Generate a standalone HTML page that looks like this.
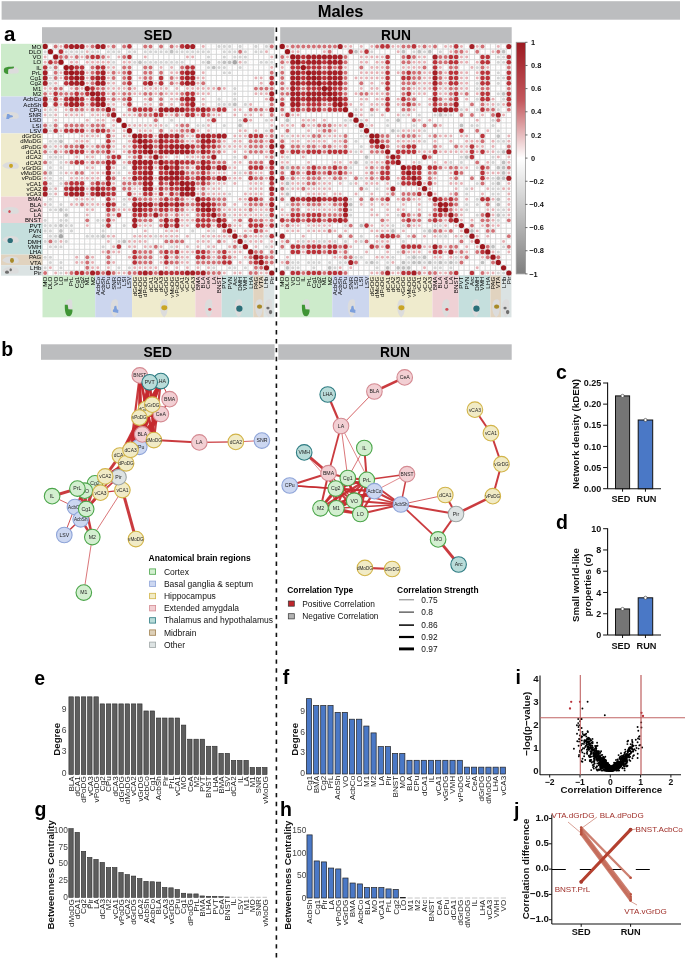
<!DOCTYPE html>
<html><head><meta charset="utf-8"><style>
html,body{margin:0;padding:0;background:#fff;}
svg{display:block;font-family:"Liberation Sans", sans-serif;filter:blur(0.3px);}
</style></head><body>
<svg width="685" height="959" viewBox="0 0 685 959">
<rect width="685" height="959" fill="#fff"/>
<rect x="1.6" y="1.2" width="678.4" height="18.5" fill="#bcbdbf"/>
<text x="340.60" y="17.20" font-size="16.5" font-weight="bold" text-anchor="middle" fill="#000">Males</text>
<text x="4.00" y="40.50" font-size="20.5" font-weight="bold" fill="#000">a</text>
<rect x="42" y="27.2" width="232.4" height="16" fill="#bcbdbf"/>
<rect x="280.2" y="27.2" width="231.5" height="16" fill="#bcbdbf"/>
<text x="158.00" y="39.70" font-size="13.8" font-weight="bold" text-anchor="middle" fill="#000">SED</text>
<text x="396.00" y="39.70" font-size="13.8" font-weight="bold" text-anchor="middle" fill="#000">RUN</text>
<rect x="42.5" y="43.8" width="231.88" height="231.88" fill="#fff"/>
<path d="M42.50 43.80V275.68M42.50 43.80H274.38M47.77 43.80V275.68M42.50 49.07H274.38M53.04 43.80V275.68M42.50 54.34H274.38M58.31 43.80V275.68M42.50 59.61H274.38M63.58 43.80V275.68M42.50 64.88H274.38M68.85 43.80V275.68M42.50 70.15H274.38M74.12 43.80V275.68M42.50 75.42H274.38M79.39 43.80V275.68M42.50 80.69H274.38M84.66 43.80V275.68M42.50 85.96H274.38M89.93 43.80V275.68M42.50 91.23H274.38M95.20 43.80V275.68M42.50 96.50H274.38M100.47 43.80V275.68M42.50 101.77H274.38M105.74 43.80V275.68M42.50 107.04H274.38M111.01 43.80V275.68M42.50 112.31H274.38M116.28 43.80V275.68M42.50 117.58H274.38M121.55 43.80V275.68M42.50 122.85H274.38M126.82 43.80V275.68M42.50 128.12H274.38M132.09 43.80V275.68M42.50 133.39H274.38M137.36 43.80V275.68M42.50 138.66H274.38M142.63 43.80V275.68M42.50 143.93H274.38M147.90 43.80V275.68M42.50 149.20H274.38M153.17 43.80V275.68M42.50 154.47H274.38M158.44 43.80V275.68M42.50 159.74H274.38M163.71 43.80V275.68M42.50 165.01H274.38M168.98 43.80V275.68M42.50 170.28H274.38M174.25 43.80V275.68M42.50 175.55H274.38M179.52 43.80V275.68M42.50 180.82H274.38M184.79 43.80V275.68M42.50 186.09H274.38M190.06 43.80V275.68M42.50 191.36H274.38M195.33 43.80V275.68M42.50 196.63H274.38M200.60 43.80V275.68M42.50 201.90H274.38M205.87 43.80V275.68M42.50 207.17H274.38M211.14 43.80V275.68M42.50 212.44H274.38M216.41 43.80V275.68M42.50 217.71H274.38M221.68 43.80V275.68M42.50 222.98H274.38M226.95 43.80V275.68M42.50 228.25H274.38M232.22 43.80V275.68M42.50 233.52H274.38M237.49 43.80V275.68M42.50 238.79H274.38M242.76 43.80V275.68M42.50 244.06H274.38M248.03 43.80V275.68M42.50 249.33H274.38M253.30 43.80V275.68M42.50 254.60H274.38M258.57 43.80V275.68M42.50 259.87H274.38M263.84 43.80V275.68M42.50 265.14H274.38M269.11 43.80V275.68M42.50 270.41H274.38M274.38 43.80V275.68M42.50 275.68H274.38" stroke="#d4d4d4" stroke-width="0.9" fill="none"/>
<circle cx="45.13" cy="46.43" r="2.63" fill="#9b161c"/>
<circle cx="50.41" cy="46.43" r="0.65" fill="#fbf1f1"/>
<circle cx="55.67" cy="46.43" r="1.95" fill="#d26f74"/>
<circle cx="60.95" cy="46.43" r="1.49" fill="#e8afb3"/>
<circle cx="66.22" cy="46.43" r="2.33" fill="#ba333a"/>
<circle cx="71.48" cy="46.43" r="2.54" fill="#a51f26"/>
<circle cx="76.75" cy="46.43" r="2.54" fill="#a51f26"/>
<circle cx="82.03" cy="46.43" r="2.54" fill="#a51f26"/>
<circle cx="87.29" cy="46.43" r="1.49" fill="#e8afb3"/>
<circle cx="92.56" cy="46.43" r="1.95" fill="#d26f74"/>
<circle cx="97.83" cy="46.43" r="2.54" fill="#a51f26"/>
<circle cx="103.10" cy="46.43" r="2.54" fill="#a51f26"/>
<circle cx="108.38" cy="46.43" r="1.49" fill="#e8afb3"/>
<circle cx="113.64" cy="46.43" r="1.95" fill="#d26f74"/>
<circle cx="118.91" cy="46.43" r="0.65" fill="#fbf1f1"/>
<circle cx="124.18" cy="46.43" r="1.95" fill="#d26f74"/>
<circle cx="129.45" cy="46.43" r="2.33" fill="#ba333a"/>
<circle cx="134.72" cy="46.43" r="0.65" fill="#fbf1f1"/>
<circle cx="140.00" cy="46.43" r="0.65" fill="#fbf1f1"/>
<circle cx="145.26" cy="46.43" r="1.95" fill="#d26f74"/>
<circle cx="150.53" cy="46.43" r="1.95" fill="#d26f74"/>
<circle cx="155.81" cy="46.43" r="0.65" fill="#fbf1f1"/>
<circle cx="161.07" cy="46.43" r="1.95" fill="#d26f74"/>
<circle cx="166.34" cy="46.43" r="0.65" fill="#fbf1f1"/>
<circle cx="171.61" cy="46.43" r="1.95" fill="#d26f74"/>
<circle cx="176.88" cy="46.43" r="1.49" fill="#e8afb3"/>
<circle cx="182.16" cy="46.43" r="2.33" fill="#ba333a"/>
<circle cx="187.42" cy="46.43" r="2.54" fill="#a51f26"/>
<circle cx="192.69" cy="46.43" r="2.54" fill="#a51f26"/>
<circle cx="197.96" cy="46.43" r="0.65" fill="#fbf1f1"/>
<circle cx="203.23" cy="46.43" r="1.49" fill="#e8afb3"/>
<circle cx="208.50" cy="46.43" r="0.65" fill="#fbf1f1"/>
<circle cx="213.77" cy="46.43" r="0.65" fill="#fbf1f1"/>
<circle cx="219.04" cy="46.43" r="1.56" fill="#d2d2d2"/>
<circle cx="224.31" cy="46.43" r="1.56" fill="#d2d2d2"/>
<circle cx="229.58" cy="46.43" r="1.56" fill="#d2d2d2"/>
<circle cx="234.85" cy="46.43" r="0.65" fill="#fbf1f1"/>
<circle cx="240.12" cy="46.43" r="1.56" fill="#d2d2d2"/>
<circle cx="245.39" cy="46.43" r="0.65" fill="#fbf1f1"/>
<circle cx="250.66" cy="46.43" r="0.65" fill="#fbf1f1"/>
<circle cx="255.93" cy="46.43" r="1.56" fill="#d2d2d2"/>
<circle cx="261.20" cy="46.43" r="0.65" fill="#fbf1f1"/>
<circle cx="266.48" cy="46.43" r="1.56" fill="#d2d2d2"/>
<circle cx="271.75" cy="46.43" r="1.95" fill="#d26f74"/>
<circle cx="45.13" cy="51.70" r="1.56" fill="#d2d2d2"/>
<circle cx="50.41" cy="51.70" r="2.63" fill="#9b161c"/>
<circle cx="55.67" cy="51.70" r="0.65" fill="#fbf1f1"/>
<circle cx="60.95" cy="51.70" r="2.33" fill="#ba333a"/>
<circle cx="66.22" cy="51.70" r="1.56" fill="#d2d2d2"/>
<circle cx="71.48" cy="51.70" r="1.56" fill="#d2d2d2"/>
<circle cx="76.75" cy="51.70" r="1.56" fill="#d2d2d2"/>
<circle cx="82.03" cy="51.70" r="1.56" fill="#d2d2d2"/>
<circle cx="87.29" cy="51.70" r="1.49" fill="#e8afb3"/>
<circle cx="92.56" cy="51.70" r="1.56" fill="#d2d2d2"/>
<circle cx="97.83" cy="51.70" r="1.56" fill="#d2d2d2"/>
<circle cx="103.10" cy="51.70" r="0.65" fill="#fbf1f1"/>
<circle cx="108.38" cy="51.70" r="1.56" fill="#d2d2d2"/>
<circle cx="113.64" cy="51.70" r="1.56" fill="#d2d2d2"/>
<circle cx="118.91" cy="51.70" r="1.56" fill="#d2d2d2"/>
<circle cx="124.18" cy="51.70" r="0.65" fill="#fbf1f1"/>
<circle cx="129.45" cy="51.70" r="1.56" fill="#d2d2d2"/>
<circle cx="134.72" cy="51.70" r="1.56" fill="#d2d2d2"/>
<circle cx="140.00" cy="51.70" r="0.65" fill="#fbf1f1"/>
<circle cx="145.26" cy="51.70" r="1.56" fill="#d2d2d2"/>
<circle cx="150.53" cy="51.70" r="1.56" fill="#d2d2d2"/>
<circle cx="155.81" cy="51.70" r="1.56" fill="#d2d2d2"/>
<circle cx="161.07" cy="51.70" r="1.56" fill="#d2d2d2"/>
<circle cx="166.34" cy="51.70" r="1.56" fill="#d2d2d2"/>
<circle cx="171.61" cy="51.70" r="1.86" fill="#bfbfbf"/>
<circle cx="176.88" cy="51.70" r="1.56" fill="#d2d2d2"/>
<circle cx="182.16" cy="51.70" r="1.56" fill="#d2d2d2"/>
<circle cx="187.42" cy="51.70" r="1.56" fill="#d2d2d2"/>
<circle cx="192.69" cy="51.70" r="1.56" fill="#d2d2d2"/>
<circle cx="197.96" cy="51.70" r="1.56" fill="#d2d2d2"/>
<circle cx="203.23" cy="51.70" r="1.56" fill="#d2d2d2"/>
<circle cx="208.50" cy="51.70" r="1.56" fill="#d2d2d2"/>
<circle cx="213.77" cy="51.70" r="0.65" fill="#fbf1f1"/>
<circle cx="219.04" cy="51.70" r="0.65" fill="#fbf1f1"/>
<circle cx="224.31" cy="51.70" r="1.56" fill="#d2d2d2"/>
<circle cx="229.58" cy="51.70" r="1.56" fill="#d2d2d2"/>
<circle cx="234.85" cy="51.70" r="1.56" fill="#d2d2d2"/>
<circle cx="240.12" cy="51.70" r="1.95" fill="#d26f74"/>
<circle cx="245.39" cy="51.70" r="1.56" fill="#d2d2d2"/>
<circle cx="250.66" cy="51.70" r="0.65" fill="#fbf1f1"/>
<circle cx="255.93" cy="51.70" r="1.56" fill="#d2d2d2"/>
<circle cx="261.20" cy="51.70" r="1.56" fill="#d2d2d2"/>
<circle cx="266.48" cy="51.70" r="1.49" fill="#e8afb3"/>
<circle cx="271.75" cy="51.70" r="0.65" fill="#fbf1f1"/>
<circle cx="45.13" cy="56.97" r="1.49" fill="#e8afb3"/>
<circle cx="50.41" cy="56.97" r="0.65" fill="#fbf1f1"/>
<circle cx="55.67" cy="56.97" r="2.63" fill="#9b161c"/>
<circle cx="60.95" cy="56.97" r="1.95" fill="#d26f74"/>
<circle cx="66.22" cy="56.97" r="1.95" fill="#d26f74"/>
<circle cx="71.48" cy="56.97" r="1.49" fill="#e8afb3"/>
<circle cx="76.75" cy="56.97" r="1.95" fill="#d26f74"/>
<circle cx="82.03" cy="56.97" r="1.49" fill="#e8afb3"/>
<circle cx="87.29" cy="56.97" r="1.95" fill="#d26f74"/>
<circle cx="92.56" cy="56.97" r="2.33" fill="#ba333a"/>
<circle cx="97.83" cy="56.97" r="2.33" fill="#ba333a"/>
<circle cx="103.10" cy="56.97" r="1.95" fill="#d26f74"/>
<circle cx="108.38" cy="56.97" r="1.49" fill="#e8afb3"/>
<circle cx="113.64" cy="56.97" r="0.65" fill="#fbf1f1"/>
<circle cx="118.91" cy="56.97" r="1.49" fill="#e8afb3"/>
<circle cx="124.18" cy="56.97" r="1.95" fill="#d26f74"/>
<circle cx="129.45" cy="56.97" r="2.33" fill="#ba333a"/>
<circle cx="134.72" cy="56.97" r="0.65" fill="#fbf1f1"/>
<circle cx="140.00" cy="56.97" r="0.65" fill="#fbf1f1"/>
<circle cx="145.26" cy="56.97" r="1.49" fill="#e8afb3"/>
<circle cx="150.53" cy="56.97" r="0.65" fill="#fbf1f1"/>
<circle cx="155.81" cy="56.97" r="0.65" fill="#fbf1f1"/>
<circle cx="161.07" cy="56.97" r="0.65" fill="#fbf1f1"/>
<circle cx="166.34" cy="56.97" r="0.65" fill="#fbf1f1"/>
<circle cx="171.61" cy="56.97" r="0.65" fill="#fbf1f1"/>
<circle cx="176.88" cy="56.97" r="0.65" fill="#fbf1f1"/>
<circle cx="182.16" cy="56.97" r="0.65" fill="#fbf1f1"/>
<circle cx="187.42" cy="56.97" r="1.49" fill="#e8afb3"/>
<circle cx="192.69" cy="56.97" r="1.49" fill="#e8afb3"/>
<circle cx="197.96" cy="56.97" r="0.65" fill="#fbf1f1"/>
<circle cx="203.23" cy="56.97" r="0.65" fill="#fbf1f1"/>
<circle cx="208.50" cy="56.97" r="1.56" fill="#d2d2d2"/>
<circle cx="213.77" cy="56.97" r="0.65" fill="#fbf1f1"/>
<circle cx="219.04" cy="56.97" r="0.65" fill="#fbf1f1"/>
<circle cx="224.31" cy="56.97" r="1.56" fill="#d2d2d2"/>
<circle cx="229.58" cy="56.97" r="0.65" fill="#fbf1f1"/>
<circle cx="234.85" cy="56.97" r="1.56" fill="#d2d2d2"/>
<circle cx="240.12" cy="56.97" r="1.56" fill="#d2d2d2"/>
<circle cx="245.39" cy="56.97" r="1.56" fill="#d2d2d2"/>
<circle cx="250.66" cy="56.97" r="0.65" fill="#fbf1f1"/>
<circle cx="255.93" cy="56.97" r="0.65" fill="#fbf1f1"/>
<circle cx="261.20" cy="56.97" r="0.65" fill="#fbf1f1"/>
<circle cx="266.48" cy="56.97" r="0.65" fill="#fbf1f1"/>
<circle cx="271.75" cy="56.97" r="1.49" fill="#e8afb3"/>
<circle cx="45.13" cy="62.24" r="1.49" fill="#e8afb3"/>
<circle cx="50.41" cy="62.24" r="2.33" fill="#ba333a"/>
<circle cx="55.67" cy="62.24" r="1.95" fill="#d26f74"/>
<circle cx="60.95" cy="62.24" r="2.63" fill="#9b161c"/>
<circle cx="66.22" cy="62.24" r="0.65" fill="#fbf1f1"/>
<circle cx="71.48" cy="62.24" r="1.49" fill="#e8afb3"/>
<circle cx="76.75" cy="62.24" r="1.49" fill="#e8afb3"/>
<circle cx="82.03" cy="62.24" r="0.65" fill="#fbf1f1"/>
<circle cx="87.29" cy="62.24" r="1.49" fill="#e8afb3"/>
<circle cx="92.56" cy="62.24" r="1.49" fill="#e8afb3"/>
<circle cx="97.83" cy="62.24" r="1.49" fill="#e8afb3"/>
<circle cx="103.10" cy="62.24" r="1.49" fill="#e8afb3"/>
<circle cx="108.38" cy="62.24" r="1.49" fill="#e8afb3"/>
<circle cx="113.64" cy="62.24" r="1.56" fill="#d2d2d2"/>
<circle cx="118.91" cy="62.24" r="0.65" fill="#fbf1f1"/>
<circle cx="124.18" cy="62.24" r="1.49" fill="#e8afb3"/>
<circle cx="129.45" cy="62.24" r="1.49" fill="#e8afb3"/>
<circle cx="134.72" cy="62.24" r="1.56" fill="#d2d2d2"/>
<circle cx="140.00" cy="62.24" r="1.86" fill="#bfbfbf"/>
<circle cx="145.26" cy="62.24" r="1.56" fill="#d2d2d2"/>
<circle cx="150.53" cy="62.24" r="1.56" fill="#d2d2d2"/>
<circle cx="155.81" cy="62.24" r="1.56" fill="#d2d2d2"/>
<circle cx="161.07" cy="62.24" r="1.56" fill="#d2d2d2"/>
<circle cx="166.34" cy="62.24" r="1.56" fill="#d2d2d2"/>
<circle cx="171.61" cy="62.24" r="1.56" fill="#d2d2d2"/>
<circle cx="176.88" cy="62.24" r="1.56" fill="#d2d2d2"/>
<circle cx="182.16" cy="62.24" r="1.56" fill="#d2d2d2"/>
<circle cx="187.42" cy="62.24" r="0.65" fill="#fbf1f1"/>
<circle cx="192.69" cy="62.24" r="0.65" fill="#fbf1f1"/>
<circle cx="197.96" cy="62.24" r="0.65" fill="#fbf1f1"/>
<circle cx="203.23" cy="62.24" r="1.56" fill="#d2d2d2"/>
<circle cx="208.50" cy="62.24" r="1.86" fill="#bfbfbf"/>
<circle cx="213.77" cy="62.24" r="0.65" fill="#fbf1f1"/>
<circle cx="219.04" cy="62.24" r="1.56" fill="#d2d2d2"/>
<circle cx="224.31" cy="62.24" r="1.86" fill="#bfbfbf"/>
<circle cx="229.58" cy="62.24" r="1.86" fill="#bfbfbf"/>
<circle cx="234.85" cy="62.24" r="2.20" fill="#a6a6a6"/>
<circle cx="240.12" cy="62.24" r="1.49" fill="#e8afb3"/>
<circle cx="245.39" cy="62.24" r="1.56" fill="#d2d2d2"/>
<circle cx="250.66" cy="62.24" r="0.65" fill="#fbf1f1"/>
<circle cx="255.93" cy="62.24" r="0.65" fill="#fbf1f1"/>
<circle cx="261.20" cy="62.24" r="1.56" fill="#d2d2d2"/>
<circle cx="266.48" cy="62.24" r="1.56" fill="#d2d2d2"/>
<circle cx="271.75" cy="62.24" r="1.56" fill="#d2d2d2"/>
<circle cx="45.13" cy="67.51" r="2.33" fill="#ba333a"/>
<circle cx="50.41" cy="67.51" r="1.56" fill="#d2d2d2"/>
<circle cx="55.67" cy="67.51" r="1.95" fill="#d26f74"/>
<circle cx="60.95" cy="67.51" r="0.65" fill="#fbf1f1"/>
<circle cx="66.22" cy="67.51" r="2.63" fill="#9b161c"/>
<circle cx="71.48" cy="67.51" r="2.54" fill="#a51f26"/>
<circle cx="76.75" cy="67.51" r="2.33" fill="#ba333a"/>
<circle cx="82.03" cy="67.51" r="2.33" fill="#ba333a"/>
<circle cx="87.29" cy="67.51" r="0.65" fill="#fbf1f1"/>
<circle cx="92.56" cy="67.51" r="1.95" fill="#d26f74"/>
<circle cx="97.83" cy="67.51" r="2.33" fill="#ba333a"/>
<circle cx="103.10" cy="67.51" r="2.33" fill="#ba333a"/>
<circle cx="108.38" cy="67.51" r="1.49" fill="#e8afb3"/>
<circle cx="113.64" cy="67.51" r="1.49" fill="#e8afb3"/>
<circle cx="118.91" cy="67.51" r="0.65" fill="#fbf1f1"/>
<circle cx="124.18" cy="67.51" r="1.95" fill="#d26f74"/>
<circle cx="129.45" cy="67.51" r="1.95" fill="#d26f74"/>
<circle cx="134.72" cy="67.51" r="0.65" fill="#fbf1f1"/>
<circle cx="140.00" cy="67.51" r="0.65" fill="#fbf1f1"/>
<circle cx="145.26" cy="67.51" r="1.95" fill="#d26f74"/>
<circle cx="150.53" cy="67.51" r="1.95" fill="#d26f74"/>
<circle cx="155.81" cy="67.51" r="0.65" fill="#fbf1f1"/>
<circle cx="161.07" cy="67.51" r="1.49" fill="#e8afb3"/>
<circle cx="166.34" cy="67.51" r="0.65" fill="#fbf1f1"/>
<circle cx="171.61" cy="67.51" r="1.49" fill="#e8afb3"/>
<circle cx="176.88" cy="67.51" r="0.65" fill="#fbf1f1"/>
<circle cx="182.16" cy="67.51" r="1.95" fill="#d26f74"/>
<circle cx="187.42" cy="67.51" r="2.33" fill="#ba333a"/>
<circle cx="192.69" cy="67.51" r="2.33" fill="#ba333a"/>
<circle cx="197.96" cy="67.51" r="0.65" fill="#fbf1f1"/>
<circle cx="203.23" cy="67.51" r="0.65" fill="#fbf1f1"/>
<circle cx="208.50" cy="67.51" r="1.56" fill="#d2d2d2"/>
<circle cx="213.77" cy="67.51" r="1.86" fill="#bfbfbf"/>
<circle cx="219.04" cy="67.51" r="1.56" fill="#d2d2d2"/>
<circle cx="224.31" cy="67.51" r="1.56" fill="#d2d2d2"/>
<circle cx="229.58" cy="67.51" r="0.65" fill="#fbf1f1"/>
<circle cx="234.85" cy="67.51" r="0.65" fill="#fbf1f1"/>
<circle cx="240.12" cy="67.51" r="1.56" fill="#d2d2d2"/>
<circle cx="245.39" cy="67.51" r="0.65" fill="#fbf1f1"/>
<circle cx="250.66" cy="67.51" r="0.65" fill="#fbf1f1"/>
<circle cx="255.93" cy="67.51" r="0.65" fill="#fbf1f1"/>
<circle cx="261.20" cy="67.51" r="0.65" fill="#fbf1f1"/>
<circle cx="266.48" cy="67.51" r="0.65" fill="#fbf1f1"/>
<circle cx="271.75" cy="67.51" r="1.49" fill="#e8afb3"/>
<circle cx="45.13" cy="72.78" r="2.54" fill="#a51f26"/>
<circle cx="50.41" cy="72.78" r="0.65" fill="#fbf1f1"/>
<circle cx="55.67" cy="72.78" r="1.95" fill="#d26f74"/>
<circle cx="60.95" cy="72.78" r="1.49" fill="#e8afb3"/>
<circle cx="66.22" cy="72.78" r="2.54" fill="#a51f26"/>
<circle cx="71.48" cy="72.78" r="2.63" fill="#9b161c"/>
<circle cx="76.75" cy="72.78" r="2.54" fill="#a51f26"/>
<circle cx="82.03" cy="72.78" r="2.54" fill="#a51f26"/>
<circle cx="87.29" cy="72.78" r="1.49" fill="#e8afb3"/>
<circle cx="92.56" cy="72.78" r="1.95" fill="#d26f74"/>
<circle cx="97.83" cy="72.78" r="2.33" fill="#ba333a"/>
<circle cx="103.10" cy="72.78" r="2.54" fill="#a51f26"/>
<circle cx="108.38" cy="72.78" r="1.49" fill="#e8afb3"/>
<circle cx="113.64" cy="72.78" r="1.95" fill="#d26f74"/>
<circle cx="118.91" cy="72.78" r="1.49" fill="#e8afb3"/>
<circle cx="124.18" cy="72.78" r="1.95" fill="#d26f74"/>
<circle cx="129.45" cy="72.78" r="2.33" fill="#ba333a"/>
<circle cx="134.72" cy="72.78" r="0.65" fill="#fbf1f1"/>
<circle cx="140.00" cy="72.78" r="0.65" fill="#fbf1f1"/>
<circle cx="145.26" cy="72.78" r="1.95" fill="#d26f74"/>
<circle cx="150.53" cy="72.78" r="1.95" fill="#d26f74"/>
<circle cx="155.81" cy="72.78" r="0.65" fill="#fbf1f1"/>
<circle cx="161.07" cy="72.78" r="1.95" fill="#d26f74"/>
<circle cx="166.34" cy="72.78" r="0.65" fill="#fbf1f1"/>
<circle cx="171.61" cy="72.78" r="1.49" fill="#e8afb3"/>
<circle cx="176.88" cy="72.78" r="1.49" fill="#e8afb3"/>
<circle cx="182.16" cy="72.78" r="2.33" fill="#ba333a"/>
<circle cx="187.42" cy="72.78" r="2.54" fill="#a51f26"/>
<circle cx="192.69" cy="72.78" r="2.54" fill="#a51f26"/>
<circle cx="197.96" cy="72.78" r="0.65" fill="#fbf1f1"/>
<circle cx="203.23" cy="72.78" r="1.49" fill="#e8afb3"/>
<circle cx="208.50" cy="72.78" r="0.65" fill="#fbf1f1"/>
<circle cx="213.77" cy="72.78" r="0.65" fill="#fbf1f1"/>
<circle cx="219.04" cy="72.78" r="0.65" fill="#fbf1f1"/>
<circle cx="224.31" cy="72.78" r="1.56" fill="#d2d2d2"/>
<circle cx="229.58" cy="72.78" r="1.56" fill="#d2d2d2"/>
<circle cx="234.85" cy="72.78" r="0.65" fill="#fbf1f1"/>
<circle cx="240.12" cy="72.78" r="0.65" fill="#fbf1f1"/>
<circle cx="245.39" cy="72.78" r="0.65" fill="#fbf1f1"/>
<circle cx="250.66" cy="72.78" r="0.65" fill="#fbf1f1"/>
<circle cx="255.93" cy="72.78" r="0.65" fill="#fbf1f1"/>
<circle cx="261.20" cy="72.78" r="0.65" fill="#fbf1f1"/>
<circle cx="266.48" cy="72.78" r="0.65" fill="#fbf1f1"/>
<circle cx="271.75" cy="72.78" r="1.95" fill="#d26f74"/>
<circle cx="45.13" cy="78.05" r="2.54" fill="#a51f26"/>
<circle cx="50.41" cy="78.05" r="1.56" fill="#d2d2d2"/>
<circle cx="55.67" cy="78.05" r="1.95" fill="#d26f74"/>
<circle cx="60.95" cy="78.05" r="1.49" fill="#e8afb3"/>
<circle cx="66.22" cy="78.05" r="2.33" fill="#ba333a"/>
<circle cx="71.48" cy="78.05" r="2.54" fill="#a51f26"/>
<circle cx="76.75" cy="78.05" r="2.63" fill="#9b161c"/>
<circle cx="82.03" cy="78.05" r="2.54" fill="#a51f26"/>
<circle cx="87.29" cy="78.05" r="1.49" fill="#e8afb3"/>
<circle cx="92.56" cy="78.05" r="2.33" fill="#ba333a"/>
<circle cx="97.83" cy="78.05" r="2.54" fill="#a51f26"/>
<circle cx="103.10" cy="78.05" r="2.54" fill="#a51f26"/>
<circle cx="108.38" cy="78.05" r="1.49" fill="#e8afb3"/>
<circle cx="113.64" cy="78.05" r="1.95" fill="#d26f74"/>
<circle cx="118.91" cy="78.05" r="0.65" fill="#fbf1f1"/>
<circle cx="124.18" cy="78.05" r="1.95" fill="#d26f74"/>
<circle cx="129.45" cy="78.05" r="2.33" fill="#ba333a"/>
<circle cx="134.72" cy="78.05" r="0.65" fill="#fbf1f1"/>
<circle cx="140.00" cy="78.05" r="1.49" fill="#e8afb3"/>
<circle cx="145.26" cy="78.05" r="1.95" fill="#d26f74"/>
<circle cx="150.53" cy="78.05" r="1.95" fill="#d26f74"/>
<circle cx="155.81" cy="78.05" r="0.65" fill="#fbf1f1"/>
<circle cx="161.07" cy="78.05" r="2.33" fill="#ba333a"/>
<circle cx="166.34" cy="78.05" r="0.65" fill="#fbf1f1"/>
<circle cx="171.61" cy="78.05" r="1.95" fill="#d26f74"/>
<circle cx="176.88" cy="78.05" r="1.49" fill="#e8afb3"/>
<circle cx="182.16" cy="78.05" r="2.33" fill="#ba333a"/>
<circle cx="187.42" cy="78.05" r="2.54" fill="#a51f26"/>
<circle cx="192.69" cy="78.05" r="2.54" fill="#a51f26"/>
<circle cx="197.96" cy="78.05" r="1.49" fill="#e8afb3"/>
<circle cx="203.23" cy="78.05" r="1.49" fill="#e8afb3"/>
<circle cx="208.50" cy="78.05" r="0.65" fill="#fbf1f1"/>
<circle cx="213.77" cy="78.05" r="0.65" fill="#fbf1f1"/>
<circle cx="219.04" cy="78.05" r="0.65" fill="#fbf1f1"/>
<circle cx="224.31" cy="78.05" r="0.65" fill="#fbf1f1"/>
<circle cx="229.58" cy="78.05" r="0.65" fill="#fbf1f1"/>
<circle cx="234.85" cy="78.05" r="0.65" fill="#fbf1f1"/>
<circle cx="240.12" cy="78.05" r="0.65" fill="#fbf1f1"/>
<circle cx="245.39" cy="78.05" r="0.65" fill="#fbf1f1"/>
<circle cx="250.66" cy="78.05" r="0.65" fill="#fbf1f1"/>
<circle cx="255.93" cy="78.05" r="1.49" fill="#e8afb3"/>
<circle cx="261.20" cy="78.05" r="1.49" fill="#e8afb3"/>
<circle cx="266.48" cy="78.05" r="0.65" fill="#fbf1f1"/>
<circle cx="271.75" cy="78.05" r="2.33" fill="#ba333a"/>
<circle cx="45.13" cy="83.32" r="2.54" fill="#a51f26"/>
<circle cx="50.41" cy="83.32" r="1.56" fill="#d2d2d2"/>
<circle cx="55.67" cy="83.32" r="1.49" fill="#e8afb3"/>
<circle cx="60.95" cy="83.32" r="0.65" fill="#fbf1f1"/>
<circle cx="66.22" cy="83.32" r="2.33" fill="#ba333a"/>
<circle cx="71.48" cy="83.32" r="2.54" fill="#a51f26"/>
<circle cx="76.75" cy="83.32" r="2.54" fill="#a51f26"/>
<circle cx="82.03" cy="83.32" r="2.63" fill="#9b161c"/>
<circle cx="87.29" cy="83.32" r="1.49" fill="#e8afb3"/>
<circle cx="92.56" cy="83.32" r="1.95" fill="#d26f74"/>
<circle cx="97.83" cy="83.32" r="2.54" fill="#a51f26"/>
<circle cx="103.10" cy="83.32" r="2.54" fill="#a51f26"/>
<circle cx="108.38" cy="83.32" r="1.49" fill="#e8afb3"/>
<circle cx="113.64" cy="83.32" r="1.49" fill="#e8afb3"/>
<circle cx="118.91" cy="83.32" r="0.65" fill="#fbf1f1"/>
<circle cx="124.18" cy="83.32" r="1.95" fill="#d26f74"/>
<circle cx="129.45" cy="83.32" r="2.33" fill="#ba333a"/>
<circle cx="134.72" cy="83.32" r="0.65" fill="#fbf1f1"/>
<circle cx="140.00" cy="83.32" r="0.65" fill="#fbf1f1"/>
<circle cx="145.26" cy="83.32" r="2.33" fill="#ba333a"/>
<circle cx="150.53" cy="83.32" r="2.54" fill="#a51f26"/>
<circle cx="155.81" cy="83.32" r="1.49" fill="#e8afb3"/>
<circle cx="161.07" cy="83.32" r="2.33" fill="#ba333a"/>
<circle cx="166.34" cy="83.32" r="0.65" fill="#fbf1f1"/>
<circle cx="171.61" cy="83.32" r="1.95" fill="#d26f74"/>
<circle cx="176.88" cy="83.32" r="1.49" fill="#e8afb3"/>
<circle cx="182.16" cy="83.32" r="2.33" fill="#ba333a"/>
<circle cx="187.42" cy="83.32" r="2.54" fill="#a51f26"/>
<circle cx="192.69" cy="83.32" r="2.54" fill="#a51f26"/>
<circle cx="197.96" cy="83.32" r="1.49" fill="#e8afb3"/>
<circle cx="203.23" cy="83.32" r="1.95" fill="#d26f74"/>
<circle cx="208.50" cy="83.32" r="0.65" fill="#fbf1f1"/>
<circle cx="213.77" cy="83.32" r="0.65" fill="#fbf1f1"/>
<circle cx="219.04" cy="83.32" r="0.65" fill="#fbf1f1"/>
<circle cx="224.31" cy="83.32" r="0.65" fill="#fbf1f1"/>
<circle cx="229.58" cy="83.32" r="0.65" fill="#fbf1f1"/>
<circle cx="234.85" cy="83.32" r="0.65" fill="#fbf1f1"/>
<circle cx="240.12" cy="83.32" r="0.65" fill="#fbf1f1"/>
<circle cx="245.39" cy="83.32" r="0.65" fill="#fbf1f1"/>
<circle cx="250.66" cy="83.32" r="0.65" fill="#fbf1f1"/>
<circle cx="255.93" cy="83.32" r="0.65" fill="#fbf1f1"/>
<circle cx="261.20" cy="83.32" r="1.49" fill="#e8afb3"/>
<circle cx="266.48" cy="83.32" r="0.65" fill="#fbf1f1"/>
<circle cx="271.75" cy="83.32" r="2.33" fill="#ba333a"/>
<circle cx="45.13" cy="88.59" r="1.49" fill="#e8afb3"/>
<circle cx="50.41" cy="88.59" r="1.49" fill="#e8afb3"/>
<circle cx="55.67" cy="88.59" r="1.95" fill="#d26f74"/>
<circle cx="60.95" cy="88.59" r="1.95" fill="#d26f74"/>
<circle cx="66.22" cy="88.59" r="0.65" fill="#fbf1f1"/>
<circle cx="71.48" cy="88.59" r="1.49" fill="#e8afb3"/>
<circle cx="76.75" cy="88.59" r="1.95" fill="#d26f74"/>
<circle cx="82.03" cy="88.59" r="1.49" fill="#e8afb3"/>
<circle cx="87.29" cy="88.59" r="2.63" fill="#9b161c"/>
<circle cx="92.56" cy="88.59" r="2.33" fill="#ba333a"/>
<circle cx="97.83" cy="88.59" r="1.95" fill="#d26f74"/>
<circle cx="103.10" cy="88.59" r="1.95" fill="#d26f74"/>
<circle cx="108.38" cy="88.59" r="1.49" fill="#e8afb3"/>
<circle cx="113.64" cy="88.59" r="1.49" fill="#e8afb3"/>
<circle cx="118.91" cy="88.59" r="1.49" fill="#e8afb3"/>
<circle cx="124.18" cy="88.59" r="1.49" fill="#e8afb3"/>
<circle cx="129.45" cy="88.59" r="1.95" fill="#d26f74"/>
<circle cx="134.72" cy="88.59" r="1.49" fill="#e8afb3"/>
<circle cx="140.00" cy="88.59" r="0.65" fill="#fbf1f1"/>
<circle cx="145.26" cy="88.59" r="1.49" fill="#e8afb3"/>
<circle cx="150.53" cy="88.59" r="1.49" fill="#e8afb3"/>
<circle cx="155.81" cy="88.59" r="1.49" fill="#e8afb3"/>
<circle cx="161.07" cy="88.59" r="1.49" fill="#e8afb3"/>
<circle cx="166.34" cy="88.59" r="1.49" fill="#e8afb3"/>
<circle cx="171.61" cy="88.59" r="0.65" fill="#fbf1f1"/>
<circle cx="176.88" cy="88.59" r="1.49" fill="#e8afb3"/>
<circle cx="182.16" cy="88.59" r="0.65" fill="#fbf1f1"/>
<circle cx="187.42" cy="88.59" r="1.49" fill="#e8afb3"/>
<circle cx="192.69" cy="88.59" r="1.49" fill="#e8afb3"/>
<circle cx="197.96" cy="88.59" r="1.49" fill="#e8afb3"/>
<circle cx="203.23" cy="88.59" r="1.49" fill="#e8afb3"/>
<circle cx="208.50" cy="88.59" r="1.49" fill="#e8afb3"/>
<circle cx="213.77" cy="88.59" r="1.49" fill="#e8afb3"/>
<circle cx="219.04" cy="88.59" r="1.95" fill="#d26f74"/>
<circle cx="224.31" cy="88.59" r="1.49" fill="#e8afb3"/>
<circle cx="229.58" cy="88.59" r="0.65" fill="#fbf1f1"/>
<circle cx="234.85" cy="88.59" r="1.56" fill="#d2d2d2"/>
<circle cx="240.12" cy="88.59" r="0.65" fill="#fbf1f1"/>
<circle cx="245.39" cy="88.59" r="0.65" fill="#fbf1f1"/>
<circle cx="250.66" cy="88.59" r="0.65" fill="#fbf1f1"/>
<circle cx="255.93" cy="88.59" r="1.95" fill="#d26f74"/>
<circle cx="261.20" cy="88.59" r="1.95" fill="#d26f74"/>
<circle cx="266.48" cy="88.59" r="1.95" fill="#d26f74"/>
<circle cx="271.75" cy="88.59" r="1.95" fill="#d26f74"/>
<circle cx="45.13" cy="93.86" r="1.95" fill="#d26f74"/>
<circle cx="50.41" cy="93.86" r="1.49" fill="#e8afb3"/>
<circle cx="55.67" cy="93.86" r="2.33" fill="#ba333a"/>
<circle cx="60.95" cy="93.86" r="1.95" fill="#d26f74"/>
<circle cx="66.22" cy="93.86" r="1.95" fill="#d26f74"/>
<circle cx="71.48" cy="93.86" r="1.95" fill="#d26f74"/>
<circle cx="76.75" cy="93.86" r="2.33" fill="#ba333a"/>
<circle cx="82.03" cy="93.86" r="1.95" fill="#d26f74"/>
<circle cx="87.29" cy="93.86" r="2.33" fill="#ba333a"/>
<circle cx="92.56" cy="93.86" r="2.63" fill="#9b161c"/>
<circle cx="97.83" cy="93.86" r="2.54" fill="#a51f26"/>
<circle cx="103.10" cy="93.86" r="2.33" fill="#ba333a"/>
<circle cx="108.38" cy="93.86" r="1.49" fill="#e8afb3"/>
<circle cx="113.64" cy="93.86" r="1.95" fill="#d26f74"/>
<circle cx="118.91" cy="93.86" r="1.49" fill="#e8afb3"/>
<circle cx="124.18" cy="93.86" r="1.95" fill="#d26f74"/>
<circle cx="129.45" cy="93.86" r="1.95" fill="#d26f74"/>
<circle cx="134.72" cy="93.86" r="1.49" fill="#e8afb3"/>
<circle cx="140.00" cy="93.86" r="1.49" fill="#e8afb3"/>
<circle cx="145.26" cy="93.86" r="1.95" fill="#d26f74"/>
<circle cx="150.53" cy="93.86" r="1.95" fill="#d26f74"/>
<circle cx="155.81" cy="93.86" r="1.49" fill="#e8afb3"/>
<circle cx="161.07" cy="93.86" r="1.95" fill="#d26f74"/>
<circle cx="166.34" cy="93.86" r="1.49" fill="#e8afb3"/>
<circle cx="171.61" cy="93.86" r="1.49" fill="#e8afb3"/>
<circle cx="176.88" cy="93.86" r="1.49" fill="#e8afb3"/>
<circle cx="182.16" cy="93.86" r="1.95" fill="#d26f74"/>
<circle cx="187.42" cy="93.86" r="2.33" fill="#ba333a"/>
<circle cx="192.69" cy="93.86" r="2.33" fill="#ba333a"/>
<circle cx="197.96" cy="93.86" r="1.49" fill="#e8afb3"/>
<circle cx="203.23" cy="93.86" r="1.49" fill="#e8afb3"/>
<circle cx="208.50" cy="93.86" r="1.49" fill="#e8afb3"/>
<circle cx="213.77" cy="93.86" r="0.65" fill="#fbf1f1"/>
<circle cx="219.04" cy="93.86" r="0.65" fill="#fbf1f1"/>
<circle cx="224.31" cy="93.86" r="0.65" fill="#fbf1f1"/>
<circle cx="229.58" cy="93.86" r="0.65" fill="#fbf1f1"/>
<circle cx="234.85" cy="93.86" r="1.56" fill="#d2d2d2"/>
<circle cx="240.12" cy="93.86" r="0.65" fill="#fbf1f1"/>
<circle cx="245.39" cy="93.86" r="0.65" fill="#fbf1f1"/>
<circle cx="250.66" cy="93.86" r="0.65" fill="#fbf1f1"/>
<circle cx="255.93" cy="93.86" r="1.49" fill="#e8afb3"/>
<circle cx="261.20" cy="93.86" r="1.49" fill="#e8afb3"/>
<circle cx="266.48" cy="93.86" r="1.49" fill="#e8afb3"/>
<circle cx="271.75" cy="93.86" r="2.54" fill="#a51f26"/>
<circle cx="45.13" cy="99.13" r="2.54" fill="#a51f26"/>
<circle cx="50.41" cy="99.13" r="1.56" fill="#d2d2d2"/>
<circle cx="55.67" cy="99.13" r="2.33" fill="#ba333a"/>
<circle cx="60.95" cy="99.13" r="1.49" fill="#e8afb3"/>
<circle cx="66.22" cy="99.13" r="2.33" fill="#ba333a"/>
<circle cx="71.48" cy="99.13" r="2.54" fill="#a51f26"/>
<circle cx="76.75" cy="99.13" r="2.54" fill="#a51f26"/>
<circle cx="82.03" cy="99.13" r="2.33" fill="#ba333a"/>
<circle cx="87.29" cy="99.13" r="1.49" fill="#e8afb3"/>
<circle cx="92.56" cy="99.13" r="2.33" fill="#ba333a"/>
<circle cx="97.83" cy="99.13" r="2.63" fill="#9b161c"/>
<circle cx="103.10" cy="99.13" r="2.54" fill="#a51f26"/>
<circle cx="108.38" cy="99.13" r="1.49" fill="#e8afb3"/>
<circle cx="113.64" cy="99.13" r="1.95" fill="#d26f74"/>
<circle cx="118.91" cy="99.13" r="1.49" fill="#e8afb3"/>
<circle cx="124.18" cy="99.13" r="1.95" fill="#d26f74"/>
<circle cx="129.45" cy="99.13" r="2.33" fill="#ba333a"/>
<circle cx="134.72" cy="99.13" r="0.65" fill="#fbf1f1"/>
<circle cx="140.00" cy="99.13" r="0.65" fill="#fbf1f1"/>
<circle cx="145.26" cy="99.13" r="1.49" fill="#e8afb3"/>
<circle cx="150.53" cy="99.13" r="1.95" fill="#d26f74"/>
<circle cx="155.81" cy="99.13" r="0.65" fill="#fbf1f1"/>
<circle cx="161.07" cy="99.13" r="1.95" fill="#d26f74"/>
<circle cx="166.34" cy="99.13" r="0.65" fill="#fbf1f1"/>
<circle cx="171.61" cy="99.13" r="1.49" fill="#e8afb3"/>
<circle cx="176.88" cy="99.13" r="1.49" fill="#e8afb3"/>
<circle cx="182.16" cy="99.13" r="2.33" fill="#ba333a"/>
<circle cx="187.42" cy="99.13" r="2.54" fill="#a51f26"/>
<circle cx="192.69" cy="99.13" r="2.54" fill="#a51f26"/>
<circle cx="197.96" cy="99.13" r="0.65" fill="#fbf1f1"/>
<circle cx="203.23" cy="99.13" r="1.49" fill="#e8afb3"/>
<circle cx="208.50" cy="99.13" r="0.65" fill="#fbf1f1"/>
<circle cx="213.77" cy="99.13" r="0.65" fill="#fbf1f1"/>
<circle cx="219.04" cy="99.13" r="1.56" fill="#d2d2d2"/>
<circle cx="224.31" cy="99.13" r="0.65" fill="#fbf1f1"/>
<circle cx="229.58" cy="99.13" r="0.65" fill="#fbf1f1"/>
<circle cx="234.85" cy="99.13" r="1.56" fill="#d2d2d2"/>
<circle cx="240.12" cy="99.13" r="0.65" fill="#fbf1f1"/>
<circle cx="245.39" cy="99.13" r="0.65" fill="#fbf1f1"/>
<circle cx="250.66" cy="99.13" r="0.65" fill="#fbf1f1"/>
<circle cx="255.93" cy="99.13" r="0.65" fill="#fbf1f1"/>
<circle cx="261.20" cy="99.13" r="0.65" fill="#fbf1f1"/>
<circle cx="266.48" cy="99.13" r="1.49" fill="#e8afb3"/>
<circle cx="271.75" cy="99.13" r="2.33" fill="#ba333a"/>
<circle cx="45.13" cy="104.41" r="2.54" fill="#a51f26"/>
<circle cx="50.41" cy="104.41" r="0.65" fill="#fbf1f1"/>
<circle cx="55.67" cy="104.41" r="2.33" fill="#ba333a"/>
<circle cx="60.95" cy="104.41" r="1.49" fill="#e8afb3"/>
<circle cx="66.22" cy="104.41" r="2.33" fill="#ba333a"/>
<circle cx="71.48" cy="104.41" r="2.54" fill="#a51f26"/>
<circle cx="76.75" cy="104.41" r="2.54" fill="#a51f26"/>
<circle cx="82.03" cy="104.41" r="2.33" fill="#ba333a"/>
<circle cx="87.29" cy="104.41" r="1.49" fill="#e8afb3"/>
<circle cx="92.56" cy="104.41" r="2.33" fill="#ba333a"/>
<circle cx="97.83" cy="104.41" r="2.54" fill="#a51f26"/>
<circle cx="103.10" cy="104.41" r="2.63" fill="#9b161c"/>
<circle cx="108.38" cy="104.41" r="1.49" fill="#e8afb3"/>
<circle cx="113.64" cy="104.41" r="1.49" fill="#e8afb3"/>
<circle cx="118.91" cy="104.41" r="0.65" fill="#fbf1f1"/>
<circle cx="124.18" cy="104.41" r="1.49" fill="#e8afb3"/>
<circle cx="129.45" cy="104.41" r="2.33" fill="#ba333a"/>
<circle cx="134.72" cy="104.41" r="0.65" fill="#fbf1f1"/>
<circle cx="140.00" cy="104.41" r="0.65" fill="#fbf1f1"/>
<circle cx="145.26" cy="104.41" r="1.49" fill="#e8afb3"/>
<circle cx="150.53" cy="104.41" r="1.49" fill="#e8afb3"/>
<circle cx="155.81" cy="104.41" r="0.65" fill="#fbf1f1"/>
<circle cx="161.07" cy="104.41" r="1.95" fill="#d26f74"/>
<circle cx="166.34" cy="104.41" r="0.65" fill="#fbf1f1"/>
<circle cx="171.61" cy="104.41" r="1.49" fill="#e8afb3"/>
<circle cx="176.88" cy="104.41" r="0.65" fill="#fbf1f1"/>
<circle cx="182.16" cy="104.41" r="1.95" fill="#d26f74"/>
<circle cx="187.42" cy="104.41" r="2.33" fill="#ba333a"/>
<circle cx="192.69" cy="104.41" r="2.54" fill="#a51f26"/>
<circle cx="197.96" cy="104.41" r="0.65" fill="#fbf1f1"/>
<circle cx="203.23" cy="104.41" r="1.49" fill="#e8afb3"/>
<circle cx="208.50" cy="104.41" r="0.65" fill="#fbf1f1"/>
<circle cx="213.77" cy="104.41" r="0.65" fill="#fbf1f1"/>
<circle cx="219.04" cy="104.41" r="1.56" fill="#d2d2d2"/>
<circle cx="224.31" cy="104.41" r="1.56" fill="#d2d2d2"/>
<circle cx="229.58" cy="104.41" r="1.56" fill="#d2d2d2"/>
<circle cx="234.85" cy="104.41" r="1.86" fill="#bfbfbf"/>
<circle cx="240.12" cy="104.41" r="0.65" fill="#fbf1f1"/>
<circle cx="245.39" cy="104.41" r="1.56" fill="#d2d2d2"/>
<circle cx="250.66" cy="104.41" r="1.49" fill="#e8afb3"/>
<circle cx="255.93" cy="104.41" r="0.65" fill="#fbf1f1"/>
<circle cx="261.20" cy="104.41" r="0.65" fill="#fbf1f1"/>
<circle cx="266.48" cy="104.41" r="0.65" fill="#fbf1f1"/>
<circle cx="271.75" cy="104.41" r="1.95" fill="#d26f74"/>
<circle cx="45.13" cy="109.67" r="1.49" fill="#e8afb3"/>
<circle cx="50.41" cy="109.67" r="1.56" fill="#d2d2d2"/>
<circle cx="55.67" cy="109.67" r="1.49" fill="#e8afb3"/>
<circle cx="60.95" cy="109.67" r="0.65" fill="#fbf1f1"/>
<circle cx="66.22" cy="109.67" r="1.49" fill="#e8afb3"/>
<circle cx="71.48" cy="109.67" r="1.95" fill="#d26f74"/>
<circle cx="76.75" cy="109.67" r="1.95" fill="#d26f74"/>
<circle cx="82.03" cy="109.67" r="1.95" fill="#d26f74"/>
<circle cx="87.29" cy="109.67" r="1.49" fill="#e8afb3"/>
<circle cx="92.56" cy="109.67" r="1.95" fill="#d26f74"/>
<circle cx="97.83" cy="109.67" r="1.95" fill="#d26f74"/>
<circle cx="103.10" cy="109.67" r="1.95" fill="#d26f74"/>
<circle cx="108.38" cy="109.67" r="2.63" fill="#9b161c"/>
<circle cx="113.64" cy="109.67" r="1.95" fill="#d26f74"/>
<circle cx="118.91" cy="109.67" r="0.65" fill="#fbf1f1"/>
<circle cx="124.18" cy="109.67" r="0.65" fill="#fbf1f1"/>
<circle cx="129.45" cy="109.67" r="1.95" fill="#d26f74"/>
<circle cx="134.72" cy="109.67" r="2.33" fill="#ba333a"/>
<circle cx="140.00" cy="109.67" r="2.33" fill="#ba333a"/>
<circle cx="145.26" cy="109.67" r="2.33" fill="#ba333a"/>
<circle cx="150.53" cy="109.67" r="2.33" fill="#ba333a"/>
<circle cx="155.81" cy="109.67" r="1.49" fill="#e8afb3"/>
<circle cx="161.07" cy="109.67" r="2.54" fill="#a51f26"/>
<circle cx="166.34" cy="109.67" r="2.54" fill="#a51f26"/>
<circle cx="171.61" cy="109.67" r="2.54" fill="#a51f26"/>
<circle cx="176.88" cy="109.67" r="2.54" fill="#a51f26"/>
<circle cx="182.16" cy="109.67" r="2.54" fill="#a51f26"/>
<circle cx="187.42" cy="109.67" r="2.33" fill="#ba333a"/>
<circle cx="192.69" cy="109.67" r="2.33" fill="#ba333a"/>
<circle cx="197.96" cy="109.67" r="2.33" fill="#ba333a"/>
<circle cx="203.23" cy="109.67" r="2.54" fill="#a51f26"/>
<circle cx="208.50" cy="109.67" r="2.33" fill="#ba333a"/>
<circle cx="213.77" cy="109.67" r="1.95" fill="#d26f74"/>
<circle cx="219.04" cy="109.67" r="2.33" fill="#ba333a"/>
<circle cx="224.31" cy="109.67" r="2.33" fill="#ba333a"/>
<circle cx="229.58" cy="109.67" r="0.65" fill="#fbf1f1"/>
<circle cx="234.85" cy="109.67" r="1.49" fill="#e8afb3"/>
<circle cx="240.12" cy="109.67" r="1.49" fill="#e8afb3"/>
<circle cx="245.39" cy="109.67" r="0.65" fill="#fbf1f1"/>
<circle cx="250.66" cy="109.67" r="1.95" fill="#d26f74"/>
<circle cx="255.93" cy="109.67" r="1.95" fill="#d26f74"/>
<circle cx="261.20" cy="109.67" r="1.95" fill="#d26f74"/>
<circle cx="266.48" cy="109.67" r="1.49" fill="#e8afb3"/>
<circle cx="271.75" cy="109.67" r="2.54" fill="#a51f26"/>
<circle cx="45.13" cy="114.94" r="1.49" fill="#e8afb3"/>
<circle cx="50.41" cy="114.94" r="1.56" fill="#d2d2d2"/>
<circle cx="55.67" cy="114.94" r="1.49" fill="#e8afb3"/>
<circle cx="60.95" cy="114.94" r="0.65" fill="#fbf1f1"/>
<circle cx="66.22" cy="114.94" r="1.49" fill="#e8afb3"/>
<circle cx="71.48" cy="114.94" r="1.49" fill="#e8afb3"/>
<circle cx="76.75" cy="114.94" r="1.49" fill="#e8afb3"/>
<circle cx="82.03" cy="114.94" r="1.49" fill="#e8afb3"/>
<circle cx="87.29" cy="114.94" r="0.65" fill="#fbf1f1"/>
<circle cx="92.56" cy="114.94" r="1.49" fill="#e8afb3"/>
<circle cx="97.83" cy="114.94" r="1.49" fill="#e8afb3"/>
<circle cx="103.10" cy="114.94" r="1.49" fill="#e8afb3"/>
<circle cx="108.38" cy="114.94" r="1.95" fill="#d26f74"/>
<circle cx="113.64" cy="114.94" r="2.63" fill="#9b161c"/>
<circle cx="118.91" cy="114.94" r="0.65" fill="#fbf1f1"/>
<circle cx="124.18" cy="114.94" r="1.49" fill="#e8afb3"/>
<circle cx="129.45" cy="114.94" r="1.49" fill="#e8afb3"/>
<circle cx="134.72" cy="114.94" r="1.49" fill="#e8afb3"/>
<circle cx="140.00" cy="114.94" r="1.95" fill="#d26f74"/>
<circle cx="145.26" cy="114.94" r="1.95" fill="#d26f74"/>
<circle cx="150.53" cy="114.94" r="1.95" fill="#d26f74"/>
<circle cx="155.81" cy="114.94" r="2.33" fill="#ba333a"/>
<circle cx="161.07" cy="114.94" r="2.33" fill="#ba333a"/>
<circle cx="166.34" cy="114.94" r="1.49" fill="#e8afb3"/>
<circle cx="171.61" cy="114.94" r="1.49" fill="#e8afb3"/>
<circle cx="176.88" cy="114.94" r="1.95" fill="#d26f74"/>
<circle cx="182.16" cy="114.94" r="1.49" fill="#e8afb3"/>
<circle cx="187.42" cy="114.94" r="2.33" fill="#ba333a"/>
<circle cx="192.69" cy="114.94" r="2.33" fill="#ba333a"/>
<circle cx="197.96" cy="114.94" r="1.49" fill="#e8afb3"/>
<circle cx="203.23" cy="114.94" r="2.33" fill="#ba333a"/>
<circle cx="208.50" cy="114.94" r="1.95" fill="#d26f74"/>
<circle cx="213.77" cy="114.94" r="1.49" fill="#e8afb3"/>
<circle cx="219.04" cy="114.94" r="1.49" fill="#e8afb3"/>
<circle cx="224.31" cy="114.94" r="0.65" fill="#fbf1f1"/>
<circle cx="229.58" cy="114.94" r="0.65" fill="#fbf1f1"/>
<circle cx="234.85" cy="114.94" r="1.49" fill="#e8afb3"/>
<circle cx="240.12" cy="114.94" r="0.65" fill="#fbf1f1"/>
<circle cx="245.39" cy="114.94" r="1.49" fill="#e8afb3"/>
<circle cx="250.66" cy="114.94" r="1.49" fill="#e8afb3"/>
<circle cx="255.93" cy="114.94" r="0.65" fill="#fbf1f1"/>
<circle cx="261.20" cy="114.94" r="1.49" fill="#e8afb3"/>
<circle cx="266.48" cy="114.94" r="0.65" fill="#fbf1f1"/>
<circle cx="271.75" cy="114.94" r="1.95" fill="#d26f74"/>
<circle cx="45.13" cy="120.21" r="0.65" fill="#fbf1f1"/>
<circle cx="50.41" cy="120.21" r="0.65" fill="#fbf1f1"/>
<circle cx="55.67" cy="120.21" r="1.49" fill="#e8afb3"/>
<circle cx="60.95" cy="120.21" r="0.65" fill="#fbf1f1"/>
<circle cx="66.22" cy="120.21" r="0.65" fill="#fbf1f1"/>
<circle cx="71.48" cy="120.21" r="0.65" fill="#fbf1f1"/>
<circle cx="76.75" cy="120.21" r="0.65" fill="#fbf1f1"/>
<circle cx="82.03" cy="120.21" r="0.65" fill="#fbf1f1"/>
<circle cx="87.29" cy="120.21" r="1.49" fill="#e8afb3"/>
<circle cx="92.56" cy="120.21" r="0.65" fill="#fbf1f1"/>
<circle cx="97.83" cy="120.21" r="1.49" fill="#e8afb3"/>
<circle cx="103.10" cy="120.21" r="1.49" fill="#e8afb3"/>
<circle cx="108.38" cy="120.21" r="0.65" fill="#fbf1f1"/>
<circle cx="113.64" cy="120.21" r="1.49" fill="#e8afb3"/>
<circle cx="118.91" cy="120.21" r="2.63" fill="#9b161c"/>
<circle cx="124.18" cy="120.21" r="0.65" fill="#fbf1f1"/>
<circle cx="129.45" cy="120.21" r="0.65" fill="#fbf1f1"/>
<circle cx="134.72" cy="120.21" r="0.65" fill="#fbf1f1"/>
<circle cx="140.00" cy="120.21" r="0.65" fill="#fbf1f1"/>
<circle cx="145.26" cy="120.21" r="0.65" fill="#fbf1f1"/>
<circle cx="150.53" cy="120.21" r="0.65" fill="#fbf1f1"/>
<circle cx="155.81" cy="120.21" r="1.95" fill="#d26f74"/>
<circle cx="161.07" cy="120.21" r="0.65" fill="#fbf1f1"/>
<circle cx="166.34" cy="120.21" r="0.65" fill="#fbf1f1"/>
<circle cx="171.61" cy="120.21" r="1.56" fill="#d2d2d2"/>
<circle cx="176.88" cy="120.21" r="0.65" fill="#fbf1f1"/>
<circle cx="182.16" cy="120.21" r="0.65" fill="#fbf1f1"/>
<circle cx="187.42" cy="120.21" r="0.65" fill="#fbf1f1"/>
<circle cx="192.69" cy="120.21" r="0.65" fill="#fbf1f1"/>
<circle cx="197.96" cy="120.21" r="0.65" fill="#fbf1f1"/>
<circle cx="203.23" cy="120.21" r="0.65" fill="#fbf1f1"/>
<circle cx="208.50" cy="120.21" r="1.49" fill="#e8afb3"/>
<circle cx="213.77" cy="120.21" r="2.33" fill="#ba333a"/>
<circle cx="219.04" cy="120.21" r="0.65" fill="#fbf1f1"/>
<circle cx="224.31" cy="120.21" r="0.65" fill="#fbf1f1"/>
<circle cx="229.58" cy="120.21" r="0.65" fill="#fbf1f1"/>
<circle cx="234.85" cy="120.21" r="0.65" fill="#fbf1f1"/>
<circle cx="240.12" cy="120.21" r="1.56" fill="#d2d2d2"/>
<circle cx="245.39" cy="120.21" r="2.33" fill="#ba333a"/>
<circle cx="250.66" cy="120.21" r="1.49" fill="#e8afb3"/>
<circle cx="255.93" cy="120.21" r="0.65" fill="#fbf1f1"/>
<circle cx="261.20" cy="120.21" r="0.65" fill="#fbf1f1"/>
<circle cx="266.48" cy="120.21" r="1.56" fill="#d2d2d2"/>
<circle cx="271.75" cy="120.21" r="1.49" fill="#e8afb3"/>
<circle cx="45.13" cy="125.48" r="1.95" fill="#d26f74"/>
<circle cx="50.41" cy="125.48" r="1.56" fill="#d2d2d2"/>
<circle cx="55.67" cy="125.48" r="1.95" fill="#d26f74"/>
<circle cx="60.95" cy="125.48" r="0.65" fill="#fbf1f1"/>
<circle cx="66.22" cy="125.48" r="1.95" fill="#d26f74"/>
<circle cx="71.48" cy="125.48" r="1.95" fill="#d26f74"/>
<circle cx="76.75" cy="125.48" r="1.95" fill="#d26f74"/>
<circle cx="82.03" cy="125.48" r="1.95" fill="#d26f74"/>
<circle cx="87.29" cy="125.48" r="1.49" fill="#e8afb3"/>
<circle cx="92.56" cy="125.48" r="1.95" fill="#d26f74"/>
<circle cx="97.83" cy="125.48" r="1.95" fill="#d26f74"/>
<circle cx="103.10" cy="125.48" r="1.95" fill="#d26f74"/>
<circle cx="108.38" cy="125.48" r="0.65" fill="#fbf1f1"/>
<circle cx="113.64" cy="125.48" r="1.49" fill="#e8afb3"/>
<circle cx="118.91" cy="125.48" r="0.65" fill="#fbf1f1"/>
<circle cx="124.18" cy="125.48" r="2.63" fill="#9b161c"/>
<circle cx="129.45" cy="125.48" r="1.49" fill="#e8afb3"/>
<circle cx="134.72" cy="125.48" r="1.49" fill="#e8afb3"/>
<circle cx="140.00" cy="125.48" r="1.49" fill="#e8afb3"/>
<circle cx="145.26" cy="125.48" r="1.49" fill="#e8afb3"/>
<circle cx="150.53" cy="125.48" r="1.49" fill="#e8afb3"/>
<circle cx="155.81" cy="125.48" r="1.49" fill="#e8afb3"/>
<circle cx="161.07" cy="125.48" r="1.49" fill="#e8afb3"/>
<circle cx="166.34" cy="125.48" r="1.56" fill="#d2d2d2"/>
<circle cx="171.61" cy="125.48" r="0.65" fill="#fbf1f1"/>
<circle cx="176.88" cy="125.48" r="1.49" fill="#e8afb3"/>
<circle cx="182.16" cy="125.48" r="1.95" fill="#d26f74"/>
<circle cx="187.42" cy="125.48" r="1.95" fill="#d26f74"/>
<circle cx="192.69" cy="125.48" r="0.65" fill="#fbf1f1"/>
<circle cx="197.96" cy="125.48" r="1.56" fill="#d2d2d2"/>
<circle cx="203.23" cy="125.48" r="1.56" fill="#d2d2d2"/>
<circle cx="208.50" cy="125.48" r="1.49" fill="#e8afb3"/>
<circle cx="213.77" cy="125.48" r="0.65" fill="#fbf1f1"/>
<circle cx="219.04" cy="125.48" r="0.65" fill="#fbf1f1"/>
<circle cx="224.31" cy="125.48" r="1.56" fill="#d2d2d2"/>
<circle cx="229.58" cy="125.48" r="0.65" fill="#fbf1f1"/>
<circle cx="234.85" cy="125.48" r="0.65" fill="#fbf1f1"/>
<circle cx="240.12" cy="125.48" r="1.86" fill="#bfbfbf"/>
<circle cx="245.39" cy="125.48" r="0.65" fill="#fbf1f1"/>
<circle cx="250.66" cy="125.48" r="0.65" fill="#fbf1f1"/>
<circle cx="255.93" cy="125.48" r="0.65" fill="#fbf1f1"/>
<circle cx="261.20" cy="125.48" r="0.65" fill="#fbf1f1"/>
<circle cx="266.48" cy="125.48" r="0.65" fill="#fbf1f1"/>
<circle cx="271.75" cy="125.48" r="1.49" fill="#e8afb3"/>
<circle cx="45.13" cy="130.75" r="2.54" fill="#a51f26"/>
<circle cx="50.41" cy="130.75" r="1.56" fill="#d2d2d2"/>
<circle cx="55.67" cy="130.75" r="2.33" fill="#ba333a"/>
<circle cx="60.95" cy="130.75" r="1.49" fill="#e8afb3"/>
<circle cx="66.22" cy="130.75" r="2.33" fill="#ba333a"/>
<circle cx="71.48" cy="130.75" r="2.33" fill="#ba333a"/>
<circle cx="76.75" cy="130.75" r="2.33" fill="#ba333a"/>
<circle cx="82.03" cy="130.75" r="2.33" fill="#ba333a"/>
<circle cx="87.29" cy="130.75" r="1.49" fill="#e8afb3"/>
<circle cx="92.56" cy="130.75" r="1.95" fill="#d26f74"/>
<circle cx="97.83" cy="130.75" r="2.33" fill="#ba333a"/>
<circle cx="103.10" cy="130.75" r="2.33" fill="#ba333a"/>
<circle cx="108.38" cy="130.75" r="1.95" fill="#d26f74"/>
<circle cx="113.64" cy="130.75" r="1.49" fill="#e8afb3"/>
<circle cx="118.91" cy="130.75" r="0.65" fill="#fbf1f1"/>
<circle cx="124.18" cy="130.75" r="1.49" fill="#e8afb3"/>
<circle cx="129.45" cy="130.75" r="2.63" fill="#9b161c"/>
<circle cx="134.72" cy="130.75" r="0.65" fill="#fbf1f1"/>
<circle cx="140.00" cy="130.75" r="1.49" fill="#e8afb3"/>
<circle cx="145.26" cy="130.75" r="1.49" fill="#e8afb3"/>
<circle cx="150.53" cy="130.75" r="1.49" fill="#e8afb3"/>
<circle cx="155.81" cy="130.75" r="0.65" fill="#fbf1f1"/>
<circle cx="161.07" cy="130.75" r="1.95" fill="#d26f74"/>
<circle cx="166.34" cy="130.75" r="0.65" fill="#fbf1f1"/>
<circle cx="171.61" cy="130.75" r="1.49" fill="#e8afb3"/>
<circle cx="176.88" cy="130.75" r="1.49" fill="#e8afb3"/>
<circle cx="182.16" cy="130.75" r="1.95" fill="#d26f74"/>
<circle cx="187.42" cy="130.75" r="1.95" fill="#d26f74"/>
<circle cx="192.69" cy="130.75" r="2.33" fill="#ba333a"/>
<circle cx="197.96" cy="130.75" r="1.49" fill="#e8afb3"/>
<circle cx="203.23" cy="130.75" r="0.65" fill="#fbf1f1"/>
<circle cx="208.50" cy="130.75" r="1.49" fill="#e8afb3"/>
<circle cx="213.77" cy="130.75" r="0.65" fill="#fbf1f1"/>
<circle cx="219.04" cy="130.75" r="0.65" fill="#fbf1f1"/>
<circle cx="224.31" cy="130.75" r="0.65" fill="#fbf1f1"/>
<circle cx="229.58" cy="130.75" r="0.65" fill="#fbf1f1"/>
<circle cx="234.85" cy="130.75" r="0.65" fill="#fbf1f1"/>
<circle cx="240.12" cy="130.75" r="1.49" fill="#e8afb3"/>
<circle cx="245.39" cy="130.75" r="1.49" fill="#e8afb3"/>
<circle cx="250.66" cy="130.75" r="0.65" fill="#fbf1f1"/>
<circle cx="255.93" cy="130.75" r="1.49" fill="#e8afb3"/>
<circle cx="261.20" cy="130.75" r="0.65" fill="#fbf1f1"/>
<circle cx="266.48" cy="130.75" r="1.56" fill="#d2d2d2"/>
<circle cx="271.75" cy="130.75" r="1.95" fill="#d26f74"/>
<circle cx="45.13" cy="136.02" r="0.65" fill="#fbf1f1"/>
<circle cx="50.41" cy="136.02" r="0.65" fill="#fbf1f1"/>
<circle cx="55.67" cy="136.02" r="0.65" fill="#fbf1f1"/>
<circle cx="60.95" cy="136.02" r="1.56" fill="#d2d2d2"/>
<circle cx="66.22" cy="136.02" r="0.65" fill="#fbf1f1"/>
<circle cx="71.48" cy="136.02" r="0.65" fill="#fbf1f1"/>
<circle cx="76.75" cy="136.02" r="0.65" fill="#fbf1f1"/>
<circle cx="82.03" cy="136.02" r="1.49" fill="#e8afb3"/>
<circle cx="87.29" cy="136.02" r="1.49" fill="#e8afb3"/>
<circle cx="92.56" cy="136.02" r="1.49" fill="#e8afb3"/>
<circle cx="97.83" cy="136.02" r="1.49" fill="#e8afb3"/>
<circle cx="103.10" cy="136.02" r="0.65" fill="#fbf1f1"/>
<circle cx="108.38" cy="136.02" r="2.33" fill="#ba333a"/>
<circle cx="113.64" cy="136.02" r="1.49" fill="#e8afb3"/>
<circle cx="118.91" cy="136.02" r="0.65" fill="#fbf1f1"/>
<circle cx="124.18" cy="136.02" r="1.49" fill="#e8afb3"/>
<circle cx="129.45" cy="136.02" r="1.49" fill="#e8afb3"/>
<circle cx="134.72" cy="136.02" r="2.63" fill="#9b161c"/>
<circle cx="140.00" cy="136.02" r="2.54" fill="#a51f26"/>
<circle cx="145.26" cy="136.02" r="2.33" fill="#ba333a"/>
<circle cx="150.53" cy="136.02" r="2.33" fill="#ba333a"/>
<circle cx="155.81" cy="136.02" r="1.49" fill="#e8afb3"/>
<circle cx="161.07" cy="136.02" r="2.54" fill="#a51f26"/>
<circle cx="166.34" cy="136.02" r="2.54" fill="#a51f26"/>
<circle cx="171.61" cy="136.02" r="2.33" fill="#ba333a"/>
<circle cx="176.88" cy="136.02" r="2.54" fill="#a51f26"/>
<circle cx="182.16" cy="136.02" r="1.95" fill="#d26f74"/>
<circle cx="187.42" cy="136.02" r="1.49" fill="#e8afb3"/>
<circle cx="192.69" cy="136.02" r="1.49" fill="#e8afb3"/>
<circle cx="197.96" cy="136.02" r="2.33" fill="#ba333a"/>
<circle cx="203.23" cy="136.02" r="2.54" fill="#a51f26"/>
<circle cx="208.50" cy="136.02" r="2.54" fill="#a51f26"/>
<circle cx="213.77" cy="136.02" r="2.33" fill="#ba333a"/>
<circle cx="219.04" cy="136.02" r="2.54" fill="#a51f26"/>
<circle cx="224.31" cy="136.02" r="2.54" fill="#a51f26"/>
<circle cx="229.58" cy="136.02" r="0.65" fill="#fbf1f1"/>
<circle cx="234.85" cy="136.02" r="1.49" fill="#e8afb3"/>
<circle cx="240.12" cy="136.02" r="1.49" fill="#e8afb3"/>
<circle cx="245.39" cy="136.02" r="1.49" fill="#e8afb3"/>
<circle cx="250.66" cy="136.02" r="2.33" fill="#ba333a"/>
<circle cx="255.93" cy="136.02" r="2.33" fill="#ba333a"/>
<circle cx="261.20" cy="136.02" r="2.33" fill="#ba333a"/>
<circle cx="266.48" cy="136.02" r="1.49" fill="#e8afb3"/>
<circle cx="271.75" cy="136.02" r="1.95" fill="#d26f74"/>
<circle cx="45.13" cy="141.29" r="0.65" fill="#fbf1f1"/>
<circle cx="50.41" cy="141.29" r="1.56" fill="#d2d2d2"/>
<circle cx="55.67" cy="141.29" r="1.56" fill="#d2d2d2"/>
<circle cx="60.95" cy="141.29" r="1.86" fill="#bfbfbf"/>
<circle cx="66.22" cy="141.29" r="0.65" fill="#fbf1f1"/>
<circle cx="71.48" cy="141.29" r="0.65" fill="#fbf1f1"/>
<circle cx="76.75" cy="141.29" r="1.49" fill="#e8afb3"/>
<circle cx="82.03" cy="141.29" r="1.49" fill="#e8afb3"/>
<circle cx="87.29" cy="141.29" r="1.49" fill="#e8afb3"/>
<circle cx="92.56" cy="141.29" r="0.65" fill="#fbf1f1"/>
<circle cx="97.83" cy="141.29" r="0.65" fill="#fbf1f1"/>
<circle cx="103.10" cy="141.29" r="0.65" fill="#fbf1f1"/>
<circle cx="108.38" cy="141.29" r="2.33" fill="#ba333a"/>
<circle cx="113.64" cy="141.29" r="1.49" fill="#e8afb3"/>
<circle cx="118.91" cy="141.29" r="0.65" fill="#fbf1f1"/>
<circle cx="124.18" cy="141.29" r="0.65" fill="#fbf1f1"/>
<circle cx="129.45" cy="141.29" r="1.49" fill="#e8afb3"/>
<circle cx="134.72" cy="141.29" r="2.33" fill="#ba333a"/>
<circle cx="140.00" cy="141.29" r="2.63" fill="#9b161c"/>
<circle cx="145.26" cy="141.29" r="2.54" fill="#a51f26"/>
<circle cx="150.53" cy="141.29" r="2.33" fill="#ba333a"/>
<circle cx="155.81" cy="141.29" r="1.95" fill="#d26f74"/>
<circle cx="161.07" cy="141.29" r="2.54" fill="#a51f26"/>
<circle cx="166.34" cy="141.29" r="2.33" fill="#ba333a"/>
<circle cx="171.61" cy="141.29" r="2.33" fill="#ba333a"/>
<circle cx="176.88" cy="141.29" r="2.33" fill="#ba333a"/>
<circle cx="182.16" cy="141.29" r="1.95" fill="#d26f74"/>
<circle cx="187.42" cy="141.29" r="1.49" fill="#e8afb3"/>
<circle cx="192.69" cy="141.29" r="1.49" fill="#e8afb3"/>
<circle cx="197.96" cy="141.29" r="1.95" fill="#d26f74"/>
<circle cx="203.23" cy="141.29" r="2.54" fill="#a51f26"/>
<circle cx="208.50" cy="141.29" r="2.54" fill="#a51f26"/>
<circle cx="213.77" cy="141.29" r="2.33" fill="#ba333a"/>
<circle cx="219.04" cy="141.29" r="1.95" fill="#d26f74"/>
<circle cx="224.31" cy="141.29" r="1.49" fill="#e8afb3"/>
<circle cx="229.58" cy="141.29" r="0.65" fill="#fbf1f1"/>
<circle cx="234.85" cy="141.29" r="1.49" fill="#e8afb3"/>
<circle cx="240.12" cy="141.29" r="1.49" fill="#e8afb3"/>
<circle cx="245.39" cy="141.29" r="0.65" fill="#fbf1f1"/>
<circle cx="250.66" cy="141.29" r="1.95" fill="#d26f74"/>
<circle cx="255.93" cy="141.29" r="1.95" fill="#d26f74"/>
<circle cx="261.20" cy="141.29" r="1.95" fill="#d26f74"/>
<circle cx="266.48" cy="141.29" r="1.49" fill="#e8afb3"/>
<circle cx="271.75" cy="141.29" r="2.33" fill="#ba333a"/>
<circle cx="45.13" cy="146.56" r="1.95" fill="#d26f74"/>
<circle cx="50.41" cy="146.56" r="1.56" fill="#d2d2d2"/>
<circle cx="55.67" cy="146.56" r="1.49" fill="#e8afb3"/>
<circle cx="60.95" cy="146.56" r="1.49" fill="#e8afb3"/>
<circle cx="66.22" cy="146.56" r="1.95" fill="#d26f74"/>
<circle cx="71.48" cy="146.56" r="1.95" fill="#d26f74"/>
<circle cx="76.75" cy="146.56" r="1.95" fill="#d26f74"/>
<circle cx="82.03" cy="146.56" r="2.33" fill="#ba333a"/>
<circle cx="87.29" cy="146.56" r="1.49" fill="#e8afb3"/>
<circle cx="92.56" cy="146.56" r="1.49" fill="#e8afb3"/>
<circle cx="97.83" cy="146.56" r="1.95" fill="#d26f74"/>
<circle cx="103.10" cy="146.56" r="1.95" fill="#d26f74"/>
<circle cx="108.38" cy="146.56" r="2.33" fill="#ba333a"/>
<circle cx="113.64" cy="146.56" r="1.49" fill="#e8afb3"/>
<circle cx="118.91" cy="146.56" r="0.65" fill="#fbf1f1"/>
<circle cx="124.18" cy="146.56" r="1.49" fill="#e8afb3"/>
<circle cx="129.45" cy="146.56" r="1.49" fill="#e8afb3"/>
<circle cx="134.72" cy="146.56" r="2.33" fill="#ba333a"/>
<circle cx="140.00" cy="146.56" r="2.33" fill="#ba333a"/>
<circle cx="145.26" cy="146.56" r="2.63" fill="#9b161c"/>
<circle cx="150.53" cy="146.56" r="2.54" fill="#a51f26"/>
<circle cx="155.81" cy="146.56" r="1.95" fill="#d26f74"/>
<circle cx="161.07" cy="146.56" r="2.54" fill="#a51f26"/>
<circle cx="166.34" cy="146.56" r="2.33" fill="#ba333a"/>
<circle cx="171.61" cy="146.56" r="2.54" fill="#a51f26"/>
<circle cx="176.88" cy="146.56" r="2.54" fill="#a51f26"/>
<circle cx="182.16" cy="146.56" r="2.54" fill="#a51f26"/>
<circle cx="187.42" cy="146.56" r="2.54" fill="#a51f26"/>
<circle cx="192.69" cy="146.56" r="2.33" fill="#ba333a"/>
<circle cx="197.96" cy="146.56" r="1.95" fill="#d26f74"/>
<circle cx="203.23" cy="146.56" r="2.54" fill="#a51f26"/>
<circle cx="208.50" cy="146.56" r="2.33" fill="#ba333a"/>
<circle cx="213.77" cy="146.56" r="2.33" fill="#ba333a"/>
<circle cx="219.04" cy="146.56" r="1.95" fill="#d26f74"/>
<circle cx="224.31" cy="146.56" r="1.49" fill="#e8afb3"/>
<circle cx="229.58" cy="146.56" r="1.49" fill="#e8afb3"/>
<circle cx="234.85" cy="146.56" r="1.49" fill="#e8afb3"/>
<circle cx="240.12" cy="146.56" r="1.49" fill="#e8afb3"/>
<circle cx="245.39" cy="146.56" r="1.49" fill="#e8afb3"/>
<circle cx="250.66" cy="146.56" r="1.95" fill="#d26f74"/>
<circle cx="255.93" cy="146.56" r="1.95" fill="#d26f74"/>
<circle cx="261.20" cy="146.56" r="1.95" fill="#d26f74"/>
<circle cx="266.48" cy="146.56" r="1.49" fill="#e8afb3"/>
<circle cx="271.75" cy="146.56" r="2.54" fill="#a51f26"/>
<circle cx="45.13" cy="151.83" r="1.95" fill="#d26f74"/>
<circle cx="50.41" cy="151.83" r="1.56" fill="#d2d2d2"/>
<circle cx="55.67" cy="151.83" r="1.95" fill="#d26f74"/>
<circle cx="60.95" cy="151.83" r="1.49" fill="#e8afb3"/>
<circle cx="66.22" cy="151.83" r="1.95" fill="#d26f74"/>
<circle cx="71.48" cy="151.83" r="2.33" fill="#ba333a"/>
<circle cx="76.75" cy="151.83" r="2.33" fill="#ba333a"/>
<circle cx="82.03" cy="151.83" r="2.33" fill="#ba333a"/>
<circle cx="87.29" cy="151.83" r="1.49" fill="#e8afb3"/>
<circle cx="92.56" cy="151.83" r="1.95" fill="#d26f74"/>
<circle cx="97.83" cy="151.83" r="1.95" fill="#d26f74"/>
<circle cx="103.10" cy="151.83" r="1.95" fill="#d26f74"/>
<circle cx="108.38" cy="151.83" r="2.33" fill="#ba333a"/>
<circle cx="113.64" cy="151.83" r="1.49" fill="#e8afb3"/>
<circle cx="118.91" cy="151.83" r="0.65" fill="#fbf1f1"/>
<circle cx="124.18" cy="151.83" r="1.49" fill="#e8afb3"/>
<circle cx="129.45" cy="151.83" r="1.95" fill="#d26f74"/>
<circle cx="134.72" cy="151.83" r="2.33" fill="#ba333a"/>
<circle cx="140.00" cy="151.83" r="2.33" fill="#ba333a"/>
<circle cx="145.26" cy="151.83" r="2.54" fill="#a51f26"/>
<circle cx="150.53" cy="151.83" r="2.63" fill="#9b161c"/>
<circle cx="155.81" cy="151.83" r="1.95" fill="#d26f74"/>
<circle cx="161.07" cy="151.83" r="2.54" fill="#a51f26"/>
<circle cx="166.34" cy="151.83" r="2.54" fill="#a51f26"/>
<circle cx="171.61" cy="151.83" r="2.54" fill="#a51f26"/>
<circle cx="176.88" cy="151.83" r="2.54" fill="#a51f26"/>
<circle cx="182.16" cy="151.83" r="2.54" fill="#a51f26"/>
<circle cx="187.42" cy="151.83" r="2.54" fill="#a51f26"/>
<circle cx="192.69" cy="151.83" r="2.33" fill="#ba333a"/>
<circle cx="197.96" cy="151.83" r="1.95" fill="#d26f74"/>
<circle cx="203.23" cy="151.83" r="2.54" fill="#a51f26"/>
<circle cx="208.50" cy="151.83" r="2.33" fill="#ba333a"/>
<circle cx="213.77" cy="151.83" r="1.95" fill="#d26f74"/>
<circle cx="219.04" cy="151.83" r="1.95" fill="#d26f74"/>
<circle cx="224.31" cy="151.83" r="1.49" fill="#e8afb3"/>
<circle cx="229.58" cy="151.83" r="0.65" fill="#fbf1f1"/>
<circle cx="234.85" cy="151.83" r="1.49" fill="#e8afb3"/>
<circle cx="240.12" cy="151.83" r="0.65" fill="#fbf1f1"/>
<circle cx="245.39" cy="151.83" r="1.49" fill="#e8afb3"/>
<circle cx="250.66" cy="151.83" r="1.95" fill="#d26f74"/>
<circle cx="255.93" cy="151.83" r="1.95" fill="#d26f74"/>
<circle cx="261.20" cy="151.83" r="1.95" fill="#d26f74"/>
<circle cx="266.48" cy="151.83" r="1.49" fill="#e8afb3"/>
<circle cx="271.75" cy="151.83" r="2.33" fill="#ba333a"/>
<circle cx="45.13" cy="157.10" r="0.65" fill="#fbf1f1"/>
<circle cx="50.41" cy="157.10" r="1.56" fill="#d2d2d2"/>
<circle cx="55.67" cy="157.10" r="1.56" fill="#d2d2d2"/>
<circle cx="60.95" cy="157.10" r="1.56" fill="#d2d2d2"/>
<circle cx="66.22" cy="157.10" r="0.65" fill="#fbf1f1"/>
<circle cx="71.48" cy="157.10" r="0.65" fill="#fbf1f1"/>
<circle cx="76.75" cy="157.10" r="1.49" fill="#e8afb3"/>
<circle cx="82.03" cy="157.10" r="0.65" fill="#fbf1f1"/>
<circle cx="87.29" cy="157.10" r="1.49" fill="#e8afb3"/>
<circle cx="92.56" cy="157.10" r="1.49" fill="#e8afb3"/>
<circle cx="97.83" cy="157.10" r="0.65" fill="#fbf1f1"/>
<circle cx="103.10" cy="157.10" r="0.65" fill="#fbf1f1"/>
<circle cx="108.38" cy="157.10" r="1.95" fill="#d26f74"/>
<circle cx="113.64" cy="157.10" r="2.33" fill="#ba333a"/>
<circle cx="118.91" cy="157.10" r="2.33" fill="#ba333a"/>
<circle cx="124.18" cy="157.10" r="0.65" fill="#fbf1f1"/>
<circle cx="129.45" cy="157.10" r="1.49" fill="#e8afb3"/>
<circle cx="134.72" cy="157.10" r="1.95" fill="#d26f74"/>
<circle cx="140.00" cy="157.10" r="2.33" fill="#ba333a"/>
<circle cx="145.26" cy="157.10" r="1.49" fill="#e8afb3"/>
<circle cx="150.53" cy="157.10" r="1.95" fill="#d26f74"/>
<circle cx="155.81" cy="157.10" r="2.63" fill="#9b161c"/>
<circle cx="161.07" cy="157.10" r="1.95" fill="#d26f74"/>
<circle cx="166.34" cy="157.10" r="1.49" fill="#e8afb3"/>
<circle cx="171.61" cy="157.10" r="0.65" fill="#fbf1f1"/>
<circle cx="176.88" cy="157.10" r="1.49" fill="#e8afb3"/>
<circle cx="182.16" cy="157.10" r="0.65" fill="#fbf1f1"/>
<circle cx="187.42" cy="157.10" r="1.49" fill="#e8afb3"/>
<circle cx="192.69" cy="157.10" r="1.49" fill="#e8afb3"/>
<circle cx="197.96" cy="157.10" r="1.49" fill="#e8afb3"/>
<circle cx="203.23" cy="157.10" r="1.95" fill="#d26f74"/>
<circle cx="208.50" cy="157.10" r="1.95" fill="#d26f74"/>
<circle cx="213.77" cy="157.10" r="2.54" fill="#a51f26"/>
<circle cx="219.04" cy="157.10" r="0.65" fill="#fbf1f1"/>
<circle cx="224.31" cy="157.10" r="0.65" fill="#fbf1f1"/>
<circle cx="229.58" cy="157.10" r="0.65" fill="#fbf1f1"/>
<circle cx="234.85" cy="157.10" r="1.56" fill="#d2d2d2"/>
<circle cx="240.12" cy="157.10" r="0.65" fill="#fbf1f1"/>
<circle cx="245.39" cy="157.10" r="1.95" fill="#d26f74"/>
<circle cx="250.66" cy="157.10" r="0.65" fill="#fbf1f1"/>
<circle cx="255.93" cy="157.10" r="0.65" fill="#fbf1f1"/>
<circle cx="261.20" cy="157.10" r="0.65" fill="#fbf1f1"/>
<circle cx="266.48" cy="157.10" r="1.49" fill="#e8afb3"/>
<circle cx="271.75" cy="157.10" r="1.95" fill="#d26f74"/>
<circle cx="45.13" cy="162.38" r="1.95" fill="#d26f74"/>
<circle cx="50.41" cy="162.38" r="1.56" fill="#d2d2d2"/>
<circle cx="55.67" cy="162.38" r="0.65" fill="#fbf1f1"/>
<circle cx="60.95" cy="162.38" r="1.56" fill="#d2d2d2"/>
<circle cx="66.22" cy="162.38" r="1.49" fill="#e8afb3"/>
<circle cx="71.48" cy="162.38" r="1.95" fill="#d26f74"/>
<circle cx="76.75" cy="162.38" r="2.33" fill="#ba333a"/>
<circle cx="82.03" cy="162.38" r="2.33" fill="#ba333a"/>
<circle cx="87.29" cy="162.38" r="1.49" fill="#e8afb3"/>
<circle cx="92.56" cy="162.38" r="1.95" fill="#d26f74"/>
<circle cx="97.83" cy="162.38" r="1.95" fill="#d26f74"/>
<circle cx="103.10" cy="162.38" r="1.95" fill="#d26f74"/>
<circle cx="108.38" cy="162.38" r="2.54" fill="#a51f26"/>
<circle cx="113.64" cy="162.38" r="2.33" fill="#ba333a"/>
<circle cx="118.91" cy="162.38" r="0.65" fill="#fbf1f1"/>
<circle cx="124.18" cy="162.38" r="1.49" fill="#e8afb3"/>
<circle cx="129.45" cy="162.38" r="1.95" fill="#d26f74"/>
<circle cx="134.72" cy="162.38" r="2.54" fill="#a51f26"/>
<circle cx="140.00" cy="162.38" r="2.54" fill="#a51f26"/>
<circle cx="145.26" cy="162.38" r="2.54" fill="#a51f26"/>
<circle cx="150.53" cy="162.38" r="2.54" fill="#a51f26"/>
<circle cx="155.81" cy="162.38" r="1.95" fill="#d26f74"/>
<circle cx="161.07" cy="162.38" r="2.63" fill="#9b161c"/>
<circle cx="166.34" cy="162.38" r="2.33" fill="#ba333a"/>
<circle cx="171.61" cy="162.38" r="2.33" fill="#ba333a"/>
<circle cx="176.88" cy="162.38" r="2.54" fill="#a51f26"/>
<circle cx="182.16" cy="162.38" r="2.33" fill="#ba333a"/>
<circle cx="187.42" cy="162.38" r="2.33" fill="#ba333a"/>
<circle cx="192.69" cy="162.38" r="2.33" fill="#ba333a"/>
<circle cx="197.96" cy="162.38" r="1.95" fill="#d26f74"/>
<circle cx="203.23" cy="162.38" r="2.54" fill="#a51f26"/>
<circle cx="208.50" cy="162.38" r="2.33" fill="#ba333a"/>
<circle cx="213.77" cy="162.38" r="1.95" fill="#d26f74"/>
<circle cx="219.04" cy="162.38" r="1.95" fill="#d26f74"/>
<circle cx="224.31" cy="162.38" r="1.95" fill="#d26f74"/>
<circle cx="229.58" cy="162.38" r="0.65" fill="#fbf1f1"/>
<circle cx="234.85" cy="162.38" r="1.49" fill="#e8afb3"/>
<circle cx="240.12" cy="162.38" r="1.49" fill="#e8afb3"/>
<circle cx="245.39" cy="162.38" r="0.65" fill="#fbf1f1"/>
<circle cx="250.66" cy="162.38" r="1.95" fill="#d26f74"/>
<circle cx="255.93" cy="162.38" r="1.95" fill="#d26f74"/>
<circle cx="261.20" cy="162.38" r="1.95" fill="#d26f74"/>
<circle cx="266.48" cy="162.38" r="0.65" fill="#fbf1f1"/>
<circle cx="271.75" cy="162.38" r="2.54" fill="#a51f26"/>
<circle cx="45.13" cy="167.64" r="0.65" fill="#fbf1f1"/>
<circle cx="50.41" cy="167.64" r="1.56" fill="#d2d2d2"/>
<circle cx="55.67" cy="167.64" r="0.65" fill="#fbf1f1"/>
<circle cx="60.95" cy="167.64" r="1.56" fill="#d2d2d2"/>
<circle cx="66.22" cy="167.64" r="0.65" fill="#fbf1f1"/>
<circle cx="71.48" cy="167.64" r="0.65" fill="#fbf1f1"/>
<circle cx="76.75" cy="167.64" r="0.65" fill="#fbf1f1"/>
<circle cx="82.03" cy="167.64" r="0.65" fill="#fbf1f1"/>
<circle cx="87.29" cy="167.64" r="1.49" fill="#e8afb3"/>
<circle cx="92.56" cy="167.64" r="1.49" fill="#e8afb3"/>
<circle cx="97.83" cy="167.64" r="0.65" fill="#fbf1f1"/>
<circle cx="103.10" cy="167.64" r="0.65" fill="#fbf1f1"/>
<circle cx="108.38" cy="167.64" r="2.54" fill="#a51f26"/>
<circle cx="113.64" cy="167.64" r="1.49" fill="#e8afb3"/>
<circle cx="118.91" cy="167.64" r="0.65" fill="#fbf1f1"/>
<circle cx="124.18" cy="167.64" r="1.56" fill="#d2d2d2"/>
<circle cx="129.45" cy="167.64" r="0.65" fill="#fbf1f1"/>
<circle cx="134.72" cy="167.64" r="2.54" fill="#a51f26"/>
<circle cx="140.00" cy="167.64" r="2.33" fill="#ba333a"/>
<circle cx="145.26" cy="167.64" r="2.33" fill="#ba333a"/>
<circle cx="150.53" cy="167.64" r="2.54" fill="#a51f26"/>
<circle cx="155.81" cy="167.64" r="1.49" fill="#e8afb3"/>
<circle cx="161.07" cy="167.64" r="2.33" fill="#ba333a"/>
<circle cx="166.34" cy="167.64" r="2.63" fill="#9b161c"/>
<circle cx="171.61" cy="167.64" r="2.33" fill="#ba333a"/>
<circle cx="176.88" cy="167.64" r="2.54" fill="#a51f26"/>
<circle cx="182.16" cy="167.64" r="1.95" fill="#d26f74"/>
<circle cx="187.42" cy="167.64" r="1.95" fill="#d26f74"/>
<circle cx="192.69" cy="167.64" r="1.49" fill="#e8afb3"/>
<circle cx="197.96" cy="167.64" r="2.33" fill="#ba333a"/>
<circle cx="203.23" cy="167.64" r="2.54" fill="#a51f26"/>
<circle cx="208.50" cy="167.64" r="2.54" fill="#a51f26"/>
<circle cx="213.77" cy="167.64" r="1.95" fill="#d26f74"/>
<circle cx="219.04" cy="167.64" r="2.54" fill="#a51f26"/>
<circle cx="224.31" cy="167.64" r="2.54" fill="#a51f26"/>
<circle cx="229.58" cy="167.64" r="1.49" fill="#e8afb3"/>
<circle cx="234.85" cy="167.64" r="1.49" fill="#e8afb3"/>
<circle cx="240.12" cy="167.64" r="0.65" fill="#fbf1f1"/>
<circle cx="245.39" cy="167.64" r="0.65" fill="#fbf1f1"/>
<circle cx="250.66" cy="167.64" r="2.33" fill="#ba333a"/>
<circle cx="255.93" cy="167.64" r="2.33" fill="#ba333a"/>
<circle cx="261.20" cy="167.64" r="2.33" fill="#ba333a"/>
<circle cx="266.48" cy="167.64" r="1.49" fill="#e8afb3"/>
<circle cx="271.75" cy="167.64" r="2.33" fill="#ba333a"/>
<circle cx="45.13" cy="172.91" r="1.95" fill="#d26f74"/>
<circle cx="50.41" cy="172.91" r="1.86" fill="#bfbfbf"/>
<circle cx="55.67" cy="172.91" r="0.65" fill="#fbf1f1"/>
<circle cx="60.95" cy="172.91" r="1.56" fill="#d2d2d2"/>
<circle cx="66.22" cy="172.91" r="1.49" fill="#e8afb3"/>
<circle cx="71.48" cy="172.91" r="1.49" fill="#e8afb3"/>
<circle cx="76.75" cy="172.91" r="1.95" fill="#d26f74"/>
<circle cx="82.03" cy="172.91" r="1.95" fill="#d26f74"/>
<circle cx="87.29" cy="172.91" r="0.65" fill="#fbf1f1"/>
<circle cx="92.56" cy="172.91" r="1.49" fill="#e8afb3"/>
<circle cx="97.83" cy="172.91" r="1.49" fill="#e8afb3"/>
<circle cx="103.10" cy="172.91" r="1.49" fill="#e8afb3"/>
<circle cx="108.38" cy="172.91" r="2.54" fill="#a51f26"/>
<circle cx="113.64" cy="172.91" r="1.49" fill="#e8afb3"/>
<circle cx="118.91" cy="172.91" r="1.56" fill="#d2d2d2"/>
<circle cx="124.18" cy="172.91" r="0.65" fill="#fbf1f1"/>
<circle cx="129.45" cy="172.91" r="1.49" fill="#e8afb3"/>
<circle cx="134.72" cy="172.91" r="2.33" fill="#ba333a"/>
<circle cx="140.00" cy="172.91" r="2.33" fill="#ba333a"/>
<circle cx="145.26" cy="172.91" r="2.54" fill="#a51f26"/>
<circle cx="150.53" cy="172.91" r="2.54" fill="#a51f26"/>
<circle cx="155.81" cy="172.91" r="0.65" fill="#fbf1f1"/>
<circle cx="161.07" cy="172.91" r="2.33" fill="#ba333a"/>
<circle cx="166.34" cy="172.91" r="2.33" fill="#ba333a"/>
<circle cx="171.61" cy="172.91" r="2.63" fill="#9b161c"/>
<circle cx="176.88" cy="172.91" r="2.54" fill="#a51f26"/>
<circle cx="182.16" cy="172.91" r="2.54" fill="#a51f26"/>
<circle cx="187.42" cy="172.91" r="1.95" fill="#d26f74"/>
<circle cx="192.69" cy="172.91" r="1.95" fill="#d26f74"/>
<circle cx="197.96" cy="172.91" r="1.95" fill="#d26f74"/>
<circle cx="203.23" cy="172.91" r="2.33" fill="#ba333a"/>
<circle cx="208.50" cy="172.91" r="1.95" fill="#d26f74"/>
<circle cx="213.77" cy="172.91" r="1.49" fill="#e8afb3"/>
<circle cx="219.04" cy="172.91" r="1.49" fill="#e8afb3"/>
<circle cx="224.31" cy="172.91" r="1.49" fill="#e8afb3"/>
<circle cx="229.58" cy="172.91" r="0.65" fill="#fbf1f1"/>
<circle cx="234.85" cy="172.91" r="1.49" fill="#e8afb3"/>
<circle cx="240.12" cy="172.91" r="1.56" fill="#d2d2d2"/>
<circle cx="245.39" cy="172.91" r="1.49" fill="#e8afb3"/>
<circle cx="250.66" cy="172.91" r="1.95" fill="#d26f74"/>
<circle cx="255.93" cy="172.91" r="1.49" fill="#e8afb3"/>
<circle cx="261.20" cy="172.91" r="1.49" fill="#e8afb3"/>
<circle cx="266.48" cy="172.91" r="0.65" fill="#fbf1f1"/>
<circle cx="271.75" cy="172.91" r="2.33" fill="#ba333a"/>
<circle cx="45.13" cy="178.19" r="1.49" fill="#e8afb3"/>
<circle cx="50.41" cy="178.19" r="1.56" fill="#d2d2d2"/>
<circle cx="55.67" cy="178.19" r="0.65" fill="#fbf1f1"/>
<circle cx="60.95" cy="178.19" r="1.56" fill="#d2d2d2"/>
<circle cx="66.22" cy="178.19" r="0.65" fill="#fbf1f1"/>
<circle cx="71.48" cy="178.19" r="1.49" fill="#e8afb3"/>
<circle cx="76.75" cy="178.19" r="1.49" fill="#e8afb3"/>
<circle cx="82.03" cy="178.19" r="1.49" fill="#e8afb3"/>
<circle cx="87.29" cy="178.19" r="1.49" fill="#e8afb3"/>
<circle cx="92.56" cy="178.19" r="1.49" fill="#e8afb3"/>
<circle cx="97.83" cy="178.19" r="1.49" fill="#e8afb3"/>
<circle cx="103.10" cy="178.19" r="0.65" fill="#fbf1f1"/>
<circle cx="108.38" cy="178.19" r="2.54" fill="#a51f26"/>
<circle cx="113.64" cy="178.19" r="1.95" fill="#d26f74"/>
<circle cx="118.91" cy="178.19" r="0.65" fill="#fbf1f1"/>
<circle cx="124.18" cy="178.19" r="1.49" fill="#e8afb3"/>
<circle cx="129.45" cy="178.19" r="1.49" fill="#e8afb3"/>
<circle cx="134.72" cy="178.19" r="2.54" fill="#a51f26"/>
<circle cx="140.00" cy="178.19" r="2.33" fill="#ba333a"/>
<circle cx="145.26" cy="178.19" r="2.54" fill="#a51f26"/>
<circle cx="150.53" cy="178.19" r="2.54" fill="#a51f26"/>
<circle cx="155.81" cy="178.19" r="1.49" fill="#e8afb3"/>
<circle cx="161.07" cy="178.19" r="2.54" fill="#a51f26"/>
<circle cx="166.34" cy="178.19" r="2.54" fill="#a51f26"/>
<circle cx="171.61" cy="178.19" r="2.54" fill="#a51f26"/>
<circle cx="176.88" cy="178.19" r="2.63" fill="#9b161c"/>
<circle cx="182.16" cy="178.19" r="2.33" fill="#ba333a"/>
<circle cx="187.42" cy="178.19" r="2.33" fill="#ba333a"/>
<circle cx="192.69" cy="178.19" r="1.95" fill="#d26f74"/>
<circle cx="197.96" cy="178.19" r="2.33" fill="#ba333a"/>
<circle cx="203.23" cy="178.19" r="2.54" fill="#a51f26"/>
<circle cx="208.50" cy="178.19" r="2.33" fill="#ba333a"/>
<circle cx="213.77" cy="178.19" r="1.95" fill="#d26f74"/>
<circle cx="219.04" cy="178.19" r="2.54" fill="#a51f26"/>
<circle cx="224.31" cy="178.19" r="2.54" fill="#a51f26"/>
<circle cx="229.58" cy="178.19" r="1.49" fill="#e8afb3"/>
<circle cx="234.85" cy="178.19" r="1.49" fill="#e8afb3"/>
<circle cx="240.12" cy="178.19" r="1.49" fill="#e8afb3"/>
<circle cx="245.39" cy="178.19" r="0.65" fill="#fbf1f1"/>
<circle cx="250.66" cy="178.19" r="2.33" fill="#ba333a"/>
<circle cx="255.93" cy="178.19" r="1.95" fill="#d26f74"/>
<circle cx="261.20" cy="178.19" r="1.95" fill="#d26f74"/>
<circle cx="266.48" cy="178.19" r="1.49" fill="#e8afb3"/>
<circle cx="271.75" cy="178.19" r="2.54" fill="#a51f26"/>
<circle cx="45.13" cy="183.45" r="2.33" fill="#ba333a"/>
<circle cx="50.41" cy="183.45" r="1.56" fill="#d2d2d2"/>
<circle cx="55.67" cy="183.45" r="0.65" fill="#fbf1f1"/>
<circle cx="60.95" cy="183.45" r="1.56" fill="#d2d2d2"/>
<circle cx="66.22" cy="183.45" r="1.95" fill="#d26f74"/>
<circle cx="71.48" cy="183.45" r="2.33" fill="#ba333a"/>
<circle cx="76.75" cy="183.45" r="2.33" fill="#ba333a"/>
<circle cx="82.03" cy="183.45" r="2.33" fill="#ba333a"/>
<circle cx="87.29" cy="183.45" r="0.65" fill="#fbf1f1"/>
<circle cx="92.56" cy="183.45" r="1.95" fill="#d26f74"/>
<circle cx="97.83" cy="183.45" r="2.33" fill="#ba333a"/>
<circle cx="103.10" cy="183.45" r="1.95" fill="#d26f74"/>
<circle cx="108.38" cy="183.45" r="2.54" fill="#a51f26"/>
<circle cx="113.64" cy="183.45" r="1.49" fill="#e8afb3"/>
<circle cx="118.91" cy="183.45" r="0.65" fill="#fbf1f1"/>
<circle cx="124.18" cy="183.45" r="1.95" fill="#d26f74"/>
<circle cx="129.45" cy="183.45" r="1.95" fill="#d26f74"/>
<circle cx="134.72" cy="183.45" r="1.95" fill="#d26f74"/>
<circle cx="140.00" cy="183.45" r="1.95" fill="#d26f74"/>
<circle cx="145.26" cy="183.45" r="2.54" fill="#a51f26"/>
<circle cx="150.53" cy="183.45" r="2.54" fill="#a51f26"/>
<circle cx="155.81" cy="183.45" r="0.65" fill="#fbf1f1"/>
<circle cx="161.07" cy="183.45" r="2.33" fill="#ba333a"/>
<circle cx="166.34" cy="183.45" r="1.95" fill="#d26f74"/>
<circle cx="171.61" cy="183.45" r="2.54" fill="#a51f26"/>
<circle cx="176.88" cy="183.45" r="2.33" fill="#ba333a"/>
<circle cx="182.16" cy="183.45" r="2.63" fill="#9b161c"/>
<circle cx="187.42" cy="183.45" r="2.54" fill="#a51f26"/>
<circle cx="192.69" cy="183.45" r="2.54" fill="#a51f26"/>
<circle cx="197.96" cy="183.45" r="1.95" fill="#d26f74"/>
<circle cx="203.23" cy="183.45" r="2.33" fill="#ba333a"/>
<circle cx="208.50" cy="183.45" r="1.95" fill="#d26f74"/>
<circle cx="213.77" cy="183.45" r="1.49" fill="#e8afb3"/>
<circle cx="219.04" cy="183.45" r="1.49" fill="#e8afb3"/>
<circle cx="224.31" cy="183.45" r="1.49" fill="#e8afb3"/>
<circle cx="229.58" cy="183.45" r="0.65" fill="#fbf1f1"/>
<circle cx="234.85" cy="183.45" r="1.49" fill="#e8afb3"/>
<circle cx="240.12" cy="183.45" r="0.65" fill="#fbf1f1"/>
<circle cx="245.39" cy="183.45" r="0.65" fill="#fbf1f1"/>
<circle cx="250.66" cy="183.45" r="1.49" fill="#e8afb3"/>
<circle cx="255.93" cy="183.45" r="1.49" fill="#e8afb3"/>
<circle cx="261.20" cy="183.45" r="1.49" fill="#e8afb3"/>
<circle cx="266.48" cy="183.45" r="0.65" fill="#fbf1f1"/>
<circle cx="271.75" cy="183.45" r="2.33" fill="#ba333a"/>
<circle cx="45.13" cy="188.72" r="2.54" fill="#a51f26"/>
<circle cx="50.41" cy="188.72" r="1.56" fill="#d2d2d2"/>
<circle cx="55.67" cy="188.72" r="1.49" fill="#e8afb3"/>
<circle cx="60.95" cy="188.72" r="0.65" fill="#fbf1f1"/>
<circle cx="66.22" cy="188.72" r="2.33" fill="#ba333a"/>
<circle cx="71.48" cy="188.72" r="2.54" fill="#a51f26"/>
<circle cx="76.75" cy="188.72" r="2.54" fill="#a51f26"/>
<circle cx="82.03" cy="188.72" r="2.54" fill="#a51f26"/>
<circle cx="87.29" cy="188.72" r="1.49" fill="#e8afb3"/>
<circle cx="92.56" cy="188.72" r="2.33" fill="#ba333a"/>
<circle cx="97.83" cy="188.72" r="2.54" fill="#a51f26"/>
<circle cx="103.10" cy="188.72" r="2.33" fill="#ba333a"/>
<circle cx="108.38" cy="188.72" r="2.33" fill="#ba333a"/>
<circle cx="113.64" cy="188.72" r="2.33" fill="#ba333a"/>
<circle cx="118.91" cy="188.72" r="0.65" fill="#fbf1f1"/>
<circle cx="124.18" cy="188.72" r="1.95" fill="#d26f74"/>
<circle cx="129.45" cy="188.72" r="1.95" fill="#d26f74"/>
<circle cx="134.72" cy="188.72" r="1.49" fill="#e8afb3"/>
<circle cx="140.00" cy="188.72" r="1.49" fill="#e8afb3"/>
<circle cx="145.26" cy="188.72" r="2.54" fill="#a51f26"/>
<circle cx="150.53" cy="188.72" r="2.54" fill="#a51f26"/>
<circle cx="155.81" cy="188.72" r="1.49" fill="#e8afb3"/>
<circle cx="161.07" cy="188.72" r="2.33" fill="#ba333a"/>
<circle cx="166.34" cy="188.72" r="1.95" fill="#d26f74"/>
<circle cx="171.61" cy="188.72" r="2.33" fill="#ba333a"/>
<circle cx="176.88" cy="188.72" r="2.33" fill="#ba333a"/>
<circle cx="182.16" cy="188.72" r="2.54" fill="#a51f26"/>
<circle cx="187.42" cy="188.72" r="2.63" fill="#9b161c"/>
<circle cx="192.69" cy="188.72" r="2.54" fill="#a51f26"/>
<circle cx="197.96" cy="188.72" r="1.49" fill="#e8afb3"/>
<circle cx="203.23" cy="188.72" r="1.95" fill="#d26f74"/>
<circle cx="208.50" cy="188.72" r="1.49" fill="#e8afb3"/>
<circle cx="213.77" cy="188.72" r="1.49" fill="#e8afb3"/>
<circle cx="219.04" cy="188.72" r="1.49" fill="#e8afb3"/>
<circle cx="224.31" cy="188.72" r="0.65" fill="#fbf1f1"/>
<circle cx="229.58" cy="188.72" r="0.65" fill="#fbf1f1"/>
<circle cx="234.85" cy="188.72" r="0.65" fill="#fbf1f1"/>
<circle cx="240.12" cy="188.72" r="0.65" fill="#fbf1f1"/>
<circle cx="245.39" cy="188.72" r="0.65" fill="#fbf1f1"/>
<circle cx="250.66" cy="188.72" r="1.49" fill="#e8afb3"/>
<circle cx="255.93" cy="188.72" r="1.49" fill="#e8afb3"/>
<circle cx="261.20" cy="188.72" r="1.49" fill="#e8afb3"/>
<circle cx="266.48" cy="188.72" r="0.65" fill="#fbf1f1"/>
<circle cx="271.75" cy="188.72" r="2.54" fill="#a51f26"/>
<circle cx="45.13" cy="194.00" r="2.54" fill="#a51f26"/>
<circle cx="50.41" cy="194.00" r="1.56" fill="#d2d2d2"/>
<circle cx="55.67" cy="194.00" r="1.49" fill="#e8afb3"/>
<circle cx="60.95" cy="194.00" r="0.65" fill="#fbf1f1"/>
<circle cx="66.22" cy="194.00" r="2.33" fill="#ba333a"/>
<circle cx="71.48" cy="194.00" r="2.54" fill="#a51f26"/>
<circle cx="76.75" cy="194.00" r="2.54" fill="#a51f26"/>
<circle cx="82.03" cy="194.00" r="2.54" fill="#a51f26"/>
<circle cx="87.29" cy="194.00" r="1.49" fill="#e8afb3"/>
<circle cx="92.56" cy="194.00" r="2.33" fill="#ba333a"/>
<circle cx="97.83" cy="194.00" r="2.54" fill="#a51f26"/>
<circle cx="103.10" cy="194.00" r="2.54" fill="#a51f26"/>
<circle cx="108.38" cy="194.00" r="2.33" fill="#ba333a"/>
<circle cx="113.64" cy="194.00" r="2.33" fill="#ba333a"/>
<circle cx="118.91" cy="194.00" r="0.65" fill="#fbf1f1"/>
<circle cx="124.18" cy="194.00" r="0.65" fill="#fbf1f1"/>
<circle cx="129.45" cy="194.00" r="2.33" fill="#ba333a"/>
<circle cx="134.72" cy="194.00" r="1.49" fill="#e8afb3"/>
<circle cx="140.00" cy="194.00" r="1.49" fill="#e8afb3"/>
<circle cx="145.26" cy="194.00" r="2.33" fill="#ba333a"/>
<circle cx="150.53" cy="194.00" r="2.33" fill="#ba333a"/>
<circle cx="155.81" cy="194.00" r="1.49" fill="#e8afb3"/>
<circle cx="161.07" cy="194.00" r="2.33" fill="#ba333a"/>
<circle cx="166.34" cy="194.00" r="1.49" fill="#e8afb3"/>
<circle cx="171.61" cy="194.00" r="2.33" fill="#ba333a"/>
<circle cx="176.88" cy="194.00" r="1.95" fill="#d26f74"/>
<circle cx="182.16" cy="194.00" r="2.54" fill="#a51f26"/>
<circle cx="187.42" cy="194.00" r="2.54" fill="#a51f26"/>
<circle cx="192.69" cy="194.00" r="2.63" fill="#9b161c"/>
<circle cx="197.96" cy="194.00" r="1.49" fill="#e8afb3"/>
<circle cx="203.23" cy="194.00" r="1.95" fill="#d26f74"/>
<circle cx="208.50" cy="194.00" r="1.49" fill="#e8afb3"/>
<circle cx="213.77" cy="194.00" r="1.49" fill="#e8afb3"/>
<circle cx="219.04" cy="194.00" r="1.49" fill="#e8afb3"/>
<circle cx="224.31" cy="194.00" r="1.49" fill="#e8afb3"/>
<circle cx="229.58" cy="194.00" r="1.56" fill="#d2d2d2"/>
<circle cx="234.85" cy="194.00" r="0.65" fill="#fbf1f1"/>
<circle cx="240.12" cy="194.00" r="0.65" fill="#fbf1f1"/>
<circle cx="245.39" cy="194.00" r="1.49" fill="#e8afb3"/>
<circle cx="250.66" cy="194.00" r="1.49" fill="#e8afb3"/>
<circle cx="255.93" cy="194.00" r="1.49" fill="#e8afb3"/>
<circle cx="261.20" cy="194.00" r="1.49" fill="#e8afb3"/>
<circle cx="266.48" cy="194.00" r="0.65" fill="#fbf1f1"/>
<circle cx="271.75" cy="194.00" r="2.33" fill="#ba333a"/>
<circle cx="45.13" cy="199.26" r="0.65" fill="#fbf1f1"/>
<circle cx="50.41" cy="199.26" r="1.56" fill="#d2d2d2"/>
<circle cx="55.67" cy="199.26" r="0.65" fill="#fbf1f1"/>
<circle cx="60.95" cy="199.26" r="0.65" fill="#fbf1f1"/>
<circle cx="66.22" cy="199.26" r="0.65" fill="#fbf1f1"/>
<circle cx="71.48" cy="199.26" r="0.65" fill="#fbf1f1"/>
<circle cx="76.75" cy="199.26" r="1.49" fill="#e8afb3"/>
<circle cx="82.03" cy="199.26" r="1.49" fill="#e8afb3"/>
<circle cx="87.29" cy="199.26" r="1.49" fill="#e8afb3"/>
<circle cx="92.56" cy="199.26" r="1.49" fill="#e8afb3"/>
<circle cx="97.83" cy="199.26" r="0.65" fill="#fbf1f1"/>
<circle cx="103.10" cy="199.26" r="0.65" fill="#fbf1f1"/>
<circle cx="108.38" cy="199.26" r="2.33" fill="#ba333a"/>
<circle cx="113.64" cy="199.26" r="1.49" fill="#e8afb3"/>
<circle cx="118.91" cy="199.26" r="0.65" fill="#fbf1f1"/>
<circle cx="124.18" cy="199.26" r="1.56" fill="#d2d2d2"/>
<circle cx="129.45" cy="199.26" r="1.49" fill="#e8afb3"/>
<circle cx="134.72" cy="199.26" r="2.33" fill="#ba333a"/>
<circle cx="140.00" cy="199.26" r="1.95" fill="#d26f74"/>
<circle cx="145.26" cy="199.26" r="1.95" fill="#d26f74"/>
<circle cx="150.53" cy="199.26" r="1.95" fill="#d26f74"/>
<circle cx="155.81" cy="199.26" r="1.49" fill="#e8afb3"/>
<circle cx="161.07" cy="199.26" r="1.95" fill="#d26f74"/>
<circle cx="166.34" cy="199.26" r="2.33" fill="#ba333a"/>
<circle cx="171.61" cy="199.26" r="1.95" fill="#d26f74"/>
<circle cx="176.88" cy="199.26" r="2.33" fill="#ba333a"/>
<circle cx="182.16" cy="199.26" r="1.95" fill="#d26f74"/>
<circle cx="187.42" cy="199.26" r="1.49" fill="#e8afb3"/>
<circle cx="192.69" cy="199.26" r="1.49" fill="#e8afb3"/>
<circle cx="197.96" cy="199.26" r="2.63" fill="#9b161c"/>
<circle cx="203.23" cy="199.26" r="2.33" fill="#ba333a"/>
<circle cx="208.50" cy="199.26" r="2.33" fill="#ba333a"/>
<circle cx="213.77" cy="199.26" r="1.95" fill="#d26f74"/>
<circle cx="219.04" cy="199.26" r="1.95" fill="#d26f74"/>
<circle cx="224.31" cy="199.26" r="1.95" fill="#d26f74"/>
<circle cx="229.58" cy="199.26" r="0.65" fill="#fbf1f1"/>
<circle cx="234.85" cy="199.26" r="0.65" fill="#fbf1f1"/>
<circle cx="240.12" cy="199.26" r="1.49" fill="#e8afb3"/>
<circle cx="245.39" cy="199.26" r="1.49" fill="#e8afb3"/>
<circle cx="250.66" cy="199.26" r="2.33" fill="#ba333a"/>
<circle cx="255.93" cy="199.26" r="2.33" fill="#ba333a"/>
<circle cx="261.20" cy="199.26" r="1.95" fill="#d26f74"/>
<circle cx="266.48" cy="199.26" r="0.65" fill="#fbf1f1"/>
<circle cx="271.75" cy="199.26" r="2.33" fill="#ba333a"/>
<circle cx="45.13" cy="204.53" r="1.49" fill="#e8afb3"/>
<circle cx="50.41" cy="204.53" r="1.56" fill="#d2d2d2"/>
<circle cx="55.67" cy="204.53" r="0.65" fill="#fbf1f1"/>
<circle cx="60.95" cy="204.53" r="1.56" fill="#d2d2d2"/>
<circle cx="66.22" cy="204.53" r="0.65" fill="#fbf1f1"/>
<circle cx="71.48" cy="204.53" r="1.49" fill="#e8afb3"/>
<circle cx="76.75" cy="204.53" r="1.49" fill="#e8afb3"/>
<circle cx="82.03" cy="204.53" r="1.95" fill="#d26f74"/>
<circle cx="87.29" cy="204.53" r="1.49" fill="#e8afb3"/>
<circle cx="92.56" cy="204.53" r="1.49" fill="#e8afb3"/>
<circle cx="97.83" cy="204.53" r="1.49" fill="#e8afb3"/>
<circle cx="103.10" cy="204.53" r="1.49" fill="#e8afb3"/>
<circle cx="108.38" cy="204.53" r="2.54" fill="#a51f26"/>
<circle cx="113.64" cy="204.53" r="2.33" fill="#ba333a"/>
<circle cx="118.91" cy="204.53" r="0.65" fill="#fbf1f1"/>
<circle cx="124.18" cy="204.53" r="1.56" fill="#d2d2d2"/>
<circle cx="129.45" cy="204.53" r="0.65" fill="#fbf1f1"/>
<circle cx="134.72" cy="204.53" r="2.54" fill="#a51f26"/>
<circle cx="140.00" cy="204.53" r="2.54" fill="#a51f26"/>
<circle cx="145.26" cy="204.53" r="2.54" fill="#a51f26"/>
<circle cx="150.53" cy="204.53" r="2.54" fill="#a51f26"/>
<circle cx="155.81" cy="204.53" r="1.95" fill="#d26f74"/>
<circle cx="161.07" cy="204.53" r="2.54" fill="#a51f26"/>
<circle cx="166.34" cy="204.53" r="2.54" fill="#a51f26"/>
<circle cx="171.61" cy="204.53" r="2.33" fill="#ba333a"/>
<circle cx="176.88" cy="204.53" r="2.54" fill="#a51f26"/>
<circle cx="182.16" cy="204.53" r="2.33" fill="#ba333a"/>
<circle cx="187.42" cy="204.53" r="1.95" fill="#d26f74"/>
<circle cx="192.69" cy="204.53" r="1.95" fill="#d26f74"/>
<circle cx="197.96" cy="204.53" r="2.33" fill="#ba333a"/>
<circle cx="203.23" cy="204.53" r="2.63" fill="#9b161c"/>
<circle cx="208.50" cy="204.53" r="2.54" fill="#a51f26"/>
<circle cx="213.77" cy="204.53" r="2.33" fill="#ba333a"/>
<circle cx="219.04" cy="204.53" r="1.95" fill="#d26f74"/>
<circle cx="224.31" cy="204.53" r="1.95" fill="#d26f74"/>
<circle cx="229.58" cy="204.53" r="0.65" fill="#fbf1f1"/>
<circle cx="234.85" cy="204.53" r="1.49" fill="#e8afb3"/>
<circle cx="240.12" cy="204.53" r="0.65" fill="#fbf1f1"/>
<circle cx="245.39" cy="204.53" r="1.49" fill="#e8afb3"/>
<circle cx="250.66" cy="204.53" r="1.95" fill="#d26f74"/>
<circle cx="255.93" cy="204.53" r="1.95" fill="#d26f74"/>
<circle cx="261.20" cy="204.53" r="1.95" fill="#d26f74"/>
<circle cx="266.48" cy="204.53" r="1.49" fill="#e8afb3"/>
<circle cx="271.75" cy="204.53" r="2.54" fill="#a51f26"/>
<circle cx="45.13" cy="209.81" r="0.65" fill="#fbf1f1"/>
<circle cx="50.41" cy="209.81" r="1.56" fill="#d2d2d2"/>
<circle cx="55.67" cy="209.81" r="1.56" fill="#d2d2d2"/>
<circle cx="60.95" cy="209.81" r="1.86" fill="#bfbfbf"/>
<circle cx="66.22" cy="209.81" r="1.56" fill="#d2d2d2"/>
<circle cx="71.48" cy="209.81" r="0.65" fill="#fbf1f1"/>
<circle cx="76.75" cy="209.81" r="0.65" fill="#fbf1f1"/>
<circle cx="82.03" cy="209.81" r="0.65" fill="#fbf1f1"/>
<circle cx="87.29" cy="209.81" r="1.49" fill="#e8afb3"/>
<circle cx="92.56" cy="209.81" r="1.49" fill="#e8afb3"/>
<circle cx="97.83" cy="209.81" r="0.65" fill="#fbf1f1"/>
<circle cx="103.10" cy="209.81" r="0.65" fill="#fbf1f1"/>
<circle cx="108.38" cy="209.81" r="2.33" fill="#ba333a"/>
<circle cx="113.64" cy="209.81" r="1.95" fill="#d26f74"/>
<circle cx="118.91" cy="209.81" r="1.49" fill="#e8afb3"/>
<circle cx="124.18" cy="209.81" r="1.49" fill="#e8afb3"/>
<circle cx="129.45" cy="209.81" r="1.49" fill="#e8afb3"/>
<circle cx="134.72" cy="209.81" r="2.54" fill="#a51f26"/>
<circle cx="140.00" cy="209.81" r="2.54" fill="#a51f26"/>
<circle cx="145.26" cy="209.81" r="2.33" fill="#ba333a"/>
<circle cx="150.53" cy="209.81" r="2.33" fill="#ba333a"/>
<circle cx="155.81" cy="209.81" r="1.95" fill="#d26f74"/>
<circle cx="161.07" cy="209.81" r="2.33" fill="#ba333a"/>
<circle cx="166.34" cy="209.81" r="2.33" fill="#ba333a"/>
<circle cx="171.61" cy="209.81" r="1.95" fill="#d26f74"/>
<circle cx="176.88" cy="209.81" r="2.33" fill="#ba333a"/>
<circle cx="182.16" cy="209.81" r="1.95" fill="#d26f74"/>
<circle cx="187.42" cy="209.81" r="1.49" fill="#e8afb3"/>
<circle cx="192.69" cy="209.81" r="1.49" fill="#e8afb3"/>
<circle cx="197.96" cy="209.81" r="2.33" fill="#ba333a"/>
<circle cx="203.23" cy="209.81" r="2.54" fill="#a51f26"/>
<circle cx="208.50" cy="209.81" r="2.63" fill="#9b161c"/>
<circle cx="213.77" cy="209.81" r="2.33" fill="#ba333a"/>
<circle cx="219.04" cy="209.81" r="1.95" fill="#d26f74"/>
<circle cx="224.31" cy="209.81" r="1.49" fill="#e8afb3"/>
<circle cx="229.58" cy="209.81" r="1.49" fill="#e8afb3"/>
<circle cx="234.85" cy="209.81" r="1.49" fill="#e8afb3"/>
<circle cx="240.12" cy="209.81" r="1.49" fill="#e8afb3"/>
<circle cx="245.39" cy="209.81" r="1.49" fill="#e8afb3"/>
<circle cx="250.66" cy="209.81" r="1.95" fill="#d26f74"/>
<circle cx="255.93" cy="209.81" r="1.49" fill="#e8afb3"/>
<circle cx="261.20" cy="209.81" r="1.49" fill="#e8afb3"/>
<circle cx="266.48" cy="209.81" r="1.49" fill="#e8afb3"/>
<circle cx="271.75" cy="209.81" r="2.33" fill="#ba333a"/>
<circle cx="45.13" cy="215.07" r="0.65" fill="#fbf1f1"/>
<circle cx="50.41" cy="215.07" r="0.65" fill="#fbf1f1"/>
<circle cx="55.67" cy="215.07" r="0.65" fill="#fbf1f1"/>
<circle cx="60.95" cy="215.07" r="0.65" fill="#fbf1f1"/>
<circle cx="66.22" cy="215.07" r="1.86" fill="#bfbfbf"/>
<circle cx="71.48" cy="215.07" r="0.65" fill="#fbf1f1"/>
<circle cx="76.75" cy="215.07" r="0.65" fill="#fbf1f1"/>
<circle cx="82.03" cy="215.07" r="0.65" fill="#fbf1f1"/>
<circle cx="87.29" cy="215.07" r="1.49" fill="#e8afb3"/>
<circle cx="92.56" cy="215.07" r="0.65" fill="#fbf1f1"/>
<circle cx="97.83" cy="215.07" r="0.65" fill="#fbf1f1"/>
<circle cx="103.10" cy="215.07" r="0.65" fill="#fbf1f1"/>
<circle cx="108.38" cy="215.07" r="1.95" fill="#d26f74"/>
<circle cx="113.64" cy="215.07" r="1.49" fill="#e8afb3"/>
<circle cx="118.91" cy="215.07" r="2.33" fill="#ba333a"/>
<circle cx="124.18" cy="215.07" r="0.65" fill="#fbf1f1"/>
<circle cx="129.45" cy="215.07" r="0.65" fill="#fbf1f1"/>
<circle cx="134.72" cy="215.07" r="2.33" fill="#ba333a"/>
<circle cx="140.00" cy="215.07" r="2.33" fill="#ba333a"/>
<circle cx="145.26" cy="215.07" r="2.33" fill="#ba333a"/>
<circle cx="150.53" cy="215.07" r="1.95" fill="#d26f74"/>
<circle cx="155.81" cy="215.07" r="2.54" fill="#a51f26"/>
<circle cx="161.07" cy="215.07" r="1.95" fill="#d26f74"/>
<circle cx="166.34" cy="215.07" r="1.95" fill="#d26f74"/>
<circle cx="171.61" cy="215.07" r="1.49" fill="#e8afb3"/>
<circle cx="176.88" cy="215.07" r="1.95" fill="#d26f74"/>
<circle cx="182.16" cy="215.07" r="1.49" fill="#e8afb3"/>
<circle cx="187.42" cy="215.07" r="1.49" fill="#e8afb3"/>
<circle cx="192.69" cy="215.07" r="0.65" fill="#fbf1f1"/>
<circle cx="197.96" cy="215.07" r="1.95" fill="#d26f74"/>
<circle cx="203.23" cy="215.07" r="2.33" fill="#ba333a"/>
<circle cx="208.50" cy="215.07" r="2.33" fill="#ba333a"/>
<circle cx="213.77" cy="215.07" r="2.63" fill="#9b161c"/>
<circle cx="219.04" cy="215.07" r="1.95" fill="#d26f74"/>
<circle cx="224.31" cy="215.07" r="1.95" fill="#d26f74"/>
<circle cx="229.58" cy="215.07" r="1.56" fill="#d2d2d2"/>
<circle cx="234.85" cy="215.07" r="1.49" fill="#e8afb3"/>
<circle cx="240.12" cy="215.07" r="1.49" fill="#e8afb3"/>
<circle cx="245.39" cy="215.07" r="1.49" fill="#e8afb3"/>
<circle cx="250.66" cy="215.07" r="1.49" fill="#e8afb3"/>
<circle cx="255.93" cy="215.07" r="1.49" fill="#e8afb3"/>
<circle cx="261.20" cy="215.07" r="1.49" fill="#e8afb3"/>
<circle cx="266.48" cy="215.07" r="1.56" fill="#d2d2d2"/>
<circle cx="271.75" cy="215.07" r="2.33" fill="#ba333a"/>
<circle cx="45.13" cy="220.34" r="1.56" fill="#d2d2d2"/>
<circle cx="50.41" cy="220.34" r="0.65" fill="#fbf1f1"/>
<circle cx="55.67" cy="220.34" r="0.65" fill="#fbf1f1"/>
<circle cx="60.95" cy="220.34" r="1.56" fill="#d2d2d2"/>
<circle cx="66.22" cy="220.34" r="1.56" fill="#d2d2d2"/>
<circle cx="71.48" cy="220.34" r="0.65" fill="#fbf1f1"/>
<circle cx="76.75" cy="220.34" r="0.65" fill="#fbf1f1"/>
<circle cx="82.03" cy="220.34" r="0.65" fill="#fbf1f1"/>
<circle cx="87.29" cy="220.34" r="1.95" fill="#d26f74"/>
<circle cx="92.56" cy="220.34" r="0.65" fill="#fbf1f1"/>
<circle cx="97.83" cy="220.34" r="1.56" fill="#d2d2d2"/>
<circle cx="103.10" cy="220.34" r="1.56" fill="#d2d2d2"/>
<circle cx="108.38" cy="220.34" r="2.33" fill="#ba333a"/>
<circle cx="113.64" cy="220.34" r="1.49" fill="#e8afb3"/>
<circle cx="118.91" cy="220.34" r="0.65" fill="#fbf1f1"/>
<circle cx="124.18" cy="220.34" r="0.65" fill="#fbf1f1"/>
<circle cx="129.45" cy="220.34" r="0.65" fill="#fbf1f1"/>
<circle cx="134.72" cy="220.34" r="2.54" fill="#a51f26"/>
<circle cx="140.00" cy="220.34" r="1.95" fill="#d26f74"/>
<circle cx="145.26" cy="220.34" r="1.95" fill="#d26f74"/>
<circle cx="150.53" cy="220.34" r="1.95" fill="#d26f74"/>
<circle cx="155.81" cy="220.34" r="0.65" fill="#fbf1f1"/>
<circle cx="161.07" cy="220.34" r="1.95" fill="#d26f74"/>
<circle cx="166.34" cy="220.34" r="2.54" fill="#a51f26"/>
<circle cx="171.61" cy="220.34" r="1.95" fill="#d26f74"/>
<circle cx="176.88" cy="220.34" r="2.54" fill="#a51f26"/>
<circle cx="182.16" cy="220.34" r="1.49" fill="#e8afb3"/>
<circle cx="187.42" cy="220.34" r="1.49" fill="#e8afb3"/>
<circle cx="192.69" cy="220.34" r="1.49" fill="#e8afb3"/>
<circle cx="197.96" cy="220.34" r="2.33" fill="#ba333a"/>
<circle cx="203.23" cy="220.34" r="2.33" fill="#ba333a"/>
<circle cx="208.50" cy="220.34" r="2.33" fill="#ba333a"/>
<circle cx="213.77" cy="220.34" r="1.95" fill="#d26f74"/>
<circle cx="219.04" cy="220.34" r="2.63" fill="#9b161c"/>
<circle cx="224.31" cy="220.34" r="2.33" fill="#ba333a"/>
<circle cx="229.58" cy="220.34" r="0.65" fill="#fbf1f1"/>
<circle cx="234.85" cy="220.34" r="1.49" fill="#e8afb3"/>
<circle cx="240.12" cy="220.34" r="1.95" fill="#d26f74"/>
<circle cx="245.39" cy="220.34" r="0.65" fill="#fbf1f1"/>
<circle cx="250.66" cy="220.34" r="2.33" fill="#ba333a"/>
<circle cx="255.93" cy="220.34" r="1.95" fill="#d26f74"/>
<circle cx="261.20" cy="220.34" r="1.95" fill="#d26f74"/>
<circle cx="266.48" cy="220.34" r="1.49" fill="#e8afb3"/>
<circle cx="271.75" cy="220.34" r="1.95" fill="#d26f74"/>
<circle cx="45.13" cy="225.62" r="1.56" fill="#d2d2d2"/>
<circle cx="50.41" cy="225.62" r="1.56" fill="#d2d2d2"/>
<circle cx="55.67" cy="225.62" r="1.56" fill="#d2d2d2"/>
<circle cx="60.95" cy="225.62" r="1.86" fill="#bfbfbf"/>
<circle cx="66.22" cy="225.62" r="1.56" fill="#d2d2d2"/>
<circle cx="71.48" cy="225.62" r="1.56" fill="#d2d2d2"/>
<circle cx="76.75" cy="225.62" r="0.65" fill="#fbf1f1"/>
<circle cx="82.03" cy="225.62" r="0.65" fill="#fbf1f1"/>
<circle cx="87.29" cy="225.62" r="1.49" fill="#e8afb3"/>
<circle cx="92.56" cy="225.62" r="0.65" fill="#fbf1f1"/>
<circle cx="97.83" cy="225.62" r="0.65" fill="#fbf1f1"/>
<circle cx="103.10" cy="225.62" r="1.56" fill="#d2d2d2"/>
<circle cx="108.38" cy="225.62" r="2.33" fill="#ba333a"/>
<circle cx="113.64" cy="225.62" r="0.65" fill="#fbf1f1"/>
<circle cx="118.91" cy="225.62" r="0.65" fill="#fbf1f1"/>
<circle cx="124.18" cy="225.62" r="1.56" fill="#d2d2d2"/>
<circle cx="129.45" cy="225.62" r="0.65" fill="#fbf1f1"/>
<circle cx="134.72" cy="225.62" r="2.54" fill="#a51f26"/>
<circle cx="140.00" cy="225.62" r="1.49" fill="#e8afb3"/>
<circle cx="145.26" cy="225.62" r="1.49" fill="#e8afb3"/>
<circle cx="150.53" cy="225.62" r="1.49" fill="#e8afb3"/>
<circle cx="155.81" cy="225.62" r="0.65" fill="#fbf1f1"/>
<circle cx="161.07" cy="225.62" r="1.95" fill="#d26f74"/>
<circle cx="166.34" cy="225.62" r="2.54" fill="#a51f26"/>
<circle cx="171.61" cy="225.62" r="1.95" fill="#d26f74"/>
<circle cx="176.88" cy="225.62" r="2.54" fill="#a51f26"/>
<circle cx="182.16" cy="225.62" r="1.49" fill="#e8afb3"/>
<circle cx="187.42" cy="225.62" r="1.49" fill="#e8afb3"/>
<circle cx="192.69" cy="225.62" r="0.65" fill="#fbf1f1"/>
<circle cx="197.96" cy="225.62" r="2.33" fill="#ba333a"/>
<circle cx="203.23" cy="225.62" r="2.33" fill="#ba333a"/>
<circle cx="208.50" cy="225.62" r="2.33" fill="#ba333a"/>
<circle cx="213.77" cy="225.62" r="1.49" fill="#e8afb3"/>
<circle cx="219.04" cy="225.62" r="2.33" fill="#ba333a"/>
<circle cx="224.31" cy="225.62" r="2.63" fill="#9b161c"/>
<circle cx="229.58" cy="225.62" r="1.95" fill="#d26f74"/>
<circle cx="234.85" cy="225.62" r="1.49" fill="#e8afb3"/>
<circle cx="240.12" cy="225.62" r="1.49" fill="#e8afb3"/>
<circle cx="245.39" cy="225.62" r="0.65" fill="#fbf1f1"/>
<circle cx="250.66" cy="225.62" r="2.33" fill="#ba333a"/>
<circle cx="255.93" cy="225.62" r="2.33" fill="#ba333a"/>
<circle cx="261.20" cy="225.62" r="2.33" fill="#ba333a"/>
<circle cx="266.48" cy="225.62" r="1.49" fill="#e8afb3"/>
<circle cx="271.75" cy="225.62" r="2.33" fill="#ba333a"/>
<circle cx="45.13" cy="230.88" r="1.56" fill="#d2d2d2"/>
<circle cx="50.41" cy="230.88" r="1.56" fill="#d2d2d2"/>
<circle cx="55.67" cy="230.88" r="0.65" fill="#fbf1f1"/>
<circle cx="60.95" cy="230.88" r="1.86" fill="#bfbfbf"/>
<circle cx="66.22" cy="230.88" r="0.65" fill="#fbf1f1"/>
<circle cx="71.48" cy="230.88" r="1.56" fill="#d2d2d2"/>
<circle cx="76.75" cy="230.88" r="0.65" fill="#fbf1f1"/>
<circle cx="82.03" cy="230.88" r="0.65" fill="#fbf1f1"/>
<circle cx="87.29" cy="230.88" r="0.65" fill="#fbf1f1"/>
<circle cx="92.56" cy="230.88" r="0.65" fill="#fbf1f1"/>
<circle cx="97.83" cy="230.88" r="0.65" fill="#fbf1f1"/>
<circle cx="103.10" cy="230.88" r="1.56" fill="#d2d2d2"/>
<circle cx="108.38" cy="230.88" r="0.65" fill="#fbf1f1"/>
<circle cx="113.64" cy="230.88" r="0.65" fill="#fbf1f1"/>
<circle cx="118.91" cy="230.88" r="0.65" fill="#fbf1f1"/>
<circle cx="124.18" cy="230.88" r="0.65" fill="#fbf1f1"/>
<circle cx="129.45" cy="230.88" r="0.65" fill="#fbf1f1"/>
<circle cx="134.72" cy="230.88" r="0.65" fill="#fbf1f1"/>
<circle cx="140.00" cy="230.88" r="0.65" fill="#fbf1f1"/>
<circle cx="145.26" cy="230.88" r="1.49" fill="#e8afb3"/>
<circle cx="150.53" cy="230.88" r="0.65" fill="#fbf1f1"/>
<circle cx="155.81" cy="230.88" r="0.65" fill="#fbf1f1"/>
<circle cx="161.07" cy="230.88" r="0.65" fill="#fbf1f1"/>
<circle cx="166.34" cy="230.88" r="1.49" fill="#e8afb3"/>
<circle cx="171.61" cy="230.88" r="1.49" fill="#e8afb3"/>
<circle cx="176.88" cy="230.88" r="1.49" fill="#e8afb3"/>
<circle cx="182.16" cy="230.88" r="0.65" fill="#fbf1f1"/>
<circle cx="187.42" cy="230.88" r="0.65" fill="#fbf1f1"/>
<circle cx="192.69" cy="230.88" r="1.56" fill="#d2d2d2"/>
<circle cx="197.96" cy="230.88" r="0.65" fill="#fbf1f1"/>
<circle cx="203.23" cy="230.88" r="0.65" fill="#fbf1f1"/>
<circle cx="208.50" cy="230.88" r="1.49" fill="#e8afb3"/>
<circle cx="213.77" cy="230.88" r="1.56" fill="#d2d2d2"/>
<circle cx="219.04" cy="230.88" r="0.65" fill="#fbf1f1"/>
<circle cx="224.31" cy="230.88" r="1.95" fill="#d26f74"/>
<circle cx="229.58" cy="230.88" r="2.63" fill="#9b161c"/>
<circle cx="234.85" cy="230.88" r="1.49" fill="#e8afb3"/>
<circle cx="240.12" cy="230.88" r="0.65" fill="#fbf1f1"/>
<circle cx="245.39" cy="230.88" r="1.49" fill="#e8afb3"/>
<circle cx="250.66" cy="230.88" r="1.49" fill="#e8afb3"/>
<circle cx="255.93" cy="230.88" r="2.33" fill="#ba333a"/>
<circle cx="261.20" cy="230.88" r="1.95" fill="#d26f74"/>
<circle cx="266.48" cy="230.88" r="1.49" fill="#e8afb3"/>
<circle cx="271.75" cy="230.88" r="0.65" fill="#fbf1f1"/>
<circle cx="45.13" cy="236.15" r="0.65" fill="#fbf1f1"/>
<circle cx="50.41" cy="236.15" r="1.56" fill="#d2d2d2"/>
<circle cx="55.67" cy="236.15" r="1.56" fill="#d2d2d2"/>
<circle cx="60.95" cy="236.15" r="2.20" fill="#a6a6a6"/>
<circle cx="66.22" cy="236.15" r="0.65" fill="#fbf1f1"/>
<circle cx="71.48" cy="236.15" r="0.65" fill="#fbf1f1"/>
<circle cx="76.75" cy="236.15" r="0.65" fill="#fbf1f1"/>
<circle cx="82.03" cy="236.15" r="0.65" fill="#fbf1f1"/>
<circle cx="87.29" cy="236.15" r="1.56" fill="#d2d2d2"/>
<circle cx="92.56" cy="236.15" r="1.56" fill="#d2d2d2"/>
<circle cx="97.83" cy="236.15" r="1.56" fill="#d2d2d2"/>
<circle cx="103.10" cy="236.15" r="1.86" fill="#bfbfbf"/>
<circle cx="108.38" cy="236.15" r="1.49" fill="#e8afb3"/>
<circle cx="113.64" cy="236.15" r="1.49" fill="#e8afb3"/>
<circle cx="118.91" cy="236.15" r="0.65" fill="#fbf1f1"/>
<circle cx="124.18" cy="236.15" r="0.65" fill="#fbf1f1"/>
<circle cx="129.45" cy="236.15" r="0.65" fill="#fbf1f1"/>
<circle cx="134.72" cy="236.15" r="1.49" fill="#e8afb3"/>
<circle cx="140.00" cy="236.15" r="1.49" fill="#e8afb3"/>
<circle cx="145.26" cy="236.15" r="1.49" fill="#e8afb3"/>
<circle cx="150.53" cy="236.15" r="1.49" fill="#e8afb3"/>
<circle cx="155.81" cy="236.15" r="1.56" fill="#d2d2d2"/>
<circle cx="161.07" cy="236.15" r="1.49" fill="#e8afb3"/>
<circle cx="166.34" cy="236.15" r="1.49" fill="#e8afb3"/>
<circle cx="171.61" cy="236.15" r="1.49" fill="#e8afb3"/>
<circle cx="176.88" cy="236.15" r="1.49" fill="#e8afb3"/>
<circle cx="182.16" cy="236.15" r="0.65" fill="#fbf1f1"/>
<circle cx="187.42" cy="236.15" r="1.49" fill="#e8afb3"/>
<circle cx="192.69" cy="236.15" r="0.65" fill="#fbf1f1"/>
<circle cx="197.96" cy="236.15" r="0.65" fill="#fbf1f1"/>
<circle cx="203.23" cy="236.15" r="1.49" fill="#e8afb3"/>
<circle cx="208.50" cy="236.15" r="1.49" fill="#e8afb3"/>
<circle cx="213.77" cy="236.15" r="1.49" fill="#e8afb3"/>
<circle cx="219.04" cy="236.15" r="1.49" fill="#e8afb3"/>
<circle cx="224.31" cy="236.15" r="1.49" fill="#e8afb3"/>
<circle cx="229.58" cy="236.15" r="1.49" fill="#e8afb3"/>
<circle cx="234.85" cy="236.15" r="2.63" fill="#9b161c"/>
<circle cx="240.12" cy="236.15" r="1.49" fill="#e8afb3"/>
<circle cx="245.39" cy="236.15" r="1.95" fill="#d26f74"/>
<circle cx="250.66" cy="236.15" r="1.49" fill="#e8afb3"/>
<circle cx="255.93" cy="236.15" r="1.49" fill="#e8afb3"/>
<circle cx="261.20" cy="236.15" r="1.49" fill="#e8afb3"/>
<circle cx="266.48" cy="236.15" r="1.56" fill="#d2d2d2"/>
<circle cx="271.75" cy="236.15" r="2.33" fill="#ba333a"/>
<circle cx="45.13" cy="241.42" r="1.56" fill="#d2d2d2"/>
<circle cx="50.41" cy="241.42" r="1.95" fill="#d26f74"/>
<circle cx="55.67" cy="241.42" r="1.56" fill="#d2d2d2"/>
<circle cx="60.95" cy="241.42" r="1.49" fill="#e8afb3"/>
<circle cx="66.22" cy="241.42" r="1.56" fill="#d2d2d2"/>
<circle cx="71.48" cy="241.42" r="0.65" fill="#fbf1f1"/>
<circle cx="76.75" cy="241.42" r="0.65" fill="#fbf1f1"/>
<circle cx="82.03" cy="241.42" r="0.65" fill="#fbf1f1"/>
<circle cx="87.29" cy="241.42" r="0.65" fill="#fbf1f1"/>
<circle cx="92.56" cy="241.42" r="0.65" fill="#fbf1f1"/>
<circle cx="97.83" cy="241.42" r="0.65" fill="#fbf1f1"/>
<circle cx="103.10" cy="241.42" r="0.65" fill="#fbf1f1"/>
<circle cx="108.38" cy="241.42" r="1.49" fill="#e8afb3"/>
<circle cx="113.64" cy="241.42" r="0.65" fill="#fbf1f1"/>
<circle cx="118.91" cy="241.42" r="1.56" fill="#d2d2d2"/>
<circle cx="124.18" cy="241.42" r="1.86" fill="#bfbfbf"/>
<circle cx="129.45" cy="241.42" r="1.49" fill="#e8afb3"/>
<circle cx="134.72" cy="241.42" r="1.49" fill="#e8afb3"/>
<circle cx="140.00" cy="241.42" r="1.49" fill="#e8afb3"/>
<circle cx="145.26" cy="241.42" r="1.49" fill="#e8afb3"/>
<circle cx="150.53" cy="241.42" r="0.65" fill="#fbf1f1"/>
<circle cx="155.81" cy="241.42" r="0.65" fill="#fbf1f1"/>
<circle cx="161.07" cy="241.42" r="0.65" fill="#fbf1f1"/>
<circle cx="166.34" cy="241.42" r="1.95" fill="#d26f74"/>
<circle cx="171.61" cy="241.42" r="1.95" fill="#d26f74"/>
<circle cx="176.88" cy="241.42" r="1.95" fill="#d26f74"/>
<circle cx="182.16" cy="241.42" r="1.95" fill="#d26f74"/>
<circle cx="187.42" cy="241.42" r="0.65" fill="#fbf1f1"/>
<circle cx="192.69" cy="241.42" r="0.65" fill="#fbf1f1"/>
<circle cx="197.96" cy="241.42" r="1.49" fill="#e8afb3"/>
<circle cx="203.23" cy="241.42" r="1.49" fill="#e8afb3"/>
<circle cx="208.50" cy="241.42" r="1.49" fill="#e8afb3"/>
<circle cx="213.77" cy="241.42" r="0.65" fill="#fbf1f1"/>
<circle cx="219.04" cy="241.42" r="1.95" fill="#d26f74"/>
<circle cx="224.31" cy="241.42" r="1.49" fill="#e8afb3"/>
<circle cx="229.58" cy="241.42" r="0.65" fill="#fbf1f1"/>
<circle cx="234.85" cy="241.42" r="1.49" fill="#e8afb3"/>
<circle cx="240.12" cy="241.42" r="2.63" fill="#9b161c"/>
<circle cx="245.39" cy="241.42" r="1.56" fill="#d2d2d2"/>
<circle cx="250.66" cy="241.42" r="1.49" fill="#e8afb3"/>
<circle cx="255.93" cy="241.42" r="1.49" fill="#e8afb3"/>
<circle cx="261.20" cy="241.42" r="1.49" fill="#e8afb3"/>
<circle cx="266.48" cy="241.42" r="0.65" fill="#fbf1f1"/>
<circle cx="271.75" cy="241.42" r="1.49" fill="#e8afb3"/>
<circle cx="45.13" cy="246.69" r="0.65" fill="#fbf1f1"/>
<circle cx="50.41" cy="246.69" r="1.56" fill="#d2d2d2"/>
<circle cx="55.67" cy="246.69" r="1.56" fill="#d2d2d2"/>
<circle cx="60.95" cy="246.69" r="1.56" fill="#d2d2d2"/>
<circle cx="66.22" cy="246.69" r="0.65" fill="#fbf1f1"/>
<circle cx="71.48" cy="246.69" r="0.65" fill="#fbf1f1"/>
<circle cx="76.75" cy="246.69" r="0.65" fill="#fbf1f1"/>
<circle cx="82.03" cy="246.69" r="0.65" fill="#fbf1f1"/>
<circle cx="87.29" cy="246.69" r="0.65" fill="#fbf1f1"/>
<circle cx="92.56" cy="246.69" r="0.65" fill="#fbf1f1"/>
<circle cx="97.83" cy="246.69" r="0.65" fill="#fbf1f1"/>
<circle cx="103.10" cy="246.69" r="1.56" fill="#d2d2d2"/>
<circle cx="108.38" cy="246.69" r="0.65" fill="#fbf1f1"/>
<circle cx="113.64" cy="246.69" r="1.49" fill="#e8afb3"/>
<circle cx="118.91" cy="246.69" r="2.33" fill="#ba333a"/>
<circle cx="124.18" cy="246.69" r="0.65" fill="#fbf1f1"/>
<circle cx="129.45" cy="246.69" r="1.49" fill="#e8afb3"/>
<circle cx="134.72" cy="246.69" r="1.49" fill="#e8afb3"/>
<circle cx="140.00" cy="246.69" r="0.65" fill="#fbf1f1"/>
<circle cx="145.26" cy="246.69" r="1.49" fill="#e8afb3"/>
<circle cx="150.53" cy="246.69" r="1.49" fill="#e8afb3"/>
<circle cx="155.81" cy="246.69" r="1.95" fill="#d26f74"/>
<circle cx="161.07" cy="246.69" r="1.49" fill="#e8afb3"/>
<circle cx="166.34" cy="246.69" r="0.65" fill="#fbf1f1"/>
<circle cx="171.61" cy="246.69" r="1.56" fill="#d2d2d2"/>
<circle cx="176.88" cy="246.69" r="1.49" fill="#e8afb3"/>
<circle cx="182.16" cy="246.69" r="0.65" fill="#fbf1f1"/>
<circle cx="187.42" cy="246.69" r="1.49" fill="#e8afb3"/>
<circle cx="192.69" cy="246.69" r="0.65" fill="#fbf1f1"/>
<circle cx="197.96" cy="246.69" r="1.49" fill="#e8afb3"/>
<circle cx="203.23" cy="246.69" r="0.65" fill="#fbf1f1"/>
<circle cx="208.50" cy="246.69" r="1.49" fill="#e8afb3"/>
<circle cx="213.77" cy="246.69" r="1.49" fill="#e8afb3"/>
<circle cx="219.04" cy="246.69" r="0.65" fill="#fbf1f1"/>
<circle cx="224.31" cy="246.69" r="0.65" fill="#fbf1f1"/>
<circle cx="229.58" cy="246.69" r="1.49" fill="#e8afb3"/>
<circle cx="234.85" cy="246.69" r="1.95" fill="#d26f74"/>
<circle cx="240.12" cy="246.69" r="1.56" fill="#d2d2d2"/>
<circle cx="245.39" cy="246.69" r="2.63" fill="#9b161c"/>
<circle cx="250.66" cy="246.69" r="0.65" fill="#fbf1f1"/>
<circle cx="255.93" cy="246.69" r="1.49" fill="#e8afb3"/>
<circle cx="261.20" cy="246.69" r="0.65" fill="#fbf1f1"/>
<circle cx="266.48" cy="246.69" r="1.56" fill="#d2d2d2"/>
<circle cx="271.75" cy="246.69" r="1.49" fill="#e8afb3"/>
<circle cx="45.13" cy="251.96" r="0.65" fill="#fbf1f1"/>
<circle cx="50.41" cy="251.96" r="0.65" fill="#fbf1f1"/>
<circle cx="55.67" cy="251.96" r="0.65" fill="#fbf1f1"/>
<circle cx="60.95" cy="251.96" r="0.65" fill="#fbf1f1"/>
<circle cx="66.22" cy="251.96" r="0.65" fill="#fbf1f1"/>
<circle cx="71.48" cy="251.96" r="0.65" fill="#fbf1f1"/>
<circle cx="76.75" cy="251.96" r="0.65" fill="#fbf1f1"/>
<circle cx="82.03" cy="251.96" r="0.65" fill="#fbf1f1"/>
<circle cx="87.29" cy="251.96" r="0.65" fill="#fbf1f1"/>
<circle cx="92.56" cy="251.96" r="0.65" fill="#fbf1f1"/>
<circle cx="97.83" cy="251.96" r="0.65" fill="#fbf1f1"/>
<circle cx="103.10" cy="251.96" r="1.49" fill="#e8afb3"/>
<circle cx="108.38" cy="251.96" r="1.95" fill="#d26f74"/>
<circle cx="113.64" cy="251.96" r="1.49" fill="#e8afb3"/>
<circle cx="118.91" cy="251.96" r="1.49" fill="#e8afb3"/>
<circle cx="124.18" cy="251.96" r="0.65" fill="#fbf1f1"/>
<circle cx="129.45" cy="251.96" r="0.65" fill="#fbf1f1"/>
<circle cx="134.72" cy="251.96" r="2.33" fill="#ba333a"/>
<circle cx="140.00" cy="251.96" r="1.95" fill="#d26f74"/>
<circle cx="145.26" cy="251.96" r="1.95" fill="#d26f74"/>
<circle cx="150.53" cy="251.96" r="1.95" fill="#d26f74"/>
<circle cx="155.81" cy="251.96" r="0.65" fill="#fbf1f1"/>
<circle cx="161.07" cy="251.96" r="1.95" fill="#d26f74"/>
<circle cx="166.34" cy="251.96" r="2.33" fill="#ba333a"/>
<circle cx="171.61" cy="251.96" r="1.95" fill="#d26f74"/>
<circle cx="176.88" cy="251.96" r="2.33" fill="#ba333a"/>
<circle cx="182.16" cy="251.96" r="1.49" fill="#e8afb3"/>
<circle cx="187.42" cy="251.96" r="1.49" fill="#e8afb3"/>
<circle cx="192.69" cy="251.96" r="1.49" fill="#e8afb3"/>
<circle cx="197.96" cy="251.96" r="2.33" fill="#ba333a"/>
<circle cx="203.23" cy="251.96" r="2.33" fill="#ba333a"/>
<circle cx="208.50" cy="251.96" r="1.95" fill="#d26f74"/>
<circle cx="213.77" cy="251.96" r="1.49" fill="#e8afb3"/>
<circle cx="219.04" cy="251.96" r="1.95" fill="#d26f74"/>
<circle cx="224.31" cy="251.96" r="2.33" fill="#ba333a"/>
<circle cx="229.58" cy="251.96" r="1.49" fill="#e8afb3"/>
<circle cx="234.85" cy="251.96" r="1.49" fill="#e8afb3"/>
<circle cx="240.12" cy="251.96" r="1.49" fill="#e8afb3"/>
<circle cx="245.39" cy="251.96" r="0.65" fill="#fbf1f1"/>
<circle cx="250.66" cy="251.96" r="2.63" fill="#9b161c"/>
<circle cx="255.93" cy="251.96" r="1.95" fill="#d26f74"/>
<circle cx="261.20" cy="251.96" r="1.95" fill="#d26f74"/>
<circle cx="266.48" cy="251.96" r="0.65" fill="#fbf1f1"/>
<circle cx="271.75" cy="251.96" r="1.95" fill="#d26f74"/>
<circle cx="45.13" cy="257.23" r="1.56" fill="#d2d2d2"/>
<circle cx="50.41" cy="257.23" r="1.56" fill="#d2d2d2"/>
<circle cx="55.67" cy="257.23" r="0.65" fill="#fbf1f1"/>
<circle cx="60.95" cy="257.23" r="0.65" fill="#fbf1f1"/>
<circle cx="66.22" cy="257.23" r="0.65" fill="#fbf1f1"/>
<circle cx="71.48" cy="257.23" r="0.65" fill="#fbf1f1"/>
<circle cx="76.75" cy="257.23" r="1.49" fill="#e8afb3"/>
<circle cx="82.03" cy="257.23" r="0.65" fill="#fbf1f1"/>
<circle cx="87.29" cy="257.23" r="1.95" fill="#d26f74"/>
<circle cx="92.56" cy="257.23" r="1.49" fill="#e8afb3"/>
<circle cx="97.83" cy="257.23" r="0.65" fill="#fbf1f1"/>
<circle cx="103.10" cy="257.23" r="0.65" fill="#fbf1f1"/>
<circle cx="108.38" cy="257.23" r="1.95" fill="#d26f74"/>
<circle cx="113.64" cy="257.23" r="0.65" fill="#fbf1f1"/>
<circle cx="118.91" cy="257.23" r="0.65" fill="#fbf1f1"/>
<circle cx="124.18" cy="257.23" r="0.65" fill="#fbf1f1"/>
<circle cx="129.45" cy="257.23" r="1.49" fill="#e8afb3"/>
<circle cx="134.72" cy="257.23" r="2.33" fill="#ba333a"/>
<circle cx="140.00" cy="257.23" r="1.95" fill="#d26f74"/>
<circle cx="145.26" cy="257.23" r="1.95" fill="#d26f74"/>
<circle cx="150.53" cy="257.23" r="1.95" fill="#d26f74"/>
<circle cx="155.81" cy="257.23" r="0.65" fill="#fbf1f1"/>
<circle cx="161.07" cy="257.23" r="1.49" fill="#e8afb3"/>
<circle cx="166.34" cy="257.23" r="2.33" fill="#ba333a"/>
<circle cx="171.61" cy="257.23" r="1.49" fill="#e8afb3"/>
<circle cx="176.88" cy="257.23" r="1.95" fill="#d26f74"/>
<circle cx="182.16" cy="257.23" r="1.49" fill="#e8afb3"/>
<circle cx="187.42" cy="257.23" r="1.49" fill="#e8afb3"/>
<circle cx="192.69" cy="257.23" r="0.65" fill="#fbf1f1"/>
<circle cx="197.96" cy="257.23" r="2.33" fill="#ba333a"/>
<circle cx="203.23" cy="257.23" r="2.33" fill="#ba333a"/>
<circle cx="208.50" cy="257.23" r="1.95" fill="#d26f74"/>
<circle cx="213.77" cy="257.23" r="1.49" fill="#e8afb3"/>
<circle cx="219.04" cy="257.23" r="1.95" fill="#d26f74"/>
<circle cx="224.31" cy="257.23" r="2.33" fill="#ba333a"/>
<circle cx="229.58" cy="257.23" r="1.95" fill="#d26f74"/>
<circle cx="234.85" cy="257.23" r="1.49" fill="#e8afb3"/>
<circle cx="240.12" cy="257.23" r="0.65" fill="#fbf1f1"/>
<circle cx="245.39" cy="257.23" r="1.49" fill="#e8afb3"/>
<circle cx="250.66" cy="257.23" r="1.95" fill="#d26f74"/>
<circle cx="255.93" cy="257.23" r="2.63" fill="#9b161c"/>
<circle cx="261.20" cy="257.23" r="2.33" fill="#ba333a"/>
<circle cx="266.48" cy="257.23" r="1.95" fill="#d26f74"/>
<circle cx="271.75" cy="257.23" r="1.95" fill="#d26f74"/>
<circle cx="45.13" cy="262.50" r="0.65" fill="#fbf1f1"/>
<circle cx="50.41" cy="262.50" r="1.56" fill="#d2d2d2"/>
<circle cx="55.67" cy="262.50" r="0.65" fill="#fbf1f1"/>
<circle cx="60.95" cy="262.50" r="1.56" fill="#d2d2d2"/>
<circle cx="66.22" cy="262.50" r="0.65" fill="#fbf1f1"/>
<circle cx="71.48" cy="262.50" r="0.65" fill="#fbf1f1"/>
<circle cx="76.75" cy="262.50" r="1.49" fill="#e8afb3"/>
<circle cx="82.03" cy="262.50" r="1.49" fill="#e8afb3"/>
<circle cx="87.29" cy="262.50" r="1.95" fill="#d26f74"/>
<circle cx="92.56" cy="262.50" r="1.49" fill="#e8afb3"/>
<circle cx="97.83" cy="262.50" r="0.65" fill="#fbf1f1"/>
<circle cx="103.10" cy="262.50" r="0.65" fill="#fbf1f1"/>
<circle cx="108.38" cy="262.50" r="1.95" fill="#d26f74"/>
<circle cx="113.64" cy="262.50" r="1.49" fill="#e8afb3"/>
<circle cx="118.91" cy="262.50" r="0.65" fill="#fbf1f1"/>
<circle cx="124.18" cy="262.50" r="0.65" fill="#fbf1f1"/>
<circle cx="129.45" cy="262.50" r="0.65" fill="#fbf1f1"/>
<circle cx="134.72" cy="262.50" r="2.33" fill="#ba333a"/>
<circle cx="140.00" cy="262.50" r="1.95" fill="#d26f74"/>
<circle cx="145.26" cy="262.50" r="1.95" fill="#d26f74"/>
<circle cx="150.53" cy="262.50" r="1.95" fill="#d26f74"/>
<circle cx="155.81" cy="262.50" r="0.65" fill="#fbf1f1"/>
<circle cx="161.07" cy="262.50" r="1.49" fill="#e8afb3"/>
<circle cx="166.34" cy="262.50" r="2.33" fill="#ba333a"/>
<circle cx="171.61" cy="262.50" r="1.95" fill="#d26f74"/>
<circle cx="176.88" cy="262.50" r="1.95" fill="#d26f74"/>
<circle cx="182.16" cy="262.50" r="1.49" fill="#e8afb3"/>
<circle cx="187.42" cy="262.50" r="1.49" fill="#e8afb3"/>
<circle cx="192.69" cy="262.50" r="0.65" fill="#fbf1f1"/>
<circle cx="197.96" cy="262.50" r="1.95" fill="#d26f74"/>
<circle cx="203.23" cy="262.50" r="1.95" fill="#d26f74"/>
<circle cx="208.50" cy="262.50" r="1.95" fill="#d26f74"/>
<circle cx="213.77" cy="262.50" r="1.95" fill="#d26f74"/>
<circle cx="219.04" cy="262.50" r="1.95" fill="#d26f74"/>
<circle cx="224.31" cy="262.50" r="2.33" fill="#ba333a"/>
<circle cx="229.58" cy="262.50" r="2.33" fill="#ba333a"/>
<circle cx="234.85" cy="262.50" r="0.65" fill="#fbf1f1"/>
<circle cx="240.12" cy="262.50" r="1.49" fill="#e8afb3"/>
<circle cx="245.39" cy="262.50" r="0.65" fill="#fbf1f1"/>
<circle cx="250.66" cy="262.50" r="1.95" fill="#d26f74"/>
<circle cx="255.93" cy="262.50" r="2.33" fill="#ba333a"/>
<circle cx="261.20" cy="262.50" r="2.63" fill="#9b161c"/>
<circle cx="266.48" cy="262.50" r="1.95" fill="#d26f74"/>
<circle cx="271.75" cy="262.50" r="1.95" fill="#d26f74"/>
<circle cx="45.13" cy="267.77" r="1.56" fill="#d2d2d2"/>
<circle cx="50.41" cy="267.77" r="1.49" fill="#e8afb3"/>
<circle cx="55.67" cy="267.77" r="0.65" fill="#fbf1f1"/>
<circle cx="60.95" cy="267.77" r="1.56" fill="#d2d2d2"/>
<circle cx="66.22" cy="267.77" r="0.65" fill="#fbf1f1"/>
<circle cx="71.48" cy="267.77" r="0.65" fill="#fbf1f1"/>
<circle cx="76.75" cy="267.77" r="0.65" fill="#fbf1f1"/>
<circle cx="82.03" cy="267.77" r="0.65" fill="#fbf1f1"/>
<circle cx="87.29" cy="267.77" r="1.95" fill="#d26f74"/>
<circle cx="92.56" cy="267.77" r="1.49" fill="#e8afb3"/>
<circle cx="97.83" cy="267.77" r="1.49" fill="#e8afb3"/>
<circle cx="103.10" cy="267.77" r="0.65" fill="#fbf1f1"/>
<circle cx="108.38" cy="267.77" r="1.49" fill="#e8afb3"/>
<circle cx="113.64" cy="267.77" r="0.65" fill="#fbf1f1"/>
<circle cx="118.91" cy="267.77" r="1.56" fill="#d2d2d2"/>
<circle cx="124.18" cy="267.77" r="0.65" fill="#fbf1f1"/>
<circle cx="129.45" cy="267.77" r="1.56" fill="#d2d2d2"/>
<circle cx="134.72" cy="267.77" r="1.49" fill="#e8afb3"/>
<circle cx="140.00" cy="267.77" r="1.49" fill="#e8afb3"/>
<circle cx="145.26" cy="267.77" r="1.49" fill="#e8afb3"/>
<circle cx="150.53" cy="267.77" r="1.49" fill="#e8afb3"/>
<circle cx="155.81" cy="267.77" r="1.49" fill="#e8afb3"/>
<circle cx="161.07" cy="267.77" r="0.65" fill="#fbf1f1"/>
<circle cx="166.34" cy="267.77" r="1.49" fill="#e8afb3"/>
<circle cx="171.61" cy="267.77" r="0.65" fill="#fbf1f1"/>
<circle cx="176.88" cy="267.77" r="1.49" fill="#e8afb3"/>
<circle cx="182.16" cy="267.77" r="0.65" fill="#fbf1f1"/>
<circle cx="187.42" cy="267.77" r="1.49" fill="#e8afb3"/>
<circle cx="192.69" cy="267.77" r="0.65" fill="#fbf1f1"/>
<circle cx="197.96" cy="267.77" r="1.49" fill="#e8afb3"/>
<circle cx="203.23" cy="267.77" r="0.65" fill="#fbf1f1"/>
<circle cx="208.50" cy="267.77" r="1.49" fill="#e8afb3"/>
<circle cx="213.77" cy="267.77" r="1.56" fill="#d2d2d2"/>
<circle cx="219.04" cy="267.77" r="0.65" fill="#fbf1f1"/>
<circle cx="224.31" cy="267.77" r="0.65" fill="#fbf1f1"/>
<circle cx="229.58" cy="267.77" r="1.56" fill="#d2d2d2"/>
<circle cx="234.85" cy="267.77" r="1.56" fill="#d2d2d2"/>
<circle cx="240.12" cy="267.77" r="0.65" fill="#fbf1f1"/>
<circle cx="245.39" cy="267.77" r="1.56" fill="#d2d2d2"/>
<circle cx="250.66" cy="267.77" r="0.65" fill="#fbf1f1"/>
<circle cx="255.93" cy="267.77" r="1.95" fill="#d26f74"/>
<circle cx="261.20" cy="267.77" r="1.95" fill="#d26f74"/>
<circle cx="266.48" cy="267.77" r="2.63" fill="#9b161c"/>
<circle cx="271.75" cy="267.77" r="0.65" fill="#fbf1f1"/>
<circle cx="45.13" cy="273.04" r="1.95" fill="#d26f74"/>
<circle cx="50.41" cy="273.04" r="0.65" fill="#fbf1f1"/>
<circle cx="55.67" cy="273.04" r="1.49" fill="#e8afb3"/>
<circle cx="60.95" cy="273.04" r="1.56" fill="#d2d2d2"/>
<circle cx="66.22" cy="273.04" r="1.49" fill="#e8afb3"/>
<circle cx="71.48" cy="273.04" r="1.95" fill="#d26f74"/>
<circle cx="76.75" cy="273.04" r="2.33" fill="#ba333a"/>
<circle cx="82.03" cy="273.04" r="2.33" fill="#ba333a"/>
<circle cx="87.29" cy="273.04" r="1.95" fill="#d26f74"/>
<circle cx="92.56" cy="273.04" r="2.54" fill="#a51f26"/>
<circle cx="97.83" cy="273.04" r="2.33" fill="#ba333a"/>
<circle cx="103.10" cy="273.04" r="1.95" fill="#d26f74"/>
<circle cx="108.38" cy="273.04" r="2.54" fill="#a51f26"/>
<circle cx="113.64" cy="273.04" r="1.95" fill="#d26f74"/>
<circle cx="118.91" cy="273.04" r="1.49" fill="#e8afb3"/>
<circle cx="124.18" cy="273.04" r="1.49" fill="#e8afb3"/>
<circle cx="129.45" cy="273.04" r="1.95" fill="#d26f74"/>
<circle cx="134.72" cy="273.04" r="1.95" fill="#d26f74"/>
<circle cx="140.00" cy="273.04" r="2.33" fill="#ba333a"/>
<circle cx="145.26" cy="273.04" r="2.54" fill="#a51f26"/>
<circle cx="150.53" cy="273.04" r="2.33" fill="#ba333a"/>
<circle cx="155.81" cy="273.04" r="1.95" fill="#d26f74"/>
<circle cx="161.07" cy="273.04" r="2.54" fill="#a51f26"/>
<circle cx="166.34" cy="273.04" r="2.33" fill="#ba333a"/>
<circle cx="171.61" cy="273.04" r="2.33" fill="#ba333a"/>
<circle cx="176.88" cy="273.04" r="2.33" fill="#ba333a"/>
<circle cx="182.16" cy="273.04" r="2.33" fill="#ba333a"/>
<circle cx="187.42" cy="273.04" r="2.54" fill="#a51f26"/>
<circle cx="192.69" cy="273.04" r="2.54" fill="#a51f26"/>
<circle cx="197.96" cy="273.04" r="2.33" fill="#ba333a"/>
<circle cx="203.23" cy="273.04" r="2.54" fill="#a51f26"/>
<circle cx="208.50" cy="273.04" r="1.95" fill="#d26f74"/>
<circle cx="213.77" cy="273.04" r="1.95" fill="#d26f74"/>
<circle cx="219.04" cy="273.04" r="1.95" fill="#d26f74"/>
<circle cx="224.31" cy="273.04" r="1.49" fill="#e8afb3"/>
<circle cx="229.58" cy="273.04" r="0.65" fill="#fbf1f1"/>
<circle cx="234.85" cy="273.04" r="1.49" fill="#e8afb3"/>
<circle cx="240.12" cy="273.04" r="1.49" fill="#e8afb3"/>
<circle cx="245.39" cy="273.04" r="0.65" fill="#fbf1f1"/>
<circle cx="250.66" cy="273.04" r="1.95" fill="#d26f74"/>
<circle cx="255.93" cy="273.04" r="1.95" fill="#d26f74"/>
<circle cx="261.20" cy="273.04" r="1.49" fill="#e8afb3"/>
<circle cx="266.48" cy="273.04" r="1.49" fill="#e8afb3"/>
<circle cx="271.75" cy="273.04" r="2.63" fill="#9b161c"/>
<rect x="279.6" y="43.8" width="231.88" height="231.88" fill="#fff"/>
<path d="M279.60 43.80V275.68M279.60 43.80H511.48M284.87 43.80V275.68M279.60 49.07H511.48M290.14 43.80V275.68M279.60 54.34H511.48M295.41 43.80V275.68M279.60 59.61H511.48M300.68 43.80V275.68M279.60 64.88H511.48M305.95 43.80V275.68M279.60 70.15H511.48M311.22 43.80V275.68M279.60 75.42H511.48M316.49 43.80V275.68M279.60 80.69H511.48M321.76 43.80V275.68M279.60 85.96H511.48M327.03 43.80V275.68M279.60 91.23H511.48M332.30 43.80V275.68M279.60 96.50H511.48M337.57 43.80V275.68M279.60 101.77H511.48M342.84 43.80V275.68M279.60 107.04H511.48M348.11 43.80V275.68M279.60 112.31H511.48M353.38 43.80V275.68M279.60 117.58H511.48M358.65 43.80V275.68M279.60 122.85H511.48M363.92 43.80V275.68M279.60 128.12H511.48M369.19 43.80V275.68M279.60 133.39H511.48M374.46 43.80V275.68M279.60 138.66H511.48M379.73 43.80V275.68M279.60 143.93H511.48M385.00 43.80V275.68M279.60 149.20H511.48M390.27 43.80V275.68M279.60 154.47H511.48M395.54 43.80V275.68M279.60 159.74H511.48M400.81 43.80V275.68M279.60 165.01H511.48M406.08 43.80V275.68M279.60 170.28H511.48M411.35 43.80V275.68M279.60 175.55H511.48M416.62 43.80V275.68M279.60 180.82H511.48M421.89 43.80V275.68M279.60 186.09H511.48M427.16 43.80V275.68M279.60 191.36H511.48M432.43 43.80V275.68M279.60 196.63H511.48M437.70 43.80V275.68M279.60 201.90H511.48M442.97 43.80V275.68M279.60 207.17H511.48M448.24 43.80V275.68M279.60 212.44H511.48M453.51 43.80V275.68M279.60 217.71H511.48M458.78 43.80V275.68M279.60 222.98H511.48M464.05 43.80V275.68M279.60 228.25H511.48M469.32 43.80V275.68M279.60 233.52H511.48M474.59 43.80V275.68M279.60 238.79H511.48M479.86 43.80V275.68M279.60 244.06H511.48M485.13 43.80V275.68M279.60 249.33H511.48M490.40 43.80V275.68M279.60 254.60H511.48M495.67 43.80V275.68M279.60 259.87H511.48M500.94 43.80V275.68M279.60 265.14H511.48M506.21 43.80V275.68M279.60 270.41H511.48M511.48 43.80V275.68M279.60 275.68H511.48" stroke="#d4d4d4" stroke-width="0.9" fill="none"/>
<circle cx="282.24" cy="46.43" r="2.63" fill="#9b161c"/>
<circle cx="287.50" cy="46.43" r="1.49" fill="#e8afb3"/>
<circle cx="292.78" cy="46.43" r="1.95" fill="#d26f74"/>
<circle cx="298.05" cy="46.43" r="1.95" fill="#d26f74"/>
<circle cx="303.31" cy="46.43" r="1.95" fill="#d26f74"/>
<circle cx="308.59" cy="46.43" r="1.95" fill="#d26f74"/>
<circle cx="313.86" cy="46.43" r="1.95" fill="#d26f74"/>
<circle cx="319.12" cy="46.43" r="1.95" fill="#d26f74"/>
<circle cx="324.40" cy="46.43" r="1.95" fill="#d26f74"/>
<circle cx="329.67" cy="46.43" r="1.95" fill="#d26f74"/>
<circle cx="334.94" cy="46.43" r="1.95" fill="#d26f74"/>
<circle cx="340.21" cy="46.43" r="2.54" fill="#a51f26"/>
<circle cx="345.48" cy="46.43" r="1.49" fill="#e8afb3"/>
<circle cx="350.75" cy="46.43" r="1.49" fill="#e8afb3"/>
<circle cx="356.01" cy="46.43" r="0.65" fill="#fbf1f1"/>
<circle cx="361.29" cy="46.43" r="1.49" fill="#e8afb3"/>
<circle cx="366.56" cy="46.43" r="0.65" fill="#fbf1f1"/>
<circle cx="371.83" cy="46.43" r="1.49" fill="#e8afb3"/>
<circle cx="377.10" cy="46.43" r="1.95" fill="#d26f74"/>
<circle cx="382.37" cy="46.43" r="2.33" fill="#ba333a"/>
<circle cx="387.63" cy="46.43" r="2.33" fill="#ba333a"/>
<circle cx="392.91" cy="46.43" r="1.49" fill="#e8afb3"/>
<circle cx="398.18" cy="46.43" r="1.49" fill="#e8afb3"/>
<circle cx="403.44" cy="46.43" r="1.95" fill="#d26f74"/>
<circle cx="408.72" cy="46.43" r="1.95" fill="#d26f74"/>
<circle cx="413.99" cy="46.43" r="2.33" fill="#ba333a"/>
<circle cx="419.25" cy="46.43" r="1.49" fill="#e8afb3"/>
<circle cx="424.52" cy="46.43" r="1.95" fill="#d26f74"/>
<circle cx="429.80" cy="46.43" r="1.49" fill="#e8afb3"/>
<circle cx="435.06" cy="46.43" r="1.95" fill="#d26f74"/>
<circle cx="440.34" cy="46.43" r="0.65" fill="#fbf1f1"/>
<circle cx="445.61" cy="46.43" r="1.49" fill="#e8afb3"/>
<circle cx="450.88" cy="46.43" r="1.49" fill="#e8afb3"/>
<circle cx="456.14" cy="46.43" r="2.33" fill="#ba333a"/>
<circle cx="461.42" cy="46.43" r="1.49" fill="#e8afb3"/>
<circle cx="466.69" cy="46.43" r="0.65" fill="#fbf1f1"/>
<circle cx="471.96" cy="46.43" r="2.54" fill="#a51f26"/>
<circle cx="477.23" cy="46.43" r="1.49" fill="#e8afb3"/>
<circle cx="482.50" cy="46.43" r="1.95" fill="#d26f74"/>
<circle cx="487.76" cy="46.43" r="0.65" fill="#fbf1f1"/>
<circle cx="493.03" cy="46.43" r="0.65" fill="#fbf1f1"/>
<circle cx="498.31" cy="46.43" r="1.49" fill="#e8afb3"/>
<circle cx="503.58" cy="46.43" r="0.65" fill="#fbf1f1"/>
<circle cx="508.85" cy="46.43" r="2.54" fill="#a51f26"/>
<circle cx="282.24" cy="51.70" r="0.65" fill="#fbf1f1"/>
<circle cx="287.50" cy="51.70" r="2.63" fill="#9b161c"/>
<circle cx="292.78" cy="51.70" r="1.49" fill="#e8afb3"/>
<circle cx="298.05" cy="51.70" r="1.49" fill="#e8afb3"/>
<circle cx="303.31" cy="51.70" r="0.65" fill="#fbf1f1"/>
<circle cx="308.59" cy="51.70" r="0.65" fill="#fbf1f1"/>
<circle cx="313.86" cy="51.70" r="0.65" fill="#fbf1f1"/>
<circle cx="319.12" cy="51.70" r="0.65" fill="#fbf1f1"/>
<circle cx="324.40" cy="51.70" r="1.49" fill="#e8afb3"/>
<circle cx="329.67" cy="51.70" r="1.95" fill="#d26f74"/>
<circle cx="334.94" cy="51.70" r="0.65" fill="#fbf1f1"/>
<circle cx="340.21" cy="51.70" r="0.65" fill="#fbf1f1"/>
<circle cx="345.48" cy="51.70" r="0.65" fill="#fbf1f1"/>
<circle cx="350.75" cy="51.70" r="2.33" fill="#ba333a"/>
<circle cx="356.01" cy="51.70" r="1.86" fill="#bfbfbf"/>
<circle cx="361.29" cy="51.70" r="1.49" fill="#e8afb3"/>
<circle cx="366.56" cy="51.70" r="2.33" fill="#ba333a"/>
<circle cx="371.83" cy="51.70" r="1.56" fill="#d2d2d2"/>
<circle cx="377.10" cy="51.70" r="0.65" fill="#fbf1f1"/>
<circle cx="382.37" cy="51.70" r="0.65" fill="#fbf1f1"/>
<circle cx="387.63" cy="51.70" r="0.65" fill="#fbf1f1"/>
<circle cx="392.91" cy="51.70" r="0.65" fill="#fbf1f1"/>
<circle cx="398.18" cy="51.70" r="1.49" fill="#e8afb3"/>
<circle cx="403.44" cy="51.70" r="1.86" fill="#bfbfbf"/>
<circle cx="408.72" cy="51.70" r="0.65" fill="#fbf1f1"/>
<circle cx="413.99" cy="51.70" r="1.56" fill="#d2d2d2"/>
<circle cx="419.25" cy="51.70" r="1.86" fill="#bfbfbf"/>
<circle cx="424.52" cy="51.70" r="1.56" fill="#d2d2d2"/>
<circle cx="429.80" cy="51.70" r="1.86" fill="#bfbfbf"/>
<circle cx="435.06" cy="51.70" r="0.65" fill="#fbf1f1"/>
<circle cx="440.34" cy="51.70" r="1.56" fill="#d2d2d2"/>
<circle cx="445.61" cy="51.70" r="0.65" fill="#fbf1f1"/>
<circle cx="450.88" cy="51.70" r="1.49" fill="#e8afb3"/>
<circle cx="456.14" cy="51.70" r="1.95" fill="#d26f74"/>
<circle cx="461.42" cy="51.70" r="1.95" fill="#d26f74"/>
<circle cx="466.69" cy="51.70" r="1.49" fill="#e8afb3"/>
<circle cx="471.96" cy="51.70" r="0.65" fill="#fbf1f1"/>
<circle cx="477.23" cy="51.70" r="1.95" fill="#d26f74"/>
<circle cx="482.50" cy="51.70" r="0.65" fill="#fbf1f1"/>
<circle cx="487.76" cy="51.70" r="0.65" fill="#fbf1f1"/>
<circle cx="493.03" cy="51.70" r="1.49" fill="#e8afb3"/>
<circle cx="498.31" cy="51.70" r="1.95" fill="#d26f74"/>
<circle cx="503.58" cy="51.70" r="1.86" fill="#bfbfbf"/>
<circle cx="508.85" cy="51.70" r="0.65" fill="#fbf1f1"/>
<circle cx="282.24" cy="56.97" r="1.95" fill="#d26f74"/>
<circle cx="287.50" cy="56.97" r="1.49" fill="#e8afb3"/>
<circle cx="292.78" cy="56.97" r="2.63" fill="#9b161c"/>
<circle cx="298.05" cy="56.97" r="2.54" fill="#a51f26"/>
<circle cx="303.31" cy="56.97" r="2.33" fill="#ba333a"/>
<circle cx="308.59" cy="56.97" r="2.54" fill="#a51f26"/>
<circle cx="313.86" cy="56.97" r="2.54" fill="#a51f26"/>
<circle cx="319.12" cy="56.97" r="2.54" fill="#a51f26"/>
<circle cx="324.40" cy="56.97" r="2.54" fill="#a51f26"/>
<circle cx="329.67" cy="56.97" r="2.54" fill="#a51f26"/>
<circle cx="334.94" cy="56.97" r="2.54" fill="#a51f26"/>
<circle cx="340.21" cy="56.97" r="2.54" fill="#a51f26"/>
<circle cx="345.48" cy="56.97" r="1.95" fill="#d26f74"/>
<circle cx="350.75" cy="56.97" r="0.65" fill="#fbf1f1"/>
<circle cx="356.01" cy="56.97" r="0.65" fill="#fbf1f1"/>
<circle cx="361.29" cy="56.97" r="1.49" fill="#e8afb3"/>
<circle cx="366.56" cy="56.97" r="1.49" fill="#e8afb3"/>
<circle cx="371.83" cy="56.97" r="1.49" fill="#e8afb3"/>
<circle cx="377.10" cy="56.97" r="1.49" fill="#e8afb3"/>
<circle cx="382.37" cy="56.97" r="1.49" fill="#e8afb3"/>
<circle cx="387.63" cy="56.97" r="2.33" fill="#ba333a"/>
<circle cx="392.91" cy="56.97" r="0.65" fill="#fbf1f1"/>
<circle cx="398.18" cy="56.97" r="0.65" fill="#fbf1f1"/>
<circle cx="403.44" cy="56.97" r="1.95" fill="#d26f74"/>
<circle cx="408.72" cy="56.97" r="2.33" fill="#ba333a"/>
<circle cx="413.99" cy="56.97" r="1.95" fill="#d26f74"/>
<circle cx="419.25" cy="56.97" r="1.49" fill="#e8afb3"/>
<circle cx="424.52" cy="56.97" r="1.49" fill="#e8afb3"/>
<circle cx="429.80" cy="56.97" r="0.65" fill="#fbf1f1"/>
<circle cx="435.06" cy="56.97" r="2.54" fill="#a51f26"/>
<circle cx="440.34" cy="56.97" r="1.95" fill="#d26f74"/>
<circle cx="445.61" cy="56.97" r="1.95" fill="#d26f74"/>
<circle cx="450.88" cy="56.97" r="2.33" fill="#ba333a"/>
<circle cx="456.14" cy="56.97" r="2.33" fill="#ba333a"/>
<circle cx="461.42" cy="56.97" r="1.49" fill="#e8afb3"/>
<circle cx="466.69" cy="56.97" r="1.49" fill="#e8afb3"/>
<circle cx="471.96" cy="56.97" r="0.65" fill="#fbf1f1"/>
<circle cx="477.23" cy="56.97" r="0.65" fill="#fbf1f1"/>
<circle cx="482.50" cy="56.97" r="2.33" fill="#ba333a"/>
<circle cx="487.76" cy="56.97" r="2.33" fill="#ba333a"/>
<circle cx="493.03" cy="56.97" r="0.65" fill="#fbf1f1"/>
<circle cx="498.31" cy="56.97" r="1.56" fill="#d2d2d2"/>
<circle cx="503.58" cy="56.97" r="1.56" fill="#d2d2d2"/>
<circle cx="508.85" cy="56.97" r="2.33" fill="#ba333a"/>
<circle cx="282.24" cy="62.24" r="1.95" fill="#d26f74"/>
<circle cx="287.50" cy="62.24" r="1.49" fill="#e8afb3"/>
<circle cx="292.78" cy="62.24" r="2.54" fill="#a51f26"/>
<circle cx="298.05" cy="62.24" r="2.63" fill="#9b161c"/>
<circle cx="303.31" cy="62.24" r="2.33" fill="#ba333a"/>
<circle cx="308.59" cy="62.24" r="2.54" fill="#a51f26"/>
<circle cx="313.86" cy="62.24" r="2.54" fill="#a51f26"/>
<circle cx="319.12" cy="62.24" r="2.54" fill="#a51f26"/>
<circle cx="324.40" cy="62.24" r="2.33" fill="#ba333a"/>
<circle cx="329.67" cy="62.24" r="2.54" fill="#a51f26"/>
<circle cx="334.94" cy="62.24" r="2.54" fill="#a51f26"/>
<circle cx="340.21" cy="62.24" r="2.54" fill="#a51f26"/>
<circle cx="345.48" cy="62.24" r="1.95" fill="#d26f74"/>
<circle cx="350.75" cy="62.24" r="0.65" fill="#fbf1f1"/>
<circle cx="356.01" cy="62.24" r="0.65" fill="#fbf1f1"/>
<circle cx="361.29" cy="62.24" r="1.49" fill="#e8afb3"/>
<circle cx="366.56" cy="62.24" r="1.49" fill="#e8afb3"/>
<circle cx="371.83" cy="62.24" r="0.65" fill="#fbf1f1"/>
<circle cx="377.10" cy="62.24" r="1.49" fill="#e8afb3"/>
<circle cx="382.37" cy="62.24" r="1.49" fill="#e8afb3"/>
<circle cx="387.63" cy="62.24" r="2.33" fill="#ba333a"/>
<circle cx="392.91" cy="62.24" r="0.65" fill="#fbf1f1"/>
<circle cx="398.18" cy="62.24" r="0.65" fill="#fbf1f1"/>
<circle cx="403.44" cy="62.24" r="1.95" fill="#d26f74"/>
<circle cx="408.72" cy="62.24" r="1.95" fill="#d26f74"/>
<circle cx="413.99" cy="62.24" r="1.49" fill="#e8afb3"/>
<circle cx="419.25" cy="62.24" r="1.49" fill="#e8afb3"/>
<circle cx="424.52" cy="62.24" r="1.49" fill="#e8afb3"/>
<circle cx="429.80" cy="62.24" r="0.65" fill="#fbf1f1"/>
<circle cx="435.06" cy="62.24" r="2.33" fill="#ba333a"/>
<circle cx="440.34" cy="62.24" r="1.95" fill="#d26f74"/>
<circle cx="445.61" cy="62.24" r="1.95" fill="#d26f74"/>
<circle cx="450.88" cy="62.24" r="2.33" fill="#ba333a"/>
<circle cx="456.14" cy="62.24" r="2.33" fill="#ba333a"/>
<circle cx="461.42" cy="62.24" r="1.49" fill="#e8afb3"/>
<circle cx="466.69" cy="62.24" r="1.49" fill="#e8afb3"/>
<circle cx="471.96" cy="62.24" r="0.65" fill="#fbf1f1"/>
<circle cx="477.23" cy="62.24" r="1.49" fill="#e8afb3"/>
<circle cx="482.50" cy="62.24" r="2.33" fill="#ba333a"/>
<circle cx="487.76" cy="62.24" r="2.33" fill="#ba333a"/>
<circle cx="493.03" cy="62.24" r="0.65" fill="#fbf1f1"/>
<circle cx="498.31" cy="62.24" r="1.56" fill="#d2d2d2"/>
<circle cx="503.58" cy="62.24" r="1.56" fill="#d2d2d2"/>
<circle cx="508.85" cy="62.24" r="2.33" fill="#ba333a"/>
<circle cx="282.24" cy="67.51" r="1.49" fill="#e8afb3"/>
<circle cx="287.50" cy="67.51" r="0.65" fill="#fbf1f1"/>
<circle cx="292.78" cy="67.51" r="2.33" fill="#ba333a"/>
<circle cx="298.05" cy="67.51" r="2.33" fill="#ba333a"/>
<circle cx="303.31" cy="67.51" r="2.63" fill="#9b161c"/>
<circle cx="308.59" cy="67.51" r="2.33" fill="#ba333a"/>
<circle cx="313.86" cy="67.51" r="2.33" fill="#ba333a"/>
<circle cx="319.12" cy="67.51" r="2.33" fill="#ba333a"/>
<circle cx="324.40" cy="67.51" r="1.95" fill="#d26f74"/>
<circle cx="329.67" cy="67.51" r="2.33" fill="#ba333a"/>
<circle cx="334.94" cy="67.51" r="1.95" fill="#d26f74"/>
<circle cx="340.21" cy="67.51" r="2.33" fill="#ba333a"/>
<circle cx="345.48" cy="67.51" r="1.49" fill="#e8afb3"/>
<circle cx="350.75" cy="67.51" r="0.65" fill="#fbf1f1"/>
<circle cx="356.01" cy="67.51" r="0.65" fill="#fbf1f1"/>
<circle cx="361.29" cy="67.51" r="1.95" fill="#d26f74"/>
<circle cx="366.56" cy="67.51" r="0.65" fill="#fbf1f1"/>
<circle cx="371.83" cy="67.51" r="1.49" fill="#e8afb3"/>
<circle cx="377.10" cy="67.51" r="1.49" fill="#e8afb3"/>
<circle cx="382.37" cy="67.51" r="1.49" fill="#e8afb3"/>
<circle cx="387.63" cy="67.51" r="1.95" fill="#d26f74"/>
<circle cx="392.91" cy="67.51" r="0.65" fill="#fbf1f1"/>
<circle cx="398.18" cy="67.51" r="0.65" fill="#fbf1f1"/>
<circle cx="403.44" cy="67.51" r="1.49" fill="#e8afb3"/>
<circle cx="408.72" cy="67.51" r="1.49" fill="#e8afb3"/>
<circle cx="413.99" cy="67.51" r="1.49" fill="#e8afb3"/>
<circle cx="419.25" cy="67.51" r="1.49" fill="#e8afb3"/>
<circle cx="424.52" cy="67.51" r="1.95" fill="#d26f74"/>
<circle cx="429.80" cy="67.51" r="0.65" fill="#fbf1f1"/>
<circle cx="435.06" cy="67.51" r="2.33" fill="#ba333a"/>
<circle cx="440.34" cy="67.51" r="1.49" fill="#e8afb3"/>
<circle cx="445.61" cy="67.51" r="0.65" fill="#fbf1f1"/>
<circle cx="450.88" cy="67.51" r="1.95" fill="#d26f74"/>
<circle cx="456.14" cy="67.51" r="1.95" fill="#d26f74"/>
<circle cx="461.42" cy="67.51" r="0.65" fill="#fbf1f1"/>
<circle cx="466.69" cy="67.51" r="0.65" fill="#fbf1f1"/>
<circle cx="471.96" cy="67.51" r="1.49" fill="#e8afb3"/>
<circle cx="477.23" cy="67.51" r="1.56" fill="#d2d2d2"/>
<circle cx="482.50" cy="67.51" r="1.95" fill="#d26f74"/>
<circle cx="487.76" cy="67.51" r="1.49" fill="#e8afb3"/>
<circle cx="493.03" cy="67.51" r="0.65" fill="#fbf1f1"/>
<circle cx="498.31" cy="67.51" r="0.65" fill="#fbf1f1"/>
<circle cx="503.58" cy="67.51" r="0.65" fill="#fbf1f1"/>
<circle cx="508.85" cy="67.51" r="1.95" fill="#d26f74"/>
<circle cx="282.24" cy="72.78" r="1.95" fill="#d26f74"/>
<circle cx="287.50" cy="72.78" r="0.65" fill="#fbf1f1"/>
<circle cx="292.78" cy="72.78" r="2.54" fill="#a51f26"/>
<circle cx="298.05" cy="72.78" r="2.54" fill="#a51f26"/>
<circle cx="303.31" cy="72.78" r="2.33" fill="#ba333a"/>
<circle cx="308.59" cy="72.78" r="2.63" fill="#9b161c"/>
<circle cx="313.86" cy="72.78" r="2.54" fill="#a51f26"/>
<circle cx="319.12" cy="72.78" r="2.54" fill="#a51f26"/>
<circle cx="324.40" cy="72.78" r="2.33" fill="#ba333a"/>
<circle cx="329.67" cy="72.78" r="2.54" fill="#a51f26"/>
<circle cx="334.94" cy="72.78" r="2.54" fill="#a51f26"/>
<circle cx="340.21" cy="72.78" r="2.54" fill="#a51f26"/>
<circle cx="345.48" cy="72.78" r="1.95" fill="#d26f74"/>
<circle cx="350.75" cy="72.78" r="0.65" fill="#fbf1f1"/>
<circle cx="356.01" cy="72.78" r="0.65" fill="#fbf1f1"/>
<circle cx="361.29" cy="72.78" r="1.49" fill="#e8afb3"/>
<circle cx="366.56" cy="72.78" r="1.49" fill="#e8afb3"/>
<circle cx="371.83" cy="72.78" r="1.49" fill="#e8afb3"/>
<circle cx="377.10" cy="72.78" r="1.49" fill="#e8afb3"/>
<circle cx="382.37" cy="72.78" r="1.49" fill="#e8afb3"/>
<circle cx="387.63" cy="72.78" r="2.33" fill="#ba333a"/>
<circle cx="392.91" cy="72.78" r="0.65" fill="#fbf1f1"/>
<circle cx="398.18" cy="72.78" r="1.49" fill="#e8afb3"/>
<circle cx="403.44" cy="72.78" r="1.95" fill="#d26f74"/>
<circle cx="408.72" cy="72.78" r="2.33" fill="#ba333a"/>
<circle cx="413.99" cy="72.78" r="1.95" fill="#d26f74"/>
<circle cx="419.25" cy="72.78" r="1.95" fill="#d26f74"/>
<circle cx="424.52" cy="72.78" r="1.49" fill="#e8afb3"/>
<circle cx="429.80" cy="72.78" r="1.49" fill="#e8afb3"/>
<circle cx="435.06" cy="72.78" r="2.54" fill="#a51f26"/>
<circle cx="440.34" cy="72.78" r="1.95" fill="#d26f74"/>
<circle cx="445.61" cy="72.78" r="1.49" fill="#e8afb3"/>
<circle cx="450.88" cy="72.78" r="2.33" fill="#ba333a"/>
<circle cx="456.14" cy="72.78" r="2.33" fill="#ba333a"/>
<circle cx="461.42" cy="72.78" r="1.49" fill="#e8afb3"/>
<circle cx="466.69" cy="72.78" r="1.49" fill="#e8afb3"/>
<circle cx="471.96" cy="72.78" r="0.65" fill="#fbf1f1"/>
<circle cx="477.23" cy="72.78" r="1.49" fill="#e8afb3"/>
<circle cx="482.50" cy="72.78" r="2.33" fill="#ba333a"/>
<circle cx="487.76" cy="72.78" r="2.33" fill="#ba333a"/>
<circle cx="493.03" cy="72.78" r="0.65" fill="#fbf1f1"/>
<circle cx="498.31" cy="72.78" r="1.56" fill="#d2d2d2"/>
<circle cx="503.58" cy="72.78" r="0.65" fill="#fbf1f1"/>
<circle cx="508.85" cy="72.78" r="2.33" fill="#ba333a"/>
<circle cx="282.24" cy="78.05" r="1.95" fill="#d26f74"/>
<circle cx="287.50" cy="78.05" r="0.65" fill="#fbf1f1"/>
<circle cx="292.78" cy="78.05" r="2.54" fill="#a51f26"/>
<circle cx="298.05" cy="78.05" r="2.54" fill="#a51f26"/>
<circle cx="303.31" cy="78.05" r="2.33" fill="#ba333a"/>
<circle cx="308.59" cy="78.05" r="2.54" fill="#a51f26"/>
<circle cx="313.86" cy="78.05" r="2.63" fill="#9b161c"/>
<circle cx="319.12" cy="78.05" r="2.54" fill="#a51f26"/>
<circle cx="324.40" cy="78.05" r="2.33" fill="#ba333a"/>
<circle cx="329.67" cy="78.05" r="2.54" fill="#a51f26"/>
<circle cx="334.94" cy="78.05" r="2.54" fill="#a51f26"/>
<circle cx="340.21" cy="78.05" r="2.54" fill="#a51f26"/>
<circle cx="345.48" cy="78.05" r="1.95" fill="#d26f74"/>
<circle cx="350.75" cy="78.05" r="0.65" fill="#fbf1f1"/>
<circle cx="356.01" cy="78.05" r="1.49" fill="#e8afb3"/>
<circle cx="361.29" cy="78.05" r="1.49" fill="#e8afb3"/>
<circle cx="366.56" cy="78.05" r="1.49" fill="#e8afb3"/>
<circle cx="371.83" cy="78.05" r="1.49" fill="#e8afb3"/>
<circle cx="377.10" cy="78.05" r="1.49" fill="#e8afb3"/>
<circle cx="382.37" cy="78.05" r="1.49" fill="#e8afb3"/>
<circle cx="387.63" cy="78.05" r="2.33" fill="#ba333a"/>
<circle cx="392.91" cy="78.05" r="0.65" fill="#fbf1f1"/>
<circle cx="398.18" cy="78.05" r="0.65" fill="#fbf1f1"/>
<circle cx="403.44" cy="78.05" r="2.33" fill="#ba333a"/>
<circle cx="408.72" cy="78.05" r="2.33" fill="#ba333a"/>
<circle cx="413.99" cy="78.05" r="1.95" fill="#d26f74"/>
<circle cx="419.25" cy="78.05" r="1.95" fill="#d26f74"/>
<circle cx="424.52" cy="78.05" r="1.49" fill="#e8afb3"/>
<circle cx="429.80" cy="78.05" r="1.49" fill="#e8afb3"/>
<circle cx="435.06" cy="78.05" r="2.54" fill="#a51f26"/>
<circle cx="440.34" cy="78.05" r="1.95" fill="#d26f74"/>
<circle cx="445.61" cy="78.05" r="1.49" fill="#e8afb3"/>
<circle cx="450.88" cy="78.05" r="2.33" fill="#ba333a"/>
<circle cx="456.14" cy="78.05" r="2.33" fill="#ba333a"/>
<circle cx="461.42" cy="78.05" r="1.49" fill="#e8afb3"/>
<circle cx="466.69" cy="78.05" r="1.49" fill="#e8afb3"/>
<circle cx="471.96" cy="78.05" r="0.65" fill="#fbf1f1"/>
<circle cx="477.23" cy="78.05" r="1.49" fill="#e8afb3"/>
<circle cx="482.50" cy="78.05" r="2.33" fill="#ba333a"/>
<circle cx="487.76" cy="78.05" r="2.33" fill="#ba333a"/>
<circle cx="493.03" cy="78.05" r="0.65" fill="#fbf1f1"/>
<circle cx="498.31" cy="78.05" r="1.56" fill="#d2d2d2"/>
<circle cx="503.58" cy="78.05" r="1.56" fill="#d2d2d2"/>
<circle cx="508.85" cy="78.05" r="2.33" fill="#ba333a"/>
<circle cx="282.24" cy="83.32" r="1.95" fill="#d26f74"/>
<circle cx="287.50" cy="83.32" r="0.65" fill="#fbf1f1"/>
<circle cx="292.78" cy="83.32" r="2.54" fill="#a51f26"/>
<circle cx="298.05" cy="83.32" r="2.54" fill="#a51f26"/>
<circle cx="303.31" cy="83.32" r="2.33" fill="#ba333a"/>
<circle cx="308.59" cy="83.32" r="2.54" fill="#a51f26"/>
<circle cx="313.86" cy="83.32" r="2.54" fill="#a51f26"/>
<circle cx="319.12" cy="83.32" r="2.63" fill="#9b161c"/>
<circle cx="324.40" cy="83.32" r="2.33" fill="#ba333a"/>
<circle cx="329.67" cy="83.32" r="2.54" fill="#a51f26"/>
<circle cx="334.94" cy="83.32" r="2.54" fill="#a51f26"/>
<circle cx="340.21" cy="83.32" r="2.54" fill="#a51f26"/>
<circle cx="345.48" cy="83.32" r="1.95" fill="#d26f74"/>
<circle cx="350.75" cy="83.32" r="0.65" fill="#fbf1f1"/>
<circle cx="356.01" cy="83.32" r="0.65" fill="#fbf1f1"/>
<circle cx="361.29" cy="83.32" r="1.95" fill="#d26f74"/>
<circle cx="366.56" cy="83.32" r="0.65" fill="#fbf1f1"/>
<circle cx="371.83" cy="83.32" r="1.49" fill="#e8afb3"/>
<circle cx="377.10" cy="83.32" r="0.65" fill="#fbf1f1"/>
<circle cx="382.37" cy="83.32" r="1.49" fill="#e8afb3"/>
<circle cx="387.63" cy="83.32" r="2.33" fill="#ba333a"/>
<circle cx="392.91" cy="83.32" r="0.65" fill="#fbf1f1"/>
<circle cx="398.18" cy="83.32" r="0.65" fill="#fbf1f1"/>
<circle cx="403.44" cy="83.32" r="1.95" fill="#d26f74"/>
<circle cx="408.72" cy="83.32" r="1.95" fill="#d26f74"/>
<circle cx="413.99" cy="83.32" r="1.95" fill="#d26f74"/>
<circle cx="419.25" cy="83.32" r="1.49" fill="#e8afb3"/>
<circle cx="424.52" cy="83.32" r="1.49" fill="#e8afb3"/>
<circle cx="429.80" cy="83.32" r="1.49" fill="#e8afb3"/>
<circle cx="435.06" cy="83.32" r="2.54" fill="#a51f26"/>
<circle cx="440.34" cy="83.32" r="1.95" fill="#d26f74"/>
<circle cx="445.61" cy="83.32" r="1.49" fill="#e8afb3"/>
<circle cx="450.88" cy="83.32" r="2.33" fill="#ba333a"/>
<circle cx="456.14" cy="83.32" r="2.33" fill="#ba333a"/>
<circle cx="461.42" cy="83.32" r="1.49" fill="#e8afb3"/>
<circle cx="466.69" cy="83.32" r="1.49" fill="#e8afb3"/>
<circle cx="471.96" cy="83.32" r="0.65" fill="#fbf1f1"/>
<circle cx="477.23" cy="83.32" r="1.56" fill="#d2d2d2"/>
<circle cx="482.50" cy="83.32" r="2.33" fill="#ba333a"/>
<circle cx="487.76" cy="83.32" r="2.33" fill="#ba333a"/>
<circle cx="493.03" cy="83.32" r="0.65" fill="#fbf1f1"/>
<circle cx="498.31" cy="83.32" r="1.56" fill="#d2d2d2"/>
<circle cx="503.58" cy="83.32" r="0.65" fill="#fbf1f1"/>
<circle cx="508.85" cy="83.32" r="2.33" fill="#ba333a"/>
<circle cx="282.24" cy="88.59" r="1.95" fill="#d26f74"/>
<circle cx="287.50" cy="88.59" r="1.49" fill="#e8afb3"/>
<circle cx="292.78" cy="88.59" r="2.54" fill="#a51f26"/>
<circle cx="298.05" cy="88.59" r="2.33" fill="#ba333a"/>
<circle cx="303.31" cy="88.59" r="1.95" fill="#d26f74"/>
<circle cx="308.59" cy="88.59" r="2.33" fill="#ba333a"/>
<circle cx="313.86" cy="88.59" r="2.33" fill="#ba333a"/>
<circle cx="319.12" cy="88.59" r="2.33" fill="#ba333a"/>
<circle cx="324.40" cy="88.59" r="2.63" fill="#9b161c"/>
<circle cx="329.67" cy="88.59" r="2.54" fill="#a51f26"/>
<circle cx="334.94" cy="88.59" r="2.33" fill="#ba333a"/>
<circle cx="340.21" cy="88.59" r="2.33" fill="#ba333a"/>
<circle cx="345.48" cy="88.59" r="1.95" fill="#d26f74"/>
<circle cx="350.75" cy="88.59" r="0.65" fill="#fbf1f1"/>
<circle cx="356.01" cy="88.59" r="0.65" fill="#fbf1f1"/>
<circle cx="361.29" cy="88.59" r="1.49" fill="#e8afb3"/>
<circle cx="366.56" cy="88.59" r="0.65" fill="#fbf1f1"/>
<circle cx="371.83" cy="88.59" r="1.49" fill="#e8afb3"/>
<circle cx="377.10" cy="88.59" r="1.49" fill="#e8afb3"/>
<circle cx="382.37" cy="88.59" r="0.65" fill="#fbf1f1"/>
<circle cx="387.63" cy="88.59" r="2.33" fill="#ba333a"/>
<circle cx="392.91" cy="88.59" r="0.65" fill="#fbf1f1"/>
<circle cx="398.18" cy="88.59" r="0.65" fill="#fbf1f1"/>
<circle cx="403.44" cy="88.59" r="1.95" fill="#d26f74"/>
<circle cx="408.72" cy="88.59" r="1.95" fill="#d26f74"/>
<circle cx="413.99" cy="88.59" r="1.49" fill="#e8afb3"/>
<circle cx="419.25" cy="88.59" r="1.49" fill="#e8afb3"/>
<circle cx="424.52" cy="88.59" r="1.49" fill="#e8afb3"/>
<circle cx="429.80" cy="88.59" r="1.49" fill="#e8afb3"/>
<circle cx="435.06" cy="88.59" r="2.33" fill="#ba333a"/>
<circle cx="440.34" cy="88.59" r="1.49" fill="#e8afb3"/>
<circle cx="445.61" cy="88.59" r="1.49" fill="#e8afb3"/>
<circle cx="450.88" cy="88.59" r="1.95" fill="#d26f74"/>
<circle cx="456.14" cy="88.59" r="1.95" fill="#d26f74"/>
<circle cx="461.42" cy="88.59" r="1.49" fill="#e8afb3"/>
<circle cx="466.69" cy="88.59" r="1.49" fill="#e8afb3"/>
<circle cx="471.96" cy="88.59" r="0.65" fill="#fbf1f1"/>
<circle cx="477.23" cy="88.59" r="1.56" fill="#d2d2d2"/>
<circle cx="482.50" cy="88.59" r="1.95" fill="#d26f74"/>
<circle cx="487.76" cy="88.59" r="1.95" fill="#d26f74"/>
<circle cx="493.03" cy="88.59" r="0.65" fill="#fbf1f1"/>
<circle cx="498.31" cy="88.59" r="0.65" fill="#fbf1f1"/>
<circle cx="503.58" cy="88.59" r="0.65" fill="#fbf1f1"/>
<circle cx="508.85" cy="88.59" r="1.95" fill="#d26f74"/>
<circle cx="282.24" cy="93.86" r="1.95" fill="#d26f74"/>
<circle cx="287.50" cy="93.86" r="1.95" fill="#d26f74"/>
<circle cx="292.78" cy="93.86" r="2.54" fill="#a51f26"/>
<circle cx="298.05" cy="93.86" r="2.54" fill="#a51f26"/>
<circle cx="303.31" cy="93.86" r="2.33" fill="#ba333a"/>
<circle cx="308.59" cy="93.86" r="2.54" fill="#a51f26"/>
<circle cx="313.86" cy="93.86" r="2.54" fill="#a51f26"/>
<circle cx="319.12" cy="93.86" r="2.54" fill="#a51f26"/>
<circle cx="324.40" cy="93.86" r="2.54" fill="#a51f26"/>
<circle cx="329.67" cy="93.86" r="2.63" fill="#9b161c"/>
<circle cx="334.94" cy="93.86" r="2.54" fill="#a51f26"/>
<circle cx="340.21" cy="93.86" r="2.33" fill="#ba333a"/>
<circle cx="345.48" cy="93.86" r="1.95" fill="#d26f74"/>
<circle cx="350.75" cy="93.86" r="0.65" fill="#fbf1f1"/>
<circle cx="356.01" cy="93.86" r="1.49" fill="#e8afb3"/>
<circle cx="361.29" cy="93.86" r="1.95" fill="#d26f74"/>
<circle cx="366.56" cy="93.86" r="1.95" fill="#d26f74"/>
<circle cx="371.83" cy="93.86" r="1.49" fill="#e8afb3"/>
<circle cx="377.10" cy="93.86" r="1.49" fill="#e8afb3"/>
<circle cx="382.37" cy="93.86" r="1.49" fill="#e8afb3"/>
<circle cx="387.63" cy="93.86" r="1.95" fill="#d26f74"/>
<circle cx="392.91" cy="93.86" r="0.65" fill="#fbf1f1"/>
<circle cx="398.18" cy="93.86" r="0.65" fill="#fbf1f1"/>
<circle cx="403.44" cy="93.86" r="1.95" fill="#d26f74"/>
<circle cx="408.72" cy="93.86" r="2.33" fill="#ba333a"/>
<circle cx="413.99" cy="93.86" r="1.49" fill="#e8afb3"/>
<circle cx="419.25" cy="93.86" r="1.49" fill="#e8afb3"/>
<circle cx="424.52" cy="93.86" r="1.49" fill="#e8afb3"/>
<circle cx="429.80" cy="93.86" r="0.65" fill="#fbf1f1"/>
<circle cx="435.06" cy="93.86" r="2.33" fill="#ba333a"/>
<circle cx="440.34" cy="93.86" r="1.49" fill="#e8afb3"/>
<circle cx="445.61" cy="93.86" r="1.49" fill="#e8afb3"/>
<circle cx="450.88" cy="93.86" r="1.95" fill="#d26f74"/>
<circle cx="456.14" cy="93.86" r="2.33" fill="#ba333a"/>
<circle cx="461.42" cy="93.86" r="1.49" fill="#e8afb3"/>
<circle cx="466.69" cy="93.86" r="1.95" fill="#d26f74"/>
<circle cx="471.96" cy="93.86" r="0.65" fill="#fbf1f1"/>
<circle cx="477.23" cy="93.86" r="1.49" fill="#e8afb3"/>
<circle cx="482.50" cy="93.86" r="2.33" fill="#ba333a"/>
<circle cx="487.76" cy="93.86" r="2.33" fill="#ba333a"/>
<circle cx="493.03" cy="93.86" r="0.65" fill="#fbf1f1"/>
<circle cx="498.31" cy="93.86" r="1.56" fill="#d2d2d2"/>
<circle cx="503.58" cy="93.86" r="1.86" fill="#bfbfbf"/>
<circle cx="508.85" cy="93.86" r="2.33" fill="#ba333a"/>
<circle cx="282.24" cy="99.13" r="1.95" fill="#d26f74"/>
<circle cx="287.50" cy="99.13" r="0.65" fill="#fbf1f1"/>
<circle cx="292.78" cy="99.13" r="2.54" fill="#a51f26"/>
<circle cx="298.05" cy="99.13" r="2.54" fill="#a51f26"/>
<circle cx="303.31" cy="99.13" r="2.33" fill="#ba333a"/>
<circle cx="308.59" cy="99.13" r="2.54" fill="#a51f26"/>
<circle cx="313.86" cy="99.13" r="2.54" fill="#a51f26"/>
<circle cx="319.12" cy="99.13" r="2.54" fill="#a51f26"/>
<circle cx="324.40" cy="99.13" r="2.33" fill="#ba333a"/>
<circle cx="329.67" cy="99.13" r="2.54" fill="#a51f26"/>
<circle cx="334.94" cy="99.13" r="2.63" fill="#9b161c"/>
<circle cx="340.21" cy="99.13" r="2.54" fill="#a51f26"/>
<circle cx="345.48" cy="99.13" r="2.33" fill="#ba333a"/>
<circle cx="350.75" cy="99.13" r="0.65" fill="#fbf1f1"/>
<circle cx="356.01" cy="99.13" r="0.65" fill="#fbf1f1"/>
<circle cx="361.29" cy="99.13" r="1.49" fill="#e8afb3"/>
<circle cx="366.56" cy="99.13" r="1.49" fill="#e8afb3"/>
<circle cx="371.83" cy="99.13" r="0.65" fill="#fbf1f1"/>
<circle cx="377.10" cy="99.13" r="1.49" fill="#e8afb3"/>
<circle cx="382.37" cy="99.13" r="1.49" fill="#e8afb3"/>
<circle cx="387.63" cy="99.13" r="2.33" fill="#ba333a"/>
<circle cx="392.91" cy="99.13" r="0.65" fill="#fbf1f1"/>
<circle cx="398.18" cy="99.13" r="1.49" fill="#e8afb3"/>
<circle cx="403.44" cy="99.13" r="2.33" fill="#ba333a"/>
<circle cx="408.72" cy="99.13" r="1.95" fill="#d26f74"/>
<circle cx="413.99" cy="99.13" r="1.95" fill="#d26f74"/>
<circle cx="419.25" cy="99.13" r="0.65" fill="#fbf1f1"/>
<circle cx="424.52" cy="99.13" r="0.65" fill="#fbf1f1"/>
<circle cx="429.80" cy="99.13" r="1.49" fill="#e8afb3"/>
<circle cx="435.06" cy="99.13" r="2.54" fill="#a51f26"/>
<circle cx="440.34" cy="99.13" r="1.95" fill="#d26f74"/>
<circle cx="445.61" cy="99.13" r="1.49" fill="#e8afb3"/>
<circle cx="450.88" cy="99.13" r="1.95" fill="#d26f74"/>
<circle cx="456.14" cy="99.13" r="2.33" fill="#ba333a"/>
<circle cx="461.42" cy="99.13" r="0.65" fill="#fbf1f1"/>
<circle cx="466.69" cy="99.13" r="1.49" fill="#e8afb3"/>
<circle cx="471.96" cy="99.13" r="0.65" fill="#fbf1f1"/>
<circle cx="477.23" cy="99.13" r="1.56" fill="#d2d2d2"/>
<circle cx="482.50" cy="99.13" r="2.33" fill="#ba333a"/>
<circle cx="487.76" cy="99.13" r="2.33" fill="#ba333a"/>
<circle cx="493.03" cy="99.13" r="1.49" fill="#e8afb3"/>
<circle cx="498.31" cy="99.13" r="0.65" fill="#fbf1f1"/>
<circle cx="503.58" cy="99.13" r="1.56" fill="#d2d2d2"/>
<circle cx="508.85" cy="99.13" r="2.33" fill="#ba333a"/>
<circle cx="282.24" cy="104.41" r="2.33" fill="#ba333a"/>
<circle cx="287.50" cy="104.41" r="0.65" fill="#fbf1f1"/>
<circle cx="292.78" cy="104.41" r="2.54" fill="#a51f26"/>
<circle cx="298.05" cy="104.41" r="2.54" fill="#a51f26"/>
<circle cx="303.31" cy="104.41" r="1.95" fill="#d26f74"/>
<circle cx="308.59" cy="104.41" r="2.33" fill="#ba333a"/>
<circle cx="313.86" cy="104.41" r="2.33" fill="#ba333a"/>
<circle cx="319.12" cy="104.41" r="2.33" fill="#ba333a"/>
<circle cx="324.40" cy="104.41" r="1.95" fill="#d26f74"/>
<circle cx="329.67" cy="104.41" r="1.95" fill="#d26f74"/>
<circle cx="334.94" cy="104.41" r="2.54" fill="#a51f26"/>
<circle cx="340.21" cy="104.41" r="2.63" fill="#9b161c"/>
<circle cx="345.48" cy="104.41" r="2.33" fill="#ba333a"/>
<circle cx="350.75" cy="104.41" r="1.49" fill="#e8afb3"/>
<circle cx="356.01" cy="104.41" r="0.65" fill="#fbf1f1"/>
<circle cx="361.29" cy="104.41" r="1.49" fill="#e8afb3"/>
<circle cx="366.56" cy="104.41" r="0.65" fill="#fbf1f1"/>
<circle cx="371.83" cy="104.41" r="1.49" fill="#e8afb3"/>
<circle cx="377.10" cy="104.41" r="1.49" fill="#e8afb3"/>
<circle cx="382.37" cy="104.41" r="1.49" fill="#e8afb3"/>
<circle cx="387.63" cy="104.41" r="2.33" fill="#ba333a"/>
<circle cx="392.91" cy="104.41" r="0.65" fill="#fbf1f1"/>
<circle cx="398.18" cy="104.41" r="1.49" fill="#e8afb3"/>
<circle cx="403.44" cy="104.41" r="1.95" fill="#d26f74"/>
<circle cx="408.72" cy="104.41" r="2.33" fill="#ba333a"/>
<circle cx="413.99" cy="104.41" r="1.95" fill="#d26f74"/>
<circle cx="419.25" cy="104.41" r="1.49" fill="#e8afb3"/>
<circle cx="424.52" cy="104.41" r="0.65" fill="#fbf1f1"/>
<circle cx="429.80" cy="104.41" r="1.49" fill="#e8afb3"/>
<circle cx="435.06" cy="104.41" r="2.33" fill="#ba333a"/>
<circle cx="440.34" cy="104.41" r="1.95" fill="#d26f74"/>
<circle cx="445.61" cy="104.41" r="1.95" fill="#d26f74"/>
<circle cx="450.88" cy="104.41" r="1.95" fill="#d26f74"/>
<circle cx="456.14" cy="104.41" r="2.54" fill="#a51f26"/>
<circle cx="461.42" cy="104.41" r="0.65" fill="#fbf1f1"/>
<circle cx="466.69" cy="104.41" r="0.65" fill="#fbf1f1"/>
<circle cx="471.96" cy="104.41" r="1.95" fill="#d26f74"/>
<circle cx="477.23" cy="104.41" r="0.65" fill="#fbf1f1"/>
<circle cx="482.50" cy="104.41" r="1.95" fill="#d26f74"/>
<circle cx="487.76" cy="104.41" r="1.49" fill="#e8afb3"/>
<circle cx="493.03" cy="104.41" r="1.49" fill="#e8afb3"/>
<circle cx="498.31" cy="104.41" r="1.56" fill="#d2d2d2"/>
<circle cx="503.58" cy="104.41" r="1.49" fill="#e8afb3"/>
<circle cx="508.85" cy="104.41" r="2.33" fill="#ba333a"/>
<circle cx="282.24" cy="109.67" r="1.95" fill="#d26f74"/>
<circle cx="287.50" cy="109.67" r="0.65" fill="#fbf1f1"/>
<circle cx="292.78" cy="109.67" r="2.33" fill="#ba333a"/>
<circle cx="298.05" cy="109.67" r="2.33" fill="#ba333a"/>
<circle cx="303.31" cy="109.67" r="1.95" fill="#d26f74"/>
<circle cx="308.59" cy="109.67" r="2.33" fill="#ba333a"/>
<circle cx="313.86" cy="109.67" r="2.33" fill="#ba333a"/>
<circle cx="319.12" cy="109.67" r="2.33" fill="#ba333a"/>
<circle cx="324.40" cy="109.67" r="1.95" fill="#d26f74"/>
<circle cx="329.67" cy="109.67" r="2.33" fill="#ba333a"/>
<circle cx="334.94" cy="109.67" r="2.33" fill="#ba333a"/>
<circle cx="340.21" cy="109.67" r="2.33" fill="#ba333a"/>
<circle cx="345.48" cy="109.67" r="2.63" fill="#9b161c"/>
<circle cx="350.75" cy="109.67" r="0.65" fill="#fbf1f1"/>
<circle cx="356.01" cy="109.67" r="1.56" fill="#d2d2d2"/>
<circle cx="361.29" cy="109.67" r="1.49" fill="#e8afb3"/>
<circle cx="366.56" cy="109.67" r="0.65" fill="#fbf1f1"/>
<circle cx="371.83" cy="109.67" r="1.95" fill="#d26f74"/>
<circle cx="377.10" cy="109.67" r="1.49" fill="#e8afb3"/>
<circle cx="382.37" cy="109.67" r="0.65" fill="#fbf1f1"/>
<circle cx="387.63" cy="109.67" r="2.33" fill="#ba333a"/>
<circle cx="392.91" cy="109.67" r="0.65" fill="#fbf1f1"/>
<circle cx="398.18" cy="109.67" r="0.65" fill="#fbf1f1"/>
<circle cx="403.44" cy="109.67" r="1.95" fill="#d26f74"/>
<circle cx="408.72" cy="109.67" r="1.95" fill="#d26f74"/>
<circle cx="413.99" cy="109.67" r="1.49" fill="#e8afb3"/>
<circle cx="419.25" cy="109.67" r="0.65" fill="#fbf1f1"/>
<circle cx="424.52" cy="109.67" r="0.65" fill="#fbf1f1"/>
<circle cx="429.80" cy="109.67" r="0.65" fill="#fbf1f1"/>
<circle cx="435.06" cy="109.67" r="2.54" fill="#a51f26"/>
<circle cx="440.34" cy="109.67" r="2.54" fill="#a51f26"/>
<circle cx="445.61" cy="109.67" r="2.54" fill="#a51f26"/>
<circle cx="450.88" cy="109.67" r="2.54" fill="#a51f26"/>
<circle cx="456.14" cy="109.67" r="2.33" fill="#ba333a"/>
<circle cx="461.42" cy="109.67" r="1.56" fill="#d2d2d2"/>
<circle cx="466.69" cy="109.67" r="1.49" fill="#e8afb3"/>
<circle cx="471.96" cy="109.67" r="0.65" fill="#fbf1f1"/>
<circle cx="477.23" cy="109.67" r="1.56" fill="#d2d2d2"/>
<circle cx="482.50" cy="109.67" r="2.33" fill="#ba333a"/>
<circle cx="487.76" cy="109.67" r="1.95" fill="#d26f74"/>
<circle cx="493.03" cy="109.67" r="1.95" fill="#d26f74"/>
<circle cx="498.31" cy="109.67" r="1.56" fill="#d2d2d2"/>
<circle cx="503.58" cy="109.67" r="0.65" fill="#fbf1f1"/>
<circle cx="508.85" cy="109.67" r="1.95" fill="#d26f74"/>
<circle cx="282.24" cy="114.94" r="1.49" fill="#e8afb3"/>
<circle cx="287.50" cy="114.94" r="2.33" fill="#ba333a"/>
<circle cx="292.78" cy="114.94" r="1.49" fill="#e8afb3"/>
<circle cx="298.05" cy="114.94" r="1.49" fill="#e8afb3"/>
<circle cx="303.31" cy="114.94" r="0.65" fill="#fbf1f1"/>
<circle cx="308.59" cy="114.94" r="0.65" fill="#fbf1f1"/>
<circle cx="313.86" cy="114.94" r="0.65" fill="#fbf1f1"/>
<circle cx="319.12" cy="114.94" r="0.65" fill="#fbf1f1"/>
<circle cx="324.40" cy="114.94" r="0.65" fill="#fbf1f1"/>
<circle cx="329.67" cy="114.94" r="0.65" fill="#fbf1f1"/>
<circle cx="334.94" cy="114.94" r="0.65" fill="#fbf1f1"/>
<circle cx="340.21" cy="114.94" r="0.65" fill="#fbf1f1"/>
<circle cx="345.48" cy="114.94" r="0.65" fill="#fbf1f1"/>
<circle cx="350.75" cy="114.94" r="2.63" fill="#9b161c"/>
<circle cx="356.01" cy="114.94" r="1.56" fill="#d2d2d2"/>
<circle cx="361.29" cy="114.94" r="1.49" fill="#e8afb3"/>
<circle cx="366.56" cy="114.94" r="0.65" fill="#fbf1f1"/>
<circle cx="371.83" cy="114.94" r="1.56" fill="#d2d2d2"/>
<circle cx="377.10" cy="114.94" r="0.65" fill="#fbf1f1"/>
<circle cx="382.37" cy="114.94" r="1.49" fill="#e8afb3"/>
<circle cx="387.63" cy="114.94" r="0.65" fill="#fbf1f1"/>
<circle cx="392.91" cy="114.94" r="0.65" fill="#fbf1f1"/>
<circle cx="398.18" cy="114.94" r="1.49" fill="#e8afb3"/>
<circle cx="403.44" cy="114.94" r="1.56" fill="#d2d2d2"/>
<circle cx="408.72" cy="114.94" r="1.49" fill="#e8afb3"/>
<circle cx="413.99" cy="114.94" r="0.65" fill="#fbf1f1"/>
<circle cx="419.25" cy="114.94" r="1.56" fill="#d2d2d2"/>
<circle cx="424.52" cy="114.94" r="0.65" fill="#fbf1f1"/>
<circle cx="429.80" cy="114.94" r="0.65" fill="#fbf1f1"/>
<circle cx="435.06" cy="114.94" r="1.56" fill="#d2d2d2"/>
<circle cx="440.34" cy="114.94" r="1.86" fill="#bfbfbf"/>
<circle cx="445.61" cy="114.94" r="1.56" fill="#d2d2d2"/>
<circle cx="450.88" cy="114.94" r="1.56" fill="#d2d2d2"/>
<circle cx="456.14" cy="114.94" r="0.65" fill="#fbf1f1"/>
<circle cx="461.42" cy="114.94" r="1.95" fill="#d26f74"/>
<circle cx="466.69" cy="114.94" r="0.65" fill="#fbf1f1"/>
<circle cx="471.96" cy="114.94" r="1.95" fill="#d26f74"/>
<circle cx="477.23" cy="114.94" r="0.65" fill="#fbf1f1"/>
<circle cx="482.50" cy="114.94" r="1.49" fill="#e8afb3"/>
<circle cx="487.76" cy="114.94" r="0.65" fill="#fbf1f1"/>
<circle cx="493.03" cy="114.94" r="1.95" fill="#d26f74"/>
<circle cx="498.31" cy="114.94" r="2.54" fill="#a51f26"/>
<circle cx="503.58" cy="114.94" r="1.49" fill="#e8afb3"/>
<circle cx="508.85" cy="114.94" r="0.65" fill="#fbf1f1"/>
<circle cx="282.24" cy="120.21" r="0.65" fill="#fbf1f1"/>
<circle cx="287.50" cy="120.21" r="1.86" fill="#bfbfbf"/>
<circle cx="292.78" cy="120.21" r="0.65" fill="#fbf1f1"/>
<circle cx="298.05" cy="120.21" r="0.65" fill="#fbf1f1"/>
<circle cx="303.31" cy="120.21" r="1.49" fill="#e8afb3"/>
<circle cx="308.59" cy="120.21" r="1.49" fill="#e8afb3"/>
<circle cx="313.86" cy="120.21" r="1.49" fill="#e8afb3"/>
<circle cx="319.12" cy="120.21" r="0.65" fill="#fbf1f1"/>
<circle cx="324.40" cy="120.21" r="1.49" fill="#e8afb3"/>
<circle cx="329.67" cy="120.21" r="0.65" fill="#fbf1f1"/>
<circle cx="334.94" cy="120.21" r="0.65" fill="#fbf1f1"/>
<circle cx="340.21" cy="120.21" r="0.65" fill="#fbf1f1"/>
<circle cx="345.48" cy="120.21" r="1.56" fill="#d2d2d2"/>
<circle cx="350.75" cy="120.21" r="1.56" fill="#d2d2d2"/>
<circle cx="356.01" cy="120.21" r="2.63" fill="#9b161c"/>
<circle cx="361.29" cy="120.21" r="1.56" fill="#d2d2d2"/>
<circle cx="366.56" cy="120.21" r="1.49" fill="#e8afb3"/>
<circle cx="371.83" cy="120.21" r="0.65" fill="#fbf1f1"/>
<circle cx="377.10" cy="120.21" r="0.65" fill="#fbf1f1"/>
<circle cx="382.37" cy="120.21" r="0.65" fill="#fbf1f1"/>
<circle cx="387.63" cy="120.21" r="1.56" fill="#d2d2d2"/>
<circle cx="392.91" cy="120.21" r="0.65" fill="#fbf1f1"/>
<circle cx="398.18" cy="120.21" r="1.86" fill="#bfbfbf"/>
<circle cx="403.44" cy="120.21" r="0.65" fill="#fbf1f1"/>
<circle cx="408.72" cy="120.21" r="0.65" fill="#fbf1f1"/>
<circle cx="413.99" cy="120.21" r="1.95" fill="#d26f74"/>
<circle cx="419.25" cy="120.21" r="1.49" fill="#e8afb3"/>
<circle cx="424.52" cy="120.21" r="0.65" fill="#fbf1f1"/>
<circle cx="429.80" cy="120.21" r="1.49" fill="#e8afb3"/>
<circle cx="435.06" cy="120.21" r="0.65" fill="#fbf1f1"/>
<circle cx="440.34" cy="120.21" r="0.65" fill="#fbf1f1"/>
<circle cx="445.61" cy="120.21" r="0.65" fill="#fbf1f1"/>
<circle cx="450.88" cy="120.21" r="0.65" fill="#fbf1f1"/>
<circle cx="456.14" cy="120.21" r="0.65" fill="#fbf1f1"/>
<circle cx="461.42" cy="120.21" r="0.65" fill="#fbf1f1"/>
<circle cx="466.69" cy="120.21" r="0.65" fill="#fbf1f1"/>
<circle cx="471.96" cy="120.21" r="0.65" fill="#fbf1f1"/>
<circle cx="477.23" cy="120.21" r="1.49" fill="#e8afb3"/>
<circle cx="482.50" cy="120.21" r="0.65" fill="#fbf1f1"/>
<circle cx="487.76" cy="120.21" r="0.65" fill="#fbf1f1"/>
<circle cx="493.03" cy="120.21" r="1.56" fill="#d2d2d2"/>
<circle cx="498.31" cy="120.21" r="1.95" fill="#d26f74"/>
<circle cx="503.58" cy="120.21" r="0.65" fill="#fbf1f1"/>
<circle cx="508.85" cy="120.21" r="0.65" fill="#fbf1f1"/>
<circle cx="282.24" cy="125.48" r="1.49" fill="#e8afb3"/>
<circle cx="287.50" cy="125.48" r="1.49" fill="#e8afb3"/>
<circle cx="292.78" cy="125.48" r="1.49" fill="#e8afb3"/>
<circle cx="298.05" cy="125.48" r="0.65" fill="#fbf1f1"/>
<circle cx="303.31" cy="125.48" r="1.95" fill="#d26f74"/>
<circle cx="308.59" cy="125.48" r="1.49" fill="#e8afb3"/>
<circle cx="313.86" cy="125.48" r="1.49" fill="#e8afb3"/>
<circle cx="319.12" cy="125.48" r="1.95" fill="#d26f74"/>
<circle cx="324.40" cy="125.48" r="1.95" fill="#d26f74"/>
<circle cx="329.67" cy="125.48" r="1.95" fill="#d26f74"/>
<circle cx="334.94" cy="125.48" r="1.49" fill="#e8afb3"/>
<circle cx="340.21" cy="125.48" r="1.49" fill="#e8afb3"/>
<circle cx="345.48" cy="125.48" r="1.49" fill="#e8afb3"/>
<circle cx="350.75" cy="125.48" r="0.65" fill="#fbf1f1"/>
<circle cx="356.01" cy="125.48" r="1.56" fill="#d2d2d2"/>
<circle cx="361.29" cy="125.48" r="2.63" fill="#9b161c"/>
<circle cx="366.56" cy="125.48" r="1.56" fill="#d2d2d2"/>
<circle cx="371.83" cy="125.48" r="1.49" fill="#e8afb3"/>
<circle cx="377.10" cy="125.48" r="0.65" fill="#fbf1f1"/>
<circle cx="382.37" cy="125.48" r="0.65" fill="#fbf1f1"/>
<circle cx="387.63" cy="125.48" r="1.56" fill="#d2d2d2"/>
<circle cx="392.91" cy="125.48" r="0.65" fill="#fbf1f1"/>
<circle cx="398.18" cy="125.48" r="0.65" fill="#fbf1f1"/>
<circle cx="403.44" cy="125.48" r="0.65" fill="#fbf1f1"/>
<circle cx="408.72" cy="125.48" r="0.65" fill="#fbf1f1"/>
<circle cx="413.99" cy="125.48" r="1.56" fill="#d2d2d2"/>
<circle cx="419.25" cy="125.48" r="0.65" fill="#fbf1f1"/>
<circle cx="424.52" cy="125.48" r="1.95" fill="#d26f74"/>
<circle cx="429.80" cy="125.48" r="0.65" fill="#fbf1f1"/>
<circle cx="435.06" cy="125.48" r="1.95" fill="#d26f74"/>
<circle cx="440.34" cy="125.48" r="1.49" fill="#e8afb3"/>
<circle cx="445.61" cy="125.48" r="0.65" fill="#fbf1f1"/>
<circle cx="450.88" cy="125.48" r="0.65" fill="#fbf1f1"/>
<circle cx="456.14" cy="125.48" r="0.65" fill="#fbf1f1"/>
<circle cx="461.42" cy="125.48" r="1.86" fill="#bfbfbf"/>
<circle cx="466.69" cy="125.48" r="0.65" fill="#fbf1f1"/>
<circle cx="471.96" cy="125.48" r="1.56" fill="#d2d2d2"/>
<circle cx="477.23" cy="125.48" r="1.56" fill="#d2d2d2"/>
<circle cx="482.50" cy="125.48" r="0.65" fill="#fbf1f1"/>
<circle cx="487.76" cy="125.48" r="0.65" fill="#fbf1f1"/>
<circle cx="493.03" cy="125.48" r="1.56" fill="#d2d2d2"/>
<circle cx="498.31" cy="125.48" r="0.65" fill="#fbf1f1"/>
<circle cx="503.58" cy="125.48" r="0.65" fill="#fbf1f1"/>
<circle cx="508.85" cy="125.48" r="0.65" fill="#fbf1f1"/>
<circle cx="282.24" cy="130.75" r="0.65" fill="#fbf1f1"/>
<circle cx="287.50" cy="130.75" r="1.95" fill="#d26f74"/>
<circle cx="292.78" cy="130.75" r="0.65" fill="#fbf1f1"/>
<circle cx="298.05" cy="130.75" r="0.65" fill="#fbf1f1"/>
<circle cx="303.31" cy="130.75" r="0.65" fill="#fbf1f1"/>
<circle cx="308.59" cy="130.75" r="1.49" fill="#e8afb3"/>
<circle cx="313.86" cy="130.75" r="0.65" fill="#fbf1f1"/>
<circle cx="319.12" cy="130.75" r="1.49" fill="#e8afb3"/>
<circle cx="324.40" cy="130.75" r="1.95" fill="#d26f74"/>
<circle cx="329.67" cy="130.75" r="1.95" fill="#d26f74"/>
<circle cx="334.94" cy="130.75" r="1.49" fill="#e8afb3"/>
<circle cx="340.21" cy="130.75" r="0.65" fill="#fbf1f1"/>
<circle cx="345.48" cy="130.75" r="0.65" fill="#fbf1f1"/>
<circle cx="350.75" cy="130.75" r="0.65" fill="#fbf1f1"/>
<circle cx="356.01" cy="130.75" r="0.65" fill="#fbf1f1"/>
<circle cx="361.29" cy="130.75" r="1.56" fill="#d2d2d2"/>
<circle cx="366.56" cy="130.75" r="2.63" fill="#9b161c"/>
<circle cx="371.83" cy="130.75" r="0.65" fill="#fbf1f1"/>
<circle cx="377.10" cy="130.75" r="0.65" fill="#fbf1f1"/>
<circle cx="382.37" cy="130.75" r="0.65" fill="#fbf1f1"/>
<circle cx="387.63" cy="130.75" r="0.65" fill="#fbf1f1"/>
<circle cx="392.91" cy="130.75" r="1.86" fill="#bfbfbf"/>
<circle cx="398.18" cy="130.75" r="1.56" fill="#d2d2d2"/>
<circle cx="403.44" cy="130.75" r="1.49" fill="#e8afb3"/>
<circle cx="408.72" cy="130.75" r="1.49" fill="#e8afb3"/>
<circle cx="413.99" cy="130.75" r="1.49" fill="#e8afb3"/>
<circle cx="419.25" cy="130.75" r="1.49" fill="#e8afb3"/>
<circle cx="424.52" cy="130.75" r="1.56" fill="#d2d2d2"/>
<circle cx="429.80" cy="130.75" r="0.65" fill="#fbf1f1"/>
<circle cx="435.06" cy="130.75" r="0.65" fill="#fbf1f1"/>
<circle cx="440.34" cy="130.75" r="0.65" fill="#fbf1f1"/>
<circle cx="445.61" cy="130.75" r="0.65" fill="#fbf1f1"/>
<circle cx="450.88" cy="130.75" r="0.65" fill="#fbf1f1"/>
<circle cx="456.14" cy="130.75" r="0.65" fill="#fbf1f1"/>
<circle cx="461.42" cy="130.75" r="2.33" fill="#ba333a"/>
<circle cx="466.69" cy="130.75" r="0.65" fill="#fbf1f1"/>
<circle cx="471.96" cy="130.75" r="0.65" fill="#fbf1f1"/>
<circle cx="477.23" cy="130.75" r="1.95" fill="#d26f74"/>
<circle cx="482.50" cy="130.75" r="0.65" fill="#fbf1f1"/>
<circle cx="487.76" cy="130.75" r="1.49" fill="#e8afb3"/>
<circle cx="493.03" cy="130.75" r="0.65" fill="#fbf1f1"/>
<circle cx="498.31" cy="130.75" r="1.56" fill="#d2d2d2"/>
<circle cx="503.58" cy="130.75" r="0.65" fill="#fbf1f1"/>
<circle cx="508.85" cy="130.75" r="0.65" fill="#fbf1f1"/>
<circle cx="282.24" cy="136.02" r="1.49" fill="#e8afb3"/>
<circle cx="287.50" cy="136.02" r="1.56" fill="#d2d2d2"/>
<circle cx="292.78" cy="136.02" r="1.49" fill="#e8afb3"/>
<circle cx="298.05" cy="136.02" r="1.49" fill="#e8afb3"/>
<circle cx="303.31" cy="136.02" r="1.49" fill="#e8afb3"/>
<circle cx="308.59" cy="136.02" r="1.49" fill="#e8afb3"/>
<circle cx="313.86" cy="136.02" r="1.95" fill="#d26f74"/>
<circle cx="319.12" cy="136.02" r="1.95" fill="#d26f74"/>
<circle cx="324.40" cy="136.02" r="1.49" fill="#e8afb3"/>
<circle cx="329.67" cy="136.02" r="1.49" fill="#e8afb3"/>
<circle cx="334.94" cy="136.02" r="1.49" fill="#e8afb3"/>
<circle cx="340.21" cy="136.02" r="1.49" fill="#e8afb3"/>
<circle cx="345.48" cy="136.02" r="1.95" fill="#d26f74"/>
<circle cx="350.75" cy="136.02" r="0.65" fill="#fbf1f1"/>
<circle cx="356.01" cy="136.02" r="0.65" fill="#fbf1f1"/>
<circle cx="361.29" cy="136.02" r="1.56" fill="#d2d2d2"/>
<circle cx="366.56" cy="136.02" r="1.56" fill="#d2d2d2"/>
<circle cx="371.83" cy="136.02" r="2.63" fill="#9b161c"/>
<circle cx="377.10" cy="136.02" r="2.54" fill="#a51f26"/>
<circle cx="382.37" cy="136.02" r="1.95" fill="#d26f74"/>
<circle cx="387.63" cy="136.02" r="1.95" fill="#d26f74"/>
<circle cx="392.91" cy="136.02" r="0.65" fill="#fbf1f1"/>
<circle cx="398.18" cy="136.02" r="1.49" fill="#e8afb3"/>
<circle cx="403.44" cy="136.02" r="1.95" fill="#d26f74"/>
<circle cx="408.72" cy="136.02" r="1.95" fill="#d26f74"/>
<circle cx="413.99" cy="136.02" r="1.95" fill="#d26f74"/>
<circle cx="419.25" cy="136.02" r="1.49" fill="#e8afb3"/>
<circle cx="424.52" cy="136.02" r="0.65" fill="#fbf1f1"/>
<circle cx="429.80" cy="136.02" r="1.49" fill="#e8afb3"/>
<circle cx="435.06" cy="136.02" r="1.95" fill="#d26f74"/>
<circle cx="440.34" cy="136.02" r="1.49" fill="#e8afb3"/>
<circle cx="445.61" cy="136.02" r="1.49" fill="#e8afb3"/>
<circle cx="450.88" cy="136.02" r="1.49" fill="#e8afb3"/>
<circle cx="456.14" cy="136.02" r="0.65" fill="#fbf1f1"/>
<circle cx="461.42" cy="136.02" r="1.49" fill="#e8afb3"/>
<circle cx="466.69" cy="136.02" r="1.49" fill="#e8afb3"/>
<circle cx="471.96" cy="136.02" r="0.65" fill="#fbf1f1"/>
<circle cx="477.23" cy="136.02" r="0.65" fill="#fbf1f1"/>
<circle cx="482.50" cy="136.02" r="2.33" fill="#ba333a"/>
<circle cx="487.76" cy="136.02" r="0.65" fill="#fbf1f1"/>
<circle cx="493.03" cy="136.02" r="0.65" fill="#fbf1f1"/>
<circle cx="498.31" cy="136.02" r="1.86" fill="#bfbfbf"/>
<circle cx="503.58" cy="136.02" r="0.65" fill="#fbf1f1"/>
<circle cx="508.85" cy="136.02" r="1.49" fill="#e8afb3"/>
<circle cx="282.24" cy="141.29" r="1.95" fill="#d26f74"/>
<circle cx="287.50" cy="141.29" r="0.65" fill="#fbf1f1"/>
<circle cx="292.78" cy="141.29" r="1.49" fill="#e8afb3"/>
<circle cx="298.05" cy="141.29" r="1.49" fill="#e8afb3"/>
<circle cx="303.31" cy="141.29" r="0.65" fill="#fbf1f1"/>
<circle cx="308.59" cy="141.29" r="1.49" fill="#e8afb3"/>
<circle cx="313.86" cy="141.29" r="1.49" fill="#e8afb3"/>
<circle cx="319.12" cy="141.29" r="1.49" fill="#e8afb3"/>
<circle cx="324.40" cy="141.29" r="1.49" fill="#e8afb3"/>
<circle cx="329.67" cy="141.29" r="0.65" fill="#fbf1f1"/>
<circle cx="334.94" cy="141.29" r="1.49" fill="#e8afb3"/>
<circle cx="340.21" cy="141.29" r="1.49" fill="#e8afb3"/>
<circle cx="345.48" cy="141.29" r="1.95" fill="#d26f74"/>
<circle cx="350.75" cy="141.29" r="0.65" fill="#fbf1f1"/>
<circle cx="356.01" cy="141.29" r="1.56" fill="#d2d2d2"/>
<circle cx="361.29" cy="141.29" r="0.65" fill="#fbf1f1"/>
<circle cx="366.56" cy="141.29" r="0.65" fill="#fbf1f1"/>
<circle cx="371.83" cy="141.29" r="2.54" fill="#a51f26"/>
<circle cx="377.10" cy="141.29" r="2.63" fill="#9b161c"/>
<circle cx="382.37" cy="141.29" r="1.95" fill="#d26f74"/>
<circle cx="387.63" cy="141.29" r="1.95" fill="#d26f74"/>
<circle cx="392.91" cy="141.29" r="0.65" fill="#fbf1f1"/>
<circle cx="398.18" cy="141.29" r="1.49" fill="#e8afb3"/>
<circle cx="403.44" cy="141.29" r="1.49" fill="#e8afb3"/>
<circle cx="408.72" cy="141.29" r="1.49" fill="#e8afb3"/>
<circle cx="413.99" cy="141.29" r="1.49" fill="#e8afb3"/>
<circle cx="419.25" cy="141.29" r="1.49" fill="#e8afb3"/>
<circle cx="424.52" cy="141.29" r="1.56" fill="#d2d2d2"/>
<circle cx="429.80" cy="141.29" r="0.65" fill="#fbf1f1"/>
<circle cx="435.06" cy="141.29" r="1.49" fill="#e8afb3"/>
<circle cx="440.34" cy="141.29" r="0.65" fill="#fbf1f1"/>
<circle cx="445.61" cy="141.29" r="0.65" fill="#fbf1f1"/>
<circle cx="450.88" cy="141.29" r="1.49" fill="#e8afb3"/>
<circle cx="456.14" cy="141.29" r="0.65" fill="#fbf1f1"/>
<circle cx="461.42" cy="141.29" r="0.65" fill="#fbf1f1"/>
<circle cx="466.69" cy="141.29" r="1.49" fill="#e8afb3"/>
<circle cx="471.96" cy="141.29" r="1.49" fill="#e8afb3"/>
<circle cx="477.23" cy="141.29" r="1.49" fill="#e8afb3"/>
<circle cx="482.50" cy="141.29" r="1.95" fill="#d26f74"/>
<circle cx="487.76" cy="141.29" r="0.65" fill="#fbf1f1"/>
<circle cx="493.03" cy="141.29" r="1.49" fill="#e8afb3"/>
<circle cx="498.31" cy="141.29" r="1.56" fill="#d2d2d2"/>
<circle cx="503.58" cy="141.29" r="1.56" fill="#d2d2d2"/>
<circle cx="508.85" cy="141.29" r="1.49" fill="#e8afb3"/>
<circle cx="282.24" cy="146.56" r="2.33" fill="#ba333a"/>
<circle cx="287.50" cy="146.56" r="0.65" fill="#fbf1f1"/>
<circle cx="292.78" cy="146.56" r="1.95" fill="#d26f74"/>
<circle cx="298.05" cy="146.56" r="1.95" fill="#d26f74"/>
<circle cx="303.31" cy="146.56" r="1.49" fill="#e8afb3"/>
<circle cx="308.59" cy="146.56" r="1.95" fill="#d26f74"/>
<circle cx="313.86" cy="146.56" r="1.95" fill="#d26f74"/>
<circle cx="319.12" cy="146.56" r="1.49" fill="#e8afb3"/>
<circle cx="324.40" cy="146.56" r="1.95" fill="#d26f74"/>
<circle cx="329.67" cy="146.56" r="1.95" fill="#d26f74"/>
<circle cx="334.94" cy="146.56" r="1.49" fill="#e8afb3"/>
<circle cx="340.21" cy="146.56" r="1.49" fill="#e8afb3"/>
<circle cx="345.48" cy="146.56" r="1.95" fill="#d26f74"/>
<circle cx="350.75" cy="146.56" r="0.65" fill="#fbf1f1"/>
<circle cx="356.01" cy="146.56" r="0.65" fill="#fbf1f1"/>
<circle cx="361.29" cy="146.56" r="1.56" fill="#d2d2d2"/>
<circle cx="366.56" cy="146.56" r="0.65" fill="#fbf1f1"/>
<circle cx="371.83" cy="146.56" r="1.95" fill="#d26f74"/>
<circle cx="377.10" cy="146.56" r="2.33" fill="#ba333a"/>
<circle cx="382.37" cy="146.56" r="2.63" fill="#9b161c"/>
<circle cx="387.63" cy="146.56" r="1.95" fill="#d26f74"/>
<circle cx="392.91" cy="146.56" r="0.65" fill="#fbf1f1"/>
<circle cx="398.18" cy="146.56" r="1.49" fill="#e8afb3"/>
<circle cx="403.44" cy="146.56" r="1.95" fill="#d26f74"/>
<circle cx="408.72" cy="146.56" r="2.33" fill="#ba333a"/>
<circle cx="413.99" cy="146.56" r="2.33" fill="#ba333a"/>
<circle cx="419.25" cy="146.56" r="0.65" fill="#fbf1f1"/>
<circle cx="424.52" cy="146.56" r="0.65" fill="#fbf1f1"/>
<circle cx="429.80" cy="146.56" r="0.65" fill="#fbf1f1"/>
<circle cx="435.06" cy="146.56" r="1.95" fill="#d26f74"/>
<circle cx="440.34" cy="146.56" r="1.49" fill="#e8afb3"/>
<circle cx="445.61" cy="146.56" r="0.65" fill="#fbf1f1"/>
<circle cx="450.88" cy="146.56" r="0.65" fill="#fbf1f1"/>
<circle cx="456.14" cy="146.56" r="1.95" fill="#d26f74"/>
<circle cx="461.42" cy="146.56" r="1.49" fill="#e8afb3"/>
<circle cx="466.69" cy="146.56" r="1.49" fill="#e8afb3"/>
<circle cx="471.96" cy="146.56" r="2.33" fill="#ba333a"/>
<circle cx="477.23" cy="146.56" r="1.49" fill="#e8afb3"/>
<circle cx="482.50" cy="146.56" r="1.49" fill="#e8afb3"/>
<circle cx="487.76" cy="146.56" r="0.65" fill="#fbf1f1"/>
<circle cx="493.03" cy="146.56" r="1.49" fill="#e8afb3"/>
<circle cx="498.31" cy="146.56" r="0.65" fill="#fbf1f1"/>
<circle cx="503.58" cy="146.56" r="0.65" fill="#fbf1f1"/>
<circle cx="508.85" cy="146.56" r="1.95" fill="#d26f74"/>
<circle cx="282.24" cy="151.83" r="2.33" fill="#ba333a"/>
<circle cx="287.50" cy="151.83" r="1.49" fill="#e8afb3"/>
<circle cx="292.78" cy="151.83" r="2.33" fill="#ba333a"/>
<circle cx="298.05" cy="151.83" r="2.33" fill="#ba333a"/>
<circle cx="303.31" cy="151.83" r="1.95" fill="#d26f74"/>
<circle cx="308.59" cy="151.83" r="2.33" fill="#ba333a"/>
<circle cx="313.86" cy="151.83" r="2.33" fill="#ba333a"/>
<circle cx="319.12" cy="151.83" r="2.33" fill="#ba333a"/>
<circle cx="324.40" cy="151.83" r="1.95" fill="#d26f74"/>
<circle cx="329.67" cy="151.83" r="2.33" fill="#ba333a"/>
<circle cx="334.94" cy="151.83" r="2.33" fill="#ba333a"/>
<circle cx="340.21" cy="151.83" r="2.33" fill="#ba333a"/>
<circle cx="345.48" cy="151.83" r="2.33" fill="#ba333a"/>
<circle cx="350.75" cy="151.83" r="1.49" fill="#e8afb3"/>
<circle cx="356.01" cy="151.83" r="1.56" fill="#d2d2d2"/>
<circle cx="361.29" cy="151.83" r="1.49" fill="#e8afb3"/>
<circle cx="366.56" cy="151.83" r="0.65" fill="#fbf1f1"/>
<circle cx="371.83" cy="151.83" r="1.95" fill="#d26f74"/>
<circle cx="377.10" cy="151.83" r="1.95" fill="#d26f74"/>
<circle cx="382.37" cy="151.83" r="1.95" fill="#d26f74"/>
<circle cx="387.63" cy="151.83" r="2.63" fill="#9b161c"/>
<circle cx="392.91" cy="151.83" r="0.65" fill="#fbf1f1"/>
<circle cx="398.18" cy="151.83" r="2.33" fill="#ba333a"/>
<circle cx="403.44" cy="151.83" r="2.33" fill="#ba333a"/>
<circle cx="408.72" cy="151.83" r="2.33" fill="#ba333a"/>
<circle cx="413.99" cy="151.83" r="2.33" fill="#ba333a"/>
<circle cx="419.25" cy="151.83" r="1.49" fill="#e8afb3"/>
<circle cx="424.52" cy="151.83" r="1.49" fill="#e8afb3"/>
<circle cx="429.80" cy="151.83" r="1.49" fill="#e8afb3"/>
<circle cx="435.06" cy="151.83" r="2.33" fill="#ba333a"/>
<circle cx="440.34" cy="151.83" r="1.49" fill="#e8afb3"/>
<circle cx="445.61" cy="151.83" r="1.49" fill="#e8afb3"/>
<circle cx="450.88" cy="151.83" r="1.49" fill="#e8afb3"/>
<circle cx="456.14" cy="151.83" r="1.49" fill="#e8afb3"/>
<circle cx="461.42" cy="151.83" r="1.49" fill="#e8afb3"/>
<circle cx="466.69" cy="151.83" r="1.49" fill="#e8afb3"/>
<circle cx="471.96" cy="151.83" r="2.33" fill="#ba333a"/>
<circle cx="477.23" cy="151.83" r="1.49" fill="#e8afb3"/>
<circle cx="482.50" cy="151.83" r="2.33" fill="#ba333a"/>
<circle cx="487.76" cy="151.83" r="1.49" fill="#e8afb3"/>
<circle cx="493.03" cy="151.83" r="1.49" fill="#e8afb3"/>
<circle cx="498.31" cy="151.83" r="1.56" fill="#d2d2d2"/>
<circle cx="503.58" cy="151.83" r="1.86" fill="#bfbfbf"/>
<circle cx="508.85" cy="151.83" r="2.54" fill="#a51f26"/>
<circle cx="282.24" cy="157.10" r="1.49" fill="#e8afb3"/>
<circle cx="287.50" cy="157.10" r="1.56" fill="#d2d2d2"/>
<circle cx="292.78" cy="157.10" r="0.65" fill="#fbf1f1"/>
<circle cx="298.05" cy="157.10" r="0.65" fill="#fbf1f1"/>
<circle cx="303.31" cy="157.10" r="1.49" fill="#e8afb3"/>
<circle cx="308.59" cy="157.10" r="0.65" fill="#fbf1f1"/>
<circle cx="313.86" cy="157.10" r="0.65" fill="#fbf1f1"/>
<circle cx="319.12" cy="157.10" r="0.65" fill="#fbf1f1"/>
<circle cx="324.40" cy="157.10" r="0.65" fill="#fbf1f1"/>
<circle cx="329.67" cy="157.10" r="0.65" fill="#fbf1f1"/>
<circle cx="334.94" cy="157.10" r="0.65" fill="#fbf1f1"/>
<circle cx="340.21" cy="157.10" r="0.65" fill="#fbf1f1"/>
<circle cx="345.48" cy="157.10" r="0.65" fill="#fbf1f1"/>
<circle cx="350.75" cy="157.10" r="0.65" fill="#fbf1f1"/>
<circle cx="356.01" cy="157.10" r="0.65" fill="#fbf1f1"/>
<circle cx="361.29" cy="157.10" r="0.65" fill="#fbf1f1"/>
<circle cx="366.56" cy="157.10" r="1.86" fill="#bfbfbf"/>
<circle cx="371.83" cy="157.10" r="0.65" fill="#fbf1f1"/>
<circle cx="377.10" cy="157.10" r="0.65" fill="#fbf1f1"/>
<circle cx="382.37" cy="157.10" r="0.65" fill="#fbf1f1"/>
<circle cx="387.63" cy="157.10" r="1.95" fill="#d26f74"/>
<circle cx="392.91" cy="157.10" r="2.63" fill="#9b161c"/>
<circle cx="398.18" cy="157.10" r="2.33" fill="#ba333a"/>
<circle cx="403.44" cy="157.10" r="0.65" fill="#fbf1f1"/>
<circle cx="408.72" cy="157.10" r="0.65" fill="#fbf1f1"/>
<circle cx="413.99" cy="157.10" r="0.65" fill="#fbf1f1"/>
<circle cx="419.25" cy="157.10" r="0.65" fill="#fbf1f1"/>
<circle cx="424.52" cy="157.10" r="2.54" fill="#a51f26"/>
<circle cx="429.80" cy="157.10" r="1.95" fill="#d26f74"/>
<circle cx="435.06" cy="157.10" r="0.65" fill="#fbf1f1"/>
<circle cx="440.34" cy="157.10" r="0.65" fill="#fbf1f1"/>
<circle cx="445.61" cy="157.10" r="0.65" fill="#fbf1f1"/>
<circle cx="450.88" cy="157.10" r="0.65" fill="#fbf1f1"/>
<circle cx="456.14" cy="157.10" r="0.65" fill="#fbf1f1"/>
<circle cx="461.42" cy="157.10" r="1.56" fill="#d2d2d2"/>
<circle cx="466.69" cy="157.10" r="1.86" fill="#bfbfbf"/>
<circle cx="471.96" cy="157.10" r="2.33" fill="#ba333a"/>
<circle cx="477.23" cy="157.10" r="0.65" fill="#fbf1f1"/>
<circle cx="482.50" cy="157.10" r="0.65" fill="#fbf1f1"/>
<circle cx="487.76" cy="157.10" r="0.65" fill="#fbf1f1"/>
<circle cx="493.03" cy="157.10" r="1.56" fill="#d2d2d2"/>
<circle cx="498.31" cy="157.10" r="1.49" fill="#e8afb3"/>
<circle cx="503.58" cy="157.10" r="0.65" fill="#fbf1f1"/>
<circle cx="508.85" cy="157.10" r="1.49" fill="#e8afb3"/>
<circle cx="282.24" cy="162.38" r="1.49" fill="#e8afb3"/>
<circle cx="287.50" cy="162.38" r="1.49" fill="#e8afb3"/>
<circle cx="292.78" cy="162.38" r="0.65" fill="#fbf1f1"/>
<circle cx="298.05" cy="162.38" r="0.65" fill="#fbf1f1"/>
<circle cx="303.31" cy="162.38" r="0.65" fill="#fbf1f1"/>
<circle cx="308.59" cy="162.38" r="1.49" fill="#e8afb3"/>
<circle cx="313.86" cy="162.38" r="0.65" fill="#fbf1f1"/>
<circle cx="319.12" cy="162.38" r="0.65" fill="#fbf1f1"/>
<circle cx="324.40" cy="162.38" r="0.65" fill="#fbf1f1"/>
<circle cx="329.67" cy="162.38" r="0.65" fill="#fbf1f1"/>
<circle cx="334.94" cy="162.38" r="1.49" fill="#e8afb3"/>
<circle cx="340.21" cy="162.38" r="1.49" fill="#e8afb3"/>
<circle cx="345.48" cy="162.38" r="0.65" fill="#fbf1f1"/>
<circle cx="350.75" cy="162.38" r="1.49" fill="#e8afb3"/>
<circle cx="356.01" cy="162.38" r="1.86" fill="#bfbfbf"/>
<circle cx="361.29" cy="162.38" r="0.65" fill="#fbf1f1"/>
<circle cx="366.56" cy="162.38" r="1.56" fill="#d2d2d2"/>
<circle cx="371.83" cy="162.38" r="1.49" fill="#e8afb3"/>
<circle cx="377.10" cy="162.38" r="1.49" fill="#e8afb3"/>
<circle cx="382.37" cy="162.38" r="1.49" fill="#e8afb3"/>
<circle cx="387.63" cy="162.38" r="2.33" fill="#ba333a"/>
<circle cx="392.91" cy="162.38" r="2.33" fill="#ba333a"/>
<circle cx="398.18" cy="162.38" r="2.63" fill="#9b161c"/>
<circle cx="403.44" cy="162.38" r="0.65" fill="#fbf1f1"/>
<circle cx="408.72" cy="162.38" r="0.65" fill="#fbf1f1"/>
<circle cx="413.99" cy="162.38" r="1.49" fill="#e8afb3"/>
<circle cx="419.25" cy="162.38" r="1.56" fill="#d2d2d2"/>
<circle cx="424.52" cy="162.38" r="0.65" fill="#fbf1f1"/>
<circle cx="429.80" cy="162.38" r="0.65" fill="#fbf1f1"/>
<circle cx="435.06" cy="162.38" r="1.49" fill="#e8afb3"/>
<circle cx="440.34" cy="162.38" r="0.65" fill="#fbf1f1"/>
<circle cx="445.61" cy="162.38" r="1.49" fill="#e8afb3"/>
<circle cx="450.88" cy="162.38" r="1.56" fill="#d2d2d2"/>
<circle cx="456.14" cy="162.38" r="0.65" fill="#fbf1f1"/>
<circle cx="461.42" cy="162.38" r="1.56" fill="#d2d2d2"/>
<circle cx="466.69" cy="162.38" r="0.65" fill="#fbf1f1"/>
<circle cx="471.96" cy="162.38" r="0.65" fill="#fbf1f1"/>
<circle cx="477.23" cy="162.38" r="1.95" fill="#d26f74"/>
<circle cx="482.50" cy="162.38" r="0.65" fill="#fbf1f1"/>
<circle cx="487.76" cy="162.38" r="1.49" fill="#e8afb3"/>
<circle cx="493.03" cy="162.38" r="1.56" fill="#d2d2d2"/>
<circle cx="498.31" cy="162.38" r="0.65" fill="#fbf1f1"/>
<circle cx="503.58" cy="162.38" r="1.86" fill="#bfbfbf"/>
<circle cx="508.85" cy="162.38" r="1.49" fill="#e8afb3"/>
<circle cx="282.24" cy="167.64" r="1.95" fill="#d26f74"/>
<circle cx="287.50" cy="167.64" r="1.86" fill="#bfbfbf"/>
<circle cx="292.78" cy="167.64" r="1.95" fill="#d26f74"/>
<circle cx="298.05" cy="167.64" r="1.95" fill="#d26f74"/>
<circle cx="303.31" cy="167.64" r="1.49" fill="#e8afb3"/>
<circle cx="308.59" cy="167.64" r="1.95" fill="#d26f74"/>
<circle cx="313.86" cy="167.64" r="2.33" fill="#ba333a"/>
<circle cx="319.12" cy="167.64" r="1.95" fill="#d26f74"/>
<circle cx="324.40" cy="167.64" r="1.95" fill="#d26f74"/>
<circle cx="329.67" cy="167.64" r="1.95" fill="#d26f74"/>
<circle cx="334.94" cy="167.64" r="2.33" fill="#ba333a"/>
<circle cx="340.21" cy="167.64" r="1.95" fill="#d26f74"/>
<circle cx="345.48" cy="167.64" r="1.95" fill="#d26f74"/>
<circle cx="350.75" cy="167.64" r="1.56" fill="#d2d2d2"/>
<circle cx="356.01" cy="167.64" r="0.65" fill="#fbf1f1"/>
<circle cx="361.29" cy="167.64" r="0.65" fill="#fbf1f1"/>
<circle cx="366.56" cy="167.64" r="1.49" fill="#e8afb3"/>
<circle cx="371.83" cy="167.64" r="1.95" fill="#d26f74"/>
<circle cx="377.10" cy="167.64" r="1.49" fill="#e8afb3"/>
<circle cx="382.37" cy="167.64" r="1.95" fill="#d26f74"/>
<circle cx="387.63" cy="167.64" r="2.33" fill="#ba333a"/>
<circle cx="392.91" cy="167.64" r="0.65" fill="#fbf1f1"/>
<circle cx="398.18" cy="167.64" r="0.65" fill="#fbf1f1"/>
<circle cx="403.44" cy="167.64" r="2.63" fill="#9b161c"/>
<circle cx="408.72" cy="167.64" r="2.33" fill="#ba333a"/>
<circle cx="413.99" cy="167.64" r="2.54" fill="#a51f26"/>
<circle cx="419.25" cy="167.64" r="2.54" fill="#a51f26"/>
<circle cx="424.52" cy="167.64" r="0.65" fill="#fbf1f1"/>
<circle cx="429.80" cy="167.64" r="2.33" fill="#ba333a"/>
<circle cx="435.06" cy="167.64" r="2.33" fill="#ba333a"/>
<circle cx="440.34" cy="167.64" r="1.95" fill="#d26f74"/>
<circle cx="445.61" cy="167.64" r="1.49" fill="#e8afb3"/>
<circle cx="450.88" cy="167.64" r="1.95" fill="#d26f74"/>
<circle cx="456.14" cy="167.64" r="1.95" fill="#d26f74"/>
<circle cx="461.42" cy="167.64" r="1.49" fill="#e8afb3"/>
<circle cx="466.69" cy="167.64" r="1.49" fill="#e8afb3"/>
<circle cx="471.96" cy="167.64" r="0.65" fill="#fbf1f1"/>
<circle cx="477.23" cy="167.64" r="1.56" fill="#d2d2d2"/>
<circle cx="482.50" cy="167.64" r="2.33" fill="#ba333a"/>
<circle cx="487.76" cy="167.64" r="1.95" fill="#d26f74"/>
<circle cx="493.03" cy="167.64" r="0.65" fill="#fbf1f1"/>
<circle cx="498.31" cy="167.64" r="1.86" fill="#bfbfbf"/>
<circle cx="503.58" cy="167.64" r="1.86" fill="#bfbfbf"/>
<circle cx="508.85" cy="167.64" r="1.95" fill="#d26f74"/>
<circle cx="282.24" cy="172.91" r="1.95" fill="#d26f74"/>
<circle cx="287.50" cy="172.91" r="0.65" fill="#fbf1f1"/>
<circle cx="292.78" cy="172.91" r="2.33" fill="#ba333a"/>
<circle cx="298.05" cy="172.91" r="1.95" fill="#d26f74"/>
<circle cx="303.31" cy="172.91" r="1.49" fill="#e8afb3"/>
<circle cx="308.59" cy="172.91" r="2.33" fill="#ba333a"/>
<circle cx="313.86" cy="172.91" r="2.33" fill="#ba333a"/>
<circle cx="319.12" cy="172.91" r="1.95" fill="#d26f74"/>
<circle cx="324.40" cy="172.91" r="1.95" fill="#d26f74"/>
<circle cx="329.67" cy="172.91" r="2.33" fill="#ba333a"/>
<circle cx="334.94" cy="172.91" r="1.95" fill="#d26f74"/>
<circle cx="340.21" cy="172.91" r="2.33" fill="#ba333a"/>
<circle cx="345.48" cy="172.91" r="1.95" fill="#d26f74"/>
<circle cx="350.75" cy="172.91" r="1.49" fill="#e8afb3"/>
<circle cx="356.01" cy="172.91" r="0.65" fill="#fbf1f1"/>
<circle cx="361.29" cy="172.91" r="0.65" fill="#fbf1f1"/>
<circle cx="366.56" cy="172.91" r="1.49" fill="#e8afb3"/>
<circle cx="371.83" cy="172.91" r="1.95" fill="#d26f74"/>
<circle cx="377.10" cy="172.91" r="1.49" fill="#e8afb3"/>
<circle cx="382.37" cy="172.91" r="2.33" fill="#ba333a"/>
<circle cx="387.63" cy="172.91" r="2.33" fill="#ba333a"/>
<circle cx="392.91" cy="172.91" r="0.65" fill="#fbf1f1"/>
<circle cx="398.18" cy="172.91" r="0.65" fill="#fbf1f1"/>
<circle cx="403.44" cy="172.91" r="2.33" fill="#ba333a"/>
<circle cx="408.72" cy="172.91" r="2.63" fill="#9b161c"/>
<circle cx="413.99" cy="172.91" r="2.33" fill="#ba333a"/>
<circle cx="419.25" cy="172.91" r="2.33" fill="#ba333a"/>
<circle cx="424.52" cy="172.91" r="0.65" fill="#fbf1f1"/>
<circle cx="429.80" cy="172.91" r="1.95" fill="#d26f74"/>
<circle cx="435.06" cy="172.91" r="1.95" fill="#d26f74"/>
<circle cx="440.34" cy="172.91" r="0.65" fill="#fbf1f1"/>
<circle cx="445.61" cy="172.91" r="0.65" fill="#fbf1f1"/>
<circle cx="450.88" cy="172.91" r="1.49" fill="#e8afb3"/>
<circle cx="456.14" cy="172.91" r="2.33" fill="#ba333a"/>
<circle cx="461.42" cy="172.91" r="1.95" fill="#d26f74"/>
<circle cx="466.69" cy="172.91" r="0.65" fill="#fbf1f1"/>
<circle cx="471.96" cy="172.91" r="0.65" fill="#fbf1f1"/>
<circle cx="477.23" cy="172.91" r="0.65" fill="#fbf1f1"/>
<circle cx="482.50" cy="172.91" r="2.33" fill="#ba333a"/>
<circle cx="487.76" cy="172.91" r="1.49" fill="#e8afb3"/>
<circle cx="493.03" cy="172.91" r="1.49" fill="#e8afb3"/>
<circle cx="498.31" cy="172.91" r="1.49" fill="#e8afb3"/>
<circle cx="503.58" cy="172.91" r="1.86" fill="#bfbfbf"/>
<circle cx="508.85" cy="172.91" r="1.49" fill="#e8afb3"/>
<circle cx="282.24" cy="178.19" r="2.33" fill="#ba333a"/>
<circle cx="287.50" cy="178.19" r="1.56" fill="#d2d2d2"/>
<circle cx="292.78" cy="178.19" r="1.95" fill="#d26f74"/>
<circle cx="298.05" cy="178.19" r="1.49" fill="#e8afb3"/>
<circle cx="303.31" cy="178.19" r="1.49" fill="#e8afb3"/>
<circle cx="308.59" cy="178.19" r="1.95" fill="#d26f74"/>
<circle cx="313.86" cy="178.19" r="1.95" fill="#d26f74"/>
<circle cx="319.12" cy="178.19" r="1.95" fill="#d26f74"/>
<circle cx="324.40" cy="178.19" r="1.49" fill="#e8afb3"/>
<circle cx="329.67" cy="178.19" r="1.49" fill="#e8afb3"/>
<circle cx="334.94" cy="178.19" r="1.95" fill="#d26f74"/>
<circle cx="340.21" cy="178.19" r="1.95" fill="#d26f74"/>
<circle cx="345.48" cy="178.19" r="1.49" fill="#e8afb3"/>
<circle cx="350.75" cy="178.19" r="0.65" fill="#fbf1f1"/>
<circle cx="356.01" cy="178.19" r="1.95" fill="#d26f74"/>
<circle cx="361.29" cy="178.19" r="1.56" fill="#d2d2d2"/>
<circle cx="366.56" cy="178.19" r="1.49" fill="#e8afb3"/>
<circle cx="371.83" cy="178.19" r="1.95" fill="#d26f74"/>
<circle cx="377.10" cy="178.19" r="1.49" fill="#e8afb3"/>
<circle cx="382.37" cy="178.19" r="2.33" fill="#ba333a"/>
<circle cx="387.63" cy="178.19" r="2.33" fill="#ba333a"/>
<circle cx="392.91" cy="178.19" r="0.65" fill="#fbf1f1"/>
<circle cx="398.18" cy="178.19" r="1.49" fill="#e8afb3"/>
<circle cx="403.44" cy="178.19" r="2.33" fill="#ba333a"/>
<circle cx="408.72" cy="178.19" r="2.33" fill="#ba333a"/>
<circle cx="413.99" cy="178.19" r="2.63" fill="#9b161c"/>
<circle cx="419.25" cy="178.19" r="2.33" fill="#ba333a"/>
<circle cx="424.52" cy="178.19" r="0.65" fill="#fbf1f1"/>
<circle cx="429.80" cy="178.19" r="1.95" fill="#d26f74"/>
<circle cx="435.06" cy="178.19" r="1.49" fill="#e8afb3"/>
<circle cx="440.34" cy="178.19" r="0.65" fill="#fbf1f1"/>
<circle cx="445.61" cy="178.19" r="0.65" fill="#fbf1f1"/>
<circle cx="450.88" cy="178.19" r="1.49" fill="#e8afb3"/>
<circle cx="456.14" cy="178.19" r="1.95" fill="#d26f74"/>
<circle cx="461.42" cy="178.19" r="0.65" fill="#fbf1f1"/>
<circle cx="466.69" cy="178.19" r="0.65" fill="#fbf1f1"/>
<circle cx="471.96" cy="178.19" r="1.95" fill="#d26f74"/>
<circle cx="477.23" cy="178.19" r="0.65" fill="#fbf1f1"/>
<circle cx="482.50" cy="178.19" r="2.33" fill="#ba333a"/>
<circle cx="487.76" cy="178.19" r="1.49" fill="#e8afb3"/>
<circle cx="493.03" cy="178.19" r="1.56" fill="#d2d2d2"/>
<circle cx="498.31" cy="178.19" r="1.86" fill="#bfbfbf"/>
<circle cx="503.58" cy="178.19" r="1.86" fill="#bfbfbf"/>
<circle cx="508.85" cy="178.19" r="2.54" fill="#a51f26"/>
<circle cx="282.24" cy="183.45" r="1.49" fill="#e8afb3"/>
<circle cx="287.50" cy="183.45" r="1.86" fill="#bfbfbf"/>
<circle cx="292.78" cy="183.45" r="1.49" fill="#e8afb3"/>
<circle cx="298.05" cy="183.45" r="1.49" fill="#e8afb3"/>
<circle cx="303.31" cy="183.45" r="1.49" fill="#e8afb3"/>
<circle cx="308.59" cy="183.45" r="1.95" fill="#d26f74"/>
<circle cx="313.86" cy="183.45" r="1.95" fill="#d26f74"/>
<circle cx="319.12" cy="183.45" r="1.49" fill="#e8afb3"/>
<circle cx="324.40" cy="183.45" r="1.49" fill="#e8afb3"/>
<circle cx="329.67" cy="183.45" r="1.49" fill="#e8afb3"/>
<circle cx="334.94" cy="183.45" r="0.65" fill="#fbf1f1"/>
<circle cx="340.21" cy="183.45" r="1.49" fill="#e8afb3"/>
<circle cx="345.48" cy="183.45" r="0.65" fill="#fbf1f1"/>
<circle cx="350.75" cy="183.45" r="1.56" fill="#d2d2d2"/>
<circle cx="356.01" cy="183.45" r="1.49" fill="#e8afb3"/>
<circle cx="361.29" cy="183.45" r="0.65" fill="#fbf1f1"/>
<circle cx="366.56" cy="183.45" r="1.49" fill="#e8afb3"/>
<circle cx="371.83" cy="183.45" r="1.49" fill="#e8afb3"/>
<circle cx="377.10" cy="183.45" r="1.49" fill="#e8afb3"/>
<circle cx="382.37" cy="183.45" r="0.65" fill="#fbf1f1"/>
<circle cx="387.63" cy="183.45" r="1.49" fill="#e8afb3"/>
<circle cx="392.91" cy="183.45" r="0.65" fill="#fbf1f1"/>
<circle cx="398.18" cy="183.45" r="1.56" fill="#d2d2d2"/>
<circle cx="403.44" cy="183.45" r="2.33" fill="#ba333a"/>
<circle cx="408.72" cy="183.45" r="2.33" fill="#ba333a"/>
<circle cx="413.99" cy="183.45" r="2.33" fill="#ba333a"/>
<circle cx="419.25" cy="183.45" r="2.63" fill="#9b161c"/>
<circle cx="424.52" cy="183.45" r="1.49" fill="#e8afb3"/>
<circle cx="429.80" cy="183.45" r="2.33" fill="#ba333a"/>
<circle cx="435.06" cy="183.45" r="1.49" fill="#e8afb3"/>
<circle cx="440.34" cy="183.45" r="0.65" fill="#fbf1f1"/>
<circle cx="445.61" cy="183.45" r="0.65" fill="#fbf1f1"/>
<circle cx="450.88" cy="183.45" r="1.49" fill="#e8afb3"/>
<circle cx="456.14" cy="183.45" r="1.49" fill="#e8afb3"/>
<circle cx="461.42" cy="183.45" r="1.49" fill="#e8afb3"/>
<circle cx="466.69" cy="183.45" r="0.65" fill="#fbf1f1"/>
<circle cx="471.96" cy="183.45" r="0.65" fill="#fbf1f1"/>
<circle cx="477.23" cy="183.45" r="1.56" fill="#d2d2d2"/>
<circle cx="482.50" cy="183.45" r="1.95" fill="#d26f74"/>
<circle cx="487.76" cy="183.45" r="0.65" fill="#fbf1f1"/>
<circle cx="493.03" cy="183.45" r="1.56" fill="#d2d2d2"/>
<circle cx="498.31" cy="183.45" r="1.86" fill="#bfbfbf"/>
<circle cx="503.58" cy="183.45" r="0.65" fill="#fbf1f1"/>
<circle cx="508.85" cy="183.45" r="1.49" fill="#e8afb3"/>
<circle cx="282.24" cy="188.72" r="1.95" fill="#d26f74"/>
<circle cx="287.50" cy="188.72" r="1.56" fill="#d2d2d2"/>
<circle cx="292.78" cy="188.72" r="1.49" fill="#e8afb3"/>
<circle cx="298.05" cy="188.72" r="1.49" fill="#e8afb3"/>
<circle cx="303.31" cy="188.72" r="1.95" fill="#d26f74"/>
<circle cx="308.59" cy="188.72" r="1.49" fill="#e8afb3"/>
<circle cx="313.86" cy="188.72" r="1.49" fill="#e8afb3"/>
<circle cx="319.12" cy="188.72" r="1.49" fill="#e8afb3"/>
<circle cx="324.40" cy="188.72" r="1.49" fill="#e8afb3"/>
<circle cx="329.67" cy="188.72" r="1.49" fill="#e8afb3"/>
<circle cx="334.94" cy="188.72" r="0.65" fill="#fbf1f1"/>
<circle cx="340.21" cy="188.72" r="0.65" fill="#fbf1f1"/>
<circle cx="345.48" cy="188.72" r="0.65" fill="#fbf1f1"/>
<circle cx="350.75" cy="188.72" r="0.65" fill="#fbf1f1"/>
<circle cx="356.01" cy="188.72" r="0.65" fill="#fbf1f1"/>
<circle cx="361.29" cy="188.72" r="1.95" fill="#d26f74"/>
<circle cx="366.56" cy="188.72" r="1.56" fill="#d2d2d2"/>
<circle cx="371.83" cy="188.72" r="0.65" fill="#fbf1f1"/>
<circle cx="377.10" cy="188.72" r="1.56" fill="#d2d2d2"/>
<circle cx="382.37" cy="188.72" r="0.65" fill="#fbf1f1"/>
<circle cx="387.63" cy="188.72" r="1.49" fill="#e8afb3"/>
<circle cx="392.91" cy="188.72" r="2.54" fill="#a51f26"/>
<circle cx="398.18" cy="188.72" r="0.65" fill="#fbf1f1"/>
<circle cx="403.44" cy="188.72" r="0.65" fill="#fbf1f1"/>
<circle cx="408.72" cy="188.72" r="0.65" fill="#fbf1f1"/>
<circle cx="413.99" cy="188.72" r="0.65" fill="#fbf1f1"/>
<circle cx="419.25" cy="188.72" r="1.49" fill="#e8afb3"/>
<circle cx="424.52" cy="188.72" r="2.63" fill="#9b161c"/>
<circle cx="429.80" cy="188.72" r="1.49" fill="#e8afb3"/>
<circle cx="435.06" cy="188.72" r="0.65" fill="#fbf1f1"/>
<circle cx="440.34" cy="188.72" r="0.65" fill="#fbf1f1"/>
<circle cx="445.61" cy="188.72" r="0.65" fill="#fbf1f1"/>
<circle cx="450.88" cy="188.72" r="0.65" fill="#fbf1f1"/>
<circle cx="456.14" cy="188.72" r="1.49" fill="#e8afb3"/>
<circle cx="461.42" cy="188.72" r="0.65" fill="#fbf1f1"/>
<circle cx="466.69" cy="188.72" r="1.56" fill="#d2d2d2"/>
<circle cx="471.96" cy="188.72" r="1.49" fill="#e8afb3"/>
<circle cx="477.23" cy="188.72" r="0.65" fill="#fbf1f1"/>
<circle cx="482.50" cy="188.72" r="0.65" fill="#fbf1f1"/>
<circle cx="487.76" cy="188.72" r="1.49" fill="#e8afb3"/>
<circle cx="493.03" cy="188.72" r="1.56" fill="#d2d2d2"/>
<circle cx="498.31" cy="188.72" r="1.56" fill="#d2d2d2"/>
<circle cx="503.58" cy="188.72" r="1.49" fill="#e8afb3"/>
<circle cx="508.85" cy="188.72" r="1.49" fill="#e8afb3"/>
<circle cx="282.24" cy="194.00" r="1.49" fill="#e8afb3"/>
<circle cx="287.50" cy="194.00" r="1.86" fill="#bfbfbf"/>
<circle cx="292.78" cy="194.00" r="0.65" fill="#fbf1f1"/>
<circle cx="298.05" cy="194.00" r="0.65" fill="#fbf1f1"/>
<circle cx="303.31" cy="194.00" r="0.65" fill="#fbf1f1"/>
<circle cx="308.59" cy="194.00" r="1.49" fill="#e8afb3"/>
<circle cx="313.86" cy="194.00" r="1.49" fill="#e8afb3"/>
<circle cx="319.12" cy="194.00" r="1.49" fill="#e8afb3"/>
<circle cx="324.40" cy="194.00" r="1.49" fill="#e8afb3"/>
<circle cx="329.67" cy="194.00" r="0.65" fill="#fbf1f1"/>
<circle cx="334.94" cy="194.00" r="1.49" fill="#e8afb3"/>
<circle cx="340.21" cy="194.00" r="1.49" fill="#e8afb3"/>
<circle cx="345.48" cy="194.00" r="0.65" fill="#fbf1f1"/>
<circle cx="350.75" cy="194.00" r="0.65" fill="#fbf1f1"/>
<circle cx="356.01" cy="194.00" r="1.49" fill="#e8afb3"/>
<circle cx="361.29" cy="194.00" r="0.65" fill="#fbf1f1"/>
<circle cx="366.56" cy="194.00" r="0.65" fill="#fbf1f1"/>
<circle cx="371.83" cy="194.00" r="1.49" fill="#e8afb3"/>
<circle cx="377.10" cy="194.00" r="0.65" fill="#fbf1f1"/>
<circle cx="382.37" cy="194.00" r="0.65" fill="#fbf1f1"/>
<circle cx="387.63" cy="194.00" r="1.49" fill="#e8afb3"/>
<circle cx="392.91" cy="194.00" r="1.95" fill="#d26f74"/>
<circle cx="398.18" cy="194.00" r="0.65" fill="#fbf1f1"/>
<circle cx="403.44" cy="194.00" r="1.95" fill="#d26f74"/>
<circle cx="408.72" cy="194.00" r="1.95" fill="#d26f74"/>
<circle cx="413.99" cy="194.00" r="1.95" fill="#d26f74"/>
<circle cx="419.25" cy="194.00" r="2.33" fill="#ba333a"/>
<circle cx="424.52" cy="194.00" r="1.49" fill="#e8afb3"/>
<circle cx="429.80" cy="194.00" r="2.63" fill="#9b161c"/>
<circle cx="435.06" cy="194.00" r="1.49" fill="#e8afb3"/>
<circle cx="440.34" cy="194.00" r="0.65" fill="#fbf1f1"/>
<circle cx="445.61" cy="194.00" r="0.65" fill="#fbf1f1"/>
<circle cx="450.88" cy="194.00" r="1.49" fill="#e8afb3"/>
<circle cx="456.14" cy="194.00" r="1.95" fill="#d26f74"/>
<circle cx="461.42" cy="194.00" r="0.65" fill="#fbf1f1"/>
<circle cx="466.69" cy="194.00" r="1.56" fill="#d2d2d2"/>
<circle cx="471.96" cy="194.00" r="0.65" fill="#fbf1f1"/>
<circle cx="477.23" cy="194.00" r="0.65" fill="#fbf1f1"/>
<circle cx="482.50" cy="194.00" r="1.49" fill="#e8afb3"/>
<circle cx="487.76" cy="194.00" r="0.65" fill="#fbf1f1"/>
<circle cx="493.03" cy="194.00" r="1.56" fill="#d2d2d2"/>
<circle cx="498.31" cy="194.00" r="1.56" fill="#d2d2d2"/>
<circle cx="503.58" cy="194.00" r="0.65" fill="#fbf1f1"/>
<circle cx="508.85" cy="194.00" r="1.49" fill="#e8afb3"/>
<circle cx="282.24" cy="199.26" r="1.95" fill="#d26f74"/>
<circle cx="287.50" cy="199.26" r="0.65" fill="#fbf1f1"/>
<circle cx="292.78" cy="199.26" r="2.54" fill="#a51f26"/>
<circle cx="298.05" cy="199.26" r="2.33" fill="#ba333a"/>
<circle cx="303.31" cy="199.26" r="2.33" fill="#ba333a"/>
<circle cx="308.59" cy="199.26" r="2.54" fill="#a51f26"/>
<circle cx="313.86" cy="199.26" r="2.54" fill="#a51f26"/>
<circle cx="319.12" cy="199.26" r="2.54" fill="#a51f26"/>
<circle cx="324.40" cy="199.26" r="2.33" fill="#ba333a"/>
<circle cx="329.67" cy="199.26" r="2.33" fill="#ba333a"/>
<circle cx="334.94" cy="199.26" r="2.54" fill="#a51f26"/>
<circle cx="340.21" cy="199.26" r="2.33" fill="#ba333a"/>
<circle cx="345.48" cy="199.26" r="2.54" fill="#a51f26"/>
<circle cx="350.75" cy="199.26" r="1.56" fill="#d2d2d2"/>
<circle cx="356.01" cy="199.26" r="0.65" fill="#fbf1f1"/>
<circle cx="361.29" cy="199.26" r="1.95" fill="#d26f74"/>
<circle cx="366.56" cy="199.26" r="0.65" fill="#fbf1f1"/>
<circle cx="371.83" cy="199.26" r="1.95" fill="#d26f74"/>
<circle cx="377.10" cy="199.26" r="1.49" fill="#e8afb3"/>
<circle cx="382.37" cy="199.26" r="1.95" fill="#d26f74"/>
<circle cx="387.63" cy="199.26" r="2.33" fill="#ba333a"/>
<circle cx="392.91" cy="199.26" r="0.65" fill="#fbf1f1"/>
<circle cx="398.18" cy="199.26" r="1.49" fill="#e8afb3"/>
<circle cx="403.44" cy="199.26" r="1.95" fill="#d26f74"/>
<circle cx="408.72" cy="199.26" r="1.95" fill="#d26f74"/>
<circle cx="413.99" cy="199.26" r="1.49" fill="#e8afb3"/>
<circle cx="419.25" cy="199.26" r="1.49" fill="#e8afb3"/>
<circle cx="424.52" cy="199.26" r="0.65" fill="#fbf1f1"/>
<circle cx="429.80" cy="199.26" r="1.49" fill="#e8afb3"/>
<circle cx="435.06" cy="199.26" r="2.63" fill="#9b161c"/>
<circle cx="440.34" cy="199.26" r="2.33" fill="#ba333a"/>
<circle cx="445.61" cy="199.26" r="1.95" fill="#d26f74"/>
<circle cx="450.88" cy="199.26" r="2.33" fill="#ba333a"/>
<circle cx="456.14" cy="199.26" r="1.95" fill="#d26f74"/>
<circle cx="461.42" cy="199.26" r="0.65" fill="#fbf1f1"/>
<circle cx="466.69" cy="199.26" r="1.49" fill="#e8afb3"/>
<circle cx="471.96" cy="199.26" r="0.65" fill="#fbf1f1"/>
<circle cx="477.23" cy="199.26" r="1.56" fill="#d2d2d2"/>
<circle cx="482.50" cy="199.26" r="2.33" fill="#ba333a"/>
<circle cx="487.76" cy="199.26" r="2.33" fill="#ba333a"/>
<circle cx="493.03" cy="199.26" r="1.49" fill="#e8afb3"/>
<circle cx="498.31" cy="199.26" r="1.86" fill="#bfbfbf"/>
<circle cx="503.58" cy="199.26" r="0.65" fill="#fbf1f1"/>
<circle cx="508.85" cy="199.26" r="1.49" fill="#e8afb3"/>
<circle cx="282.24" cy="204.53" r="0.65" fill="#fbf1f1"/>
<circle cx="287.50" cy="204.53" r="1.56" fill="#d2d2d2"/>
<circle cx="292.78" cy="204.53" r="1.95" fill="#d26f74"/>
<circle cx="298.05" cy="204.53" r="1.95" fill="#d26f74"/>
<circle cx="303.31" cy="204.53" r="1.49" fill="#e8afb3"/>
<circle cx="308.59" cy="204.53" r="1.95" fill="#d26f74"/>
<circle cx="313.86" cy="204.53" r="1.95" fill="#d26f74"/>
<circle cx="319.12" cy="204.53" r="1.95" fill="#d26f74"/>
<circle cx="324.40" cy="204.53" r="1.49" fill="#e8afb3"/>
<circle cx="329.67" cy="204.53" r="1.49" fill="#e8afb3"/>
<circle cx="334.94" cy="204.53" r="1.95" fill="#d26f74"/>
<circle cx="340.21" cy="204.53" r="1.95" fill="#d26f74"/>
<circle cx="345.48" cy="204.53" r="2.54" fill="#a51f26"/>
<circle cx="350.75" cy="204.53" r="1.86" fill="#bfbfbf"/>
<circle cx="356.01" cy="204.53" r="0.65" fill="#fbf1f1"/>
<circle cx="361.29" cy="204.53" r="1.49" fill="#e8afb3"/>
<circle cx="366.56" cy="204.53" r="0.65" fill="#fbf1f1"/>
<circle cx="371.83" cy="204.53" r="1.49" fill="#e8afb3"/>
<circle cx="377.10" cy="204.53" r="0.65" fill="#fbf1f1"/>
<circle cx="382.37" cy="204.53" r="1.49" fill="#e8afb3"/>
<circle cx="387.63" cy="204.53" r="1.49" fill="#e8afb3"/>
<circle cx="392.91" cy="204.53" r="0.65" fill="#fbf1f1"/>
<circle cx="398.18" cy="204.53" r="0.65" fill="#fbf1f1"/>
<circle cx="403.44" cy="204.53" r="1.49" fill="#e8afb3"/>
<circle cx="408.72" cy="204.53" r="0.65" fill="#fbf1f1"/>
<circle cx="413.99" cy="204.53" r="0.65" fill="#fbf1f1"/>
<circle cx="419.25" cy="204.53" r="1.49" fill="#e8afb3"/>
<circle cx="424.52" cy="204.53" r="0.65" fill="#fbf1f1"/>
<circle cx="429.80" cy="204.53" r="0.65" fill="#fbf1f1"/>
<circle cx="435.06" cy="204.53" r="1.95" fill="#d26f74"/>
<circle cx="440.34" cy="204.53" r="2.63" fill="#9b161c"/>
<circle cx="445.61" cy="204.53" r="2.54" fill="#a51f26"/>
<circle cx="450.88" cy="204.53" r="2.33" fill="#ba333a"/>
<circle cx="456.14" cy="204.53" r="1.95" fill="#d26f74"/>
<circle cx="461.42" cy="204.53" r="0.65" fill="#fbf1f1"/>
<circle cx="466.69" cy="204.53" r="1.56" fill="#d2d2d2"/>
<circle cx="471.96" cy="204.53" r="0.65" fill="#fbf1f1"/>
<circle cx="477.23" cy="204.53" r="1.56" fill="#d2d2d2"/>
<circle cx="482.50" cy="204.53" r="0.65" fill="#fbf1f1"/>
<circle cx="487.76" cy="204.53" r="1.95" fill="#d26f74"/>
<circle cx="493.03" cy="204.53" r="0.65" fill="#fbf1f1"/>
<circle cx="498.31" cy="204.53" r="1.86" fill="#bfbfbf"/>
<circle cx="503.58" cy="204.53" r="0.65" fill="#fbf1f1"/>
<circle cx="508.85" cy="204.53" r="1.49" fill="#e8afb3"/>
<circle cx="282.24" cy="209.81" r="1.49" fill="#e8afb3"/>
<circle cx="287.50" cy="209.81" r="0.65" fill="#fbf1f1"/>
<circle cx="292.78" cy="209.81" r="1.95" fill="#d26f74"/>
<circle cx="298.05" cy="209.81" r="1.95" fill="#d26f74"/>
<circle cx="303.31" cy="209.81" r="0.65" fill="#fbf1f1"/>
<circle cx="308.59" cy="209.81" r="1.49" fill="#e8afb3"/>
<circle cx="313.86" cy="209.81" r="1.49" fill="#e8afb3"/>
<circle cx="319.12" cy="209.81" r="1.49" fill="#e8afb3"/>
<circle cx="324.40" cy="209.81" r="1.49" fill="#e8afb3"/>
<circle cx="329.67" cy="209.81" r="1.49" fill="#e8afb3"/>
<circle cx="334.94" cy="209.81" r="1.49" fill="#e8afb3"/>
<circle cx="340.21" cy="209.81" r="1.95" fill="#d26f74"/>
<circle cx="345.48" cy="209.81" r="2.54" fill="#a51f26"/>
<circle cx="350.75" cy="209.81" r="1.56" fill="#d2d2d2"/>
<circle cx="356.01" cy="209.81" r="0.65" fill="#fbf1f1"/>
<circle cx="361.29" cy="209.81" r="0.65" fill="#fbf1f1"/>
<circle cx="366.56" cy="209.81" r="0.65" fill="#fbf1f1"/>
<circle cx="371.83" cy="209.81" r="1.49" fill="#e8afb3"/>
<circle cx="377.10" cy="209.81" r="0.65" fill="#fbf1f1"/>
<circle cx="382.37" cy="209.81" r="0.65" fill="#fbf1f1"/>
<circle cx="387.63" cy="209.81" r="1.49" fill="#e8afb3"/>
<circle cx="392.91" cy="209.81" r="0.65" fill="#fbf1f1"/>
<circle cx="398.18" cy="209.81" r="1.49" fill="#e8afb3"/>
<circle cx="403.44" cy="209.81" r="1.49" fill="#e8afb3"/>
<circle cx="408.72" cy="209.81" r="0.65" fill="#fbf1f1"/>
<circle cx="413.99" cy="209.81" r="0.65" fill="#fbf1f1"/>
<circle cx="419.25" cy="209.81" r="1.49" fill="#e8afb3"/>
<circle cx="424.52" cy="209.81" r="0.65" fill="#fbf1f1"/>
<circle cx="429.80" cy="209.81" r="0.65" fill="#fbf1f1"/>
<circle cx="435.06" cy="209.81" r="1.95" fill="#d26f74"/>
<circle cx="440.34" cy="209.81" r="2.54" fill="#a51f26"/>
<circle cx="445.61" cy="209.81" r="2.63" fill="#9b161c"/>
<circle cx="450.88" cy="209.81" r="1.95" fill="#d26f74"/>
<circle cx="456.14" cy="209.81" r="1.49" fill="#e8afb3"/>
<circle cx="461.42" cy="209.81" r="1.49" fill="#e8afb3"/>
<circle cx="466.69" cy="209.81" r="1.56" fill="#d2d2d2"/>
<circle cx="471.96" cy="209.81" r="0.65" fill="#fbf1f1"/>
<circle cx="477.23" cy="209.81" r="0.65" fill="#fbf1f1"/>
<circle cx="482.50" cy="209.81" r="0.65" fill="#fbf1f1"/>
<circle cx="487.76" cy="209.81" r="1.49" fill="#e8afb3"/>
<circle cx="493.03" cy="209.81" r="1.49" fill="#e8afb3"/>
<circle cx="498.31" cy="209.81" r="1.56" fill="#d2d2d2"/>
<circle cx="503.58" cy="209.81" r="1.56" fill="#d2d2d2"/>
<circle cx="508.85" cy="209.81" r="1.49" fill="#e8afb3"/>
<circle cx="282.24" cy="215.07" r="1.49" fill="#e8afb3"/>
<circle cx="287.50" cy="215.07" r="1.49" fill="#e8afb3"/>
<circle cx="292.78" cy="215.07" r="2.33" fill="#ba333a"/>
<circle cx="298.05" cy="215.07" r="2.33" fill="#ba333a"/>
<circle cx="303.31" cy="215.07" r="1.95" fill="#d26f74"/>
<circle cx="308.59" cy="215.07" r="2.33" fill="#ba333a"/>
<circle cx="313.86" cy="215.07" r="2.33" fill="#ba333a"/>
<circle cx="319.12" cy="215.07" r="2.33" fill="#ba333a"/>
<circle cx="324.40" cy="215.07" r="1.95" fill="#d26f74"/>
<circle cx="329.67" cy="215.07" r="1.95" fill="#d26f74"/>
<circle cx="334.94" cy="215.07" r="1.95" fill="#d26f74"/>
<circle cx="340.21" cy="215.07" r="1.95" fill="#d26f74"/>
<circle cx="345.48" cy="215.07" r="2.54" fill="#a51f26"/>
<circle cx="350.75" cy="215.07" r="1.56" fill="#d2d2d2"/>
<circle cx="356.01" cy="215.07" r="0.65" fill="#fbf1f1"/>
<circle cx="361.29" cy="215.07" r="0.65" fill="#fbf1f1"/>
<circle cx="366.56" cy="215.07" r="0.65" fill="#fbf1f1"/>
<circle cx="371.83" cy="215.07" r="1.49" fill="#e8afb3"/>
<circle cx="377.10" cy="215.07" r="1.49" fill="#e8afb3"/>
<circle cx="382.37" cy="215.07" r="0.65" fill="#fbf1f1"/>
<circle cx="387.63" cy="215.07" r="1.49" fill="#e8afb3"/>
<circle cx="392.91" cy="215.07" r="0.65" fill="#fbf1f1"/>
<circle cx="398.18" cy="215.07" r="1.56" fill="#d2d2d2"/>
<circle cx="403.44" cy="215.07" r="2.33" fill="#ba333a"/>
<circle cx="408.72" cy="215.07" r="1.95" fill="#d26f74"/>
<circle cx="413.99" cy="215.07" r="1.49" fill="#e8afb3"/>
<circle cx="419.25" cy="215.07" r="1.95" fill="#d26f74"/>
<circle cx="424.52" cy="215.07" r="0.65" fill="#fbf1f1"/>
<circle cx="429.80" cy="215.07" r="1.49" fill="#e8afb3"/>
<circle cx="435.06" cy="215.07" r="2.33" fill="#ba333a"/>
<circle cx="440.34" cy="215.07" r="2.33" fill="#ba333a"/>
<circle cx="445.61" cy="215.07" r="1.95" fill="#d26f74"/>
<circle cx="450.88" cy="215.07" r="2.63" fill="#9b161c"/>
<circle cx="456.14" cy="215.07" r="1.95" fill="#d26f74"/>
<circle cx="461.42" cy="215.07" r="1.49" fill="#e8afb3"/>
<circle cx="466.69" cy="215.07" r="0.65" fill="#fbf1f1"/>
<circle cx="471.96" cy="215.07" r="0.65" fill="#fbf1f1"/>
<circle cx="477.23" cy="215.07" r="1.56" fill="#d2d2d2"/>
<circle cx="482.50" cy="215.07" r="1.95" fill="#d26f74"/>
<circle cx="487.76" cy="215.07" r="2.54" fill="#a51f26"/>
<circle cx="493.03" cy="215.07" r="1.49" fill="#e8afb3"/>
<circle cx="498.31" cy="215.07" r="1.86" fill="#bfbfbf"/>
<circle cx="503.58" cy="215.07" r="1.56" fill="#d2d2d2"/>
<circle cx="508.85" cy="215.07" r="1.49" fill="#e8afb3"/>
<circle cx="282.24" cy="220.34" r="2.33" fill="#ba333a"/>
<circle cx="287.50" cy="220.34" r="1.95" fill="#d26f74"/>
<circle cx="292.78" cy="220.34" r="2.33" fill="#ba333a"/>
<circle cx="298.05" cy="220.34" r="2.33" fill="#ba333a"/>
<circle cx="303.31" cy="220.34" r="1.95" fill="#d26f74"/>
<circle cx="308.59" cy="220.34" r="2.33" fill="#ba333a"/>
<circle cx="313.86" cy="220.34" r="2.33" fill="#ba333a"/>
<circle cx="319.12" cy="220.34" r="2.33" fill="#ba333a"/>
<circle cx="324.40" cy="220.34" r="1.95" fill="#d26f74"/>
<circle cx="329.67" cy="220.34" r="2.33" fill="#ba333a"/>
<circle cx="334.94" cy="220.34" r="2.33" fill="#ba333a"/>
<circle cx="340.21" cy="220.34" r="2.54" fill="#a51f26"/>
<circle cx="345.48" cy="220.34" r="2.33" fill="#ba333a"/>
<circle cx="350.75" cy="220.34" r="0.65" fill="#fbf1f1"/>
<circle cx="356.01" cy="220.34" r="0.65" fill="#fbf1f1"/>
<circle cx="361.29" cy="220.34" r="0.65" fill="#fbf1f1"/>
<circle cx="366.56" cy="220.34" r="0.65" fill="#fbf1f1"/>
<circle cx="371.83" cy="220.34" r="0.65" fill="#fbf1f1"/>
<circle cx="377.10" cy="220.34" r="0.65" fill="#fbf1f1"/>
<circle cx="382.37" cy="220.34" r="1.95" fill="#d26f74"/>
<circle cx="387.63" cy="220.34" r="1.49" fill="#e8afb3"/>
<circle cx="392.91" cy="220.34" r="0.65" fill="#fbf1f1"/>
<circle cx="398.18" cy="220.34" r="0.65" fill="#fbf1f1"/>
<circle cx="403.44" cy="220.34" r="1.95" fill="#d26f74"/>
<circle cx="408.72" cy="220.34" r="2.33" fill="#ba333a"/>
<circle cx="413.99" cy="220.34" r="1.95" fill="#d26f74"/>
<circle cx="419.25" cy="220.34" r="1.95" fill="#d26f74"/>
<circle cx="424.52" cy="220.34" r="0.65" fill="#fbf1f1"/>
<circle cx="429.80" cy="220.34" r="1.95" fill="#d26f74"/>
<circle cx="435.06" cy="220.34" r="2.33" fill="#ba333a"/>
<circle cx="440.34" cy="220.34" r="1.95" fill="#d26f74"/>
<circle cx="445.61" cy="220.34" r="1.49" fill="#e8afb3"/>
<circle cx="450.88" cy="220.34" r="2.33" fill="#ba333a"/>
<circle cx="456.14" cy="220.34" r="2.63" fill="#9b161c"/>
<circle cx="461.42" cy="220.34" r="1.49" fill="#e8afb3"/>
<circle cx="466.69" cy="220.34" r="0.65" fill="#fbf1f1"/>
<circle cx="471.96" cy="220.34" r="1.49" fill="#e8afb3"/>
<circle cx="477.23" cy="220.34" r="0.65" fill="#fbf1f1"/>
<circle cx="482.50" cy="220.34" r="1.95" fill="#d26f74"/>
<circle cx="487.76" cy="220.34" r="1.95" fill="#d26f74"/>
<circle cx="493.03" cy="220.34" r="1.49" fill="#e8afb3"/>
<circle cx="498.31" cy="220.34" r="1.56" fill="#d2d2d2"/>
<circle cx="503.58" cy="220.34" r="0.65" fill="#fbf1f1"/>
<circle cx="508.85" cy="220.34" r="1.95" fill="#d26f74"/>
<circle cx="282.24" cy="225.62" r="1.49" fill="#e8afb3"/>
<circle cx="287.50" cy="225.62" r="1.95" fill="#d26f74"/>
<circle cx="292.78" cy="225.62" r="1.49" fill="#e8afb3"/>
<circle cx="298.05" cy="225.62" r="1.49" fill="#e8afb3"/>
<circle cx="303.31" cy="225.62" r="0.65" fill="#fbf1f1"/>
<circle cx="308.59" cy="225.62" r="1.49" fill="#e8afb3"/>
<circle cx="313.86" cy="225.62" r="1.49" fill="#e8afb3"/>
<circle cx="319.12" cy="225.62" r="1.49" fill="#e8afb3"/>
<circle cx="324.40" cy="225.62" r="1.49" fill="#e8afb3"/>
<circle cx="329.67" cy="225.62" r="1.49" fill="#e8afb3"/>
<circle cx="334.94" cy="225.62" r="0.65" fill="#fbf1f1"/>
<circle cx="340.21" cy="225.62" r="0.65" fill="#fbf1f1"/>
<circle cx="345.48" cy="225.62" r="1.56" fill="#d2d2d2"/>
<circle cx="350.75" cy="225.62" r="1.95" fill="#d26f74"/>
<circle cx="356.01" cy="225.62" r="0.65" fill="#fbf1f1"/>
<circle cx="361.29" cy="225.62" r="1.86" fill="#bfbfbf"/>
<circle cx="366.56" cy="225.62" r="2.33" fill="#ba333a"/>
<circle cx="371.83" cy="225.62" r="1.49" fill="#e8afb3"/>
<circle cx="377.10" cy="225.62" r="0.65" fill="#fbf1f1"/>
<circle cx="382.37" cy="225.62" r="1.49" fill="#e8afb3"/>
<circle cx="387.63" cy="225.62" r="1.49" fill="#e8afb3"/>
<circle cx="392.91" cy="225.62" r="1.56" fill="#d2d2d2"/>
<circle cx="398.18" cy="225.62" r="0.65" fill="#fbf1f1"/>
<circle cx="403.44" cy="225.62" r="1.56" fill="#d2d2d2"/>
<circle cx="408.72" cy="225.62" r="1.95" fill="#d26f74"/>
<circle cx="413.99" cy="225.62" r="1.49" fill="#e8afb3"/>
<circle cx="419.25" cy="225.62" r="1.49" fill="#e8afb3"/>
<circle cx="424.52" cy="225.62" r="0.65" fill="#fbf1f1"/>
<circle cx="429.80" cy="225.62" r="0.65" fill="#fbf1f1"/>
<circle cx="435.06" cy="225.62" r="1.56" fill="#d2d2d2"/>
<circle cx="440.34" cy="225.62" r="1.56" fill="#d2d2d2"/>
<circle cx="445.61" cy="225.62" r="1.49" fill="#e8afb3"/>
<circle cx="450.88" cy="225.62" r="0.65" fill="#fbf1f1"/>
<circle cx="456.14" cy="225.62" r="1.49" fill="#e8afb3"/>
<circle cx="461.42" cy="225.62" r="2.63" fill="#9b161c"/>
<circle cx="466.69" cy="225.62" r="0.65" fill="#fbf1f1"/>
<circle cx="471.96" cy="225.62" r="1.95" fill="#d26f74"/>
<circle cx="477.23" cy="225.62" r="0.65" fill="#fbf1f1"/>
<circle cx="482.50" cy="225.62" r="1.49" fill="#e8afb3"/>
<circle cx="487.76" cy="225.62" r="1.95" fill="#d26f74"/>
<circle cx="493.03" cy="225.62" r="1.49" fill="#e8afb3"/>
<circle cx="498.31" cy="225.62" r="1.49" fill="#e8afb3"/>
<circle cx="503.58" cy="225.62" r="0.65" fill="#fbf1f1"/>
<circle cx="508.85" cy="225.62" r="0.65" fill="#fbf1f1"/>
<circle cx="282.24" cy="230.88" r="0.65" fill="#fbf1f1"/>
<circle cx="287.50" cy="230.88" r="1.49" fill="#e8afb3"/>
<circle cx="292.78" cy="230.88" r="1.49" fill="#e8afb3"/>
<circle cx="298.05" cy="230.88" r="1.49" fill="#e8afb3"/>
<circle cx="303.31" cy="230.88" r="0.65" fill="#fbf1f1"/>
<circle cx="308.59" cy="230.88" r="1.49" fill="#e8afb3"/>
<circle cx="313.86" cy="230.88" r="1.49" fill="#e8afb3"/>
<circle cx="319.12" cy="230.88" r="1.49" fill="#e8afb3"/>
<circle cx="324.40" cy="230.88" r="1.49" fill="#e8afb3"/>
<circle cx="329.67" cy="230.88" r="1.95" fill="#d26f74"/>
<circle cx="334.94" cy="230.88" r="1.49" fill="#e8afb3"/>
<circle cx="340.21" cy="230.88" r="0.65" fill="#fbf1f1"/>
<circle cx="345.48" cy="230.88" r="1.49" fill="#e8afb3"/>
<circle cx="350.75" cy="230.88" r="0.65" fill="#fbf1f1"/>
<circle cx="356.01" cy="230.88" r="0.65" fill="#fbf1f1"/>
<circle cx="361.29" cy="230.88" r="0.65" fill="#fbf1f1"/>
<circle cx="366.56" cy="230.88" r="0.65" fill="#fbf1f1"/>
<circle cx="371.83" cy="230.88" r="1.49" fill="#e8afb3"/>
<circle cx="377.10" cy="230.88" r="1.49" fill="#e8afb3"/>
<circle cx="382.37" cy="230.88" r="1.49" fill="#e8afb3"/>
<circle cx="387.63" cy="230.88" r="1.49" fill="#e8afb3"/>
<circle cx="392.91" cy="230.88" r="1.86" fill="#bfbfbf"/>
<circle cx="398.18" cy="230.88" r="0.65" fill="#fbf1f1"/>
<circle cx="403.44" cy="230.88" r="1.49" fill="#e8afb3"/>
<circle cx="408.72" cy="230.88" r="0.65" fill="#fbf1f1"/>
<circle cx="413.99" cy="230.88" r="0.65" fill="#fbf1f1"/>
<circle cx="419.25" cy="230.88" r="0.65" fill="#fbf1f1"/>
<circle cx="424.52" cy="230.88" r="1.56" fill="#d2d2d2"/>
<circle cx="429.80" cy="230.88" r="1.86" fill="#bfbfbf"/>
<circle cx="435.06" cy="230.88" r="1.95" fill="#d26f74"/>
<circle cx="440.34" cy="230.88" r="1.95" fill="#d26f74"/>
<circle cx="445.61" cy="230.88" r="1.49" fill="#e8afb3"/>
<circle cx="450.88" cy="230.88" r="1.95" fill="#d26f74"/>
<circle cx="456.14" cy="230.88" r="0.65" fill="#fbf1f1"/>
<circle cx="461.42" cy="230.88" r="1.49" fill="#e8afb3"/>
<circle cx="466.69" cy="230.88" r="2.63" fill="#9b161c"/>
<circle cx="471.96" cy="230.88" r="1.86" fill="#bfbfbf"/>
<circle cx="477.23" cy="230.88" r="1.49" fill="#e8afb3"/>
<circle cx="482.50" cy="230.88" r="0.65" fill="#fbf1f1"/>
<circle cx="487.76" cy="230.88" r="1.95" fill="#d26f74"/>
<circle cx="493.03" cy="230.88" r="1.95" fill="#d26f74"/>
<circle cx="498.31" cy="230.88" r="0.65" fill="#fbf1f1"/>
<circle cx="503.58" cy="230.88" r="0.65" fill="#fbf1f1"/>
<circle cx="508.85" cy="230.88" r="0.65" fill="#fbf1f1"/>
<circle cx="282.24" cy="236.15" r="2.54" fill="#a51f26"/>
<circle cx="287.50" cy="236.15" r="0.65" fill="#fbf1f1"/>
<circle cx="292.78" cy="236.15" r="0.65" fill="#fbf1f1"/>
<circle cx="298.05" cy="236.15" r="0.65" fill="#fbf1f1"/>
<circle cx="303.31" cy="236.15" r="1.49" fill="#e8afb3"/>
<circle cx="308.59" cy="236.15" r="0.65" fill="#fbf1f1"/>
<circle cx="313.86" cy="236.15" r="0.65" fill="#fbf1f1"/>
<circle cx="319.12" cy="236.15" r="0.65" fill="#fbf1f1"/>
<circle cx="324.40" cy="236.15" r="0.65" fill="#fbf1f1"/>
<circle cx="329.67" cy="236.15" r="0.65" fill="#fbf1f1"/>
<circle cx="334.94" cy="236.15" r="0.65" fill="#fbf1f1"/>
<circle cx="340.21" cy="236.15" r="1.95" fill="#d26f74"/>
<circle cx="345.48" cy="236.15" r="0.65" fill="#fbf1f1"/>
<circle cx="350.75" cy="236.15" r="1.95" fill="#d26f74"/>
<circle cx="356.01" cy="236.15" r="0.65" fill="#fbf1f1"/>
<circle cx="361.29" cy="236.15" r="1.56" fill="#d2d2d2"/>
<circle cx="366.56" cy="236.15" r="0.65" fill="#fbf1f1"/>
<circle cx="371.83" cy="236.15" r="0.65" fill="#fbf1f1"/>
<circle cx="377.10" cy="236.15" r="1.49" fill="#e8afb3"/>
<circle cx="382.37" cy="236.15" r="2.33" fill="#ba333a"/>
<circle cx="387.63" cy="236.15" r="2.33" fill="#ba333a"/>
<circle cx="392.91" cy="236.15" r="2.33" fill="#ba333a"/>
<circle cx="398.18" cy="236.15" r="1.95" fill="#d26f74"/>
<circle cx="403.44" cy="236.15" r="0.65" fill="#fbf1f1"/>
<circle cx="408.72" cy="236.15" r="1.49" fill="#e8afb3"/>
<circle cx="413.99" cy="236.15" r="1.95" fill="#d26f74"/>
<circle cx="419.25" cy="236.15" r="0.65" fill="#fbf1f1"/>
<circle cx="424.52" cy="236.15" r="1.49" fill="#e8afb3"/>
<circle cx="429.80" cy="236.15" r="0.65" fill="#fbf1f1"/>
<circle cx="435.06" cy="236.15" r="1.49" fill="#e8afb3"/>
<circle cx="440.34" cy="236.15" r="1.56" fill="#d2d2d2"/>
<circle cx="445.61" cy="236.15" r="1.56" fill="#d2d2d2"/>
<circle cx="450.88" cy="236.15" r="0.65" fill="#fbf1f1"/>
<circle cx="456.14" cy="236.15" r="1.49" fill="#e8afb3"/>
<circle cx="461.42" cy="236.15" r="1.49" fill="#e8afb3"/>
<circle cx="466.69" cy="236.15" r="1.56" fill="#d2d2d2"/>
<circle cx="471.96" cy="236.15" r="2.63" fill="#9b161c"/>
<circle cx="477.23" cy="236.15" r="1.49" fill="#e8afb3"/>
<circle cx="482.50" cy="236.15" r="0.65" fill="#fbf1f1"/>
<circle cx="487.76" cy="236.15" r="1.49" fill="#e8afb3"/>
<circle cx="493.03" cy="236.15" r="0.65" fill="#fbf1f1"/>
<circle cx="498.31" cy="236.15" r="0.65" fill="#fbf1f1"/>
<circle cx="503.58" cy="236.15" r="0.65" fill="#fbf1f1"/>
<circle cx="508.85" cy="236.15" r="1.95" fill="#d26f74"/>
<circle cx="282.24" cy="241.42" r="1.49" fill="#e8afb3"/>
<circle cx="287.50" cy="241.42" r="1.95" fill="#d26f74"/>
<circle cx="292.78" cy="241.42" r="0.65" fill="#fbf1f1"/>
<circle cx="298.05" cy="241.42" r="1.49" fill="#e8afb3"/>
<circle cx="303.31" cy="241.42" r="1.56" fill="#d2d2d2"/>
<circle cx="308.59" cy="241.42" r="1.49" fill="#e8afb3"/>
<circle cx="313.86" cy="241.42" r="1.49" fill="#e8afb3"/>
<circle cx="319.12" cy="241.42" r="1.56" fill="#d2d2d2"/>
<circle cx="324.40" cy="241.42" r="1.56" fill="#d2d2d2"/>
<circle cx="329.67" cy="241.42" r="1.49" fill="#e8afb3"/>
<circle cx="334.94" cy="241.42" r="1.56" fill="#d2d2d2"/>
<circle cx="340.21" cy="241.42" r="0.65" fill="#fbf1f1"/>
<circle cx="345.48" cy="241.42" r="1.56" fill="#d2d2d2"/>
<circle cx="350.75" cy="241.42" r="0.65" fill="#fbf1f1"/>
<circle cx="356.01" cy="241.42" r="1.49" fill="#e8afb3"/>
<circle cx="361.29" cy="241.42" r="1.56" fill="#d2d2d2"/>
<circle cx="366.56" cy="241.42" r="1.95" fill="#d26f74"/>
<circle cx="371.83" cy="241.42" r="0.65" fill="#fbf1f1"/>
<circle cx="377.10" cy="241.42" r="1.49" fill="#e8afb3"/>
<circle cx="382.37" cy="241.42" r="1.49" fill="#e8afb3"/>
<circle cx="387.63" cy="241.42" r="1.49" fill="#e8afb3"/>
<circle cx="392.91" cy="241.42" r="0.65" fill="#fbf1f1"/>
<circle cx="398.18" cy="241.42" r="0.65" fill="#fbf1f1"/>
<circle cx="403.44" cy="241.42" r="1.56" fill="#d2d2d2"/>
<circle cx="408.72" cy="241.42" r="0.65" fill="#fbf1f1"/>
<circle cx="413.99" cy="241.42" r="0.65" fill="#fbf1f1"/>
<circle cx="419.25" cy="241.42" r="0.65" fill="#fbf1f1"/>
<circle cx="424.52" cy="241.42" r="0.65" fill="#fbf1f1"/>
<circle cx="429.80" cy="241.42" r="0.65" fill="#fbf1f1"/>
<circle cx="435.06" cy="241.42" r="0.65" fill="#fbf1f1"/>
<circle cx="440.34" cy="241.42" r="0.65" fill="#fbf1f1"/>
<circle cx="445.61" cy="241.42" r="0.65" fill="#fbf1f1"/>
<circle cx="450.88" cy="241.42" r="0.65" fill="#fbf1f1"/>
<circle cx="456.14" cy="241.42" r="0.65" fill="#fbf1f1"/>
<circle cx="461.42" cy="241.42" r="1.95" fill="#d26f74"/>
<circle cx="466.69" cy="241.42" r="0.65" fill="#fbf1f1"/>
<circle cx="471.96" cy="241.42" r="1.49" fill="#e8afb3"/>
<circle cx="477.23" cy="241.42" r="2.63" fill="#9b161c"/>
<circle cx="482.50" cy="241.42" r="0.65" fill="#fbf1f1"/>
<circle cx="487.76" cy="241.42" r="0.65" fill="#fbf1f1"/>
<circle cx="493.03" cy="241.42" r="0.65" fill="#fbf1f1"/>
<circle cx="498.31" cy="241.42" r="0.65" fill="#fbf1f1"/>
<circle cx="503.58" cy="241.42" r="1.49" fill="#e8afb3"/>
<circle cx="508.85" cy="241.42" r="0.65" fill="#fbf1f1"/>
<circle cx="282.24" cy="246.69" r="1.95" fill="#d26f74"/>
<circle cx="287.50" cy="246.69" r="0.65" fill="#fbf1f1"/>
<circle cx="292.78" cy="246.69" r="2.33" fill="#ba333a"/>
<circle cx="298.05" cy="246.69" r="2.33" fill="#ba333a"/>
<circle cx="303.31" cy="246.69" r="1.95" fill="#d26f74"/>
<circle cx="308.59" cy="246.69" r="2.33" fill="#ba333a"/>
<circle cx="313.86" cy="246.69" r="2.33" fill="#ba333a"/>
<circle cx="319.12" cy="246.69" r="2.33" fill="#ba333a"/>
<circle cx="324.40" cy="246.69" r="1.95" fill="#d26f74"/>
<circle cx="329.67" cy="246.69" r="2.33" fill="#ba333a"/>
<circle cx="334.94" cy="246.69" r="2.33" fill="#ba333a"/>
<circle cx="340.21" cy="246.69" r="1.95" fill="#d26f74"/>
<circle cx="345.48" cy="246.69" r="2.33" fill="#ba333a"/>
<circle cx="350.75" cy="246.69" r="1.49" fill="#e8afb3"/>
<circle cx="356.01" cy="246.69" r="0.65" fill="#fbf1f1"/>
<circle cx="361.29" cy="246.69" r="0.65" fill="#fbf1f1"/>
<circle cx="366.56" cy="246.69" r="0.65" fill="#fbf1f1"/>
<circle cx="371.83" cy="246.69" r="2.33" fill="#ba333a"/>
<circle cx="377.10" cy="246.69" r="1.95" fill="#d26f74"/>
<circle cx="382.37" cy="246.69" r="1.49" fill="#e8afb3"/>
<circle cx="387.63" cy="246.69" r="2.33" fill="#ba333a"/>
<circle cx="392.91" cy="246.69" r="0.65" fill="#fbf1f1"/>
<circle cx="398.18" cy="246.69" r="0.65" fill="#fbf1f1"/>
<circle cx="403.44" cy="246.69" r="2.33" fill="#ba333a"/>
<circle cx="408.72" cy="246.69" r="2.33" fill="#ba333a"/>
<circle cx="413.99" cy="246.69" r="2.33" fill="#ba333a"/>
<circle cx="419.25" cy="246.69" r="2.33" fill="#ba333a"/>
<circle cx="424.52" cy="246.69" r="1.49" fill="#e8afb3"/>
<circle cx="429.80" cy="246.69" r="1.49" fill="#e8afb3"/>
<circle cx="435.06" cy="246.69" r="2.54" fill="#a51f26"/>
<circle cx="440.34" cy="246.69" r="1.95" fill="#d26f74"/>
<circle cx="445.61" cy="246.69" r="1.49" fill="#e8afb3"/>
<circle cx="450.88" cy="246.69" r="1.95" fill="#d26f74"/>
<circle cx="456.14" cy="246.69" r="1.95" fill="#d26f74"/>
<circle cx="461.42" cy="246.69" r="0.65" fill="#fbf1f1"/>
<circle cx="466.69" cy="246.69" r="1.49" fill="#e8afb3"/>
<circle cx="471.96" cy="246.69" r="0.65" fill="#fbf1f1"/>
<circle cx="477.23" cy="246.69" r="1.49" fill="#e8afb3"/>
<circle cx="482.50" cy="246.69" r="2.63" fill="#9b161c"/>
<circle cx="487.76" cy="246.69" r="1.95" fill="#d26f74"/>
<circle cx="493.03" cy="246.69" r="1.86" fill="#bfbfbf"/>
<circle cx="498.31" cy="246.69" r="0.65" fill="#fbf1f1"/>
<circle cx="503.58" cy="246.69" r="1.56" fill="#d2d2d2"/>
<circle cx="508.85" cy="246.69" r="1.95" fill="#d26f74"/>
<circle cx="282.24" cy="251.96" r="0.65" fill="#fbf1f1"/>
<circle cx="287.50" cy="251.96" r="0.65" fill="#fbf1f1"/>
<circle cx="292.78" cy="251.96" r="2.33" fill="#ba333a"/>
<circle cx="298.05" cy="251.96" r="2.33" fill="#ba333a"/>
<circle cx="303.31" cy="251.96" r="1.49" fill="#e8afb3"/>
<circle cx="308.59" cy="251.96" r="2.33" fill="#ba333a"/>
<circle cx="313.86" cy="251.96" r="2.33" fill="#ba333a"/>
<circle cx="319.12" cy="251.96" r="2.33" fill="#ba333a"/>
<circle cx="324.40" cy="251.96" r="1.95" fill="#d26f74"/>
<circle cx="329.67" cy="251.96" r="2.33" fill="#ba333a"/>
<circle cx="334.94" cy="251.96" r="2.33" fill="#ba333a"/>
<circle cx="340.21" cy="251.96" r="1.49" fill="#e8afb3"/>
<circle cx="345.48" cy="251.96" r="1.95" fill="#d26f74"/>
<circle cx="350.75" cy="251.96" r="0.65" fill="#fbf1f1"/>
<circle cx="356.01" cy="251.96" r="0.65" fill="#fbf1f1"/>
<circle cx="361.29" cy="251.96" r="0.65" fill="#fbf1f1"/>
<circle cx="366.56" cy="251.96" r="1.49" fill="#e8afb3"/>
<circle cx="371.83" cy="251.96" r="0.65" fill="#fbf1f1"/>
<circle cx="377.10" cy="251.96" r="0.65" fill="#fbf1f1"/>
<circle cx="382.37" cy="251.96" r="0.65" fill="#fbf1f1"/>
<circle cx="387.63" cy="251.96" r="1.49" fill="#e8afb3"/>
<circle cx="392.91" cy="251.96" r="0.65" fill="#fbf1f1"/>
<circle cx="398.18" cy="251.96" r="1.56" fill="#d2d2d2"/>
<circle cx="403.44" cy="251.96" r="1.95" fill="#d26f74"/>
<circle cx="408.72" cy="251.96" r="1.49" fill="#e8afb3"/>
<circle cx="413.99" cy="251.96" r="1.49" fill="#e8afb3"/>
<circle cx="419.25" cy="251.96" r="1.49" fill="#e8afb3"/>
<circle cx="424.52" cy="251.96" r="0.65" fill="#fbf1f1"/>
<circle cx="429.80" cy="251.96" r="1.49" fill="#e8afb3"/>
<circle cx="435.06" cy="251.96" r="2.33" fill="#ba333a"/>
<circle cx="440.34" cy="251.96" r="2.33" fill="#ba333a"/>
<circle cx="445.61" cy="251.96" r="1.49" fill="#e8afb3"/>
<circle cx="450.88" cy="251.96" r="2.54" fill="#a51f26"/>
<circle cx="456.14" cy="251.96" r="1.49" fill="#e8afb3"/>
<circle cx="461.42" cy="251.96" r="1.95" fill="#d26f74"/>
<circle cx="466.69" cy="251.96" r="1.49" fill="#e8afb3"/>
<circle cx="471.96" cy="251.96" r="0.65" fill="#fbf1f1"/>
<circle cx="477.23" cy="251.96" r="1.95" fill="#d26f74"/>
<circle cx="482.50" cy="251.96" r="2.33" fill="#ba333a"/>
<circle cx="487.76" cy="251.96" r="2.63" fill="#9b161c"/>
<circle cx="493.03" cy="251.96" r="1.49" fill="#e8afb3"/>
<circle cx="498.31" cy="251.96" r="1.56" fill="#d2d2d2"/>
<circle cx="503.58" cy="251.96" r="0.65" fill="#fbf1f1"/>
<circle cx="508.85" cy="251.96" r="1.49" fill="#e8afb3"/>
<circle cx="282.24" cy="257.23" r="0.65" fill="#fbf1f1"/>
<circle cx="287.50" cy="257.23" r="1.49" fill="#e8afb3"/>
<circle cx="292.78" cy="257.23" r="0.65" fill="#fbf1f1"/>
<circle cx="298.05" cy="257.23" r="0.65" fill="#fbf1f1"/>
<circle cx="303.31" cy="257.23" r="0.65" fill="#fbf1f1"/>
<circle cx="308.59" cy="257.23" r="0.65" fill="#fbf1f1"/>
<circle cx="313.86" cy="257.23" r="0.65" fill="#fbf1f1"/>
<circle cx="319.12" cy="257.23" r="0.65" fill="#fbf1f1"/>
<circle cx="324.40" cy="257.23" r="0.65" fill="#fbf1f1"/>
<circle cx="329.67" cy="257.23" r="0.65" fill="#fbf1f1"/>
<circle cx="334.94" cy="257.23" r="1.49" fill="#e8afb3"/>
<circle cx="340.21" cy="257.23" r="1.49" fill="#e8afb3"/>
<circle cx="345.48" cy="257.23" r="1.95" fill="#d26f74"/>
<circle cx="350.75" cy="257.23" r="1.95" fill="#d26f74"/>
<circle cx="356.01" cy="257.23" r="1.56" fill="#d2d2d2"/>
<circle cx="361.29" cy="257.23" r="1.56" fill="#d2d2d2"/>
<circle cx="366.56" cy="257.23" r="0.65" fill="#fbf1f1"/>
<circle cx="371.83" cy="257.23" r="0.65" fill="#fbf1f1"/>
<circle cx="377.10" cy="257.23" r="1.49" fill="#e8afb3"/>
<circle cx="382.37" cy="257.23" r="1.49" fill="#e8afb3"/>
<circle cx="387.63" cy="257.23" r="1.49" fill="#e8afb3"/>
<circle cx="392.91" cy="257.23" r="1.56" fill="#d2d2d2"/>
<circle cx="398.18" cy="257.23" r="0.65" fill="#fbf1f1"/>
<circle cx="403.44" cy="257.23" r="0.65" fill="#fbf1f1"/>
<circle cx="408.72" cy="257.23" r="1.56" fill="#d2d2d2"/>
<circle cx="413.99" cy="257.23" r="1.86" fill="#bfbfbf"/>
<circle cx="419.25" cy="257.23" r="1.56" fill="#d2d2d2"/>
<circle cx="424.52" cy="257.23" r="1.86" fill="#bfbfbf"/>
<circle cx="429.80" cy="257.23" r="0.65" fill="#fbf1f1"/>
<circle cx="435.06" cy="257.23" r="1.49" fill="#e8afb3"/>
<circle cx="440.34" cy="257.23" r="1.49" fill="#e8afb3"/>
<circle cx="445.61" cy="257.23" r="0.65" fill="#fbf1f1"/>
<circle cx="450.88" cy="257.23" r="1.49" fill="#e8afb3"/>
<circle cx="456.14" cy="257.23" r="1.56" fill="#d2d2d2"/>
<circle cx="461.42" cy="257.23" r="1.49" fill="#e8afb3"/>
<circle cx="466.69" cy="257.23" r="1.95" fill="#d26f74"/>
<circle cx="471.96" cy="257.23" r="0.65" fill="#fbf1f1"/>
<circle cx="477.23" cy="257.23" r="0.65" fill="#fbf1f1"/>
<circle cx="482.50" cy="257.23" r="1.49" fill="#e8afb3"/>
<circle cx="487.76" cy="257.23" r="1.95" fill="#d26f74"/>
<circle cx="493.03" cy="257.23" r="2.63" fill="#9b161c"/>
<circle cx="498.31" cy="257.23" r="1.95" fill="#d26f74"/>
<circle cx="503.58" cy="257.23" r="0.65" fill="#fbf1f1"/>
<circle cx="508.85" cy="257.23" r="0.65" fill="#fbf1f1"/>
<circle cx="282.24" cy="262.50" r="1.49" fill="#e8afb3"/>
<circle cx="287.50" cy="262.50" r="1.95" fill="#d26f74"/>
<circle cx="292.78" cy="262.50" r="1.56" fill="#d2d2d2"/>
<circle cx="298.05" cy="262.50" r="1.56" fill="#d2d2d2"/>
<circle cx="303.31" cy="262.50" r="0.65" fill="#fbf1f1"/>
<circle cx="308.59" cy="262.50" r="1.56" fill="#d2d2d2"/>
<circle cx="313.86" cy="262.50" r="1.56" fill="#d2d2d2"/>
<circle cx="319.12" cy="262.50" r="1.56" fill="#d2d2d2"/>
<circle cx="324.40" cy="262.50" r="0.65" fill="#fbf1f1"/>
<circle cx="329.67" cy="262.50" r="1.56" fill="#d2d2d2"/>
<circle cx="334.94" cy="262.50" r="0.65" fill="#fbf1f1"/>
<circle cx="340.21" cy="262.50" r="1.56" fill="#d2d2d2"/>
<circle cx="345.48" cy="262.50" r="1.56" fill="#d2d2d2"/>
<circle cx="350.75" cy="262.50" r="2.54" fill="#a51f26"/>
<circle cx="356.01" cy="262.50" r="1.95" fill="#d26f74"/>
<circle cx="361.29" cy="262.50" r="0.65" fill="#fbf1f1"/>
<circle cx="366.56" cy="262.50" r="1.56" fill="#d2d2d2"/>
<circle cx="371.83" cy="262.50" r="1.86" fill="#bfbfbf"/>
<circle cx="377.10" cy="262.50" r="1.56" fill="#d2d2d2"/>
<circle cx="382.37" cy="262.50" r="0.65" fill="#fbf1f1"/>
<circle cx="387.63" cy="262.50" r="1.56" fill="#d2d2d2"/>
<circle cx="392.91" cy="262.50" r="1.49" fill="#e8afb3"/>
<circle cx="398.18" cy="262.50" r="0.65" fill="#fbf1f1"/>
<circle cx="403.44" cy="262.50" r="1.86" fill="#bfbfbf"/>
<circle cx="408.72" cy="262.50" r="1.56" fill="#d2d2d2"/>
<circle cx="413.99" cy="262.50" r="1.86" fill="#bfbfbf"/>
<circle cx="419.25" cy="262.50" r="1.86" fill="#bfbfbf"/>
<circle cx="424.52" cy="262.50" r="1.56" fill="#d2d2d2"/>
<circle cx="429.80" cy="262.50" r="1.86" fill="#bfbfbf"/>
<circle cx="435.06" cy="262.50" r="1.56" fill="#d2d2d2"/>
<circle cx="440.34" cy="262.50" r="1.86" fill="#bfbfbf"/>
<circle cx="445.61" cy="262.50" r="1.56" fill="#d2d2d2"/>
<circle cx="450.88" cy="262.50" r="1.86" fill="#bfbfbf"/>
<circle cx="456.14" cy="262.50" r="1.56" fill="#d2d2d2"/>
<circle cx="461.42" cy="262.50" r="1.95" fill="#d26f74"/>
<circle cx="466.69" cy="262.50" r="0.65" fill="#fbf1f1"/>
<circle cx="471.96" cy="262.50" r="0.65" fill="#fbf1f1"/>
<circle cx="477.23" cy="262.50" r="0.65" fill="#fbf1f1"/>
<circle cx="482.50" cy="262.50" r="1.86" fill="#bfbfbf"/>
<circle cx="487.76" cy="262.50" r="0.65" fill="#fbf1f1"/>
<circle cx="493.03" cy="262.50" r="1.95" fill="#d26f74"/>
<circle cx="498.31" cy="262.50" r="2.63" fill="#9b161c"/>
<circle cx="503.58" cy="262.50" r="0.65" fill="#fbf1f1"/>
<circle cx="508.85" cy="262.50" r="0.65" fill="#fbf1f1"/>
<circle cx="282.24" cy="267.77" r="0.65" fill="#fbf1f1"/>
<circle cx="287.50" cy="267.77" r="1.86" fill="#bfbfbf"/>
<circle cx="292.78" cy="267.77" r="1.56" fill="#d2d2d2"/>
<circle cx="298.05" cy="267.77" r="1.56" fill="#d2d2d2"/>
<circle cx="303.31" cy="267.77" r="0.65" fill="#fbf1f1"/>
<circle cx="308.59" cy="267.77" r="0.65" fill="#fbf1f1"/>
<circle cx="313.86" cy="267.77" r="1.56" fill="#d2d2d2"/>
<circle cx="319.12" cy="267.77" r="0.65" fill="#fbf1f1"/>
<circle cx="324.40" cy="267.77" r="0.65" fill="#fbf1f1"/>
<circle cx="329.67" cy="267.77" r="1.86" fill="#bfbfbf"/>
<circle cx="334.94" cy="267.77" r="1.56" fill="#d2d2d2"/>
<circle cx="340.21" cy="267.77" r="1.49" fill="#e8afb3"/>
<circle cx="345.48" cy="267.77" r="0.65" fill="#fbf1f1"/>
<circle cx="350.75" cy="267.77" r="1.49" fill="#e8afb3"/>
<circle cx="356.01" cy="267.77" r="0.65" fill="#fbf1f1"/>
<circle cx="361.29" cy="267.77" r="0.65" fill="#fbf1f1"/>
<circle cx="366.56" cy="267.77" r="0.65" fill="#fbf1f1"/>
<circle cx="371.83" cy="267.77" r="0.65" fill="#fbf1f1"/>
<circle cx="377.10" cy="267.77" r="1.56" fill="#d2d2d2"/>
<circle cx="382.37" cy="267.77" r="0.65" fill="#fbf1f1"/>
<circle cx="387.63" cy="267.77" r="1.86" fill="#bfbfbf"/>
<circle cx="392.91" cy="267.77" r="0.65" fill="#fbf1f1"/>
<circle cx="398.18" cy="267.77" r="1.86" fill="#bfbfbf"/>
<circle cx="403.44" cy="267.77" r="1.86" fill="#bfbfbf"/>
<circle cx="408.72" cy="267.77" r="1.86" fill="#bfbfbf"/>
<circle cx="413.99" cy="267.77" r="0.65" fill="#fbf1f1"/>
<circle cx="419.25" cy="267.77" r="0.65" fill="#fbf1f1"/>
<circle cx="424.52" cy="267.77" r="1.49" fill="#e8afb3"/>
<circle cx="429.80" cy="267.77" r="0.65" fill="#fbf1f1"/>
<circle cx="435.06" cy="267.77" r="1.56" fill="#d2d2d2"/>
<circle cx="440.34" cy="267.77" r="1.56" fill="#d2d2d2"/>
<circle cx="445.61" cy="267.77" r="0.65" fill="#fbf1f1"/>
<circle cx="450.88" cy="267.77" r="1.56" fill="#d2d2d2"/>
<circle cx="456.14" cy="267.77" r="0.65" fill="#fbf1f1"/>
<circle cx="461.42" cy="267.77" r="0.65" fill="#fbf1f1"/>
<circle cx="466.69" cy="267.77" r="0.65" fill="#fbf1f1"/>
<circle cx="471.96" cy="267.77" r="0.65" fill="#fbf1f1"/>
<circle cx="477.23" cy="267.77" r="1.49" fill="#e8afb3"/>
<circle cx="482.50" cy="267.77" r="0.65" fill="#fbf1f1"/>
<circle cx="487.76" cy="267.77" r="0.65" fill="#fbf1f1"/>
<circle cx="493.03" cy="267.77" r="0.65" fill="#fbf1f1"/>
<circle cx="498.31" cy="267.77" r="0.65" fill="#fbf1f1"/>
<circle cx="503.58" cy="267.77" r="2.63" fill="#9b161c"/>
<circle cx="508.85" cy="267.77" r="0.65" fill="#fbf1f1"/>
<circle cx="282.24" cy="273.04" r="2.54" fill="#a51f26"/>
<circle cx="287.50" cy="273.04" r="0.65" fill="#fbf1f1"/>
<circle cx="292.78" cy="273.04" r="2.33" fill="#ba333a"/>
<circle cx="298.05" cy="273.04" r="2.33" fill="#ba333a"/>
<circle cx="303.31" cy="273.04" r="1.95" fill="#d26f74"/>
<circle cx="308.59" cy="273.04" r="2.33" fill="#ba333a"/>
<circle cx="313.86" cy="273.04" r="2.33" fill="#ba333a"/>
<circle cx="319.12" cy="273.04" r="2.33" fill="#ba333a"/>
<circle cx="324.40" cy="273.04" r="1.95" fill="#d26f74"/>
<circle cx="329.67" cy="273.04" r="2.33" fill="#ba333a"/>
<circle cx="334.94" cy="273.04" r="2.33" fill="#ba333a"/>
<circle cx="340.21" cy="273.04" r="2.33" fill="#ba333a"/>
<circle cx="345.48" cy="273.04" r="1.95" fill="#d26f74"/>
<circle cx="350.75" cy="273.04" r="0.65" fill="#fbf1f1"/>
<circle cx="356.01" cy="273.04" r="0.65" fill="#fbf1f1"/>
<circle cx="361.29" cy="273.04" r="0.65" fill="#fbf1f1"/>
<circle cx="366.56" cy="273.04" r="0.65" fill="#fbf1f1"/>
<circle cx="371.83" cy="273.04" r="1.49" fill="#e8afb3"/>
<circle cx="377.10" cy="273.04" r="1.49" fill="#e8afb3"/>
<circle cx="382.37" cy="273.04" r="1.95" fill="#d26f74"/>
<circle cx="387.63" cy="273.04" r="2.54" fill="#a51f26"/>
<circle cx="392.91" cy="273.04" r="1.49" fill="#e8afb3"/>
<circle cx="398.18" cy="273.04" r="1.49" fill="#e8afb3"/>
<circle cx="403.44" cy="273.04" r="2.33" fill="#ba333a"/>
<circle cx="408.72" cy="273.04" r="2.33" fill="#ba333a"/>
<circle cx="413.99" cy="273.04" r="2.54" fill="#a51f26"/>
<circle cx="419.25" cy="273.04" r="1.95" fill="#d26f74"/>
<circle cx="424.52" cy="273.04" r="1.49" fill="#e8afb3"/>
<circle cx="429.80" cy="273.04" r="1.95" fill="#d26f74"/>
<circle cx="435.06" cy="273.04" r="1.95" fill="#d26f74"/>
<circle cx="440.34" cy="273.04" r="1.49" fill="#e8afb3"/>
<circle cx="445.61" cy="273.04" r="1.49" fill="#e8afb3"/>
<circle cx="450.88" cy="273.04" r="1.95" fill="#d26f74"/>
<circle cx="456.14" cy="273.04" r="2.33" fill="#ba333a"/>
<circle cx="461.42" cy="273.04" r="0.65" fill="#fbf1f1"/>
<circle cx="466.69" cy="273.04" r="0.65" fill="#fbf1f1"/>
<circle cx="471.96" cy="273.04" r="2.33" fill="#ba333a"/>
<circle cx="477.23" cy="273.04" r="0.65" fill="#fbf1f1"/>
<circle cx="482.50" cy="273.04" r="1.95" fill="#d26f74"/>
<circle cx="487.76" cy="273.04" r="1.49" fill="#e8afb3"/>
<circle cx="493.03" cy="273.04" r="1.49" fill="#e8afb3"/>
<circle cx="498.31" cy="273.04" r="1.56" fill="#d2d2d2"/>
<circle cx="503.58" cy="273.04" r="1.56" fill="#d2d2d2"/>
<circle cx="508.85" cy="273.04" r="2.63" fill="#9b161c"/>
<rect x="1" y="43.80" width="41.5" height="52.70" fill="#cdebcb"/>
<rect x="1" y="96.50" width="41.5" height="36.89" fill="#ccd6ee"/>
<rect x="1" y="133.39" width="41.5" height="63.24" fill="#efebcd"/>
<rect x="1" y="196.63" width="41.5" height="26.35" fill="#efd1d5"/>
<rect x="1" y="222.98" width="41.5" height="31.62" fill="#c5dfdd"/>
<rect x="1" y="254.60" width="41.5" height="10.54" fill="#e1d3bf"/>
<rect x="1" y="265.14" width="41.5" height="10.54" fill="#dbe3e3"/>
<text x="41.30" y="48.58" font-size="6.1" text-anchor="end" fill="#000">MO</text>
<text x="41.30" y="53.85" font-size="6.1" text-anchor="end" fill="#000">DLO</text>
<text x="41.30" y="59.12" font-size="6.1" text-anchor="end" fill="#000">VO</text>
<text x="41.30" y="64.39" font-size="6.1" text-anchor="end" fill="#000">LO</text>
<text x="41.30" y="69.66" font-size="6.1" text-anchor="end" fill="#000">IL</text>
<text x="41.30" y="74.94" font-size="6.1" text-anchor="end" fill="#000">PrL</text>
<text x="41.30" y="80.20" font-size="6.1" text-anchor="end" fill="#000">Cg1</text>
<text x="41.30" y="85.47" font-size="6.1" text-anchor="end" fill="#000">Cg2</text>
<text x="41.30" y="90.75" font-size="6.1" text-anchor="end" fill="#000">M1</text>
<text x="41.30" y="96.02" font-size="6.1" text-anchor="end" fill="#000">M2</text>
<text x="41.30" y="101.28" font-size="6.1" text-anchor="end" fill="#000">AcbCo</text>
<text x="41.30" y="106.56" font-size="6.1" text-anchor="end" fill="#000">AcbSh</text>
<text x="41.30" y="111.83" font-size="6.1" text-anchor="end" fill="#000">CPu</text>
<text x="41.30" y="117.09" font-size="6.1" text-anchor="end" fill="#000">SNR</text>
<text x="41.30" y="122.36" font-size="6.1" text-anchor="end" fill="#000">LSD</text>
<text x="41.30" y="127.63" font-size="6.1" text-anchor="end" fill="#000">LSI</text>
<text x="41.30" y="132.91" font-size="6.1" text-anchor="end" fill="#000">LSV</text>
<text x="41.30" y="138.17" font-size="6.1" text-anchor="end" fill="#000">dGrDG</text>
<text x="41.30" y="143.44" font-size="6.1" text-anchor="end" fill="#000">dMoDG</text>
<text x="41.30" y="148.72" font-size="6.1" text-anchor="end" fill="#000">dPoDG</text>
<text x="41.30" y="153.98" font-size="6.1" text-anchor="end" fill="#000">dCA1</text>
<text x="41.30" y="159.25" font-size="6.1" text-anchor="end" fill="#000">dCA2</text>
<text x="41.30" y="164.53" font-size="6.1" text-anchor="end" fill="#000">dCA3</text>
<text x="41.30" y="169.79" font-size="6.1" text-anchor="end" fill="#000">vGrDG</text>
<text x="41.30" y="175.06" font-size="6.1" text-anchor="end" fill="#000">vMoDG</text>
<text x="41.30" y="180.34" font-size="6.1" text-anchor="end" fill="#000">vPoDG</text>
<text x="41.30" y="185.60" font-size="6.1" text-anchor="end" fill="#000">vCA1</text>
<text x="41.30" y="190.87" font-size="6.1" text-anchor="end" fill="#000">vCA2</text>
<text x="41.30" y="196.15" font-size="6.1" text-anchor="end" fill="#000">vCA3</text>
<text x="41.30" y="201.41" font-size="6.1" text-anchor="end" fill="#000">BMA</text>
<text x="41.30" y="206.68" font-size="6.1" text-anchor="end" fill="#000">BLA</text>
<text x="41.30" y="211.96" font-size="6.1" text-anchor="end" fill="#000">CeA</text>
<text x="41.30" y="217.22" font-size="6.1" text-anchor="end" fill="#000">LA</text>
<text x="41.30" y="222.49" font-size="6.1" text-anchor="end" fill="#000">BNST</text>
<text x="41.30" y="227.77" font-size="6.1" text-anchor="end" fill="#000">PVT</text>
<text x="41.30" y="233.03" font-size="6.1" text-anchor="end" fill="#000">PVN</text>
<text x="41.30" y="238.30" font-size="6.1" text-anchor="end" fill="#000">Arc</text>
<text x="41.30" y="243.57" font-size="6.1" text-anchor="end" fill="#000">DMH</text>
<text x="41.30" y="248.84" font-size="6.1" text-anchor="end" fill="#000">VMH</text>
<text x="41.30" y="254.11" font-size="6.1" text-anchor="end" fill="#000">LHA</text>
<text x="41.30" y="259.38" font-size="6.1" text-anchor="end" fill="#000">PAG</text>
<text x="41.30" y="264.65" font-size="6.1" text-anchor="end" fill="#000">VTA</text>
<text x="41.30" y="269.92" font-size="6.1" text-anchor="end" fill="#000">LHb</text>
<text x="41.30" y="275.19" font-size="6.1" text-anchor="end" fill="#000">Pir</text>
<g transform="translate(10.5 70.3) rotate(0)"><path d="M-8.3,0.3 C-7.5,-1.2 -5.5,-2.6 -2.5,-3.2 C0.5,-3.8 3.5,-3.6 5.5,-2.8 C7.2,-2.2 8.4,-0.8 8.3,1.2 C8.2,2.8 6.5,3.4 4.5,3.2 C2,3.4 -1,3.5 -3.5,3 C-5.5,2.6 -7,1.8 -8.3,0.3 Z" fill="#dcdcdc"/><path d="M-6.6,-1.4 C-5.6,-3.2 -2,-3.6 1,-3.5 L3.2,-3.9 C3.9,-3 3.3,-2.1 2.5,-1.9 L-1.8,-1.3 C-2.5,-0.5 -2.4,1.5 -2.3,3.7 C-4.5,4 -6.2,2.6 -6.6,1.2 Z" fill="#3f9535"/></g>
<g transform="translate(10.5 115.5) rotate(0)"><path d="M-8.3,0.3 C-7.5,-1.2 -5.5,-2.6 -2.5,-3.2 C0.5,-3.8 3.5,-3.6 5.5,-2.8 C7.2,-2.2 8.4,-0.8 8.3,1.2 C8.2,2.8 6.5,3.4 4.5,3.2 C2,3.4 -1,3.5 -3.5,3 C-5.5,2.6 -7,1.8 -8.3,0.3 Z" fill="#dcdcdc"/><path d="M-4.3,3.4 L-3.5,-1.2 C-2.5,-1.9 -1,-1.5 -0.6,-0.5 L0.5,-0.3 C2,-0.5 2.7,0.5 2.4,1.6 L-0.8,2.3 L-1.5,3.6 Z" fill="#7c9fdc"/></g>
<g transform="translate(10.5 165.5) rotate(0)"><path d="M-8.3,0.3 C-7.5,-1.2 -5.5,-2.6 -2.5,-3.2 C0.5,-3.8 3.5,-3.6 5.5,-2.8 C7.2,-2.2 8.4,-0.8 8.3,1.2 C8.2,2.8 6.5,3.4 4.5,3.2 C2,3.4 -1,3.5 -3.5,3 C-5.5,2.6 -7,1.8 -8.3,0.3 Z" fill="#dcdcdc"/><ellipse cx="0.5" cy="0.3" rx="2.0" ry="2.1" fill="#c9a526"/></g>
<g transform="translate(10.5 210.5) rotate(0)"><path d="M-8.3,0.3 C-7.5,-1.2 -5.5,-2.6 -2.5,-3.2 C0.5,-3.8 3.5,-3.6 5.5,-2.8 C7.2,-2.2 8.4,-0.8 8.3,1.2 C8.2,2.8 6.5,3.4 4.5,3.2 C2,3.4 -1,3.5 -3.5,3 C-5.5,2.6 -7,1.8 -8.3,0.3 Z" fill="#dcdcdc"/><ellipse cx="-1" cy="1" rx="1.2" ry="1.5" fill="#d24b55"/></g>
<g transform="translate(10.5 239.5) rotate(0)"><path d="M-8.3,0.3 C-7.5,-1.2 -5.5,-2.6 -2.5,-3.2 C0.5,-3.8 3.5,-3.6 5.5,-2.8 C7.2,-2.2 8.4,-0.8 8.3,1.2 C8.2,2.8 6.5,3.4 4.5,3.2 C2,3.4 -1,3.5 -3.5,3 C-5.5,2.6 -7,1.8 -8.3,0.3 Z" fill="#dcdcdc"/><ellipse cx="-0.3" cy="1.0" rx="2.7" ry="2.6" fill="#2b6e78"/></g>
<g transform="translate(10.5 260.0) rotate(0)"><path d="M-8.3,0.3 C-7.5,-1.2 -5.5,-2.6 -2.5,-3.2 C0.5,-3.8 3.5,-3.6 5.5,-2.8 C7.2,-2.2 8.4,-0.8 8.3,1.2 C8.2,2.8 6.5,3.4 4.5,3.2 C2,3.4 -1,3.5 -3.5,3 C-5.5,2.6 -7,1.8 -8.3,0.3 Z" fill="#dcdcdc"/><ellipse cx="1.5" cy="0.5" rx="2" ry="2.4" fill="#a88a28"/></g>
<g transform="translate(10.5 270.4) rotate(0)"><path d="M-8.3,0.3 C-7.5,-1.2 -5.5,-2.6 -2.5,-3.2 C0.5,-3.8 3.5,-3.6 5.5,-2.8 C7.2,-2.2 8.4,-0.8 8.3,1.2 C8.2,2.8 6.5,3.4 4.5,3.2 C2,3.4 -1,3.5 -3.5,3 C-5.5,2.6 -7,1.8 -8.3,0.3 Z" fill="#dcdcdc"/><ellipse cx="-3.5" cy="1.8" rx="2" ry="1.6" fill="#6e6e6e"/><ellipse cx="0.2" cy="-0.6" rx="1.2" ry="1.5" fill="#6e6e6e"/></g>
<rect x="42.50" y="275.68" width="52.70" height="41.62" fill="#cdebcb"/>
<rect x="95.20" y="275.68" width="36.89" height="41.62" fill="#ccd6ee"/>
<rect x="132.09" y="275.68" width="63.24" height="41.62" fill="#efebcd"/>
<rect x="195.33" y="275.68" width="26.35" height="41.62" fill="#efd1d5"/>
<rect x="221.68" y="275.68" width="31.62" height="41.62" fill="#c5dfdd"/>
<rect x="253.30" y="275.68" width="10.54" height="41.62" fill="#e1d3bf"/>
<rect x="263.84" y="275.68" width="10.54" height="41.62" fill="#dbe3e3"/>
<text x="47.13" y="276.68" font-size="6.2" text-anchor="end" fill="#000" transform="rotate(-90 47.13 276.68)">MO</text>
<text x="52.41" y="276.68" font-size="6.2" text-anchor="end" fill="#000" transform="rotate(-90 52.41 276.68)">DLO</text>
<text x="57.67" y="276.68" font-size="6.2" text-anchor="end" fill="#000" transform="rotate(-90 57.67 276.68)">VO</text>
<text x="62.95" y="276.68" font-size="6.2" text-anchor="end" fill="#000" transform="rotate(-90 62.95 276.68)">LO</text>
<text x="68.22" y="276.68" font-size="6.2" text-anchor="end" fill="#000" transform="rotate(-90 68.22 276.68)">IL</text>
<text x="73.48" y="276.68" font-size="6.2" text-anchor="end" fill="#000" transform="rotate(-90 73.48 276.68)">PrL</text>
<text x="78.75" y="276.68" font-size="6.2" text-anchor="end" fill="#000" transform="rotate(-90 78.75 276.68)">Cg1</text>
<text x="84.03" y="276.68" font-size="6.2" text-anchor="end" fill="#000" transform="rotate(-90 84.03 276.68)">Cg2</text>
<text x="89.29" y="276.68" font-size="6.2" text-anchor="end" fill="#000" transform="rotate(-90 89.29 276.68)">M1</text>
<text x="94.56" y="276.68" font-size="6.2" text-anchor="end" fill="#000" transform="rotate(-90 94.56 276.68)">M2</text>
<text x="99.83" y="276.68" font-size="6.2" text-anchor="end" fill="#000" transform="rotate(-90 99.83 276.68)">AcbCo</text>
<text x="105.10" y="276.68" font-size="6.2" text-anchor="end" fill="#000" transform="rotate(-90 105.10 276.68)">AcbSh</text>
<text x="110.38" y="276.68" font-size="6.2" text-anchor="end" fill="#000" transform="rotate(-90 110.38 276.68)">CPu</text>
<text x="115.64" y="276.68" font-size="6.2" text-anchor="end" fill="#000" transform="rotate(-90 115.64 276.68)">SNR</text>
<text x="120.91" y="276.68" font-size="6.2" text-anchor="end" fill="#000" transform="rotate(-90 120.91 276.68)">LSD</text>
<text x="126.18" y="276.68" font-size="6.2" text-anchor="end" fill="#000" transform="rotate(-90 126.18 276.68)">LSI</text>
<text x="131.45" y="276.68" font-size="6.2" text-anchor="end" fill="#000" transform="rotate(-90 131.45 276.68)">LSV</text>
<text x="136.72" y="276.68" font-size="6.2" text-anchor="end" fill="#000" transform="rotate(-90 136.72 276.68)">dGrDG</text>
<text x="142.00" y="276.68" font-size="6.2" text-anchor="end" fill="#000" transform="rotate(-90 142.00 276.68)">dMoDG</text>
<text x="147.26" y="276.68" font-size="6.2" text-anchor="end" fill="#000" transform="rotate(-90 147.26 276.68)">dPoDG</text>
<text x="152.53" y="276.68" font-size="6.2" text-anchor="end" fill="#000" transform="rotate(-90 152.53 276.68)">dCA1</text>
<text x="157.81" y="276.68" font-size="6.2" text-anchor="end" fill="#000" transform="rotate(-90 157.81 276.68)">dCA2</text>
<text x="163.07" y="276.68" font-size="6.2" text-anchor="end" fill="#000" transform="rotate(-90 163.07 276.68)">dCA3</text>
<text x="168.34" y="276.68" font-size="6.2" text-anchor="end" fill="#000" transform="rotate(-90 168.34 276.68)">vGrDG</text>
<text x="173.61" y="276.68" font-size="6.2" text-anchor="end" fill="#000" transform="rotate(-90 173.61 276.68)">vMoDG</text>
<text x="178.88" y="276.68" font-size="6.2" text-anchor="end" fill="#000" transform="rotate(-90 178.88 276.68)">vPoDG</text>
<text x="184.16" y="276.68" font-size="6.2" text-anchor="end" fill="#000" transform="rotate(-90 184.16 276.68)">vCA1</text>
<text x="189.42" y="276.68" font-size="6.2" text-anchor="end" fill="#000" transform="rotate(-90 189.42 276.68)">vCA2</text>
<text x="194.69" y="276.68" font-size="6.2" text-anchor="end" fill="#000" transform="rotate(-90 194.69 276.68)">vCA3</text>
<text x="199.96" y="276.68" font-size="6.2" text-anchor="end" fill="#000" transform="rotate(-90 199.96 276.68)">BMA</text>
<text x="205.23" y="276.68" font-size="6.2" text-anchor="end" fill="#000" transform="rotate(-90 205.23 276.68)">BLA</text>
<text x="210.50" y="276.68" font-size="6.2" text-anchor="end" fill="#000" transform="rotate(-90 210.50 276.68)">CeA</text>
<text x="215.77" y="276.68" font-size="6.2" text-anchor="end" fill="#000" transform="rotate(-90 215.77 276.68)">LA</text>
<text x="221.04" y="276.68" font-size="6.2" text-anchor="end" fill="#000" transform="rotate(-90 221.04 276.68)">BNST</text>
<text x="226.31" y="276.68" font-size="6.2" text-anchor="end" fill="#000" transform="rotate(-90 226.31 276.68)">PVT</text>
<text x="231.58" y="276.68" font-size="6.2" text-anchor="end" fill="#000" transform="rotate(-90 231.58 276.68)">PVN</text>
<text x="236.85" y="276.68" font-size="6.2" text-anchor="end" fill="#000" transform="rotate(-90 236.85 276.68)">Arc</text>
<text x="242.12" y="276.68" font-size="6.2" text-anchor="end" fill="#000" transform="rotate(-90 242.12 276.68)">DMH</text>
<text x="247.39" y="276.68" font-size="6.2" text-anchor="end" fill="#000" transform="rotate(-90 247.39 276.68)">VMH</text>
<text x="252.66" y="276.68" font-size="6.2" text-anchor="end" fill="#000" transform="rotate(-90 252.66 276.68)">LHA</text>
<text x="257.93" y="276.68" font-size="6.2" text-anchor="end" fill="#000" transform="rotate(-90 257.93 276.68)">PAG</text>
<text x="263.20" y="276.68" font-size="6.2" text-anchor="end" fill="#000" transform="rotate(-90 263.20 276.68)">VTA</text>
<text x="268.48" y="276.68" font-size="6.2" text-anchor="end" fill="#000" transform="rotate(-90 268.48 276.68)">LHb</text>
<text x="273.75" y="276.68" font-size="6.2" text-anchor="end" fill="#000" transform="rotate(-90 273.75 276.68)">Pir</text>
<g transform="translate(68.8 308.3) rotate(-90) scale(1.08)"><path d="M-8.3,0.3 C-7.5,-1.2 -5.5,-2.6 -2.5,-3.2 C0.5,-3.8 3.5,-3.6 5.5,-2.8 C7.2,-2.2 8.4,-0.8 8.3,1.2 C8.2,2.8 6.5,3.4 4.5,3.2 C2,3.4 -1,3.5 -3.5,3 C-5.5,2.6 -7,1.8 -8.3,0.3 Z" fill="#dcdcdc"/><path d="M-7.2,-1.2 C-6,-3.4 -1,-3.8 3.2,-3.7 L3.4,-1.0 L-0.8,-0.4 L-1.0,3.4 C-4,3.7 -6.6,2.6 -7.4,0.6 Z" fill="#3f9535"/></g>
<g transform="translate(114.5 308.3) rotate(-90) scale(1.08)"><path d="M-8.3,0.3 C-7.5,-1.2 -5.5,-2.6 -2.5,-3.2 C0.5,-3.8 3.5,-3.6 5.5,-2.8 C7.2,-2.2 8.4,-0.8 8.3,1.2 C8.2,2.8 6.5,3.4 4.5,3.2 C2,3.4 -1,3.5 -3.5,3 C-5.5,2.6 -7,1.8 -8.3,0.3 Z" fill="#dcdcdc"/><path d="M-4.3,3.4 L-3.5,-1.2 C-2.5,-1.9 -1,-1.5 -0.6,-0.5 L0.5,-0.3 C2,-0.5 2.7,0.5 2.4,1.6 L-0.8,2.3 L-1.5,3.6 Z" fill="#7c9fdc"/></g>
<g transform="translate(164.0 308.3) rotate(-90) scale(1.08)"><path d="M-8.3,0.3 C-7.5,-1.2 -5.5,-2.6 -2.5,-3.2 C0.5,-3.8 3.5,-3.6 5.5,-2.8 C7.2,-2.2 8.4,-0.8 8.3,1.2 C8.2,2.8 6.5,3.4 4.5,3.2 C2,3.4 -1,3.5 -3.5,3 C-5.5,2.6 -7,1.8 -8.3,0.3 Z" fill="#dcdcdc"/><ellipse cx="0.5" cy="0.3" rx="2.3" ry="2.8" fill="#c9a526"/></g>
<g transform="translate(208.7 308.3) rotate(-90) scale(1.08)"><path d="M-8.3,0.3 C-7.5,-1.2 -5.5,-2.6 -2.5,-3.2 C0.5,-3.8 3.5,-3.6 5.5,-2.8 C7.2,-2.2 8.4,-0.8 8.3,1.2 C8.2,2.8 6.5,3.4 4.5,3.2 C2,3.4 -1,3.5 -3.5,3 C-5.5,2.6 -7,1.8 -8.3,0.3 Z" fill="#dcdcdc"/><ellipse cx="-1" cy="1" rx="1.2" ry="1.5" fill="#d24b55"/></g>
<g transform="translate(238.5 308.3) rotate(-90) scale(1.08)"><path d="M-8.3,0.3 C-7.5,-1.2 -5.5,-2.6 -2.5,-3.2 C0.5,-3.8 3.5,-3.6 5.5,-2.8 C7.2,-2.2 8.4,-0.8 8.3,1.2 C8.2,2.8 6.5,3.4 4.5,3.2 C2,3.4 -1,3.5 -3.5,3 C-5.5,2.6 -7,1.8 -8.3,0.3 Z" fill="#dcdcdc"/><ellipse cx="-0.3" cy="0.8" rx="3.0" ry="2.9" fill="#2b6e78"/></g>
<g transform="translate(259.0 308.3) rotate(-90) scale(1.08)"><path d="M-8.3,0.3 C-7.5,-1.2 -5.5,-2.6 -2.5,-3.2 C0.5,-3.8 3.5,-3.6 5.5,-2.8 C7.2,-2.2 8.4,-0.8 8.3,1.2 C8.2,2.8 6.5,3.4 4.5,3.2 C2,3.4 -1,3.5 -3.5,3 C-5.5,2.6 -7,1.8 -8.3,0.3 Z" fill="#dcdcdc"/><ellipse cx="1.5" cy="0.5" rx="2" ry="2.4" fill="#a88a28"/></g>
<g transform="translate(268.6 308.3) rotate(-90) scale(1.08)"><path d="M-8.3,0.3 C-7.5,-1.2 -5.5,-2.6 -2.5,-3.2 C0.5,-3.8 3.5,-3.6 5.5,-2.8 C7.2,-2.2 8.4,-0.8 8.3,1.2 C8.2,2.8 6.5,3.4 4.5,3.2 C2,3.4 -1,3.5 -3.5,3 C-5.5,2.6 -7,1.8 -8.3,0.3 Z" fill="#dcdcdc"/><ellipse cx="-3.5" cy="1.8" rx="2" ry="1.6" fill="#6e6e6e"/><ellipse cx="0.2" cy="-0.6" rx="1.2" ry="1.5" fill="#6e6e6e"/></g>
<rect x="279.60" y="275.68" width="52.70" height="41.62" fill="#cdebcb"/>
<rect x="332.30" y="275.68" width="36.89" height="41.62" fill="#ccd6ee"/>
<rect x="369.19" y="275.68" width="63.24" height="41.62" fill="#efebcd"/>
<rect x="432.43" y="275.68" width="26.35" height="41.62" fill="#efd1d5"/>
<rect x="458.78" y="275.68" width="31.62" height="41.62" fill="#c5dfdd"/>
<rect x="490.40" y="275.68" width="10.54" height="41.62" fill="#e1d3bf"/>
<rect x="500.94" y="275.68" width="10.54" height="41.62" fill="#dbe3e3"/>
<text x="284.24" y="276.68" font-size="6.2" text-anchor="end" fill="#000" transform="rotate(-90 284.24 276.68)">MO</text>
<text x="289.50" y="276.68" font-size="6.2" text-anchor="end" fill="#000" transform="rotate(-90 289.50 276.68)">DLO</text>
<text x="294.78" y="276.68" font-size="6.2" text-anchor="end" fill="#000" transform="rotate(-90 294.78 276.68)">VO</text>
<text x="300.05" y="276.68" font-size="6.2" text-anchor="end" fill="#000" transform="rotate(-90 300.05 276.68)">LO</text>
<text x="305.31" y="276.68" font-size="6.2" text-anchor="end" fill="#000" transform="rotate(-90 305.31 276.68)">IL</text>
<text x="310.59" y="276.68" font-size="6.2" text-anchor="end" fill="#000" transform="rotate(-90 310.59 276.68)">PrL</text>
<text x="315.86" y="276.68" font-size="6.2" text-anchor="end" fill="#000" transform="rotate(-90 315.86 276.68)">Cg1</text>
<text x="321.12" y="276.68" font-size="6.2" text-anchor="end" fill="#000" transform="rotate(-90 321.12 276.68)">Cg2</text>
<text x="326.40" y="276.68" font-size="6.2" text-anchor="end" fill="#000" transform="rotate(-90 326.40 276.68)">M1</text>
<text x="331.67" y="276.68" font-size="6.2" text-anchor="end" fill="#000" transform="rotate(-90 331.67 276.68)">M2</text>
<text x="336.94" y="276.68" font-size="6.2" text-anchor="end" fill="#000" transform="rotate(-90 336.94 276.68)">AcbCo</text>
<text x="342.21" y="276.68" font-size="6.2" text-anchor="end" fill="#000" transform="rotate(-90 342.21 276.68)">AcbSh</text>
<text x="347.48" y="276.68" font-size="6.2" text-anchor="end" fill="#000" transform="rotate(-90 347.48 276.68)">CPu</text>
<text x="352.75" y="276.68" font-size="6.2" text-anchor="end" fill="#000" transform="rotate(-90 352.75 276.68)">SNR</text>
<text x="358.01" y="276.68" font-size="6.2" text-anchor="end" fill="#000" transform="rotate(-90 358.01 276.68)">LSD</text>
<text x="363.29" y="276.68" font-size="6.2" text-anchor="end" fill="#000" transform="rotate(-90 363.29 276.68)">LSI</text>
<text x="368.56" y="276.68" font-size="6.2" text-anchor="end" fill="#000" transform="rotate(-90 368.56 276.68)">LSV</text>
<text x="373.83" y="276.68" font-size="6.2" text-anchor="end" fill="#000" transform="rotate(-90 373.83 276.68)">dGrDG</text>
<text x="379.10" y="276.68" font-size="6.2" text-anchor="end" fill="#000" transform="rotate(-90 379.10 276.68)">dMoDG</text>
<text x="384.37" y="276.68" font-size="6.2" text-anchor="end" fill="#000" transform="rotate(-90 384.37 276.68)">dPoDG</text>
<text x="389.63" y="276.68" font-size="6.2" text-anchor="end" fill="#000" transform="rotate(-90 389.63 276.68)">dCA1</text>
<text x="394.91" y="276.68" font-size="6.2" text-anchor="end" fill="#000" transform="rotate(-90 394.91 276.68)">dCA2</text>
<text x="400.18" y="276.68" font-size="6.2" text-anchor="end" fill="#000" transform="rotate(-90 400.18 276.68)">dCA3</text>
<text x="405.44" y="276.68" font-size="6.2" text-anchor="end" fill="#000" transform="rotate(-90 405.44 276.68)">vGrDG</text>
<text x="410.72" y="276.68" font-size="6.2" text-anchor="end" fill="#000" transform="rotate(-90 410.72 276.68)">vMoDG</text>
<text x="415.99" y="276.68" font-size="6.2" text-anchor="end" fill="#000" transform="rotate(-90 415.99 276.68)">vPoDG</text>
<text x="421.25" y="276.68" font-size="6.2" text-anchor="end" fill="#000" transform="rotate(-90 421.25 276.68)">vCA1</text>
<text x="426.52" y="276.68" font-size="6.2" text-anchor="end" fill="#000" transform="rotate(-90 426.52 276.68)">vCA2</text>
<text x="431.80" y="276.68" font-size="6.2" text-anchor="end" fill="#000" transform="rotate(-90 431.80 276.68)">vCA3</text>
<text x="437.06" y="276.68" font-size="6.2" text-anchor="end" fill="#000" transform="rotate(-90 437.06 276.68)">BMA</text>
<text x="442.34" y="276.68" font-size="6.2" text-anchor="end" fill="#000" transform="rotate(-90 442.34 276.68)">BLA</text>
<text x="447.61" y="276.68" font-size="6.2" text-anchor="end" fill="#000" transform="rotate(-90 447.61 276.68)">CeA</text>
<text x="452.88" y="276.68" font-size="6.2" text-anchor="end" fill="#000" transform="rotate(-90 452.88 276.68)">LA</text>
<text x="458.14" y="276.68" font-size="6.2" text-anchor="end" fill="#000" transform="rotate(-90 458.14 276.68)">BNST</text>
<text x="463.42" y="276.68" font-size="6.2" text-anchor="end" fill="#000" transform="rotate(-90 463.42 276.68)">PVT</text>
<text x="468.69" y="276.68" font-size="6.2" text-anchor="end" fill="#000" transform="rotate(-90 468.69 276.68)">PVN</text>
<text x="473.96" y="276.68" font-size="6.2" text-anchor="end" fill="#000" transform="rotate(-90 473.96 276.68)">Arc</text>
<text x="479.23" y="276.68" font-size="6.2" text-anchor="end" fill="#000" transform="rotate(-90 479.23 276.68)">DMH</text>
<text x="484.50" y="276.68" font-size="6.2" text-anchor="end" fill="#000" transform="rotate(-90 484.50 276.68)">VMH</text>
<text x="489.76" y="276.68" font-size="6.2" text-anchor="end" fill="#000" transform="rotate(-90 489.76 276.68)">LHA</text>
<text x="495.03" y="276.68" font-size="6.2" text-anchor="end" fill="#000" transform="rotate(-90 495.03 276.68)">PAG</text>
<text x="500.31" y="276.68" font-size="6.2" text-anchor="end" fill="#000" transform="rotate(-90 500.31 276.68)">VTA</text>
<text x="505.58" y="276.68" font-size="6.2" text-anchor="end" fill="#000" transform="rotate(-90 505.58 276.68)">LHb</text>
<text x="510.85" y="276.68" font-size="6.2" text-anchor="end" fill="#000" transform="rotate(-90 510.85 276.68)">Pir</text>
<g transform="translate(305.9 308.3) rotate(-90) scale(1.08)"><path d="M-8.3,0.3 C-7.5,-1.2 -5.5,-2.6 -2.5,-3.2 C0.5,-3.8 3.5,-3.6 5.5,-2.8 C7.2,-2.2 8.4,-0.8 8.3,1.2 C8.2,2.8 6.5,3.4 4.5,3.2 C2,3.4 -1,3.5 -3.5,3 C-5.5,2.6 -7,1.8 -8.3,0.3 Z" fill="#dcdcdc"/><path d="M-7.2,-1.2 C-6,-3.4 -1,-3.8 3.2,-3.7 L3.4,-1.0 L-0.8,-0.4 L-1.0,3.4 C-4,3.7 -6.6,2.6 -7.4,0.6 Z" fill="#3f9535"/></g>
<g transform="translate(351.6 308.3) rotate(-90) scale(1.08)"><path d="M-8.3,0.3 C-7.5,-1.2 -5.5,-2.6 -2.5,-3.2 C0.5,-3.8 3.5,-3.6 5.5,-2.8 C7.2,-2.2 8.4,-0.8 8.3,1.2 C8.2,2.8 6.5,3.4 4.5,3.2 C2,3.4 -1,3.5 -3.5,3 C-5.5,2.6 -7,1.8 -8.3,0.3 Z" fill="#dcdcdc"/><path d="M-4.3,3.4 L-3.5,-1.2 C-2.5,-1.9 -1,-1.5 -0.6,-0.5 L0.5,-0.3 C2,-0.5 2.7,0.5 2.4,1.6 L-0.8,2.3 L-1.5,3.6 Z" fill="#7c9fdc"/></g>
<g transform="translate(401.1 308.3) rotate(-90) scale(1.08)"><path d="M-8.3,0.3 C-7.5,-1.2 -5.5,-2.6 -2.5,-3.2 C0.5,-3.8 3.5,-3.6 5.5,-2.8 C7.2,-2.2 8.4,-0.8 8.3,1.2 C8.2,2.8 6.5,3.4 4.5,3.2 C2,3.4 -1,3.5 -3.5,3 C-5.5,2.6 -7,1.8 -8.3,0.3 Z" fill="#dcdcdc"/><ellipse cx="0.5" cy="0.3" rx="2.3" ry="2.8" fill="#c9a526"/></g>
<g transform="translate(445.8 308.3) rotate(-90) scale(1.08)"><path d="M-8.3,0.3 C-7.5,-1.2 -5.5,-2.6 -2.5,-3.2 C0.5,-3.8 3.5,-3.6 5.5,-2.8 C7.2,-2.2 8.4,-0.8 8.3,1.2 C8.2,2.8 6.5,3.4 4.5,3.2 C2,3.4 -1,3.5 -3.5,3 C-5.5,2.6 -7,1.8 -8.3,0.3 Z" fill="#dcdcdc"/><ellipse cx="-1" cy="1" rx="1.2" ry="1.5" fill="#d24b55"/></g>
<g transform="translate(475.6 308.3) rotate(-90) scale(1.08)"><path d="M-8.3,0.3 C-7.5,-1.2 -5.5,-2.6 -2.5,-3.2 C0.5,-3.8 3.5,-3.6 5.5,-2.8 C7.2,-2.2 8.4,-0.8 8.3,1.2 C8.2,2.8 6.5,3.4 4.5,3.2 C2,3.4 -1,3.5 -3.5,3 C-5.5,2.6 -7,1.8 -8.3,0.3 Z" fill="#dcdcdc"/><ellipse cx="-0.3" cy="0.8" rx="3.0" ry="2.9" fill="#2b6e78"/></g>
<g transform="translate(496.1 308.3) rotate(-90) scale(1.08)"><path d="M-8.3,0.3 C-7.5,-1.2 -5.5,-2.6 -2.5,-3.2 C0.5,-3.8 3.5,-3.6 5.5,-2.8 C7.2,-2.2 8.4,-0.8 8.3,1.2 C8.2,2.8 6.5,3.4 4.5,3.2 C2,3.4 -1,3.5 -3.5,3 C-5.5,2.6 -7,1.8 -8.3,0.3 Z" fill="#dcdcdc"/><ellipse cx="1.5" cy="0.5" rx="2" ry="2.4" fill="#a88a28"/></g>
<g transform="translate(505.7 308.3) rotate(-90) scale(1.08)"><path d="M-8.3,0.3 C-7.5,-1.2 -5.5,-2.6 -2.5,-3.2 C0.5,-3.8 3.5,-3.6 5.5,-2.8 C7.2,-2.2 8.4,-0.8 8.3,1.2 C8.2,2.8 6.5,3.4 4.5,3.2 C2,3.4 -1,3.5 -3.5,3 C-5.5,2.6 -7,1.8 -8.3,0.3 Z" fill="#dcdcdc"/><ellipse cx="-3.5" cy="1.8" rx="2" ry="1.6" fill="#6e6e6e"/><ellipse cx="0.2" cy="-0.6" rx="1.2" ry="1.5" fill="#6e6e6e"/></g>
<defs><linearGradient id="cb" x1="0" y1="0" x2="0" y2="1"><stop offset="0" stop-color="#9c1a21"/><stop offset="0.25" stop-color="#c3585d"/><stop offset="0.5" stop-color="#ffffff"/><stop offset="1" stop-color="#7f7f7f"/></linearGradient></defs>
<rect x="516.2" y="42.3" width="9.4" height="231.6" fill="url(#cb)" stroke="#9a9a9a" stroke-width="0.8"/>
<line x1="525.5" y1="42.30" x2="527.5" y2="42.30" stroke="#000" stroke-width="0.6"/>
<text x="531.00" y="44.90" font-size="7.4" font-weight="bold" fill="#111">1</text>
<line x1="525.5" y1="65.46" x2="527.5" y2="65.46" stroke="#000" stroke-width="0.6"/>
<text x="531.00" y="68.06" font-size="7.4" font-weight="bold" fill="#111">0.8</text>
<line x1="525.5" y1="88.62" x2="527.5" y2="88.62" stroke="#000" stroke-width="0.6"/>
<text x="531.00" y="91.22" font-size="7.4" font-weight="bold" fill="#111">0.6</text>
<line x1="525.5" y1="111.78" x2="527.5" y2="111.78" stroke="#000" stroke-width="0.6"/>
<text x="531.00" y="114.38" font-size="7.4" font-weight="bold" fill="#111">0.4</text>
<line x1="525.5" y1="134.94" x2="527.5" y2="134.94" stroke="#000" stroke-width="0.6"/>
<text x="531.00" y="137.54" font-size="7.4" font-weight="bold" fill="#111">0.2</text>
<line x1="525.5" y1="158.10" x2="527.5" y2="158.10" stroke="#000" stroke-width="0.6"/>
<text x="531.00" y="160.70" font-size="7.4" font-weight="bold" fill="#111">0</text>
<line x1="525.5" y1="181.26" x2="527.5" y2="181.26" stroke="#000" stroke-width="0.6"/>
<text x="529.30" y="183.86" font-size="7.4" font-weight="bold" fill="#111">−0.2</text>
<line x1="525.5" y1="204.42" x2="527.5" y2="204.42" stroke="#000" stroke-width="0.6"/>
<text x="529.30" y="207.02" font-size="7.4" font-weight="bold" fill="#111">−0.4</text>
<line x1="525.5" y1="227.58" x2="527.5" y2="227.58" stroke="#000" stroke-width="0.6"/>
<text x="529.30" y="230.18" font-size="7.4" font-weight="bold" fill="#111">−0.6</text>
<line x1="525.5" y1="250.74" x2="527.5" y2="250.74" stroke="#000" stroke-width="0.6"/>
<text x="529.30" y="253.34" font-size="7.4" font-weight="bold" fill="#111">−0.8</text>
<line x1="525.5" y1="273.90" x2="527.5" y2="273.90" stroke="#000" stroke-width="0.6"/>
<text x="529.30" y="276.50" font-size="7.4" font-weight="bold" fill="#111">−1</text>
<line x1="276.4" y1="27.5" x2="276.4" y2="959" stroke="#111" stroke-width="1.6" stroke-dasharray="4.4 4.5"/>
<text x="1.20" y="356.20" font-size="19.5" font-weight="bold" fill="#000">b</text>
<rect x="41" y="344.3" width="233.6" height="15.5" fill="#bcbdbf"/>
<rect x="278.3" y="344.3" width="233.4" height="15.5" fill="#bcbdbf"/>
<text x="157.70" y="356.70" font-size="13.8" font-weight="bold" text-anchor="middle" fill="#000">SED</text>
<text x="395.00" y="356.70" font-size="13.8" font-weight="bold" text-anchor="middle" fill="#000">RUN</text>
<line x1="139.8" y1="375.4" x2="139.3" y2="417.6" stroke="#c62a2f" stroke-width="2.2" stroke-opacity="0.92"/>
<line x1="139.8" y1="375.4" x2="142.3" y2="434.4" stroke="#c62a2f" stroke-width="2.2" stroke-opacity="0.92"/>
<line x1="139.8" y1="375.4" x2="130.5" y2="449.8" stroke="#c62a2f" stroke-width="2.2" stroke-opacity="0.92"/>
<line x1="139.8" y1="375.4" x2="153.9" y2="440.1" stroke="#c62a2f" stroke-width="2.2" stroke-opacity="0.92"/>
<line x1="139.8" y1="375.4" x2="139.3" y2="446.8" stroke="#c62a2f" stroke-width="2.2" stroke-opacity="0.92"/>
<line x1="139.8" y1="375.4" x2="146.0" y2="409.0" stroke="#c62a2f" stroke-width="2.2" stroke-opacity="0.92"/>
<line x1="139.8" y1="375.4" x2="152.2" y2="404.7" stroke="#c62a2f" stroke-width="2.2" stroke-opacity="0.92"/>
<line x1="149.7" y1="382.3" x2="139.3" y2="417.6" stroke="#c62a2f" stroke-width="2.2" stroke-opacity="0.92"/>
<line x1="149.7" y1="382.3" x2="142.3" y2="434.4" stroke="#c62a2f" stroke-width="2.2" stroke-opacity="0.92"/>
<line x1="149.7" y1="382.3" x2="130.5" y2="449.8" stroke="#c62a2f" stroke-width="2.2" stroke-opacity="0.92"/>
<line x1="149.7" y1="382.3" x2="153.9" y2="440.1" stroke="#c62a2f" stroke-width="2.2" stroke-opacity="0.92"/>
<line x1="149.7" y1="382.3" x2="139.3" y2="446.8" stroke="#c62a2f" stroke-width="2.2" stroke-opacity="0.92"/>
<line x1="149.7" y1="382.3" x2="146.0" y2="409.0" stroke="#c62a2f" stroke-width="2.2" stroke-opacity="0.92"/>
<line x1="149.7" y1="382.3" x2="152.2" y2="404.7" stroke="#c62a2f" stroke-width="2.2" stroke-opacity="0.92"/>
<line x1="160.9" y1="381.1" x2="139.3" y2="417.6" stroke="#c62a2f" stroke-width="2.2" stroke-opacity="0.92"/>
<line x1="160.9" y1="381.1" x2="142.3" y2="434.4" stroke="#c62a2f" stroke-width="2.2" stroke-opacity="0.92"/>
<line x1="160.9" y1="381.1" x2="130.5" y2="449.8" stroke="#c62a2f" stroke-width="2.2" stroke-opacity="0.92"/>
<line x1="160.9" y1="381.1" x2="153.9" y2="440.1" stroke="#c62a2f" stroke-width="2.2" stroke-opacity="0.92"/>
<line x1="160.9" y1="381.1" x2="139.3" y2="446.8" stroke="#c62a2f" stroke-width="2.2" stroke-opacity="0.92"/>
<line x1="160.9" y1="381.1" x2="146.0" y2="409.0" stroke="#c62a2f" stroke-width="2.2" stroke-opacity="0.92"/>
<line x1="160.9" y1="381.1" x2="152.2" y2="404.7" stroke="#c62a2f" stroke-width="2.2" stroke-opacity="0.92"/>
<line x1="160.9" y1="414.1" x2="139.3" y2="417.6" stroke="#c62a2f" stroke-width="2.4" stroke-opacity="0.92"/>
<line x1="160.9" y1="414.1" x2="142.3" y2="434.4" stroke="#c62a2f" stroke-width="2.4" stroke-opacity="0.92"/>
<line x1="160.9" y1="414.1" x2="130.5" y2="449.8" stroke="#c62a2f" stroke-width="2.4" stroke-opacity="0.92"/>
<line x1="160.9" y1="414.1" x2="119.9" y2="455.5" stroke="#c62a2f" stroke-width="2.4" stroke-opacity="0.92"/>
<line x1="160.9" y1="414.1" x2="126.1" y2="463.3" stroke="#c62a2f" stroke-width="2.4" stroke-opacity="0.92"/>
<line x1="160.9" y1="414.1" x2="139.3" y2="446.8" stroke="#c62a2f" stroke-width="2.4" stroke-opacity="0.92"/>
<line x1="152.2" y1="404.7" x2="142.3" y2="434.4" stroke="#c62a2f" stroke-width="2.2" stroke-opacity="0.92"/>
<line x1="152.2" y1="404.7" x2="130.5" y2="449.8" stroke="#c62a2f" stroke-width="2.2" stroke-opacity="0.92"/>
<line x1="152.2" y1="404.7" x2="119.9" y2="455.5" stroke="#c62a2f" stroke-width="2.2" stroke-opacity="0.92"/>
<line x1="152.2" y1="404.7" x2="126.1" y2="463.3" stroke="#c62a2f" stroke-width="2.2" stroke-opacity="0.92"/>
<line x1="152.2" y1="404.7" x2="153.9" y2="440.1" stroke="#c62a2f" stroke-width="2.2" stroke-opacity="0.92"/>
<line x1="152.2" y1="404.7" x2="139.3" y2="446.8" stroke="#c62a2f" stroke-width="2.2" stroke-opacity="0.92"/>
<line x1="146.0" y1="409.0" x2="142.3" y2="434.4" stroke="#c62a2f" stroke-width="2.2" stroke-opacity="0.92"/>
<line x1="146.0" y1="409.0" x2="130.5" y2="449.8" stroke="#c62a2f" stroke-width="2.2" stroke-opacity="0.92"/>
<line x1="146.0" y1="409.0" x2="119.9" y2="455.5" stroke="#c62a2f" stroke-width="2.2" stroke-opacity="0.92"/>
<line x1="146.0" y1="409.0" x2="126.1" y2="463.3" stroke="#c62a2f" stroke-width="2.2" stroke-opacity="0.92"/>
<line x1="146.0" y1="409.0" x2="153.9" y2="440.1" stroke="#c62a2f" stroke-width="2.2" stroke-opacity="0.92"/>
<line x1="146.0" y1="409.0" x2="139.3" y2="446.8" stroke="#c62a2f" stroke-width="2.2" stroke-opacity="0.92"/>
<line x1="139.3" y1="417.6" x2="142.3" y2="434.4" stroke="#c62a2f" stroke-width="2.2" stroke-opacity="0.92"/>
<line x1="139.3" y1="417.6" x2="130.5" y2="449.8" stroke="#c62a2f" stroke-width="2.2" stroke-opacity="0.92"/>
<line x1="139.3" y1="417.6" x2="119.9" y2="455.5" stroke="#c62a2f" stroke-width="2.2" stroke-opacity="0.92"/>
<line x1="139.3" y1="417.6" x2="126.1" y2="463.3" stroke="#c62a2f" stroke-width="2.2" stroke-opacity="0.92"/>
<line x1="139.3" y1="417.6" x2="153.9" y2="440.1" stroke="#c62a2f" stroke-width="2.2" stroke-opacity="0.92"/>
<line x1="139.3" y1="417.6" x2="139.3" y2="446.8" stroke="#c62a2f" stroke-width="2.2" stroke-opacity="0.92"/>
<line x1="169.6" y1="399.2" x2="160.9" y2="381.1" stroke="#c62a2f" stroke-width="1.0" stroke-opacity="0.92"/>
<line x1="169.6" y1="399.2" x2="160.9" y2="414.1" stroke="#c62a2f" stroke-width="1.5" stroke-opacity="0.92"/>
<line x1="142.3" y1="434.4" x2="119.9" y2="455.5" stroke="#c62a2f" stroke-width="2.5" stroke-opacity="0.92"/>
<line x1="142.3" y1="434.4" x2="126.1" y2="463.3" stroke="#c62a2f" stroke-width="2.5" stroke-opacity="0.92"/>
<line x1="153.9" y1="440.1" x2="130.5" y2="449.8" stroke="#c62a2f" stroke-width="2" stroke-opacity="0.92"/>
<line x1="153.9" y1="440.1" x2="199.3" y2="442.4" stroke="#c62a2f" stroke-width="2.0" stroke-opacity="0.92"/>
<line x1="199.3" y1="442.4" x2="235.8" y2="441.9" stroke="#c62a2f" stroke-width="1.3" stroke-opacity="0.92"/>
<line x1="235.8" y1="441.9" x2="261.9" y2="440.6" stroke="#c62a2f" stroke-width="0.8" stroke-opacity="0.92"/>
<line x1="126.1" y1="463.3" x2="105.2" y2="476.4" stroke="#c62a2f" stroke-width="3" stroke-opacity="0.92"/>
<line x1="119.9" y1="455.5" x2="105.2" y2="476.4" stroke="#c62a2f" stroke-width="3" stroke-opacity="0.92"/>
<line x1="119.9" y1="455.5" x2="118.5" y2="477.2" stroke="#c62a2f" stroke-width="2.5" stroke-opacity="0.92"/>
<line x1="126.1" y1="463.3" x2="118.5" y2="477.2" stroke="#c62a2f" stroke-width="2.5" stroke-opacity="0.92"/>
<line x1="130.5" y1="449.8" x2="100.5" y2="492.7" stroke="#c62a2f" stroke-width="2" stroke-opacity="0.92"/>
<line x1="126.1" y1="463.3" x2="95.0" y2="483.3" stroke="#c62a2f" stroke-width="2.5" stroke-opacity="0.92"/>
<line x1="105.2" y1="476.4" x2="84.8" y2="490.7" stroke="#c62a2f" stroke-width="2.5" stroke-opacity="0.92"/>
<line x1="105.2" y1="476.4" x2="77.4" y2="488.6" stroke="#c62a2f" stroke-width="2" stroke-opacity="0.92"/>
<line x1="100.5" y1="492.7" x2="77.4" y2="488.6" stroke="#c62a2f" stroke-width="2.5" stroke-opacity="0.92"/>
<line x1="100.5" y1="492.7" x2="84.8" y2="490.7" stroke="#c62a2f" stroke-width="2.5" stroke-opacity="0.92"/>
<line x1="95.0" y1="483.3" x2="77.4" y2="488.6" stroke="#c62a2f" stroke-width="2.5" stroke-opacity="0.92"/>
<line x1="95.0" y1="483.3" x2="84.8" y2="490.7" stroke="#c62a2f" stroke-width="2.5" stroke-opacity="0.92"/>
<line x1="95.0" y1="483.3" x2="86.2" y2="509.1" stroke="#c62a2f" stroke-width="3" stroke-opacity="0.92"/>
<line x1="84.8" y1="490.7" x2="86.2" y2="509.1" stroke="#c62a2f" stroke-width="3" stroke-opacity="0.92"/>
<line x1="77.4" y1="488.6" x2="86.2" y2="509.1" stroke="#c62a2f" stroke-width="3" stroke-opacity="0.92"/>
<line x1="100.5" y1="492.7" x2="86.2" y2="509.1" stroke="#c62a2f" stroke-width="3" stroke-opacity="0.92"/>
<line x1="118.5" y1="477.2" x2="100.5" y2="492.7" stroke="#c62a2f" stroke-width="1.2" stroke-opacity="0.92"/>
<line x1="118.5" y1="477.2" x2="86.2" y2="509.1" stroke="#c62a2f" stroke-width="1.0" stroke-opacity="0.92"/>
<line x1="122.4" y1="490.1" x2="100.5" y2="492.7" stroke="#c62a2f" stroke-width="1.2" stroke-opacity="0.92"/>
<line x1="122.4" y1="490.1" x2="105.2" y2="476.4" stroke="#c62a2f" stroke-width="1.0" stroke-opacity="0.92"/>
<line x1="52.1" y1="496.2" x2="77.4" y2="488.6" stroke="#c62a2f" stroke-width="3" stroke-opacity="0.92"/>
<line x1="52.1" y1="496.2" x2="75.0" y2="507.0" stroke="#c62a2f" stroke-width="0.8" stroke-opacity="0.92"/>
<line x1="75.0" y1="507.0" x2="64.3" y2="535.0" stroke="#c62a2f" stroke-width="0.9" stroke-opacity="0.92"/>
<line x1="80.7" y1="519.3" x2="64.3" y2="535.0" stroke="#c62a2f" stroke-width="1.5" stroke-opacity="0.92"/>
<line x1="86.2" y1="509.1" x2="80.7" y2="519.3" stroke="#c62a2f" stroke-width="2" stroke-opacity="0.92"/>
<line x1="86.2" y1="509.1" x2="92.3" y2="537.1" stroke="#c62a2f" stroke-width="2.5" stroke-opacity="0.92"/>
<line x1="80.7" y1="519.3" x2="92.3" y2="537.1" stroke="#c62a2f" stroke-width="2.5" stroke-opacity="0.92"/>
<line x1="75.0" y1="507.0" x2="84.8" y2="490.7" stroke="#c62a2f" stroke-width="2.5" stroke-opacity="0.92"/>
<line x1="122.4" y1="490.1" x2="135.9" y2="539.1" stroke="#c62a2f" stroke-width="3" stroke-opacity="0.92"/>
<line x1="122.4" y1="490.1" x2="118.5" y2="477.2" stroke="#c62a2f" stroke-width="2" stroke-opacity="0.92"/>
<line x1="92.3" y1="537.1" x2="83.8" y2="592.6" stroke="#c62a2f" stroke-width="0.7" stroke-opacity="0.92"/>
<line x1="122.4" y1="490.1" x2="92.3" y2="537.1" stroke="#c62a2f" stroke-width="0.7" stroke-opacity="0.92"/>
<line x1="86.2" y1="509.1" x2="75.0" y2="507.0" stroke="#c62a2f" stroke-width="2" stroke-opacity="0.92"/>
<circle cx="83.8" cy="592.6" r="7.8" fill="#d3efd0" stroke="#4ba54a" stroke-width="1.1"/>
<text x="83.80" y="594.40" font-size="5.2" text-anchor="middle" fill="#222">M1</text>
<circle cx="135.9" cy="539.1" r="7.8" fill="#f1ebc6" stroke="#d2b449" stroke-width="1.1"/>
<text x="135.90" y="540.90" font-size="4.6" text-anchor="middle" fill="#222">vMoDG</text>
<circle cx="92.3" cy="537.1" r="7.8" fill="#d3efd0" stroke="#4ba54a" stroke-width="1.1"/>
<text x="92.30" y="538.90" font-size="5.2" text-anchor="middle" fill="#222">M2</text>
<circle cx="64.3" cy="535.0" r="7.8" fill="#ccd7f1" stroke="#8ea4d8" stroke-width="1.1"/>
<text x="64.30" y="536.80" font-size="5.2" text-anchor="middle" fill="#222">LSV</text>
<circle cx="52.1" cy="496.2" r="7.8" fill="#d3efd0" stroke="#4ba54a" stroke-width="1.1"/>
<text x="52.10" y="498.00" font-size="5.2" text-anchor="middle" fill="#222">IL</text>
<circle cx="75.0" cy="507.0" r="7.8" fill="#ccd7f1" stroke="#8ea4d8" stroke-width="1.1"/>
<text x="75.00" y="508.80" font-size="4.6" text-anchor="middle" fill="#222">AcbCo</text>
<circle cx="80.7" cy="519.3" r="7.8" fill="#ccd7f1" stroke="#8ea4d8" stroke-width="1.1"/>
<text x="80.70" y="521.10" font-size="4.6" text-anchor="middle" fill="#222">AcbSh</text>
<circle cx="86.2" cy="509.1" r="7.8" fill="#d3efd0" stroke="#4ba54a" stroke-width="1.1"/>
<text x="86.20" y="510.90" font-size="5.2" text-anchor="middle" fill="#222">Cg1</text>
<circle cx="95.0" cy="483.3" r="7.8" fill="#d3efd0" stroke="#4ba54a" stroke-width="1.1"/>
<text x="95.00" y="485.10" font-size="5.2" text-anchor="middle" fill="#222">Cg2</text>
<circle cx="84.8" cy="490.7" r="7.8" fill="#d3efd0" stroke="#4ba54a" stroke-width="1.1"/>
<text x="84.80" y="492.50" font-size="5.2" text-anchor="middle" fill="#222">MO</text>
<circle cx="77.4" cy="488.6" r="7.8" fill="#d3efd0" stroke="#4ba54a" stroke-width="1.1"/>
<text x="77.40" y="490.40" font-size="5.2" text-anchor="middle" fill="#222">PrL</text>
<circle cx="100.5" cy="492.7" r="7.8" fill="#f1ebc6" stroke="#d2b449" stroke-width="1.1"/>
<text x="100.50" y="494.50" font-size="4.9" text-anchor="middle" fill="#222">vCA3</text>
<circle cx="122.4" cy="490.1" r="7.8" fill="#f1ebc6" stroke="#d2b449" stroke-width="1.1"/>
<text x="122.40" y="491.90" font-size="4.9" text-anchor="middle" fill="#222">vCA1</text>
<circle cx="118.5" cy="477.2" r="7.8" fill="#dde3e3" stroke="#9ea6a6" stroke-width="1.1"/>
<text x="118.50" y="479.00" font-size="5.2" text-anchor="middle" fill="#222">Pir</text>
<circle cx="105.2" cy="476.4" r="7.8" fill="#f1ebc6" stroke="#d2b449" stroke-width="1.1"/>
<text x="105.20" y="478.20" font-size="4.9" text-anchor="middle" fill="#222">vCA2</text>
<circle cx="119.9" cy="455.5" r="7.8" fill="#f1ebc6" stroke="#d2b449" stroke-width="1.1"/>
<text x="119.90" y="457.30" font-size="4.9" text-anchor="middle" fill="#222">dCA1</text>
<circle cx="126.1" cy="463.3" r="7.8" fill="#f1ebc6" stroke="#d2b449" stroke-width="1.1"/>
<text x="126.10" y="465.10" font-size="4.6" text-anchor="middle" fill="#222">dPoDG</text>
<circle cx="139.3" cy="446.8" r="7.8" fill="#ccd7f1" stroke="#8ea4d8" stroke-width="1.1"/>
<text x="139.30" y="448.60" font-size="5.2" text-anchor="middle" fill="#222">CPu</text>
<circle cx="130.5" cy="449.8" r="7.8" fill="#f1ebc6" stroke="#d2b449" stroke-width="1.1"/>
<text x="130.50" y="451.60" font-size="4.9" text-anchor="middle" fill="#222">dCA3</text>
<circle cx="142.3" cy="434.4" r="7.8" fill="#f2cfd3" stroke="#d48a92" stroke-width="1.1"/>
<text x="142.30" y="436.20" font-size="5.2" text-anchor="middle" fill="#222">BLA</text>
<circle cx="153.9" cy="440.1" r="7.8" fill="#f1ebc6" stroke="#d2b449" stroke-width="1.1"/>
<text x="153.90" y="441.90" font-size="4.6" text-anchor="middle" fill="#222">dMoDG</text>
<circle cx="160.9" cy="414.1" r="7.8" fill="#f2cfd3" stroke="#d48a92" stroke-width="1.1"/>
<text x="160.90" y="415.90" font-size="5.2" text-anchor="middle" fill="#222">CeA</text>
<circle cx="146.0" cy="409.0" r="7.8" fill="#f1ebc6" stroke="#d2b449" stroke-width="1.1"/>
<text x="146.00" y="410.80" font-size="4.6" text-anchor="middle" fill="#222">dGrDG</text>
<circle cx="139.3" cy="417.6" r="7.8" fill="#f1ebc6" stroke="#d2b449" stroke-width="1.1"/>
<text x="139.30" y="419.40" font-size="4.6" text-anchor="middle" fill="#222">vPoDG</text>
<circle cx="152.2" cy="404.7" r="7.8" fill="#f1ebc6" stroke="#d2b449" stroke-width="1.1"/>
<text x="152.20" y="406.50" font-size="4.6" text-anchor="middle" fill="#222">vGrDG</text>
<circle cx="169.6" cy="399.2" r="7.8" fill="#f2cfd3" stroke="#d48a92" stroke-width="1.1"/>
<text x="169.60" y="401.00" font-size="5.2" text-anchor="middle" fill="#222">BMA</text>
<circle cx="139.8" cy="375.4" r="7.8" fill="#f2cfd3" stroke="#d48a92" stroke-width="1.1"/>
<text x="139.80" y="377.20" font-size="4.9" text-anchor="middle" fill="#222">BNST</text>
<circle cx="160.9" cy="381.1" r="7.8" fill="#b9dcd9" stroke="#2d7b82" stroke-width="1.1"/>
<text x="160.90" y="382.90" font-size="5.2" text-anchor="middle" fill="#222">LHA</text>
<circle cx="149.7" cy="382.3" r="7.8" fill="#b9dcd9" stroke="#2d7b82" stroke-width="1.1"/>
<text x="149.70" y="384.10" font-size="5.2" text-anchor="middle" fill="#222">PVT</text>
<circle cx="199.3" cy="442.4" r="7.8" fill="#f2cfd3" stroke="#d48a92" stroke-width="1.1"/>
<text x="199.30" y="444.20" font-size="5.2" text-anchor="middle" fill="#222">LA</text>
<circle cx="235.8" cy="441.9" r="7.8" fill="#f1ebc6" stroke="#d2b449" stroke-width="1.1"/>
<text x="235.80" y="443.70" font-size="4.9" text-anchor="middle" fill="#222">dCA2</text>
<circle cx="261.9" cy="440.6" r="7.8" fill="#ccd7f1" stroke="#8ea4d8" stroke-width="1.1"/>
<text x="261.90" y="442.40" font-size="5.2" text-anchor="middle" fill="#222">SNR</text>
<line x1="404.7" y1="377.4" x2="374.4" y2="391.5" stroke="#c62a2f" stroke-width="2.5" stroke-opacity="0.92"/>
<line x1="374.4" y1="391.5" x2="341.0" y2="426.0" stroke="#c62a2f" stroke-width="0.8" stroke-opacity="0.92"/>
<line x1="327.7" y1="394.5" x2="341.0" y2="426.0" stroke="#c62a2f" stroke-width="2.2" stroke-opacity="0.92"/>
<line x1="341.0" y1="426.0" x2="328.5" y2="473.2" stroke="#c62a2f" stroke-width="1.8" stroke-opacity="0.92"/>
<line x1="341.0" y1="426.0" x2="347.8" y2="478.0" stroke="#c62a2f" stroke-width="0.7" stroke-opacity="0.92"/>
<line x1="341.0" y1="426.0" x2="374.4" y2="491.2" stroke="#c62a2f" stroke-width="0.6" stroke-opacity="0.92"/>
<line x1="364.3" y1="448.0" x2="366.8" y2="479.8" stroke="#c62a2f" stroke-width="2.0" stroke-opacity="0.92"/>
<line x1="364.3" y1="448.0" x2="347.8" y2="478.0" stroke="#c62a2f" stroke-width="0.7" stroke-opacity="0.92"/>
<line x1="304.2" y1="452.4" x2="328.5" y2="473.2" stroke="#c62a2f" stroke-width="2.8" stroke-opacity="0.92"/>
<line x1="304.2" y1="452.4" x2="335.7" y2="488.6" stroke="#c62a2f" stroke-width="0.6" stroke-opacity="0.92"/>
<line x1="474.9" y1="409.7" x2="490.9" y2="433.2" stroke="#c62a2f" stroke-width="2" stroke-opacity="0.92"/>
<line x1="490.9" y1="433.2" x2="501.5" y2="464.2" stroke="#c62a2f" stroke-width="2" stroke-opacity="0.92"/>
<line x1="501.5" y1="464.2" x2="492.8" y2="496.2" stroke="#c62a2f" stroke-width="2" stroke-opacity="0.92"/>
<line x1="492.8" y1="496.2" x2="456.0" y2="514.0" stroke="#c62a2f" stroke-width="2.5" stroke-opacity="0.92"/>
<line x1="328.5" y1="473.2" x2="289.7" y2="485.5" stroke="#c62a2f" stroke-width="2" stroke-opacity="0.92"/>
<line x1="328.5" y1="473.2" x2="347.8" y2="478.0" stroke="#c62a2f" stroke-width="2" stroke-opacity="0.92"/>
<line x1="328.5" y1="473.2" x2="335.7" y2="488.6" stroke="#c62a2f" stroke-width="2" stroke-opacity="0.92"/>
<line x1="328.5" y1="473.2" x2="320.5" y2="508.3" stroke="#c62a2f" stroke-width="2" stroke-opacity="0.92"/>
<line x1="328.5" y1="473.2" x2="336.4" y2="508.3" stroke="#c62a2f" stroke-width="1.5" stroke-opacity="0.92"/>
<line x1="328.5" y1="473.2" x2="354.2" y2="500.7" stroke="#c62a2f" stroke-width="1.2" stroke-opacity="0.92"/>
<line x1="289.7" y1="485.5" x2="374.4" y2="491.2" stroke="#c62a2f" stroke-width="1.5" stroke-opacity="0.92"/>
<line x1="289.7" y1="485.5" x2="335.7" y2="488.6" stroke="#c62a2f" stroke-width="1.5" stroke-opacity="0.92"/>
<line x1="407.0" y1="474.2" x2="366.8" y2="479.8" stroke="#c62a2f" stroke-width="1.6" stroke-opacity="0.92"/>
<line x1="407.0" y1="474.2" x2="400.9" y2="504.5" stroke="#c62a2f" stroke-width="1.5" stroke-opacity="0.92"/>
<line x1="407.0" y1="474.2" x2="374.4" y2="491.2" stroke="#c62a2f" stroke-width="0.6" stroke-opacity="0.92"/>
<line x1="400.9" y1="504.5" x2="445.3" y2="495.0" stroke="#c62a2f" stroke-width="0.8" stroke-opacity="0.92"/>
<line x1="400.9" y1="504.5" x2="456.0" y2="514.0" stroke="#c62a2f" stroke-width="2" stroke-opacity="0.92"/>
<line x1="400.9" y1="504.5" x2="438.1" y2="539.4" stroke="#c62a2f" stroke-width="1.8" stroke-opacity="0.92"/>
<line x1="400.9" y1="504.5" x2="354.2" y2="500.7" stroke="#c62a2f" stroke-width="2" stroke-opacity="0.92"/>
<line x1="400.9" y1="504.5" x2="360.3" y2="514.0" stroke="#c62a2f" stroke-width="2" stroke-opacity="0.92"/>
<line x1="400.9" y1="504.5" x2="347.8" y2="478.0" stroke="#c62a2f" stroke-width="2" stroke-opacity="0.92"/>
<line x1="400.9" y1="504.5" x2="366.8" y2="479.8" stroke="#c62a2f" stroke-width="2" stroke-opacity="0.92"/>
<line x1="400.9" y1="504.5" x2="336.4" y2="508.3" stroke="#c62a2f" stroke-width="1.5" stroke-opacity="0.92"/>
<line x1="400.9" y1="504.5" x2="335.7" y2="488.6" stroke="#c62a2f" stroke-width="1.5" stroke-opacity="0.92"/>
<line x1="445.3" y1="495.0" x2="456.0" y2="514.0" stroke="#c62a2f" stroke-width="2" stroke-opacity="0.92"/>
<line x1="456.0" y1="514.0" x2="438.1" y2="539.4" stroke="#c62a2f" stroke-width="2" stroke-opacity="0.92"/>
<line x1="438.1" y1="539.4" x2="458.6" y2="564.5" stroke="#c62a2f" stroke-width="2.8" stroke-opacity="0.92"/>
<line x1="364.9" y1="567.9" x2="392.2" y2="569.0" stroke="#c62a2f" stroke-width="2.2" stroke-opacity="0.92"/>
<line x1="347.8" y1="478.0" x2="366.8" y2="479.8" stroke="#c62a2f" stroke-width="2.2" stroke-opacity="0.92"/>
<line x1="347.8" y1="478.0" x2="335.7" y2="488.6" stroke="#c62a2f" stroke-width="2.2" stroke-opacity="0.92"/>
<line x1="347.8" y1="478.0" x2="374.4" y2="491.2" stroke="#c62a2f" stroke-width="2.2" stroke-opacity="0.92"/>
<line x1="347.8" y1="478.0" x2="354.2" y2="500.7" stroke="#c62a2f" stroke-width="2.2" stroke-opacity="0.92"/>
<line x1="347.8" y1="478.0" x2="320.5" y2="508.3" stroke="#c62a2f" stroke-width="2.2" stroke-opacity="0.92"/>
<line x1="347.8" y1="478.0" x2="336.4" y2="508.3" stroke="#c62a2f" stroke-width="2.2" stroke-opacity="0.92"/>
<line x1="347.8" y1="478.0" x2="360.3" y2="514.0" stroke="#c62a2f" stroke-width="2.2" stroke-opacity="0.92"/>
<line x1="366.8" y1="479.8" x2="335.7" y2="488.6" stroke="#c62a2f" stroke-width="2.2" stroke-opacity="0.92"/>
<line x1="366.8" y1="479.8" x2="374.4" y2="491.2" stroke="#c62a2f" stroke-width="2.2" stroke-opacity="0.92"/>
<line x1="366.8" y1="479.8" x2="354.2" y2="500.7" stroke="#c62a2f" stroke-width="2.2" stroke-opacity="0.92"/>
<line x1="366.8" y1="479.8" x2="320.5" y2="508.3" stroke="#c62a2f" stroke-width="2.2" stroke-opacity="0.92"/>
<line x1="366.8" y1="479.8" x2="336.4" y2="508.3" stroke="#c62a2f" stroke-width="2.2" stroke-opacity="0.92"/>
<line x1="366.8" y1="479.8" x2="360.3" y2="514.0" stroke="#c62a2f" stroke-width="2.2" stroke-opacity="0.92"/>
<line x1="335.7" y1="488.6" x2="374.4" y2="491.2" stroke="#c62a2f" stroke-width="2.2" stroke-opacity="0.92"/>
<line x1="335.7" y1="488.6" x2="354.2" y2="500.7" stroke="#c62a2f" stroke-width="2.2" stroke-opacity="0.92"/>
<line x1="335.7" y1="488.6" x2="320.5" y2="508.3" stroke="#c62a2f" stroke-width="2.2" stroke-opacity="0.92"/>
<line x1="335.7" y1="488.6" x2="336.4" y2="508.3" stroke="#c62a2f" stroke-width="2.2" stroke-opacity="0.92"/>
<line x1="335.7" y1="488.6" x2="360.3" y2="514.0" stroke="#c62a2f" stroke-width="2.2" stroke-opacity="0.92"/>
<line x1="374.4" y1="491.2" x2="354.2" y2="500.7" stroke="#c62a2f" stroke-width="2.2" stroke-opacity="0.92"/>
<line x1="374.4" y1="491.2" x2="320.5" y2="508.3" stroke="#c62a2f" stroke-width="2.2" stroke-opacity="0.92"/>
<line x1="374.4" y1="491.2" x2="336.4" y2="508.3" stroke="#c62a2f" stroke-width="2.2" stroke-opacity="0.92"/>
<line x1="374.4" y1="491.2" x2="360.3" y2="514.0" stroke="#c62a2f" stroke-width="2.2" stroke-opacity="0.92"/>
<line x1="354.2" y1="500.7" x2="320.5" y2="508.3" stroke="#c62a2f" stroke-width="2.2" stroke-opacity="0.92"/>
<line x1="354.2" y1="500.7" x2="336.4" y2="508.3" stroke="#c62a2f" stroke-width="2.2" stroke-opacity="0.92"/>
<line x1="354.2" y1="500.7" x2="360.3" y2="514.0" stroke="#c62a2f" stroke-width="2.2" stroke-opacity="0.92"/>
<line x1="320.5" y1="508.3" x2="336.4" y2="508.3" stroke="#c62a2f" stroke-width="2.2" stroke-opacity="0.92"/>
<line x1="320.5" y1="508.3" x2="360.3" y2="514.0" stroke="#c62a2f" stroke-width="2.2" stroke-opacity="0.92"/>
<line x1="336.4" y1="508.3" x2="360.3" y2="514.0" stroke="#c62a2f" stroke-width="2.2" stroke-opacity="0.92"/>
<circle cx="289.7" cy="485.5" r="7.8" fill="#ccd7f1" stroke="#8ea4d8" stroke-width="1.1"/>
<text x="289.70" y="487.30" font-size="5.2" text-anchor="middle" fill="#222">CPu</text>
<circle cx="304.2" cy="452.4" r="7.8" fill="#b9dcd9" stroke="#2d7b82" stroke-width="1.1"/>
<text x="304.20" y="454.20" font-size="5.2" text-anchor="middle" fill="#222">VMH</text>
<circle cx="327.7" cy="394.5" r="7.8" fill="#b9dcd9" stroke="#2d7b82" stroke-width="1.1"/>
<text x="327.70" y="396.30" font-size="5.2" text-anchor="middle" fill="#222">LHA</text>
<circle cx="341.0" cy="426.0" r="7.8" fill="#f2cfd3" stroke="#d48a92" stroke-width="1.1"/>
<text x="341.00" y="427.80" font-size="5.2" text-anchor="middle" fill="#222">LA</text>
<circle cx="374.4" cy="391.5" r="7.8" fill="#f2cfd3" stroke="#d48a92" stroke-width="1.1"/>
<text x="374.40" y="393.30" font-size="5.2" text-anchor="middle" fill="#222">BLA</text>
<circle cx="404.7" cy="377.4" r="7.8" fill="#f2cfd3" stroke="#d48a92" stroke-width="1.1"/>
<text x="404.70" y="379.20" font-size="5.2" text-anchor="middle" fill="#222">CeA</text>
<circle cx="364.3" cy="448.0" r="7.8" fill="#d3efd0" stroke="#4ba54a" stroke-width="1.1"/>
<text x="364.30" y="449.80" font-size="5.2" text-anchor="middle" fill="#222">IL</text>
<circle cx="328.5" cy="473.2" r="7.8" fill="#f2cfd3" stroke="#d48a92" stroke-width="1.1"/>
<text x="328.50" y="475.00" font-size="5.2" text-anchor="middle" fill="#222">BMA</text>
<circle cx="407.0" cy="474.2" r="7.8" fill="#f2cfd3" stroke="#d48a92" stroke-width="1.1"/>
<text x="407.00" y="476.00" font-size="4.9" text-anchor="middle" fill="#222">BNST</text>
<circle cx="320.5" cy="508.3" r="7.8" fill="#d3efd0" stroke="#4ba54a" stroke-width="1.1"/>
<text x="320.50" y="510.10" font-size="5.2" text-anchor="middle" fill="#222">M2</text>
<circle cx="336.4" cy="508.3" r="7.8" fill="#d3efd0" stroke="#4ba54a" stroke-width="1.1"/>
<text x="336.40" y="510.10" font-size="5.2" text-anchor="middle" fill="#222">M1</text>
<circle cx="335.7" cy="488.6" r="7.8" fill="#d3efd0" stroke="#4ba54a" stroke-width="1.1"/>
<text x="335.70" y="490.40" font-size="5.2" text-anchor="middle" fill="#222">Cg2</text>
<circle cx="347.8" cy="478.0" r="7.8" fill="#d3efd0" stroke="#4ba54a" stroke-width="1.1"/>
<text x="347.80" y="479.80" font-size="5.2" text-anchor="middle" fill="#222">Cg1</text>
<circle cx="366.8" cy="479.8" r="7.8" fill="#d3efd0" stroke="#4ba54a" stroke-width="1.1"/>
<text x="366.80" y="481.60" font-size="5.2" text-anchor="middle" fill="#222">PrL</text>
<circle cx="354.2" cy="500.7" r="7.8" fill="#d3efd0" stroke="#4ba54a" stroke-width="1.1"/>
<text x="354.20" y="502.50" font-size="5.2" text-anchor="middle" fill="#222">VO</text>
<circle cx="360.3" cy="514.0" r="7.8" fill="#d3efd0" stroke="#4ba54a" stroke-width="1.1"/>
<text x="360.30" y="515.80" font-size="5.2" text-anchor="middle" fill="#222">LO</text>
<circle cx="374.4" cy="491.2" r="7.8" fill="#ccd7f1" stroke="#8ea4d8" stroke-width="1.1"/>
<text x="374.40" y="493.00" font-size="4.6" text-anchor="middle" fill="#222">AcbCo</text>
<circle cx="400.9" cy="504.5" r="7.8" fill="#ccd7f1" stroke="#8ea4d8" stroke-width="1.1"/>
<text x="400.90" y="506.30" font-size="4.6" text-anchor="middle" fill="#222">AcbSh</text>
<circle cx="445.3" cy="495.0" r="7.8" fill="#f1ebc6" stroke="#d2b449" stroke-width="1.1"/>
<text x="445.30" y="496.80" font-size="4.9" text-anchor="middle" fill="#222">dCA1</text>
<circle cx="456.0" cy="514.0" r="7.8" fill="#dde3e3" stroke="#9ea6a6" stroke-width="1.1"/>
<text x="456.00" y="515.80" font-size="5.2" text-anchor="middle" fill="#222">Pir</text>
<circle cx="438.1" cy="539.4" r="7.8" fill="#d3efd0" stroke="#4ba54a" stroke-width="1.1"/>
<text x="438.10" y="541.20" font-size="5.2" text-anchor="middle" fill="#222">MO</text>
<circle cx="458.6" cy="564.5" r="7.8" fill="#b9dcd9" stroke="#2d7b82" stroke-width="1.1"/>
<text x="458.60" y="566.30" font-size="5.2" text-anchor="middle" fill="#222">Arc</text>
<circle cx="474.9" cy="409.7" r="7.8" fill="#f1ebc6" stroke="#d2b449" stroke-width="1.1"/>
<text x="474.90" y="411.50" font-size="4.9" text-anchor="middle" fill="#222">vCA3</text>
<circle cx="490.9" cy="433.2" r="7.8" fill="#f1ebc6" stroke="#d2b449" stroke-width="1.1"/>
<text x="490.90" y="435.00" font-size="4.9" text-anchor="middle" fill="#222">vCA1</text>
<circle cx="501.5" cy="464.2" r="7.8" fill="#f1ebc6" stroke="#d2b449" stroke-width="1.1"/>
<text x="501.50" y="466.00" font-size="4.6" text-anchor="middle" fill="#222">vGrDG</text>
<circle cx="492.8" cy="496.2" r="7.8" fill="#f1ebc6" stroke="#d2b449" stroke-width="1.1"/>
<text x="492.80" y="498.00" font-size="4.6" text-anchor="middle" fill="#222">vPoDG</text>
<circle cx="364.9" cy="567.9" r="7.8" fill="#f1ebc6" stroke="#d2b449" stroke-width="1.1"/>
<text x="364.90" y="569.70" font-size="4.6" text-anchor="middle" fill="#222">dMoDG</text>
<circle cx="392.2" cy="569.0" r="7.8" fill="#f1ebc6" stroke="#d2b449" stroke-width="1.1"/>
<text x="392.20" y="570.80" font-size="4.6" text-anchor="middle" fill="#222">dGrDG</text>
<text x="148.60" y="560.80" font-size="8.5" font-weight="bold" fill="#000">Anatomical brain regions</text>
<rect x="149.6" y="568.9" width="6" height="5.4" fill="#d3efd0" stroke="#4ba54a" stroke-width="0.8"/>
<text x="163.90" y="574.60" font-size="8.5" fill="#111">Cortex</text>
<rect x="149.6" y="581.1" width="6" height="5.4" fill="#ccd7f1" stroke="#8ea4d8" stroke-width="0.8"/>
<text x="163.90" y="586.80" font-size="8.5" fill="#111">Basal ganglia &amp; septum</text>
<rect x="149.6" y="593.3" width="6" height="5.4" fill="#f1ebc6" stroke="#d2b449" stroke-width="0.8"/>
<text x="163.90" y="599.00" font-size="8.5" fill="#111">Hippocampus</text>
<rect x="149.6" y="605.5" width="6" height="5.4" fill="#f2cfd3" stroke="#d48a92" stroke-width="0.8"/>
<text x="163.90" y="611.20" font-size="8.5" fill="#111">Extended amygdala</text>
<rect x="149.6" y="617.7" width="6" height="5.4" fill="#b9dcd9" stroke="#2d7b82" stroke-width="0.8"/>
<text x="163.90" y="623.40" font-size="8.5" fill="#111">Thalamus and hypothalamus</text>
<rect x="149.6" y="629.9" width="6" height="5.4" fill="#ddd0b8" stroke="#a08050" stroke-width="0.8"/>
<text x="163.90" y="635.60" font-size="8.5" fill="#111">Midbrain</text>
<rect x="149.6" y="642.1" width="6" height="5.4" fill="#dde3e3" stroke="#9ea6a6" stroke-width="0.8"/>
<text x="163.90" y="647.80" font-size="8.5" fill="#111">Other</text>
<text x="287.30" y="592.60" font-size="8.4" font-weight="bold" fill="#000">Correlation Type</text>
<rect x="288.3" y="601" width="6" height="5.2" fill="#c0272d" stroke="#333" stroke-width="0.7"/>
<rect x="288.3" y="613.7" width="6" height="5.2" fill="#b3b3b3" stroke="#333" stroke-width="0.7"/>
<text x="302.20" y="606.50" font-size="8.4" fill="#111">Positive Correlation</text>
<text x="302.20" y="619.20" font-size="8.4" fill="#111">Negative Correlation</text>
<text x="397.10" y="592.60" font-size="8.4" font-weight="bold" fill="#000">Correlation Strength</text>
<line x1="399" y1="599.8" x2="414" y2="599.8" stroke="#000" stroke-width="0.5"/>
<text x="421.30" y="602.70" font-size="8.4" fill="#111">0.75</text>
<line x1="399" y1="612.1" x2="414" y2="612.1" stroke="#000" stroke-width="0.9"/>
<text x="421.30" y="615.00" font-size="8.4" fill="#111">0.8</text>
<line x1="399" y1="625.1" x2="414" y2="625.1" stroke="#000" stroke-width="1.5"/>
<text x="421.30" y="628.00" font-size="8.4" fill="#111">0.86</text>
<line x1="399" y1="637.0" x2="414" y2="637.0" stroke="#000" stroke-width="2.2"/>
<text x="421.30" y="639.90" font-size="8.4" fill="#111">0.92</text>
<line x1="399" y1="648.9" x2="414" y2="648.9" stroke="#000" stroke-width="2.9"/>
<text x="421.30" y="651.80" font-size="8.4" fill="#111">0.97</text>
<text x="556.00" y="379.10" font-size="19.5" font-weight="bold" fill="#000">c</text>
<line x1="607.6" y1="382.5" x2="607.6" y2="488.7" stroke="#111" stroke-width="1.1"/>
<line x1="607.6" y1="488.7" x2="661" y2="488.7" stroke="#111" stroke-width="1.1"/>
<line x1="603.1" y1="488.70" x2="607.6" y2="488.70" stroke="#111" stroke-width="1"/>
<text x="601.20" y="491.90" font-size="9.0" font-weight="bold" text-anchor="end" fill="#111">0.00</text>
<line x1="603.1" y1="467.56" x2="607.6" y2="467.56" stroke="#111" stroke-width="1"/>
<text x="601.20" y="470.76" font-size="9.0" font-weight="bold" text-anchor="end" fill="#111">0.05</text>
<line x1="603.1" y1="446.42" x2="607.6" y2="446.42" stroke="#111" stroke-width="1"/>
<text x="601.20" y="449.62" font-size="9.0" font-weight="bold" text-anchor="end" fill="#111">0.10</text>
<line x1="603.1" y1="425.28" x2="607.6" y2="425.28" stroke="#111" stroke-width="1"/>
<text x="601.20" y="428.48" font-size="9.0" font-weight="bold" text-anchor="end" fill="#111">0.15</text>
<line x1="603.1" y1="404.14" x2="607.6" y2="404.14" stroke="#111" stroke-width="1"/>
<text x="601.20" y="407.34" font-size="9.0" font-weight="bold" text-anchor="end" fill="#111">0.20</text>
<line x1="603.1" y1="383.00" x2="607.6" y2="383.00" stroke="#111" stroke-width="1"/>
<text x="601.20" y="386.20" font-size="9.0" font-weight="bold" text-anchor="end" fill="#111">0.25</text>
<rect x="615.5" y="395.90" width="14.100000000000023" height="92.80" fill="#757575" stroke="#111" stroke-width="1"/>
<circle cx="622.55" cy="395.90" r="1.6" fill="#fff" stroke="#333" stroke-width="0.6"/>
<line x1="622.55" y1="488.7" x2="622.55" y2="491.7" stroke="#111" stroke-width="1"/>
<rect x="638.2" y="420.00" width="14.5" height="68.70" fill="#4a78c6" stroke="#111" stroke-width="1"/>
<circle cx="645.45" cy="420.00" r="1.6" fill="#fff" stroke="#333" stroke-width="0.6"/>
<line x1="645.45" y1="488.7" x2="645.45" y2="491.7" stroke="#111" stroke-width="1"/>
<text x="620.90" y="502.40" font-size="9.2" font-weight="bold" text-anchor="middle" fill="#111">SED</text>
<text x="646.50" y="502.40" font-size="9.2" font-weight="bold" text-anchor="middle" fill="#111">RUN</text>
<text x="578.80" y="434.00" font-size="9.7" font-weight="bold" text-anchor="middle" fill="#111" transform="rotate(-90 578.80 434.00)">Network density (kDEN)</text>
<text x="556.00" y="529.40" font-size="19.5" font-weight="bold" fill="#000">d</text>
<line x1="607.6" y1="528.2" x2="607.6" y2="635.0" stroke="#111" stroke-width="1.1"/>
<line x1="607.6" y1="635.0" x2="661" y2="635.0" stroke="#111" stroke-width="1.1"/>
<line x1="603.1" y1="635.00" x2="607.6" y2="635.00" stroke="#111" stroke-width="1"/>
<text x="601.20" y="638.20" font-size="9.0" font-weight="bold" text-anchor="end" fill="#111">0</text>
<line x1="603.1" y1="613.74" x2="607.6" y2="613.74" stroke="#111" stroke-width="1"/>
<text x="601.20" y="616.94" font-size="9.0" font-weight="bold" text-anchor="end" fill="#111">2</text>
<line x1="603.1" y1="592.48" x2="607.6" y2="592.48" stroke="#111" stroke-width="1"/>
<text x="601.20" y="595.68" font-size="9.0" font-weight="bold" text-anchor="end" fill="#111">4</text>
<line x1="603.1" y1="571.22" x2="607.6" y2="571.22" stroke="#111" stroke-width="1"/>
<text x="601.20" y="574.42" font-size="9.0" font-weight="bold" text-anchor="end" fill="#111">6</text>
<line x1="603.1" y1="549.96" x2="607.6" y2="549.96" stroke="#111" stroke-width="1"/>
<text x="601.20" y="553.16" font-size="9.0" font-weight="bold" text-anchor="end" fill="#111">8</text>
<line x1="603.1" y1="528.70" x2="607.6" y2="528.70" stroke="#111" stroke-width="1"/>
<text x="601.20" y="531.90" font-size="9.0" font-weight="bold" text-anchor="end" fill="#111">10</text>
<rect x="615.5" y="608.96" width="14.100000000000023" height="26.04" fill="#757575" stroke="#111" stroke-width="1"/>
<circle cx="622.55" cy="608.96" r="1.6" fill="#fff" stroke="#333" stroke-width="0.6"/>
<line x1="622.55" y1="635.0" x2="622.55" y2="638.0" stroke="#111" stroke-width="1"/>
<rect x="638.2" y="597.80" width="14.5" height="37.20" fill="#4a78c6" stroke="#111" stroke-width="1"/>
<circle cx="645.45" cy="597.80" r="1.6" fill="#fff" stroke="#333" stroke-width="0.6"/>
<line x1="645.45" y1="635.0" x2="645.45" y2="638.0" stroke="#111" stroke-width="1"/>
<text x="620.90" y="648.50" font-size="9.2" font-weight="bold" text-anchor="middle" fill="#111">SED</text>
<text x="646.50" y="648.50" font-size="9.2" font-weight="bold" text-anchor="middle" fill="#111">RUN</text>
<text x="578.80" y="585.00" font-size="9.7" font-weight="bold" text-anchor="middle" fill="#111" transform="rotate(-90 578.80 585.00)">Small world-like</text>
<text x="591.00" y="585.00" font-size="9.7" font-weight="bold" text-anchor="middle" fill="#111" transform="rotate(-90 591.00 585.00)">properties (σ)</text>
<text x="34.20" y="684.60" font-size="19.5" font-weight="bold" fill="#000">e</text>
<rect x="68.90" y="696.84" width="4.40" height="77.66" fill="#5e5e5e" stroke="#2a2a2a" stroke-width="0.6"/>
<text x="73.90" y="776.30" font-size="8.1" text-anchor="end" fill="#222" transform="rotate(-90 73.90 776.30)">BLA</text>
<rect x="75.15" y="696.84" width="4.40" height="77.66" fill="#5e5e5e" stroke="#2a2a2a" stroke-width="0.6"/>
<text x="80.15" y="776.30" font-size="8.1" text-anchor="end" fill="#222" transform="rotate(-90 80.15 776.30)">dCA1</text>
<rect x="81.40" y="696.84" width="4.40" height="77.66" fill="#5e5e5e" stroke="#2a2a2a" stroke-width="0.6"/>
<text x="86.40" y="776.30" font-size="8.1" text-anchor="end" fill="#222" transform="rotate(-90 86.40 776.30)">dPoDG</text>
<rect x="87.65" y="696.84" width="4.40" height="77.66" fill="#5e5e5e" stroke="#2a2a2a" stroke-width="0.6"/>
<text x="92.65" y="776.30" font-size="8.1" text-anchor="end" fill="#222" transform="rotate(-90 92.65 776.30)">vCA3</text>
<rect x="93.90" y="696.84" width="4.40" height="77.66" fill="#5e5e5e" stroke="#2a2a2a" stroke-width="0.6"/>
<text x="98.90" y="776.30" font-size="8.1" text-anchor="end" fill="#222" transform="rotate(-90 98.90 776.30)">vPoDG</text>
<rect x="100.15" y="703.90" width="4.40" height="70.60" fill="#5e5e5e" stroke="#2a2a2a" stroke-width="0.6"/>
<text x="105.15" y="776.30" font-size="8.1" text-anchor="end" fill="#222" transform="rotate(-90 105.15 776.30)">Cg2</text>
<rect x="106.40" y="703.90" width="4.40" height="70.60" fill="#5e5e5e" stroke="#2a2a2a" stroke-width="0.6"/>
<text x="111.40" y="776.30" font-size="8.1" text-anchor="end" fill="#222" transform="rotate(-90 111.40 776.30)">CPu</text>
<rect x="112.65" y="703.90" width="4.40" height="70.60" fill="#5e5e5e" stroke="#2a2a2a" stroke-width="0.6"/>
<text x="117.65" y="776.30" font-size="8.1" text-anchor="end" fill="#222" transform="rotate(-90 117.65 776.30)">dCA3</text>
<rect x="118.90" y="703.90" width="4.40" height="70.60" fill="#5e5e5e" stroke="#2a2a2a" stroke-width="0.6"/>
<text x="123.90" y="776.30" font-size="8.1" text-anchor="end" fill="#222" transform="rotate(-90 123.90 776.30)">dGrDG</text>
<rect x="125.15" y="703.90" width="4.40" height="70.60" fill="#5e5e5e" stroke="#2a2a2a" stroke-width="0.6"/>
<text x="130.15" y="776.30" font-size="8.1" text-anchor="end" fill="#222" transform="rotate(-90 130.15 776.30)">dMoDG</text>
<rect x="131.40" y="703.90" width="4.40" height="70.60" fill="#5e5e5e" stroke="#2a2a2a" stroke-width="0.6"/>
<text x="136.40" y="776.30" font-size="8.1" text-anchor="end" fill="#222" transform="rotate(-90 136.40 776.30)">vCA2</text>
<rect x="137.65" y="703.90" width="4.40" height="70.60" fill="#5e5e5e" stroke="#2a2a2a" stroke-width="0.6"/>
<text x="142.65" y="776.30" font-size="8.1" text-anchor="end" fill="#222" transform="rotate(-90 142.65 776.30)">vGrDG</text>
<rect x="143.90" y="710.96" width="4.40" height="63.54" fill="#5e5e5e" stroke="#2a2a2a" stroke-width="0.6"/>
<text x="148.90" y="776.30" font-size="8.1" text-anchor="end" fill="#222" transform="rotate(-90 148.90 776.30)">AcbCo</text>
<rect x="150.15" y="710.96" width="4.40" height="63.54" fill="#5e5e5e" stroke="#2a2a2a" stroke-width="0.6"/>
<text x="155.15" y="776.30" font-size="8.1" text-anchor="end" fill="#222" transform="rotate(-90 155.15 776.30)">Cg1</text>
<rect x="156.40" y="718.02" width="4.40" height="56.48" fill="#5e5e5e" stroke="#2a2a2a" stroke-width="0.6"/>
<text x="161.40" y="776.30" font-size="8.1" text-anchor="end" fill="#222" transform="rotate(-90 161.40 776.30)">AcbSh</text>
<rect x="162.65" y="718.02" width="4.40" height="56.48" fill="#5e5e5e" stroke="#2a2a2a" stroke-width="0.6"/>
<text x="167.65" y="776.30" font-size="8.1" text-anchor="end" fill="#222" transform="rotate(-90 167.65 776.30)">Pir</text>
<rect x="168.90" y="718.02" width="4.40" height="56.48" fill="#5e5e5e" stroke="#2a2a2a" stroke-width="0.6"/>
<text x="173.90" y="776.30" font-size="8.1" text-anchor="end" fill="#222" transform="rotate(-90 173.90 776.30)">PrL</text>
<rect x="175.15" y="718.02" width="4.40" height="56.48" fill="#5e5e5e" stroke="#2a2a2a" stroke-width="0.6"/>
<text x="180.15" y="776.30" font-size="8.1" text-anchor="end" fill="#222" transform="rotate(-90 180.15 776.30)">vCA1</text>
<rect x="181.40" y="725.08" width="4.40" height="49.42" fill="#5e5e5e" stroke="#2a2a2a" stroke-width="0.6"/>
<text x="186.40" y="776.30" font-size="8.1" text-anchor="end" fill="#222" transform="rotate(-90 186.40 776.30)">MO</text>
<rect x="187.65" y="739.20" width="4.40" height="35.30" fill="#5e5e5e" stroke="#2a2a2a" stroke-width="0.6"/>
<text x="192.65" y="776.30" font-size="8.1" text-anchor="end" fill="#222" transform="rotate(-90 192.65 776.30)">CeA</text>
<rect x="193.90" y="739.20" width="4.40" height="35.30" fill="#5e5e5e" stroke="#2a2a2a" stroke-width="0.6"/>
<text x="198.90" y="776.30" font-size="8.1" text-anchor="end" fill="#222" transform="rotate(-90 198.90 776.30)">M2</text>
<rect x="200.15" y="739.20" width="4.40" height="35.30" fill="#5e5e5e" stroke="#2a2a2a" stroke-width="0.6"/>
<text x="205.15" y="776.30" font-size="8.1" text-anchor="end" fill="#222" transform="rotate(-90 205.15 776.30)">PVT</text>
<rect x="206.40" y="746.26" width="4.40" height="28.24" fill="#5e5e5e" stroke="#2a2a2a" stroke-width="0.6"/>
<text x="211.40" y="776.30" font-size="8.1" text-anchor="end" fill="#222" transform="rotate(-90 211.40 776.30)">BNST</text>
<rect x="212.65" y="746.26" width="4.40" height="28.24" fill="#5e5e5e" stroke="#2a2a2a" stroke-width="0.6"/>
<text x="217.65" y="776.30" font-size="8.1" text-anchor="end" fill="#222" transform="rotate(-90 217.65 776.30)">LHA</text>
<rect x="218.90" y="753.32" width="4.40" height="21.18" fill="#5e5e5e" stroke="#2a2a2a" stroke-width="0.6"/>
<text x="223.90" y="776.30" font-size="8.1" text-anchor="end" fill="#222" transform="rotate(-90 223.90 776.30)">BMA</text>
<rect x="225.15" y="753.32" width="4.40" height="21.18" fill="#5e5e5e" stroke="#2a2a2a" stroke-width="0.6"/>
<text x="230.15" y="776.30" font-size="8.1" text-anchor="end" fill="#222" transform="rotate(-90 230.15 776.30)">LSV</text>
<rect x="231.40" y="760.38" width="4.40" height="14.12" fill="#5e5e5e" stroke="#2a2a2a" stroke-width="0.6"/>
<text x="236.40" y="776.30" font-size="8.1" text-anchor="end" fill="#222" transform="rotate(-90 236.40 776.30)">dCA2</text>
<rect x="237.65" y="760.38" width="4.40" height="14.12" fill="#5e5e5e" stroke="#2a2a2a" stroke-width="0.6"/>
<text x="242.65" y="776.30" font-size="8.1" text-anchor="end" fill="#222" transform="rotate(-90 242.65 776.30)">IL</text>
<rect x="243.90" y="760.38" width="4.40" height="14.12" fill="#5e5e5e" stroke="#2a2a2a" stroke-width="0.6"/>
<text x="248.90" y="776.30" font-size="8.1" text-anchor="end" fill="#222" transform="rotate(-90 248.90 776.30)">LA</text>
<rect x="250.15" y="767.44" width="4.40" height="7.06" fill="#5e5e5e" stroke="#2a2a2a" stroke-width="0.6"/>
<text x="255.15" y="776.30" font-size="8.1" text-anchor="end" fill="#222" transform="rotate(-90 255.15 776.30)">M1</text>
<rect x="256.40" y="767.44" width="4.40" height="7.06" fill="#5e5e5e" stroke="#2a2a2a" stroke-width="0.6"/>
<text x="261.40" y="776.30" font-size="8.1" text-anchor="end" fill="#222" transform="rotate(-90 261.40 776.30)">SNR</text>
<rect x="262.65" y="767.44" width="4.40" height="7.06" fill="#5e5e5e" stroke="#2a2a2a" stroke-width="0.6"/>
<text x="267.65" y="776.30" font-size="8.1" text-anchor="end" fill="#222" transform="rotate(-90 267.65 776.30)">vMoDG</text>
<text x="66.50" y="775.70" font-size="8.6" text-anchor="end" fill="#444">0</text>
<text x="66.50" y="754.34" font-size="8.6" text-anchor="end" fill="#444">3</text>
<text x="66.50" y="732.98" font-size="8.6" text-anchor="end" fill="#444">6</text>
<text x="66.50" y="711.62" font-size="8.6" text-anchor="end" fill="#444">9</text>
<text x="59.80" y="739.30" font-size="9.7" font-weight="bold" text-anchor="middle" fill="#111" transform="rotate(-90 59.80 739.30)">Degree</text>
<text x="282.80" y="684.40" font-size="19.5" font-weight="bold" fill="#000">f</text>
<rect x="306.35" y="698.65" width="5.20" height="75.35" fill="#4a78c6" stroke="#222" stroke-width="0.7"/>
<text x="311.75" y="775.80" font-size="8.1" text-anchor="end" fill="#222" transform="rotate(-90 311.75 775.80)">Cg1</text>
<rect x="313.53" y="705.50" width="5.20" height="68.50" fill="#4a78c6" stroke="#222" stroke-width="0.7"/>
<text x="318.93" y="775.80" font-size="8.1" text-anchor="end" fill="#222" transform="rotate(-90 318.93 775.80)">BMA</text>
<rect x="320.71" y="705.50" width="5.20" height="68.50" fill="#4a78c6" stroke="#222" stroke-width="0.7"/>
<text x="326.11" y="775.80" font-size="8.1" text-anchor="end" fill="#222" transform="rotate(-90 326.11 775.80)">Cg2</text>
<rect x="327.89" y="705.50" width="5.20" height="68.50" fill="#4a78c6" stroke="#222" stroke-width="0.7"/>
<text x="333.29" y="775.80" font-size="8.1" text-anchor="end" fill="#222" transform="rotate(-90 333.29 775.80)">PrL</text>
<rect x="335.07" y="712.35" width="5.20" height="61.65" fill="#4a78c6" stroke="#222" stroke-width="0.7"/>
<text x="340.47" y="775.80" font-size="8.1" text-anchor="end" fill="#222" transform="rotate(-90 340.47 775.80)">AcbSh</text>
<rect x="342.25" y="712.35" width="5.20" height="61.65" fill="#4a78c6" stroke="#222" stroke-width="0.7"/>
<text x="347.65" y="775.80" font-size="8.1" text-anchor="end" fill="#222" transform="rotate(-90 347.65 775.80)">VO</text>
<rect x="349.43" y="719.20" width="5.20" height="54.80" fill="#4a78c6" stroke="#222" stroke-width="0.7"/>
<text x="354.83" y="775.80" font-size="8.1" text-anchor="end" fill="#222" transform="rotate(-90 354.83 775.80)">AcbCo</text>
<rect x="356.61" y="719.20" width="5.20" height="54.80" fill="#4a78c6" stroke="#222" stroke-width="0.7"/>
<text x="362.01" y="775.80" font-size="8.1" text-anchor="end" fill="#222" transform="rotate(-90 362.01 775.80)">LO</text>
<rect x="363.79" y="726.05" width="5.20" height="47.95" fill="#4a78c6" stroke="#222" stroke-width="0.7"/>
<text x="369.19" y="775.80" font-size="8.1" text-anchor="end" fill="#222" transform="rotate(-90 369.19 775.80)">M1</text>
<rect x="370.97" y="732.90" width="5.20" height="41.10" fill="#4a78c6" stroke="#222" stroke-width="0.7"/>
<text x="376.37" y="775.80" font-size="8.1" text-anchor="end" fill="#222" transform="rotate(-90 376.37 775.80)">M2</text>
<rect x="378.15" y="746.60" width="5.20" height="27.40" fill="#4a78c6" stroke="#222" stroke-width="0.7"/>
<text x="383.55" y="775.80" font-size="8.1" text-anchor="end" fill="#222" transform="rotate(-90 383.55 775.80)">LA</text>
<rect x="385.33" y="746.60" width="5.20" height="27.40" fill="#4a78c6" stroke="#222" stroke-width="0.7"/>
<text x="390.73" y="775.80" font-size="8.1" text-anchor="end" fill="#222" transform="rotate(-90 390.73 775.80)">Pir</text>
<rect x="392.51" y="753.45" width="5.20" height="20.55" fill="#4a78c6" stroke="#222" stroke-width="0.7"/>
<text x="397.91" y="775.80" font-size="8.1" text-anchor="end" fill="#222" transform="rotate(-90 397.91 775.80)">BNST</text>
<rect x="399.69" y="753.45" width="5.20" height="20.55" fill="#4a78c6" stroke="#222" stroke-width="0.7"/>
<text x="405.09" y="775.80" font-size="8.1" text-anchor="end" fill="#222" transform="rotate(-90 405.09 775.80)">MO</text>
<rect x="406.87" y="760.30" width="5.20" height="13.70" fill="#4a78c6" stroke="#222" stroke-width="0.7"/>
<text x="412.27" y="775.80" font-size="8.1" text-anchor="end" fill="#222" transform="rotate(-90 412.27 775.80)">BLA</text>
<rect x="414.05" y="760.30" width="5.20" height="13.70" fill="#4a78c6" stroke="#222" stroke-width="0.7"/>
<text x="419.45" y="775.80" font-size="8.1" text-anchor="end" fill="#222" transform="rotate(-90 419.45 775.80)">CPu</text>
<rect x="421.23" y="760.30" width="5.20" height="13.70" fill="#4a78c6" stroke="#222" stroke-width="0.7"/>
<text x="426.63" y="775.80" font-size="8.1" text-anchor="end" fill="#222" transform="rotate(-90 426.63 775.80)">dCA1</text>
<rect x="428.41" y="760.30" width="5.20" height="13.70" fill="#4a78c6" stroke="#222" stroke-width="0.7"/>
<text x="433.81" y="775.80" font-size="8.1" text-anchor="end" fill="#222" transform="rotate(-90 433.81 775.80)">IL</text>
<rect x="435.59" y="760.30" width="5.20" height="13.70" fill="#4a78c6" stroke="#222" stroke-width="0.7"/>
<text x="440.99" y="775.80" font-size="8.1" text-anchor="end" fill="#222" transform="rotate(-90 440.99 775.80)">vCA1</text>
<rect x="442.77" y="760.30" width="5.20" height="13.70" fill="#4a78c6" stroke="#222" stroke-width="0.7"/>
<text x="448.17" y="775.80" font-size="8.1" text-anchor="end" fill="#222" transform="rotate(-90 448.17 775.80)">vGrDG</text>
<rect x="449.95" y="760.30" width="5.20" height="13.70" fill="#4a78c6" stroke="#222" stroke-width="0.7"/>
<text x="455.35" y="775.80" font-size="8.1" text-anchor="end" fill="#222" transform="rotate(-90 455.35 775.80)">VMH</text>
<rect x="457.13" y="760.30" width="5.20" height="13.70" fill="#4a78c6" stroke="#222" stroke-width="0.7"/>
<text x="462.53" y="775.80" font-size="8.1" text-anchor="end" fill="#222" transform="rotate(-90 462.53 775.80)">vPoDG</text>
<rect x="464.31" y="767.15" width="5.20" height="6.85" fill="#4a78c6" stroke="#222" stroke-width="0.7"/>
<text x="469.71" y="775.80" font-size="8.1" text-anchor="end" fill="#222" transform="rotate(-90 469.71 775.80)">Arc</text>
<rect x="471.49" y="767.15" width="5.20" height="6.85" fill="#4a78c6" stroke="#222" stroke-width="0.7"/>
<text x="476.89" y="775.80" font-size="8.1" text-anchor="end" fill="#222" transform="rotate(-90 476.89 775.80)">CeA</text>
<rect x="478.67" y="767.15" width="5.20" height="6.85" fill="#4a78c6" stroke="#222" stroke-width="0.7"/>
<text x="484.07" y="775.80" font-size="8.1" text-anchor="end" fill="#222" transform="rotate(-90 484.07 775.80)">dGrDG</text>
<rect x="485.85" y="767.15" width="5.20" height="6.85" fill="#4a78c6" stroke="#222" stroke-width="0.7"/>
<text x="491.25" y="775.80" font-size="8.1" text-anchor="end" fill="#222" transform="rotate(-90 491.25 775.80)">dMoDG</text>
<rect x="493.03" y="767.15" width="5.20" height="6.85" fill="#4a78c6" stroke="#222" stroke-width="0.7"/>
<text x="498.43" y="775.80" font-size="8.1" text-anchor="end" fill="#222" transform="rotate(-90 498.43 775.80)">LHA</text>
<rect x="500.21" y="767.15" width="5.20" height="6.85" fill="#4a78c6" stroke="#222" stroke-width="0.7"/>
<text x="505.61" y="775.80" font-size="8.1" text-anchor="end" fill="#222" transform="rotate(-90 505.61 775.80)">vCA3</text>
<text x="305.00" y="775.60" font-size="8.6" text-anchor="end" fill="#444">0</text>
<text x="305.00" y="755.05" font-size="8.6" text-anchor="end" fill="#444">3</text>
<text x="305.00" y="734.50" font-size="8.6" text-anchor="end" fill="#444">6</text>
<text x="305.00" y="713.95" font-size="8.6" text-anchor="end" fill="#444">9</text>
<text x="298.20" y="739.30" font-size="9.7" font-weight="bold" text-anchor="middle" fill="#111" transform="rotate(-90 298.20 739.30)">Degree</text>
<text x="34.60" y="816.00" font-size="19.5" font-weight="bold" fill="#000">g</text>
<rect x="68.80" y="828.69" width="4.40" height="68.61" fill="#5e5e5e" stroke="#2a2a2a" stroke-width="0.6"/>
<text x="73.80" y="899.10" font-size="8.1" text-anchor="end" fill="#222" transform="rotate(-90 73.80 899.10)">dMoDG</text>
<rect x="75.05" y="832.40" width="4.40" height="64.90" fill="#5e5e5e" stroke="#2a2a2a" stroke-width="0.6"/>
<text x="80.05" y="899.10" font-size="8.1" text-anchor="end" fill="#222" transform="rotate(-90 80.05 899.10)">dCA1</text>
<rect x="81.30" y="851.33" width="4.40" height="45.97" fill="#5e5e5e" stroke="#2a2a2a" stroke-width="0.6"/>
<text x="86.30" y="899.10" font-size="8.1" text-anchor="end" fill="#222" transform="rotate(-90 86.30 899.10)">Cg2</text>
<rect x="87.55" y="857.42" width="4.40" height="39.88" fill="#5e5e5e" stroke="#2a2a2a" stroke-width="0.6"/>
<text x="92.55" y="899.10" font-size="8.1" text-anchor="end" fill="#222" transform="rotate(-90 92.55 899.10)">Pir</text>
<rect x="93.80" y="859.44" width="4.40" height="37.86" fill="#5e5e5e" stroke="#2a2a2a" stroke-width="0.6"/>
<text x="98.80" y="899.10" font-size="8.1" text-anchor="end" fill="#222" transform="rotate(-90 98.80 899.10)">LA</text>
<rect x="100.05" y="862.42" width="4.40" height="34.88" fill="#5e5e5e" stroke="#2a2a2a" stroke-width="0.6"/>
<text x="105.05" y="899.10" font-size="8.1" text-anchor="end" fill="#222" transform="rotate(-90 105.05 899.10)">dCA3</text>
<rect x="106.30" y="867.56" width="4.40" height="29.74" fill="#5e5e5e" stroke="#2a2a2a" stroke-width="0.6"/>
<text x="111.30" y="899.10" font-size="8.1" text-anchor="end" fill="#222" transform="rotate(-90 111.30 899.10)">M2</text>
<rect x="112.55" y="867.56" width="4.40" height="29.74" fill="#5e5e5e" stroke="#2a2a2a" stroke-width="0.6"/>
<text x="117.55" y="899.10" font-size="8.1" text-anchor="end" fill="#222" transform="rotate(-90 117.55 899.10)">vCA1</text>
<rect x="118.80" y="872.49" width="4.40" height="24.81" fill="#5e5e5e" stroke="#2a2a2a" stroke-width="0.6"/>
<text x="123.80" y="899.10" font-size="8.1" text-anchor="end" fill="#222" transform="rotate(-90 123.80 899.10)">vPoDG</text>
<rect x="125.05" y="874.59" width="4.40" height="22.71" fill="#5e5e5e" stroke="#2a2a2a" stroke-width="0.6"/>
<text x="130.05" y="899.10" font-size="8.1" text-anchor="end" fill="#222" transform="rotate(-90 130.05 899.10)">vCA2</text>
<rect x="131.30" y="876.07" width="4.40" height="21.23" fill="#5e5e5e" stroke="#2a2a2a" stroke-width="0.6"/>
<text x="136.30" y="899.10" font-size="8.1" text-anchor="end" fill="#222" transform="rotate(-90 136.30 899.10)">dGrDG</text>
<rect x="137.55" y="878.57" width="4.40" height="18.73" fill="#5e5e5e" stroke="#2a2a2a" stroke-width="0.6"/>
<text x="142.55" y="899.10" font-size="8.1" text-anchor="end" fill="#222" transform="rotate(-90 142.55 899.10)">dCA2</text>
<rect x="143.80" y="881.41" width="4.40" height="15.89" fill="#5e5e5e" stroke="#2a2a2a" stroke-width="0.6"/>
<text x="148.80" y="899.10" font-size="8.1" text-anchor="end" fill="#222" transform="rotate(-90 148.80 899.10)">AcbSh</text>
<rect x="150.05" y="881.75" width="4.40" height="15.55" fill="#5e5e5e" stroke="#2a2a2a" stroke-width="0.6"/>
<text x="155.05" y="899.10" font-size="8.1" text-anchor="end" fill="#222" transform="rotate(-90 155.05 899.10)">AcbCo</text>
<rect x="156.30" y="882.09" width="4.40" height="15.21" fill="#5e5e5e" stroke="#2a2a2a" stroke-width="0.6"/>
<text x="161.30" y="899.10" font-size="8.1" text-anchor="end" fill="#222" transform="rotate(-90 161.30 899.10)">BLA</text>
<rect x="162.55" y="887.50" width="4.40" height="9.80" fill="#5e5e5e" stroke="#2a2a2a" stroke-width="0.6"/>
<text x="167.55" y="899.10" font-size="8.1" text-anchor="end" fill="#222" transform="rotate(-90 167.55 899.10)">vCA3</text>
<rect x="168.80" y="887.84" width="4.40" height="9.46" fill="#5e5e5e" stroke="#2a2a2a" stroke-width="0.6"/>
<text x="173.80" y="899.10" font-size="8.1" text-anchor="end" fill="#222" transform="rotate(-90 173.80 899.10)">vGrDG</text>
<rect x="175.05" y="889.53" width="4.40" height="7.77" fill="#5e5e5e" stroke="#2a2a2a" stroke-width="0.6"/>
<text x="180.05" y="899.10" font-size="8.1" text-anchor="end" fill="#222" transform="rotate(-90 180.05 899.10)">CPu</text>
<rect x="181.30" y="893.24" width="4.40" height="4.06" fill="#5e5e5e" stroke="#2a2a2a" stroke-width="0.6"/>
<text x="186.30" y="899.10" font-size="8.1" text-anchor="end" fill="#222" transform="rotate(-90 186.30 899.10)">Cg1</text>
<rect x="187.55" y="893.92" width="4.40" height="3.38" fill="#5e5e5e" stroke="#2a2a2a" stroke-width="0.6"/>
<text x="192.55" y="899.10" font-size="8.1" text-anchor="end" fill="#222" transform="rotate(-90 192.55 899.10)">dPoDG</text>
<rect x="193.80" y="893.92" width="4.40" height="3.38" fill="#5e5e5e" stroke="#2a2a2a" stroke-width="0.6"/>
<text x="198.80" y="899.10" font-size="8.1" text-anchor="end" fill="#222" transform="rotate(-90 198.80 899.10)">PrL</text>
<rect x="200.05" y="895.95" width="4.40" height="1.35" fill="#5e5e5e" stroke="#2a2a2a" stroke-width="0.6"/>
<text x="205.05" y="899.10" font-size="8.1" text-anchor="end" fill="#222" transform="rotate(-90 205.05 899.10)">BMA</text>
<rect x="206.30" y="896.29" width="4.40" height="1.01" fill="#5e5e5e" stroke="#2a2a2a" stroke-width="0.6"/>
<text x="211.30" y="899.10" font-size="8.1" text-anchor="end" fill="#222" transform="rotate(-90 211.30 899.10)">LHA</text>
<rect x="212.55" y="896.29" width="4.40" height="1.01" fill="#5e5e5e" stroke="#2a2a2a" stroke-width="0.6"/>
<text x="217.55" y="899.10" font-size="8.1" text-anchor="end" fill="#222" transform="rotate(-90 217.55 899.10)">PVT</text>
<rect x="218.80" y="896.62" width="4.40" height="0.68" fill="#5e5e5e" stroke="#2a2a2a" stroke-width="0.6"/>
<text x="223.80" y="899.10" font-size="8.1" text-anchor="end" fill="#222" transform="rotate(-90 223.80 899.10)">CeA</text>
<rect x="225.05" y="896.96" width="4.40" height="0.34" fill="#5e5e5e" stroke="#2a2a2a" stroke-width="0.6"/>
<text x="230.05" y="899.10" font-size="8.1" text-anchor="end" fill="#222" transform="rotate(-90 230.05 899.10)">BNST</text>
<line x1="231.30" y1="897.30" x2="235.70" y2="897.30" stroke="#888" stroke-width="0.5"/>
<text x="236.30" y="899.10" font-size="8.1" text-anchor="end" fill="#222" transform="rotate(-90 236.30 899.10)">IL</text>
<line x1="237.55" y1="897.30" x2="241.95" y2="897.30" stroke="#888" stroke-width="0.5"/>
<text x="242.55" y="899.10" font-size="8.1" text-anchor="end" fill="#222" transform="rotate(-90 242.55 899.10)">LSV</text>
<line x1="243.80" y1="897.30" x2="248.20" y2="897.30" stroke="#888" stroke-width="0.5"/>
<text x="248.80" y="899.10" font-size="8.1" text-anchor="end" fill="#222" transform="rotate(-90 248.80 899.10)">M1</text>
<line x1="250.05" y1="897.30" x2="254.45" y2="897.30" stroke="#888" stroke-width="0.5"/>
<text x="255.05" y="899.10" font-size="8.1" text-anchor="end" fill="#222" transform="rotate(-90 255.05 899.10)">MO</text>
<line x1="256.30" y1="897.30" x2="260.70" y2="897.30" stroke="#888" stroke-width="0.5"/>
<text x="261.30" y="899.10" font-size="8.1" text-anchor="end" fill="#222" transform="rotate(-90 261.30 899.10)">SNR</text>
<line x1="262.55" y1="897.30" x2="266.95" y2="897.30" stroke="#888" stroke-width="0.5"/>
<text x="267.55" y="899.10" font-size="8.1" text-anchor="end" fill="#222" transform="rotate(-90 267.55 899.10)">vMoDG</text>
<text x="67.80" y="900.20" font-size="8.4" text-anchor="end" fill="#444">0</text>
<text x="67.80" y="883.30" font-size="8.4" text-anchor="end" fill="#444">25</text>
<text x="67.80" y="866.40" font-size="8.4" text-anchor="end" fill="#444">50</text>
<text x="67.80" y="849.50" font-size="8.4" text-anchor="end" fill="#444">75</text>
<text x="67.80" y="832.60" font-size="8.4" text-anchor="end" fill="#444">100</text>
<text x="53.80" y="874.80" font-size="9.7" font-weight="bold" text-anchor="middle" fill="#111" transform="rotate(-90 53.80 874.80)">Betweenness Centrality</text>
<text x="280.00" y="816.10" font-size="19.5" font-weight="bold" fill="#000">h</text>
<rect x="306.95" y="834.89" width="5.20" height="63.11" fill="#4a78c6" stroke="#222" stroke-width="0.7"/>
<text x="312.35" y="899.80" font-size="8.1" text-anchor="end" fill="#222" transform="rotate(-90 312.35 899.80)">AcbSh</text>
<rect x="314.13" y="860.95" width="5.20" height="37.05" fill="#4a78c6" stroke="#222" stroke-width="0.7"/>
<text x="319.53" y="899.80" font-size="8.1" text-anchor="end" fill="#222" transform="rotate(-90 319.53 899.80)">Cg1</text>
<rect x="321.31" y="861.91" width="5.20" height="36.09" fill="#4a78c6" stroke="#222" stroke-width="0.7"/>
<text x="326.71" y="899.80" font-size="8.1" text-anchor="end" fill="#222" transform="rotate(-90 326.71 899.80)">Pir</text>
<rect x="328.49" y="868.04" width="5.20" height="29.96" fill="#4a78c6" stroke="#222" stroke-width="0.7"/>
<text x="333.89" y="899.80" font-size="8.1" text-anchor="end" fill="#222" transform="rotate(-90 333.89 899.80)">LA</text>
<rect x="335.67" y="868.94" width="5.20" height="29.06" fill="#4a78c6" stroke="#222" stroke-width="0.7"/>
<text x="341.07" y="899.80" font-size="8.1" text-anchor="end" fill="#222" transform="rotate(-90 341.07 899.80)">vPoDG</text>
<rect x="342.85" y="878.02" width="5.20" height="19.98" fill="#4a78c6" stroke="#222" stroke-width="0.7"/>
<text x="348.25" y="899.80" font-size="8.1" text-anchor="end" fill="#222" transform="rotate(-90 348.25 899.80)">vGrDG</text>
<rect x="350.03" y="883.02" width="5.20" height="14.98" fill="#4a78c6" stroke="#222" stroke-width="0.7"/>
<text x="355.43" y="899.80" font-size="8.1" text-anchor="end" fill="#222" transform="rotate(-90 355.43 899.80)">BMA</text>
<rect x="357.21" y="883.93" width="5.20" height="14.07" fill="#4a78c6" stroke="#222" stroke-width="0.7"/>
<text x="362.61" y="899.80" font-size="8.1" text-anchor="end" fill="#222" transform="rotate(-90 362.61 899.80)">AcbCo</text>
<rect x="364.39" y="887.56" width="5.20" height="10.44" fill="#4a78c6" stroke="#222" stroke-width="0.7"/>
<text x="369.79" y="899.80" font-size="8.1" text-anchor="end" fill="#222" transform="rotate(-90 369.79 899.80)">BLA</text>
<rect x="371.57" y="887.56" width="5.20" height="10.44" fill="#4a78c6" stroke="#222" stroke-width="0.7"/>
<text x="376.97" y="899.80" font-size="8.1" text-anchor="end" fill="#222" transform="rotate(-90 376.97 899.80)">MO</text>
<rect x="378.75" y="887.56" width="5.20" height="10.44" fill="#4a78c6" stroke="#222" stroke-width="0.7"/>
<text x="384.15" y="899.80" font-size="8.1" text-anchor="end" fill="#222" transform="rotate(-90 384.15 899.80)">vCA1</text>
<rect x="385.93" y="888.92" width="5.20" height="9.08" fill="#4a78c6" stroke="#222" stroke-width="0.7"/>
<text x="391.33" y="899.80" font-size="8.1" text-anchor="end" fill="#222" transform="rotate(-90 391.33 899.80)">PrL</text>
<rect x="393.11" y="889.37" width="5.20" height="8.63" fill="#4a78c6" stroke="#222" stroke-width="0.7"/>
<text x="398.51" y="899.80" font-size="8.1" text-anchor="end" fill="#222" transform="rotate(-90 398.51 899.80)">Cg2</text>
<rect x="400.29" y="897.55" width="5.20" height="0.45" fill="#4a78c6" stroke="#222" stroke-width="0.7"/>
<text x="405.69" y="899.80" font-size="8.1" text-anchor="end" fill="#222" transform="rotate(-90 405.69 899.80)">LO</text>
<line x1="407.47" y1="898.00" x2="412.67" y2="898.00" stroke="#888" stroke-width="0.5"/>
<text x="412.87" y="899.80" font-size="8.1" text-anchor="end" fill="#222" transform="rotate(-90 412.87 899.80)">M1</text>
<line x1="414.65" y1="898.00" x2="419.85" y2="898.00" stroke="#888" stroke-width="0.5"/>
<text x="420.05" y="899.80" font-size="8.1" text-anchor="end" fill="#222" transform="rotate(-90 420.05 899.80)">M2</text>
<line x1="421.83" y1="898.00" x2="427.03" y2="898.00" stroke="#888" stroke-width="0.5"/>
<text x="427.23" y="899.80" font-size="8.1" text-anchor="end" fill="#222" transform="rotate(-90 427.23 899.80)">Arc</text>
<line x1="429.01" y1="898.00" x2="434.21" y2="898.00" stroke="#888" stroke-width="0.5"/>
<text x="434.41" y="899.80" font-size="8.1" text-anchor="end" fill="#222" transform="rotate(-90 434.41 899.80)">BNST</text>
<line x1="436.19" y1="898.00" x2="441.39" y2="898.00" stroke="#888" stroke-width="0.5"/>
<text x="441.59" y="899.80" font-size="8.1" text-anchor="end" fill="#222" transform="rotate(-90 441.59 899.80)">CeA</text>
<line x1="443.37" y1="898.00" x2="448.57" y2="898.00" stroke="#888" stroke-width="0.5"/>
<text x="448.77" y="899.80" font-size="8.1" text-anchor="end" fill="#222" transform="rotate(-90 448.77 899.80)">CPu</text>
<line x1="450.55" y1="898.00" x2="455.75" y2="898.00" stroke="#888" stroke-width="0.5"/>
<text x="455.95" y="899.80" font-size="8.1" text-anchor="end" fill="#222" transform="rotate(-90 455.95 899.80)">dCA1</text>
<line x1="457.73" y1="898.00" x2="462.93" y2="898.00" stroke="#888" stroke-width="0.5"/>
<text x="463.13" y="899.80" font-size="8.1" text-anchor="end" fill="#222" transform="rotate(-90 463.13 899.80)">dGrDG</text>
<line x1="464.91" y1="898.00" x2="470.11" y2="898.00" stroke="#888" stroke-width="0.5"/>
<text x="470.31" y="899.80" font-size="8.1" text-anchor="end" fill="#222" transform="rotate(-90 470.31 899.80)">dMoDG</text>
<line x1="472.09" y1="898.00" x2="477.29" y2="898.00" stroke="#888" stroke-width="0.5"/>
<text x="477.49" y="899.80" font-size="8.1" text-anchor="end" fill="#222" transform="rotate(-90 477.49 899.80)">IL</text>
<line x1="479.27" y1="898.00" x2="484.47" y2="898.00" stroke="#888" stroke-width="0.5"/>
<text x="484.67" y="899.80" font-size="8.1" text-anchor="end" fill="#222" transform="rotate(-90 484.67 899.80)">LHA</text>
<line x1="486.45" y1="898.00" x2="491.65" y2="898.00" stroke="#888" stroke-width="0.5"/>
<text x="491.85" y="899.80" font-size="8.1" text-anchor="end" fill="#222" transform="rotate(-90 491.85 899.80)">vCA3</text>
<line x1="493.63" y1="898.00" x2="498.83" y2="898.00" stroke="#888" stroke-width="0.5"/>
<text x="499.03" y="899.80" font-size="8.1" text-anchor="end" fill="#222" transform="rotate(-90 499.03 899.80)">VMH</text>
<line x1="500.81" y1="898.00" x2="506.01" y2="898.00" stroke="#888" stroke-width="0.5"/>
<text x="506.21" y="899.80" font-size="8.1" text-anchor="end" fill="#222" transform="rotate(-90 506.21 899.80)">VO</text>
<text x="306.30" y="900.90" font-size="8.4" text-anchor="end" fill="#444">0</text>
<text x="306.30" y="878.20" font-size="8.4" text-anchor="end" fill="#444">50</text>
<text x="306.30" y="855.50" font-size="8.4" text-anchor="end" fill="#444">100</text>
<text x="306.30" y="832.80" font-size="8.4" text-anchor="end" fill="#444">150</text>
<text x="291.30" y="875.20" font-size="9.7" font-weight="bold" text-anchor="middle" fill="#111" transform="rotate(-90 291.30 875.20)">Betweenness Centrality</text>
<text x="515.50" y="684.00" font-size="19.5" font-weight="bold" fill="#000">i</text>
<line x1="540" y1="675.5" x2="540" y2="775" stroke="#111" stroke-width="1.1"/>
<line x1="540" y1="774.8" x2="681" y2="774.8" stroke="#111" stroke-width="1.1"/>
<text x="538.60" y="773.80" font-size="9.6" font-weight="bold" text-anchor="end" fill="#111">0</text>
<text x="538.60" y="750.95" font-size="9.6" font-weight="bold" text-anchor="end" fill="#111">1</text>
<text x="538.60" y="728.10" font-size="9.6" font-weight="bold" text-anchor="end" fill="#111">2</text>
<text x="538.60" y="705.25" font-size="9.6" font-weight="bold" text-anchor="end" fill="#111">3</text>
<text x="538.60" y="682.40" font-size="9.6" font-weight="bold" text-anchor="end" fill="#111">4</text>
<line x1="549.7" y1="774.8" x2="549.7" y2="777.5" stroke="#111" stroke-width="1"/>
<text x="549.70" y="784.60" font-size="8.6" font-weight="bold" text-anchor="middle" fill="#111">−2</text>
<line x1="580.0" y1="774.8" x2="580.0" y2="777.5" stroke="#111" stroke-width="1"/>
<text x="580.00" y="784.60" font-size="8.6" font-weight="bold" text-anchor="middle" fill="#111">−1</text>
<line x1="610.3" y1="774.8" x2="610.3" y2="777.5" stroke="#111" stroke-width="1"/>
<text x="610.30" y="784.60" font-size="8.6" font-weight="bold" text-anchor="middle" fill="#111">0</text>
<line x1="640.6" y1="774.8" x2="640.6" y2="777.5" stroke="#111" stroke-width="1"/>
<text x="640.60" y="784.60" font-size="8.6" font-weight="bold" text-anchor="middle" fill="#111">1</text>
<line x1="670.9" y1="774.8" x2="670.9" y2="777.5" stroke="#111" stroke-width="1"/>
<text x="670.90" y="784.60" font-size="8.6" font-weight="bold" text-anchor="middle" fill="#111">2</text>
<text x="611.40" y="793.40" font-size="9.7" font-weight="bold" text-anchor="middle" fill="#111">Correlation Difference</text>
<text x="529.60" y="723.70" font-size="9.9" font-weight="bold" text-anchor="middle" fill="#111" transform="rotate(-90 529.60 723.70)">−log(p−value)</text>
<circle cx="608.9" cy="766.0" r="0.95" fill="#000"/>
<circle cx="596.2" cy="750.5" r="0.95" fill="#000"/>
<circle cx="606.4" cy="767.7" r="0.95" fill="#000"/>
<circle cx="581.5" cy="737.6" r="0.95" fill="#000"/>
<circle cx="609.6" cy="768.1" r="0.95" fill="#000"/>
<circle cx="593.2" cy="753.0" r="0.95" fill="#000"/>
<circle cx="601.4" cy="766.1" r="0.95" fill="#000"/>
<circle cx="604.7" cy="766.9" r="0.95" fill="#000"/>
<circle cx="590.1" cy="760.0" r="0.95" fill="#000"/>
<circle cx="585.7" cy="746.0" r="0.95" fill="#000"/>
<circle cx="607.7" cy="769.1" r="0.95" fill="#000"/>
<circle cx="609.3" cy="770.4" r="0.95" fill="#000"/>
<circle cx="609.1" cy="768.8" r="0.95" fill="#000"/>
<circle cx="598.9" cy="763.4" r="0.95" fill="#000"/>
<circle cx="604.2" cy="770.4" r="0.95" fill="#000"/>
<circle cx="602.7" cy="770.4" r="0.95" fill="#000"/>
<circle cx="588.8" cy="739.4" r="0.95" fill="#000"/>
<circle cx="576.9" cy="725.3" r="0.95" fill="#000"/>
<circle cx="605.3" cy="767.0" r="0.95" fill="#000"/>
<circle cx="603.3" cy="761.7" r="0.95" fill="#000"/>
<circle cx="594.5" cy="755.6" r="0.95" fill="#000"/>
<circle cx="601.3" cy="764.4" r="0.95" fill="#000"/>
<circle cx="595.4" cy="755.4" r="0.95" fill="#000"/>
<circle cx="598.4" cy="753.0" r="0.95" fill="#000"/>
<circle cx="582.0" cy="749.6" r="0.95" fill="#000"/>
<circle cx="595.9" cy="767.8" r="0.95" fill="#000"/>
<circle cx="581.5" cy="761.3" r="0.95" fill="#000"/>
<circle cx="606.0" cy="768.3" r="0.95" fill="#000"/>
<circle cx="585.2" cy="760.0" r="0.95" fill="#000"/>
<circle cx="594.1" cy="758.3" r="0.95" fill="#000"/>
<circle cx="607.9" cy="770.3" r="0.95" fill="#000"/>
<circle cx="600.6" cy="766.2" r="0.95" fill="#000"/>
<circle cx="609.1" cy="768.5" r="0.95" fill="#000"/>
<circle cx="582.4" cy="761.8" r="0.95" fill="#000"/>
<circle cx="587.2" cy="738.4" r="0.95" fill="#000"/>
<circle cx="603.0" cy="762.2" r="0.95" fill="#000"/>
<circle cx="603.2" cy="757.2" r="0.95" fill="#000"/>
<circle cx="607.1" cy="768.3" r="0.95" fill="#000"/>
<circle cx="606.8" cy="768.0" r="0.95" fill="#000"/>
<circle cx="607.6" cy="770.4" r="0.95" fill="#000"/>
<circle cx="579.1" cy="755.0" r="0.95" fill="#000"/>
<circle cx="587.4" cy="747.0" r="0.95" fill="#000"/>
<circle cx="592.1" cy="747.3" r="0.95" fill="#000"/>
<circle cx="600.4" cy="760.2" r="0.95" fill="#000"/>
<circle cx="592.9" cy="747.5" r="0.95" fill="#000"/>
<circle cx="607.8" cy="767.6" r="0.95" fill="#000"/>
<circle cx="601.4" cy="764.7" r="0.95" fill="#000"/>
<circle cx="579.1" cy="741.6" r="0.95" fill="#000"/>
<circle cx="598.2" cy="754.3" r="0.95" fill="#000"/>
<circle cx="588.7" cy="748.9" r="0.95" fill="#000"/>
<circle cx="594.3" cy="758.4" r="0.95" fill="#000"/>
<circle cx="584.1" cy="756.2" r="0.95" fill="#000"/>
<circle cx="594.2" cy="754.2" r="0.95" fill="#000"/>
<circle cx="608.2" cy="770.4" r="0.95" fill="#000"/>
<circle cx="597.1" cy="742.8" r="0.95" fill="#000"/>
<circle cx="591.4" cy="751.8" r="0.95" fill="#000"/>
<circle cx="594.6" cy="753.9" r="0.95" fill="#000"/>
<circle cx="607.6" cy="768.4" r="0.95" fill="#000"/>
<circle cx="594.3" cy="759.8" r="0.95" fill="#000"/>
<circle cx="590.5" cy="746.0" r="0.95" fill="#000"/>
<circle cx="588.0" cy="744.3" r="0.95" fill="#000"/>
<circle cx="596.0" cy="748.8" r="0.95" fill="#000"/>
<circle cx="610.1" cy="770.4" r="0.95" fill="#000"/>
<circle cx="589.2" cy="744.0" r="0.95" fill="#000"/>
<circle cx="599.1" cy="760.2" r="0.95" fill="#000"/>
<circle cx="590.8" cy="747.4" r="0.95" fill="#000"/>
<circle cx="604.2" cy="761.4" r="0.95" fill="#000"/>
<circle cx="604.7" cy="762.0" r="0.95" fill="#000"/>
<circle cx="599.7" cy="762.3" r="0.95" fill="#000"/>
<circle cx="591.6" cy="742.8" r="0.95" fill="#000"/>
<circle cx="590.9" cy="748.6" r="0.95" fill="#000"/>
<circle cx="609.1" cy="770.4" r="0.95" fill="#000"/>
<circle cx="605.6" cy="760.1" r="0.95" fill="#000"/>
<circle cx="609.6" cy="768.3" r="0.95" fill="#000"/>
<circle cx="588.8" cy="743.1" r="0.95" fill="#000"/>
<circle cx="599.6" cy="757.3" r="0.95" fill="#000"/>
<circle cx="595.9" cy="746.3" r="0.95" fill="#000"/>
<circle cx="582.7" cy="733.9" r="0.95" fill="#000"/>
<circle cx="603.6" cy="761.0" r="0.95" fill="#000"/>
<circle cx="591.8" cy="762.5" r="0.95" fill="#000"/>
<circle cx="600.0" cy="759.2" r="0.95" fill="#000"/>
<circle cx="596.8" cy="752.1" r="0.95" fill="#000"/>
<circle cx="600.3" cy="752.7" r="0.95" fill="#000"/>
<circle cx="605.2" cy="767.6" r="0.95" fill="#000"/>
<circle cx="605.4" cy="759.7" r="0.95" fill="#000"/>
<circle cx="593.1" cy="761.7" r="0.95" fill="#000"/>
<circle cx="605.8" cy="764.9" r="0.95" fill="#000"/>
<circle cx="603.3" cy="756.9" r="0.95" fill="#000"/>
<circle cx="608.4" cy="766.4" r="0.95" fill="#000"/>
<circle cx="596.6" cy="753.7" r="0.95" fill="#000"/>
<circle cx="581.6" cy="728.0" r="0.95" fill="#000"/>
<circle cx="609.5" cy="769.6" r="0.95" fill="#000"/>
<circle cx="581.1" cy="745.3" r="0.95" fill="#000"/>
<circle cx="594.2" cy="754.4" r="0.95" fill="#000"/>
<circle cx="577.3" cy="741.2" r="0.95" fill="#000"/>
<circle cx="605.9" cy="761.0" r="0.95" fill="#000"/>
<circle cx="598.7" cy="765.3" r="0.95" fill="#000"/>
<circle cx="597.9" cy="758.5" r="0.95" fill="#000"/>
<circle cx="604.4" cy="762.7" r="0.95" fill="#000"/>
<circle cx="591.9" cy="747.6" r="0.95" fill="#000"/>
<circle cx="603.9" cy="757.7" r="0.95" fill="#000"/>
<circle cx="578.8" cy="729.9" r="0.95" fill="#000"/>
<circle cx="598.4" cy="769.5" r="0.95" fill="#000"/>
<circle cx="584.4" cy="753.6" r="0.95" fill="#000"/>
<circle cx="608.1" cy="768.8" r="0.95" fill="#000"/>
<circle cx="610.0" cy="770.4" r="0.95" fill="#000"/>
<circle cx="603.4" cy="758.4" r="0.95" fill="#000"/>
<circle cx="594.8" cy="755.6" r="0.95" fill="#000"/>
<circle cx="591.0" cy="753.8" r="0.95" fill="#000"/>
<circle cx="604.0" cy="762.1" r="0.95" fill="#000"/>
<circle cx="599.2" cy="763.7" r="0.95" fill="#000"/>
<circle cx="607.5" cy="770.4" r="0.95" fill="#000"/>
<circle cx="604.2" cy="760.3" r="0.95" fill="#000"/>
<circle cx="606.5" cy="768.8" r="0.95" fill="#000"/>
<circle cx="601.4" cy="770.4" r="0.95" fill="#000"/>
<circle cx="600.6" cy="769.0" r="0.95" fill="#000"/>
<circle cx="589.0" cy="747.4" r="0.95" fill="#000"/>
<circle cx="607.1" cy="768.4" r="0.95" fill="#000"/>
<circle cx="608.7" cy="767.0" r="0.95" fill="#000"/>
<circle cx="594.6" cy="755.5" r="0.95" fill="#000"/>
<circle cx="584.5" cy="740.1" r="0.95" fill="#000"/>
<circle cx="605.2" cy="765.7" r="0.95" fill="#000"/>
<circle cx="604.8" cy="764.0" r="0.95" fill="#000"/>
<circle cx="579.2" cy="725.2" r="0.95" fill="#000"/>
<circle cx="595.0" cy="751.1" r="0.95" fill="#000"/>
<circle cx="605.0" cy="762.7" r="0.95" fill="#000"/>
<circle cx="597.3" cy="751.1" r="0.95" fill="#000"/>
<circle cx="598.0" cy="760.7" r="0.95" fill="#000"/>
<circle cx="605.4" cy="763.1" r="0.95" fill="#000"/>
<circle cx="596.6" cy="751.5" r="0.95" fill="#000"/>
<circle cx="607.2" cy="770.4" r="0.95" fill="#000"/>
<circle cx="602.0" cy="761.1" r="0.95" fill="#000"/>
<circle cx="595.9" cy="750.1" r="0.95" fill="#000"/>
<circle cx="607.3" cy="770.4" r="0.95" fill="#000"/>
<circle cx="603.6" cy="769.3" r="0.95" fill="#000"/>
<circle cx="597.0" cy="754.8" r="0.95" fill="#000"/>
<circle cx="586.7" cy="744.9" r="0.95" fill="#000"/>
<circle cx="589.8" cy="743.6" r="0.95" fill="#000"/>
<circle cx="599.3" cy="758.6" r="0.95" fill="#000"/>
<circle cx="587.5" cy="748.9" r="0.95" fill="#000"/>
<circle cx="595.9" cy="753.2" r="0.95" fill="#000"/>
<circle cx="582.4" cy="731.9" r="0.95" fill="#000"/>
<circle cx="596.8" cy="758.9" r="0.95" fill="#000"/>
<circle cx="588.8" cy="755.6" r="0.95" fill="#000"/>
<circle cx="609.0" cy="766.5" r="0.95" fill="#000"/>
<circle cx="590.4" cy="740.5" r="0.95" fill="#000"/>
<circle cx="593.7" cy="764.5" r="0.95" fill="#000"/>
<circle cx="604.4" cy="770.2" r="0.95" fill="#000"/>
<circle cx="608.3" cy="770.4" r="0.95" fill="#000"/>
<circle cx="594.2" cy="748.9" r="0.95" fill="#000"/>
<circle cx="601.9" cy="762.2" r="0.95" fill="#000"/>
<circle cx="609.6" cy="770.4" r="0.95" fill="#000"/>
<circle cx="604.5" cy="764.1" r="0.95" fill="#000"/>
<circle cx="603.3" cy="765.5" r="0.95" fill="#000"/>
<circle cx="581.5" cy="736.5" r="0.95" fill="#000"/>
<circle cx="589.2" cy="738.3" r="0.95" fill="#000"/>
<circle cx="597.0" cy="766.3" r="0.95" fill="#000"/>
<circle cx="591.3" cy="753.2" r="0.95" fill="#000"/>
<circle cx="609.1" cy="770.1" r="0.95" fill="#000"/>
<circle cx="608.3" cy="770.4" r="0.95" fill="#000"/>
<circle cx="608.7" cy="770.4" r="0.95" fill="#000"/>
<circle cx="610.1" cy="770.4" r="0.95" fill="#000"/>
<circle cx="597.9" cy="756.2" r="0.95" fill="#000"/>
<circle cx="584.1" cy="748.5" r="0.95" fill="#000"/>
<circle cx="609.8" cy="768.6" r="0.95" fill="#000"/>
<circle cx="610.3" cy="767.2" r="0.95" fill="#000"/>
<circle cx="610.0" cy="770.4" r="0.95" fill="#000"/>
<circle cx="600.1" cy="756.8" r="0.95" fill="#000"/>
<circle cx="601.0" cy="757.6" r="0.95" fill="#000"/>
<circle cx="594.8" cy="751.1" r="0.95" fill="#000"/>
<circle cx="594.9" cy="755.7" r="0.95" fill="#000"/>
<circle cx="610.2" cy="770.4" r="0.95" fill="#000"/>
<circle cx="601.1" cy="768.5" r="0.95" fill="#000"/>
<circle cx="601.9" cy="766.9" r="0.95" fill="#000"/>
<circle cx="588.7" cy="746.4" r="0.95" fill="#000"/>
<circle cx="603.4" cy="765.3" r="0.95" fill="#000"/>
<circle cx="589.6" cy="741.7" r="0.95" fill="#000"/>
<circle cx="594.5" cy="757.9" r="0.95" fill="#000"/>
<circle cx="587.7" cy="742.1" r="0.95" fill="#000"/>
<circle cx="605.6" cy="763.7" r="0.95" fill="#000"/>
<circle cx="604.0" cy="759.7" r="0.95" fill="#000"/>
<circle cx="605.9" cy="764.2" r="0.95" fill="#000"/>
<circle cx="596.7" cy="769.5" r="0.95" fill="#000"/>
<circle cx="603.6" cy="758.2" r="0.95" fill="#000"/>
<circle cx="584.9" cy="734.6" r="0.95" fill="#000"/>
<circle cx="600.0" cy="762.2" r="0.95" fill="#000"/>
<circle cx="609.6" cy="769.4" r="0.95" fill="#000"/>
<circle cx="595.5" cy="754.6" r="0.95" fill="#000"/>
<circle cx="603.6" cy="760.8" r="0.95" fill="#000"/>
<circle cx="598.9" cy="751.2" r="0.95" fill="#000"/>
<circle cx="581.4" cy="719.0" r="0.95" fill="#000"/>
<circle cx="590.0" cy="747.8" r="0.95" fill="#000"/>
<circle cx="582.1" cy="736.4" r="0.95" fill="#000"/>
<circle cx="601.9" cy="767.3" r="0.95" fill="#000"/>
<circle cx="586.3" cy="743.2" r="0.95" fill="#000"/>
<circle cx="600.8" cy="764.8" r="0.95" fill="#000"/>
<circle cx="606.3" cy="770.4" r="0.95" fill="#000"/>
<circle cx="599.6" cy="759.1" r="0.95" fill="#000"/>
<circle cx="608.0" cy="764.0" r="0.95" fill="#000"/>
<circle cx="593.0" cy="767.1" r="0.95" fill="#000"/>
<circle cx="603.4" cy="766.3" r="0.95" fill="#000"/>
<circle cx="606.0" cy="764.1" r="0.95" fill="#000"/>
<circle cx="601.2" cy="755.1" r="0.95" fill="#000"/>
<circle cx="589.8" cy="760.9" r="0.95" fill="#000"/>
<circle cx="609.3" cy="764.6" r="0.95" fill="#000"/>
<circle cx="604.1" cy="761.0" r="0.95" fill="#000"/>
<circle cx="609.5" cy="770.4" r="0.95" fill="#000"/>
<circle cx="586.3" cy="736.4" r="0.95" fill="#000"/>
<circle cx="606.6" cy="764.2" r="0.95" fill="#000"/>
<circle cx="590.4" cy="754.7" r="0.95" fill="#000"/>
<circle cx="596.6" cy="756.4" r="0.95" fill="#000"/>
<circle cx="594.2" cy="751.1" r="0.95" fill="#000"/>
<circle cx="605.3" cy="761.4" r="0.95" fill="#000"/>
<circle cx="595.8" cy="757.3" r="0.95" fill="#000"/>
<circle cx="603.0" cy="764.0" r="0.95" fill="#000"/>
<circle cx="606.8" cy="762.8" r="0.95" fill="#000"/>
<circle cx="586.2" cy="733.7" r="0.95" fill="#000"/>
<circle cx="604.6" cy="766.0" r="0.95" fill="#000"/>
<circle cx="596.6" cy="758.5" r="0.95" fill="#000"/>
<circle cx="606.7" cy="770.4" r="0.95" fill="#000"/>
<circle cx="603.9" cy="758.9" r="0.95" fill="#000"/>
<circle cx="594.7" cy="763.5" r="0.95" fill="#000"/>
<circle cx="607.8" cy="763.5" r="0.95" fill="#000"/>
<circle cx="588.3" cy="749.9" r="0.95" fill="#000"/>
<circle cx="603.1" cy="764.0" r="0.95" fill="#000"/>
<circle cx="596.2" cy="755.9" r="0.95" fill="#000"/>
<circle cx="605.8" cy="770.4" r="0.95" fill="#000"/>
<circle cx="601.5" cy="763.0" r="0.95" fill="#000"/>
<circle cx="597.3" cy="763.4" r="0.95" fill="#000"/>
<circle cx="596.6" cy="745.9" r="0.95" fill="#000"/>
<circle cx="605.9" cy="767.9" r="0.95" fill="#000"/>
<circle cx="602.7" cy="764.1" r="0.95" fill="#000"/>
<circle cx="598.4" cy="751.4" r="0.95" fill="#000"/>
<circle cx="594.5" cy="758.7" r="0.95" fill="#000"/>
<circle cx="600.2" cy="764.7" r="0.95" fill="#000"/>
<circle cx="606.7" cy="765.4" r="0.95" fill="#000"/>
<circle cx="588.5" cy="742.3" r="0.95" fill="#000"/>
<circle cx="609.8" cy="770.4" r="0.95" fill="#000"/>
<circle cx="609.4" cy="770.4" r="0.95" fill="#000"/>
<circle cx="608.8" cy="766.6" r="0.95" fill="#000"/>
<circle cx="607.2" cy="768.3" r="0.95" fill="#000"/>
<circle cx="598.9" cy="759.2" r="0.95" fill="#000"/>
<circle cx="608.6" cy="770.4" r="0.95" fill="#000"/>
<circle cx="602.6" cy="759.5" r="0.95" fill="#000"/>
<circle cx="585.1" cy="747.1" r="0.95" fill="#000"/>
<circle cx="592.6" cy="742.0" r="0.95" fill="#000"/>
<circle cx="601.1" cy="759.2" r="0.95" fill="#000"/>
<circle cx="604.3" cy="763.7" r="0.95" fill="#000"/>
<circle cx="605.9" cy="770.4" r="0.95" fill="#000"/>
<circle cx="606.4" cy="765.0" r="0.95" fill="#000"/>
<circle cx="588.7" cy="741.3" r="0.95" fill="#000"/>
<circle cx="600.2" cy="767.7" r="0.95" fill="#000"/>
<circle cx="603.2" cy="764.9" r="0.95" fill="#000"/>
<circle cx="602.3" cy="761.1" r="0.95" fill="#000"/>
<circle cx="591.0" cy="751.7" r="0.95" fill="#000"/>
<circle cx="606.9" cy="765.2" r="0.95" fill="#000"/>
<circle cx="609.6" cy="770.4" r="0.95" fill="#000"/>
<circle cx="599.8" cy="769.7" r="0.95" fill="#000"/>
<circle cx="596.2" cy="757.8" r="0.95" fill="#000"/>
<circle cx="591.3" cy="753.6" r="0.95" fill="#000"/>
<circle cx="582.5" cy="758.7" r="0.95" fill="#000"/>
<circle cx="605.3" cy="768.6" r="0.95" fill="#000"/>
<circle cx="599.2" cy="763.8" r="0.95" fill="#000"/>
<circle cx="590.7" cy="756.6" r="0.95" fill="#000"/>
<circle cx="584.3" cy="742.2" r="0.95" fill="#000"/>
<circle cx="601.0" cy="765.9" r="0.95" fill="#000"/>
<circle cx="593.7" cy="754.3" r="0.95" fill="#000"/>
<circle cx="603.8" cy="759.9" r="0.95" fill="#000"/>
<circle cx="592.9" cy="750.7" r="0.95" fill="#000"/>
<circle cx="600.3" cy="764.7" r="0.95" fill="#000"/>
<circle cx="578.6" cy="745.7" r="0.95" fill="#000"/>
<circle cx="592.6" cy="743.3" r="0.95" fill="#000"/>
<circle cx="606.8" cy="768.0" r="0.95" fill="#000"/>
<circle cx="603.3" cy="761.5" r="0.95" fill="#000"/>
<circle cx="593.7" cy="749.6" r="0.95" fill="#000"/>
<circle cx="598.2" cy="760.3" r="0.95" fill="#000"/>
<circle cx="594.3" cy="760.8" r="0.95" fill="#000"/>
<circle cx="590.4" cy="739.1" r="0.95" fill="#000"/>
<circle cx="582.4" cy="752.4" r="0.95" fill="#000"/>
<circle cx="605.0" cy="770.4" r="0.95" fill="#000"/>
<circle cx="595.1" cy="745.9" r="0.95" fill="#000"/>
<circle cx="582.9" cy="748.1" r="0.95" fill="#000"/>
<circle cx="586.8" cy="740.2" r="0.95" fill="#000"/>
<circle cx="603.0" cy="763.3" r="0.95" fill="#000"/>
<circle cx="604.4" cy="764.5" r="0.95" fill="#000"/>
<circle cx="607.5" cy="766.4" r="0.95" fill="#000"/>
<circle cx="586.8" cy="745.1" r="0.95" fill="#000"/>
<circle cx="594.9" cy="756.1" r="0.95" fill="#000"/>
<circle cx="602.7" cy="766.0" r="0.95" fill="#000"/>
<circle cx="585.4" cy="740.7" r="0.95" fill="#000"/>
<circle cx="602.5" cy="761.4" r="0.95" fill="#000"/>
<circle cx="590.8" cy="756.6" r="0.95" fill="#000"/>
<circle cx="600.5" cy="757.5" r="0.95" fill="#000"/>
<circle cx="590.2" cy="751.1" r="0.95" fill="#000"/>
<circle cx="610.1" cy="770.1" r="0.95" fill="#000"/>
<circle cx="603.6" cy="757.4" r="0.95" fill="#000"/>
<circle cx="599.9" cy="756.0" r="0.95" fill="#000"/>
<circle cx="606.8" cy="765.3" r="0.95" fill="#000"/>
<circle cx="602.9" cy="759.8" r="0.95" fill="#000"/>
<circle cx="608.5" cy="768.4" r="0.95" fill="#000"/>
<circle cx="603.2" cy="762.2" r="0.95" fill="#000"/>
<circle cx="605.0" cy="765.4" r="0.95" fill="#000"/>
<circle cx="593.9" cy="752.6" r="0.95" fill="#000"/>
<circle cx="590.5" cy="743.7" r="0.95" fill="#000"/>
<circle cx="595.7" cy="753.7" r="0.95" fill="#000"/>
<circle cx="607.5" cy="767.6" r="0.95" fill="#000"/>
<circle cx="599.9" cy="760.9" r="0.95" fill="#000"/>
<circle cx="596.0" cy="752.3" r="0.95" fill="#000"/>
<circle cx="599.5" cy="753.9" r="0.95" fill="#000"/>
<circle cx="605.9" cy="765.0" r="0.95" fill="#000"/>
<circle cx="587.2" cy="741.7" r="0.95" fill="#000"/>
<circle cx="606.1" cy="760.9" r="0.95" fill="#000"/>
<circle cx="587.6" cy="742.3" r="0.95" fill="#000"/>
<circle cx="610.3" cy="768.6" r="0.95" fill="#000"/>
<circle cx="601.9" cy="767.9" r="0.95" fill="#000"/>
<circle cx="606.5" cy="765.9" r="0.95" fill="#000"/>
<circle cx="593.8" cy="768.5" r="0.95" fill="#000"/>
<circle cx="609.2" cy="769.7" r="0.95" fill="#000"/>
<circle cx="603.8" cy="764.0" r="0.95" fill="#000"/>
<circle cx="608.3" cy="768.1" r="0.95" fill="#000"/>
<circle cx="589.5" cy="744.9" r="0.95" fill="#000"/>
<circle cx="602.1" cy="764.2" r="0.95" fill="#000"/>
<circle cx="593.3" cy="754.0" r="0.95" fill="#000"/>
<circle cx="599.1" cy="769.8" r="0.95" fill="#000"/>
<circle cx="606.6" cy="767.4" r="0.95" fill="#000"/>
<circle cx="603.3" cy="758.7" r="0.95" fill="#000"/>
<circle cx="604.2" cy="765.2" r="0.95" fill="#000"/>
<circle cx="602.3" cy="754.9" r="0.95" fill="#000"/>
<circle cx="599.0" cy="755.9" r="0.95" fill="#000"/>
<circle cx="598.8" cy="752.3" r="0.95" fill="#000"/>
<circle cx="601.8" cy="763.4" r="0.95" fill="#000"/>
<circle cx="608.7" cy="770.4" r="0.95" fill="#000"/>
<circle cx="600.4" cy="765.8" r="0.95" fill="#000"/>
<circle cx="597.5" cy="760.0" r="0.95" fill="#000"/>
<circle cx="600.9" cy="759.6" r="0.95" fill="#000"/>
<circle cx="607.1" cy="770.4" r="0.95" fill="#000"/>
<circle cx="609.2" cy="768.0" r="0.95" fill="#000"/>
<circle cx="606.5" cy="770.4" r="0.95" fill="#000"/>
<circle cx="606.6" cy="770.2" r="0.95" fill="#000"/>
<circle cx="601.6" cy="761.8" r="0.95" fill="#000"/>
<circle cx="609.5" cy="770.3" r="0.95" fill="#000"/>
<circle cx="585.3" cy="740.7" r="0.95" fill="#000"/>
<circle cx="607.3" cy="769.0" r="0.95" fill="#000"/>
<circle cx="607.9" cy="762.9" r="0.95" fill="#000"/>
<circle cx="590.8" cy="761.2" r="0.95" fill="#000"/>
<circle cx="598.8" cy="763.0" r="0.95" fill="#000"/>
<circle cx="590.7" cy="756.7" r="0.95" fill="#000"/>
<circle cx="603.0" cy="760.1" r="0.95" fill="#000"/>
<circle cx="596.5" cy="754.0" r="0.95" fill="#000"/>
<circle cx="603.4" cy="764.4" r="0.95" fill="#000"/>
<circle cx="603.7" cy="764.9" r="0.95" fill="#000"/>
<circle cx="591.1" cy="745.5" r="0.95" fill="#000"/>
<circle cx="610.0" cy="769.5" r="0.95" fill="#000"/>
<circle cx="597.8" cy="751.6" r="0.95" fill="#000"/>
<circle cx="608.3" cy="769.0" r="0.95" fill="#000"/>
<circle cx="605.3" cy="756.8" r="0.95" fill="#000"/>
<circle cx="606.7" cy="763.2" r="0.95" fill="#000"/>
<circle cx="587.2" cy="739.2" r="0.95" fill="#000"/>
<circle cx="589.1" cy="756.0" r="0.95" fill="#000"/>
<circle cx="600.8" cy="761.8" r="0.95" fill="#000"/>
<circle cx="607.6" cy="767.0" r="0.95" fill="#000"/>
<circle cx="606.9" cy="768.8" r="0.95" fill="#000"/>
<circle cx="589.1" cy="745.1" r="0.95" fill="#000"/>
<circle cx="605.3" cy="766.7" r="0.95" fill="#000"/>
<circle cx="599.8" cy="759.3" r="0.95" fill="#000"/>
<circle cx="600.3" cy="766.3" r="0.95" fill="#000"/>
<circle cx="594.2" cy="762.0" r="0.95" fill="#000"/>
<circle cx="600.6" cy="764.0" r="0.95" fill="#000"/>
<circle cx="597.2" cy="760.8" r="0.95" fill="#000"/>
<circle cx="588.2" cy="737.7" r="0.95" fill="#000"/>
<circle cx="587.2" cy="753.9" r="0.95" fill="#000"/>
<circle cx="605.2" cy="761.5" r="0.95" fill="#000"/>
<circle cx="586.5" cy="742.1" r="0.95" fill="#000"/>
<circle cx="597.9" cy="755.8" r="0.95" fill="#000"/>
<circle cx="604.5" cy="764.9" r="0.95" fill="#000"/>
<circle cx="586.9" cy="749.7" r="0.95" fill="#000"/>
<circle cx="590.9" cy="745.4" r="0.95" fill="#000"/>
<circle cx="602.0" cy="764.3" r="0.95" fill="#000"/>
<circle cx="580.7" cy="719.0" r="0.95" fill="#000"/>
<circle cx="602.1" cy="758.6" r="0.95" fill="#000"/>
<circle cx="601.1" cy="759.9" r="0.95" fill="#000"/>
<circle cx="592.5" cy="738.9" r="0.95" fill="#000"/>
<circle cx="605.7" cy="770.4" r="0.95" fill="#000"/>
<circle cx="589.5" cy="749.4" r="0.95" fill="#000"/>
<circle cx="593.3" cy="756.1" r="0.95" fill="#000"/>
<circle cx="578.2" cy="723.1" r="0.95" fill="#000"/>
<circle cx="579.9" cy="750.6" r="0.95" fill="#000"/>
<circle cx="584.3" cy="741.0" r="0.95" fill="#000"/>
<circle cx="578.2" cy="719.0" r="0.95" fill="#000"/>
<circle cx="601.1" cy="751.3" r="0.95" fill="#000"/>
<circle cx="607.6" cy="766.9" r="0.95" fill="#000"/>
<circle cx="608.1" cy="770.4" r="0.95" fill="#000"/>
<circle cx="588.8" cy="749.0" r="0.95" fill="#000"/>
<circle cx="586.1" cy="741.1" r="0.95" fill="#000"/>
<circle cx="607.7" cy="765.1" r="0.95" fill="#000"/>
<circle cx="596.3" cy="748.5" r="0.95" fill="#000"/>
<circle cx="610.0" cy="770.4" r="0.95" fill="#000"/>
<circle cx="600.1" cy="758.0" r="0.95" fill="#000"/>
<circle cx="605.1" cy="764.9" r="0.95" fill="#000"/>
<circle cx="595.6" cy="747.4" r="0.95" fill="#000"/>
<circle cx="597.6" cy="770.4" r="0.95" fill="#000"/>
<circle cx="579.6" cy="739.3" r="0.95" fill="#000"/>
<circle cx="604.0" cy="762.9" r="0.95" fill="#000"/>
<circle cx="603.9" cy="760.4" r="0.95" fill="#000"/>
<circle cx="591.6" cy="752.3" r="0.95" fill="#000"/>
<circle cx="591.4" cy="740.4" r="0.95" fill="#000"/>
<circle cx="606.6" cy="763.7" r="0.95" fill="#000"/>
<circle cx="589.5" cy="757.1" r="0.95" fill="#000"/>
<circle cx="607.0" cy="765.3" r="0.95" fill="#000"/>
<circle cx="609.5" cy="770.2" r="0.95" fill="#000"/>
<circle cx="597.7" cy="752.9" r="0.95" fill="#000"/>
<circle cx="601.4" cy="762.4" r="0.95" fill="#000"/>
<circle cx="600.6" cy="759.9" r="0.95" fill="#000"/>
<circle cx="608.2" cy="770.4" r="0.95" fill="#000"/>
<circle cx="583.9" cy="743.9" r="0.95" fill="#000"/>
<circle cx="606.3" cy="766.9" r="0.95" fill="#000"/>
<circle cx="609.3" cy="769.3" r="0.95" fill="#000"/>
<circle cx="597.8" cy="755.9" r="0.95" fill="#000"/>
<circle cx="592.2" cy="749.0" r="0.95" fill="#000"/>
<circle cx="599.4" cy="757.3" r="0.95" fill="#000"/>
<circle cx="609.8" cy="765.7" r="0.95" fill="#000"/>
<circle cx="600.1" cy="758.5" r="0.95" fill="#000"/>
<circle cx="594.9" cy="752.9" r="0.95" fill="#000"/>
<circle cx="594.5" cy="760.8" r="0.95" fill="#000"/>
<circle cx="586.8" cy="752.9" r="0.95" fill="#000"/>
<circle cx="610.2" cy="769.1" r="0.95" fill="#000"/>
<circle cx="608.9" cy="770.4" r="0.95" fill="#000"/>
<circle cx="581.8" cy="740.4" r="0.95" fill="#000"/>
<circle cx="598.7" cy="760.2" r="0.95" fill="#000"/>
<circle cx="608.9" cy="768.9" r="0.95" fill="#000"/>
<circle cx="590.2" cy="761.2" r="0.95" fill="#000"/>
<circle cx="596.2" cy="759.6" r="0.95" fill="#000"/>
<circle cx="592.7" cy="765.1" r="0.95" fill="#000"/>
<circle cx="602.2" cy="768.0" r="0.95" fill="#000"/>
<circle cx="594.6" cy="750.5" r="0.95" fill="#000"/>
<circle cx="605.7" cy="764.3" r="0.95" fill="#000"/>
<circle cx="591.2" cy="770.1" r="0.95" fill="#000"/>
<circle cx="595.5" cy="757.0" r="0.95" fill="#000"/>
<circle cx="600.3" cy="756.5" r="0.95" fill="#000"/>
<circle cx="604.9" cy="769.1" r="0.95" fill="#000"/>
<circle cx="601.8" cy="762.8" r="0.95" fill="#000"/>
<circle cx="603.0" cy="759.0" r="0.95" fill="#000"/>
<circle cx="585.2" cy="734.8" r="0.95" fill="#000"/>
<circle cx="593.9" cy="766.3" r="0.95" fill="#000"/>
<circle cx="607.4" cy="768.4" r="0.95" fill="#000"/>
<circle cx="593.2" cy="756.4" r="0.95" fill="#000"/>
<circle cx="598.1" cy="757.8" r="0.95" fill="#000"/>
<circle cx="601.9" cy="770.4" r="0.95" fill="#000"/>
<circle cx="592.3" cy="745.8" r="0.95" fill="#000"/>
<circle cx="597.7" cy="753.2" r="0.95" fill="#000"/>
<circle cx="579.8" cy="751.9" r="0.95" fill="#000"/>
<circle cx="604.1" cy="766.6" r="0.95" fill="#000"/>
<circle cx="601.9" cy="763.6" r="0.95" fill="#000"/>
<circle cx="589.2" cy="738.8" r="0.95" fill="#000"/>
<circle cx="605.4" cy="763.5" r="0.95" fill="#000"/>
<circle cx="587.3" cy="751.8" r="0.95" fill="#000"/>
<circle cx="600.7" cy="758.7" r="0.95" fill="#000"/>
<circle cx="602.5" cy="760.6" r="0.95" fill="#000"/>
<circle cx="604.2" cy="764.9" r="0.95" fill="#000"/>
<circle cx="609.0" cy="767.7" r="0.95" fill="#000"/>
<circle cx="594.0" cy="750.1" r="0.95" fill="#000"/>
<circle cx="609.0" cy="770.4" r="0.95" fill="#000"/>
<circle cx="591.3" cy="759.9" r="0.95" fill="#000"/>
<circle cx="598.0" cy="757.9" r="0.95" fill="#000"/>
<circle cx="604.7" cy="765.6" r="0.95" fill="#000"/>
<circle cx="608.4" cy="765.7" r="0.95" fill="#000"/>
<circle cx="608.2" cy="765.1" r="0.95" fill="#000"/>
<circle cx="599.7" cy="758.9" r="0.95" fill="#000"/>
<circle cx="602.1" cy="763.2" r="0.95" fill="#000"/>
<circle cx="602.4" cy="764.4" r="0.95" fill="#000"/>
<circle cx="587.6" cy="746.8" r="0.95" fill="#000"/>
<circle cx="605.2" cy="767.3" r="0.95" fill="#000"/>
<circle cx="586.2" cy="740.1" r="0.95" fill="#000"/>
<circle cx="605.9" cy="764.5" r="0.95" fill="#000"/>
<circle cx="596.7" cy="766.8" r="0.95" fill="#000"/>
<circle cx="584.0" cy="735.4" r="0.95" fill="#000"/>
<circle cx="605.0" cy="764.4" r="0.95" fill="#000"/>
<circle cx="587.9" cy="732.1" r="0.95" fill="#000"/>
<circle cx="604.5" cy="763.6" r="0.95" fill="#000"/>
<circle cx="600.4" cy="757.6" r="0.95" fill="#000"/>
<circle cx="605.1" cy="766.3" r="0.95" fill="#000"/>
<circle cx="597.5" cy="745.7" r="0.95" fill="#000"/>
<circle cx="588.4" cy="747.6" r="0.95" fill="#000"/>
<circle cx="587.6" cy="731.2" r="0.95" fill="#000"/>
<circle cx="586.8" cy="744.2" r="0.95" fill="#000"/>
<circle cx="609.1" cy="768.9" r="0.95" fill="#000"/>
<circle cx="596.1" cy="748.2" r="0.95" fill="#000"/>
<circle cx="606.4" cy="770.4" r="0.95" fill="#000"/>
<circle cx="591.9" cy="749.4" r="0.95" fill="#000"/>
<circle cx="592.8" cy="749.4" r="0.95" fill="#000"/>
<circle cx="605.3" cy="767.8" r="0.95" fill="#000"/>
<circle cx="581.1" cy="750.7" r="0.95" fill="#000"/>
<circle cx="604.8" cy="767.2" r="0.95" fill="#000"/>
<circle cx="582.1" cy="743.7" r="0.95" fill="#000"/>
<circle cx="604.4" cy="762.4" r="0.95" fill="#000"/>
<circle cx="608.8" cy="768.4" r="0.95" fill="#000"/>
<circle cx="594.9" cy="755.5" r="0.95" fill="#000"/>
<circle cx="605.1" cy="766.9" r="0.95" fill="#000"/>
<circle cx="579.8" cy="735.4" r="0.95" fill="#000"/>
<circle cx="597.5" cy="770.4" r="0.95" fill="#000"/>
<circle cx="603.0" cy="768.0" r="0.95" fill="#000"/>
<circle cx="609.6" cy="770.4" r="0.95" fill="#000"/>
<circle cx="594.5" cy="755.8" r="0.95" fill="#000"/>
<circle cx="597.9" cy="752.3" r="0.95" fill="#000"/>
<circle cx="602.3" cy="758.3" r="0.95" fill="#000"/>
<circle cx="601.0" cy="758.6" r="0.95" fill="#000"/>
<circle cx="597.4" cy="751.7" r="0.95" fill="#000"/>
<circle cx="579.1" cy="738.9" r="0.95" fill="#000"/>
<circle cx="603.9" cy="767.2" r="0.95" fill="#000"/>
<circle cx="598.4" cy="759.2" r="0.95" fill="#000"/>
<circle cx="597.5" cy="753.2" r="0.95" fill="#000"/>
<circle cx="608.8" cy="770.4" r="0.95" fill="#000"/>
<circle cx="602.8" cy="765.9" r="0.95" fill="#000"/>
<circle cx="594.0" cy="755.1" r="0.95" fill="#000"/>
<circle cx="591.8" cy="750.0" r="0.95" fill="#000"/>
<circle cx="578.9" cy="756.4" r="0.95" fill="#000"/>
<circle cx="594.2" cy="755.1" r="0.95" fill="#000"/>
<circle cx="606.1" cy="767.4" r="0.95" fill="#000"/>
<circle cx="584.1" cy="734.6" r="0.95" fill="#000"/>
<circle cx="609.4" cy="770.4" r="0.95" fill="#000"/>
<circle cx="618.5" cy="767.2" r="0.95" fill="#000"/>
<circle cx="623.2" cy="760.6" r="0.95" fill="#000"/>
<circle cx="614.1" cy="765.1" r="0.95" fill="#000"/>
<circle cx="621.1" cy="765.0" r="0.95" fill="#000"/>
<circle cx="624.8" cy="763.9" r="0.95" fill="#000"/>
<circle cx="617.7" cy="763.2" r="0.95" fill="#000"/>
<circle cx="624.1" cy="759.5" r="0.95" fill="#000"/>
<circle cx="624.1" cy="754.7" r="0.95" fill="#000"/>
<circle cx="623.1" cy="764.3" r="0.95" fill="#000"/>
<circle cx="616.1" cy="765.0" r="0.95" fill="#000"/>
<circle cx="623.3" cy="755.8" r="0.95" fill="#000"/>
<circle cx="613.9" cy="767.5" r="0.95" fill="#000"/>
<circle cx="615.1" cy="765.4" r="0.95" fill="#000"/>
<circle cx="627.0" cy="755.2" r="0.95" fill="#000"/>
<circle cx="625.1" cy="760.9" r="0.95" fill="#000"/>
<circle cx="612.3" cy="770.4" r="0.95" fill="#000"/>
<circle cx="626.1" cy="766.3" r="0.95" fill="#000"/>
<circle cx="629.6" cy="750.6" r="0.95" fill="#000"/>
<circle cx="630.7" cy="744.3" r="0.95" fill="#000"/>
<circle cx="621.5" cy="758.8" r="0.95" fill="#000"/>
<circle cx="619.0" cy="766.0" r="0.95" fill="#000"/>
<circle cx="619.7" cy="757.3" r="0.95" fill="#000"/>
<circle cx="615.0" cy="768.2" r="0.95" fill="#000"/>
<circle cx="622.8" cy="759.9" r="0.95" fill="#000"/>
<circle cx="636.0" cy="745.6" r="0.95" fill="#000"/>
<circle cx="614.7" cy="765.8" r="0.95" fill="#000"/>
<circle cx="622.8" cy="757.4" r="0.95" fill="#000"/>
<circle cx="627.8" cy="752.5" r="0.95" fill="#000"/>
<circle cx="618.1" cy="767.9" r="0.95" fill="#000"/>
<circle cx="641.4" cy="727.5" r="0.95" fill="#000"/>
<circle cx="612.4" cy="770.2" r="0.95" fill="#000"/>
<circle cx="631.6" cy="747.8" r="0.95" fill="#000"/>
<circle cx="615.3" cy="767.3" r="0.95" fill="#000"/>
<circle cx="625.9" cy="757.2" r="0.95" fill="#000"/>
<circle cx="635.8" cy="739.8" r="0.95" fill="#000"/>
<circle cx="616.0" cy="769.1" r="0.95" fill="#000"/>
<circle cx="626.0" cy="754.2" r="0.95" fill="#000"/>
<circle cx="617.1" cy="767.2" r="0.95" fill="#000"/>
<circle cx="614.9" cy="766.9" r="0.95" fill="#000"/>
<circle cx="612.3" cy="769.8" r="0.95" fill="#000"/>
<circle cx="625.5" cy="760.1" r="0.95" fill="#000"/>
<circle cx="615.4" cy="767.7" r="0.95" fill="#000"/>
<circle cx="612.0" cy="767.2" r="0.95" fill="#000"/>
<circle cx="620.9" cy="766.1" r="0.95" fill="#000"/>
<circle cx="618.6" cy="755.1" r="0.95" fill="#000"/>
<circle cx="619.1" cy="767.7" r="0.95" fill="#000"/>
<circle cx="613.7" cy="766.5" r="0.95" fill="#000"/>
<circle cx="616.2" cy="767.5" r="0.95" fill="#000"/>
<circle cx="628.9" cy="755.7" r="0.95" fill="#000"/>
<circle cx="624.6" cy="752.7" r="0.95" fill="#000"/>
<circle cx="633.0" cy="756.1" r="0.95" fill="#000"/>
<circle cx="611.0" cy="770.4" r="0.95" fill="#000"/>
<circle cx="623.8" cy="757.9" r="0.95" fill="#000"/>
<circle cx="613.7" cy="767.0" r="0.95" fill="#000"/>
<circle cx="616.9" cy="767.6" r="0.95" fill="#000"/>
<circle cx="624.5" cy="768.4" r="0.95" fill="#000"/>
<circle cx="632.3" cy="741.4" r="0.95" fill="#000"/>
<circle cx="617.8" cy="763.9" r="0.95" fill="#000"/>
<circle cx="611.8" cy="769.2" r="0.95" fill="#000"/>
<circle cx="623.7" cy="759.6" r="0.95" fill="#000"/>
<circle cx="625.7" cy="764.9" r="0.95" fill="#000"/>
<circle cx="623.2" cy="758.6" r="0.95" fill="#000"/>
<circle cx="616.8" cy="764.8" r="0.95" fill="#000"/>
<circle cx="610.3" cy="769.0" r="0.95" fill="#000"/>
<circle cx="614.6" cy="770.1" r="0.95" fill="#000"/>
<circle cx="617.7" cy="763.9" r="0.95" fill="#000"/>
<circle cx="626.7" cy="754.3" r="0.95" fill="#000"/>
<circle cx="610.9" cy="767.2" r="0.95" fill="#000"/>
<circle cx="614.7" cy="763.9" r="0.95" fill="#000"/>
<circle cx="616.9" cy="767.2" r="0.95" fill="#000"/>
<circle cx="610.4" cy="770.4" r="0.95" fill="#000"/>
<circle cx="628.1" cy="756.8" r="0.95" fill="#000"/>
<circle cx="620.5" cy="765.7" r="0.95" fill="#000"/>
<circle cx="632.8" cy="746.2" r="0.95" fill="#000"/>
<circle cx="620.4" cy="766.3" r="0.95" fill="#000"/>
<circle cx="619.8" cy="764.8" r="0.95" fill="#000"/>
<circle cx="627.0" cy="760.8" r="0.95" fill="#000"/>
<circle cx="614.7" cy="762.9" r="0.95" fill="#000"/>
<circle cx="622.8" cy="760.9" r="0.95" fill="#000"/>
<circle cx="626.0" cy="757.5" r="0.95" fill="#000"/>
<circle cx="619.7" cy="758.4" r="0.95" fill="#000"/>
<circle cx="622.0" cy="755.8" r="0.95" fill="#000"/>
<circle cx="615.9" cy="767.5" r="0.95" fill="#000"/>
<circle cx="636.5" cy="748.0" r="0.95" fill="#000"/>
<circle cx="627.1" cy="755.3" r="0.95" fill="#000"/>
<circle cx="620.0" cy="766.3" r="0.95" fill="#000"/>
<circle cx="628.3" cy="754.6" r="0.95" fill="#000"/>
<circle cx="614.4" cy="769.5" r="0.95" fill="#000"/>
<circle cx="629.5" cy="748.5" r="0.95" fill="#000"/>
<circle cx="621.3" cy="763.1" r="0.95" fill="#000"/>
<circle cx="632.4" cy="758.2" r="0.95" fill="#000"/>
<circle cx="638.6" cy="748.6" r="0.95" fill="#000"/>
<circle cx="610.4" cy="770.4" r="0.95" fill="#000"/>
<circle cx="630.8" cy="751.6" r="0.95" fill="#000"/>
<circle cx="611.5" cy="770.4" r="0.95" fill="#000"/>
<circle cx="627.8" cy="754.6" r="0.95" fill="#000"/>
<circle cx="610.3" cy="767.6" r="0.95" fill="#000"/>
<circle cx="622.7" cy="762.2" r="0.95" fill="#000"/>
<circle cx="623.7" cy="756.2" r="0.95" fill="#000"/>
<circle cx="619.6" cy="758.4" r="0.95" fill="#000"/>
<circle cx="616.7" cy="763.5" r="0.95" fill="#000"/>
<circle cx="614.9" cy="765.0" r="0.95" fill="#000"/>
<circle cx="616.1" cy="767.3" r="0.95" fill="#000"/>
<circle cx="625.0" cy="756.6" r="0.95" fill="#000"/>
<circle cx="615.1" cy="764.3" r="0.95" fill="#000"/>
<circle cx="613.4" cy="767.7" r="0.95" fill="#000"/>
<circle cx="640.3" cy="745.0" r="0.95" fill="#000"/>
<circle cx="621.4" cy="765.4" r="0.95" fill="#000"/>
<circle cx="614.3" cy="767.4" r="0.95" fill="#000"/>
<circle cx="612.3" cy="767.6" r="0.95" fill="#000"/>
<circle cx="616.7" cy="766.7" r="0.95" fill="#000"/>
<circle cx="625.0" cy="760.1" r="0.95" fill="#000"/>
<circle cx="620.0" cy="762.1" r="0.95" fill="#000"/>
<circle cx="618.8" cy="764.8" r="0.95" fill="#000"/>
<circle cx="625.0" cy="760.8" r="0.95" fill="#000"/>
<circle cx="613.3" cy="767.1" r="0.95" fill="#000"/>
<circle cx="634.3" cy="749.2" r="0.95" fill="#000"/>
<circle cx="613.4" cy="770.4" r="0.95" fill="#000"/>
<circle cx="627.6" cy="751.0" r="0.95" fill="#000"/>
<circle cx="610.3" cy="770.4" r="0.95" fill="#000"/>
<circle cx="630.6" cy="748.3" r="0.95" fill="#000"/>
<circle cx="610.9" cy="770.4" r="0.95" fill="#000"/>
<circle cx="615.7" cy="768.9" r="0.95" fill="#000"/>
<circle cx="623.4" cy="760.2" r="0.95" fill="#000"/>
<circle cx="625.8" cy="763.3" r="0.95" fill="#000"/>
<circle cx="631.1" cy="752.1" r="0.95" fill="#000"/>
<circle cx="632.4" cy="745.6" r="0.95" fill="#000"/>
<circle cx="611.1" cy="767.6" r="0.95" fill="#000"/>
<circle cx="621.9" cy="763.5" r="0.95" fill="#000"/>
<circle cx="618.3" cy="764.2" r="0.95" fill="#000"/>
<circle cx="616.3" cy="768.1" r="0.95" fill="#000"/>
<circle cx="611.1" cy="770.4" r="0.95" fill="#000"/>
<circle cx="635.6" cy="750.4" r="0.95" fill="#000"/>
<circle cx="612.2" cy="770.4" r="0.95" fill="#000"/>
<circle cx="627.0" cy="754.5" r="0.95" fill="#000"/>
<circle cx="611.1" cy="770.4" r="0.95" fill="#000"/>
<circle cx="612.6" cy="767.9" r="0.95" fill="#000"/>
<circle cx="632.5" cy="751.5" r="0.95" fill="#000"/>
<circle cx="632.5" cy="749.3" r="0.95" fill="#000"/>
<circle cx="620.4" cy="759.1" r="0.95" fill="#000"/>
<circle cx="619.4" cy="768.0" r="0.95" fill="#000"/>
<circle cx="614.2" cy="766.9" r="0.95" fill="#000"/>
<circle cx="630.3" cy="760.9" r="0.95" fill="#000"/>
<circle cx="611.4" cy="769.8" r="0.95" fill="#000"/>
<circle cx="631.0" cy="746.9" r="0.95" fill="#000"/>
<circle cx="621.9" cy="758.6" r="0.95" fill="#000"/>
<circle cx="629.0" cy="754.4" r="0.95" fill="#000"/>
<circle cx="612.1" cy="766.2" r="0.95" fill="#000"/>
<circle cx="621.4" cy="761.9" r="0.95" fill="#000"/>
<circle cx="612.9" cy="770.3" r="0.95" fill="#000"/>
<circle cx="626.4" cy="755.7" r="0.95" fill="#000"/>
<circle cx="627.4" cy="744.1" r="0.95" fill="#000"/>
<circle cx="630.0" cy="747.1" r="0.95" fill="#000"/>
<circle cx="629.2" cy="747.7" r="0.95" fill="#000"/>
<circle cx="629.3" cy="751.1" r="0.95" fill="#000"/>
<circle cx="614.8" cy="766.0" r="0.95" fill="#000"/>
<circle cx="633.7" cy="745.6" r="0.95" fill="#000"/>
<circle cx="615.9" cy="765.1" r="0.95" fill="#000"/>
<circle cx="615.6" cy="766.4" r="0.95" fill="#000"/>
<circle cx="617.4" cy="761.7" r="0.95" fill="#000"/>
<circle cx="627.9" cy="757.2" r="0.95" fill="#000"/>
<circle cx="611.1" cy="769.7" r="0.95" fill="#000"/>
<circle cx="622.5" cy="760.2" r="0.95" fill="#000"/>
<circle cx="616.1" cy="763.0" r="0.95" fill="#000"/>
<circle cx="612.5" cy="765.5" r="0.95" fill="#000"/>
<circle cx="626.5" cy="761.1" r="0.95" fill="#000"/>
<circle cx="611.8" cy="770.4" r="0.95" fill="#000"/>
<circle cx="620.8" cy="761.1" r="0.95" fill="#000"/>
<circle cx="632.7" cy="745.9" r="0.95" fill="#000"/>
<circle cx="616.5" cy="766.3" r="0.95" fill="#000"/>
<circle cx="626.4" cy="759.8" r="0.95" fill="#000"/>
<circle cx="620.8" cy="765.4" r="0.95" fill="#000"/>
<circle cx="628.1" cy="740.7" r="0.95" fill="#000"/>
<circle cx="627.4" cy="741.5" r="0.95" fill="#000"/>
<circle cx="625.9" cy="757.4" r="0.95" fill="#000"/>
<circle cx="610.8" cy="765.9" r="0.95" fill="#000"/>
<circle cx="612.1" cy="769.4" r="0.95" fill="#000"/>
<circle cx="611.6" cy="769.8" r="0.95" fill="#000"/>
<circle cx="617.4" cy="770.4" r="0.95" fill="#000"/>
<circle cx="613.8" cy="768.8" r="0.95" fill="#000"/>
<circle cx="615.6" cy="769.2" r="0.95" fill="#000"/>
<circle cx="621.7" cy="761.1" r="0.95" fill="#000"/>
<circle cx="612.8" cy="768.0" r="0.95" fill="#000"/>
<circle cx="614.4" cy="768.7" r="0.95" fill="#000"/>
<circle cx="614.3" cy="768.2" r="0.95" fill="#000"/>
<circle cx="619.0" cy="764.7" r="0.95" fill="#000"/>
<circle cx="629.8" cy="748.7" r="0.95" fill="#000"/>
<circle cx="633.2" cy="751.5" r="0.95" fill="#000"/>
<circle cx="629.5" cy="754.0" r="0.95" fill="#000"/>
<circle cx="628.0" cy="751.4" r="0.95" fill="#000"/>
<circle cx="625.5" cy="758.8" r="0.95" fill="#000"/>
<circle cx="628.9" cy="750.9" r="0.95" fill="#000"/>
<circle cx="623.1" cy="762.3" r="0.95" fill="#000"/>
<circle cx="614.5" cy="770.4" r="0.95" fill="#000"/>
<circle cx="622.1" cy="758.4" r="0.95" fill="#000"/>
<circle cx="613.0" cy="769.3" r="0.95" fill="#000"/>
<circle cx="617.9" cy="760.1" r="0.95" fill="#000"/>
<circle cx="611.1" cy="767.9" r="0.95" fill="#000"/>
<circle cx="610.8" cy="768.4" r="0.95" fill="#000"/>
<circle cx="623.5" cy="765.7" r="0.95" fill="#000"/>
<circle cx="625.3" cy="759.5" r="0.95" fill="#000"/>
<circle cx="613.9" cy="766.1" r="0.95" fill="#000"/>
<circle cx="619.7" cy="762.5" r="0.95" fill="#000"/>
<circle cx="626.5" cy="760.3" r="0.95" fill="#000"/>
<circle cx="610.8" cy="769.0" r="0.95" fill="#000"/>
<circle cx="617.3" cy="764.5" r="0.95" fill="#000"/>
<circle cx="620.8" cy="762.6" r="0.95" fill="#000"/>
<circle cx="623.4" cy="763.7" r="0.95" fill="#000"/>
<circle cx="618.1" cy="762.0" r="0.95" fill="#000"/>
<circle cx="631.8" cy="748.7" r="0.95" fill="#000"/>
<circle cx="610.4" cy="770.4" r="0.95" fill="#000"/>
<circle cx="612.0" cy="770.4" r="0.95" fill="#000"/>
<circle cx="612.2" cy="767.9" r="0.95" fill="#000"/>
<circle cx="616.4" cy="762.5" r="0.95" fill="#000"/>
<circle cx="624.1" cy="764.9" r="0.95" fill="#000"/>
<circle cx="628.8" cy="748.9" r="0.95" fill="#000"/>
<circle cx="623.5" cy="759.3" r="0.95" fill="#000"/>
<circle cx="624.8" cy="758.7" r="0.95" fill="#000"/>
<circle cx="614.5" cy="765.4" r="0.95" fill="#000"/>
<circle cx="623.4" cy="765.4" r="0.95" fill="#000"/>
<circle cx="618.0" cy="766.1" r="0.95" fill="#000"/>
<circle cx="629.3" cy="760.0" r="0.95" fill="#000"/>
<circle cx="619.1" cy="770.4" r="0.95" fill="#000"/>
<circle cx="625.6" cy="751.6" r="0.95" fill="#000"/>
<circle cx="615.9" cy="767.7" r="0.95" fill="#000"/>
<circle cx="637.7" cy="753.7" r="0.95" fill="#000"/>
<circle cx="617.5" cy="759.5" r="0.95" fill="#000"/>
<circle cx="622.4" cy="763.4" r="0.95" fill="#000"/>
<circle cx="616.1" cy="765.0" r="0.95" fill="#000"/>
<circle cx="617.2" cy="768.6" r="0.95" fill="#000"/>
<circle cx="616.2" cy="763.6" r="0.95" fill="#000"/>
<circle cx="619.7" cy="764.7" r="0.95" fill="#000"/>
<circle cx="630.4" cy="751.0" r="0.95" fill="#000"/>
<circle cx="638.3" cy="730.7" r="0.95" fill="#000"/>
<circle cx="611.4" cy="769.1" r="0.95" fill="#000"/>
<circle cx="618.1" cy="766.6" r="0.95" fill="#000"/>
<circle cx="616.0" cy="760.0" r="0.95" fill="#000"/>
<circle cx="614.1" cy="762.8" r="0.95" fill="#000"/>
<circle cx="616.1" cy="764.5" r="0.95" fill="#000"/>
<circle cx="613.9" cy="765.2" r="0.95" fill="#000"/>
<circle cx="623.1" cy="761.9" r="0.95" fill="#000"/>
<circle cx="621.8" cy="761.7" r="0.95" fill="#000"/>
<circle cx="626.9" cy="766.2" r="0.95" fill="#000"/>
<circle cx="610.8" cy="770.4" r="0.95" fill="#000"/>
<circle cx="619.6" cy="762.4" r="0.95" fill="#000"/>
<circle cx="612.6" cy="768.0" r="0.95" fill="#000"/>
<circle cx="639.3" cy="745.4" r="0.95" fill="#000"/>
<circle cx="625.2" cy="761.2" r="0.95" fill="#000"/>
<circle cx="621.0" cy="759.6" r="0.95" fill="#000"/>
<circle cx="638.0" cy="738.5" r="0.95" fill="#000"/>
<circle cx="611.4" cy="768.3" r="0.95" fill="#000"/>
<circle cx="618.9" cy="765.0" r="0.95" fill="#000"/>
<circle cx="620.7" cy="764.1" r="0.95" fill="#000"/>
<circle cx="613.6" cy="769.5" r="0.95" fill="#000"/>
<circle cx="621.3" cy="764.3" r="0.95" fill="#000"/>
<circle cx="621.5" cy="757.1" r="0.95" fill="#000"/>
<circle cx="618.9" cy="765.7" r="0.95" fill="#000"/>
<circle cx="623.0" cy="756.5" r="0.95" fill="#000"/>
<circle cx="637.6" cy="742.2" r="0.95" fill="#000"/>
<circle cx="614.9" cy="766.2" r="0.95" fill="#000"/>
<circle cx="613.5" cy="767.6" r="0.95" fill="#000"/>
<circle cx="617.2" cy="762.1" r="0.95" fill="#000"/>
<circle cx="620.6" cy="760.9" r="0.95" fill="#000"/>
<circle cx="614.3" cy="765.2" r="0.95" fill="#000"/>
<circle cx="612.9" cy="770.4" r="0.95" fill="#000"/>
<circle cx="612.1" cy="770.4" r="0.95" fill="#000"/>
<circle cx="616.4" cy="765.2" r="0.95" fill="#000"/>
<circle cx="619.3" cy="767.2" r="0.95" fill="#000"/>
<circle cx="622.4" cy="757.6" r="0.95" fill="#000"/>
<circle cx="617.8" cy="767.8" r="0.95" fill="#000"/>
<circle cx="618.7" cy="761.9" r="0.95" fill="#000"/>
<circle cx="627.4" cy="755.5" r="0.95" fill="#000"/>
<circle cx="626.1" cy="756.5" r="0.95" fill="#000"/>
<circle cx="625.0" cy="756.8" r="0.95" fill="#000"/>
<circle cx="612.2" cy="770.4" r="0.95" fill="#000"/>
<circle cx="617.0" cy="766.1" r="0.95" fill="#000"/>
<circle cx="615.9" cy="768.1" r="0.95" fill="#000"/>
<circle cx="613.3" cy="770.4" r="0.95" fill="#000"/>
<circle cx="625.3" cy="755.3" r="0.95" fill="#000"/>
<circle cx="624.3" cy="766.4" r="0.95" fill="#000"/>
<circle cx="637.6" cy="758.0" r="0.95" fill="#000"/>
<circle cx="622.9" cy="759.2" r="0.95" fill="#000"/>
<circle cx="628.2" cy="749.6" r="0.95" fill="#000"/>
<circle cx="631.8" cy="748.2" r="0.95" fill="#000"/>
<circle cx="624.6" cy="770.4" r="0.95" fill="#000"/>
<circle cx="622.6" cy="768.3" r="0.95" fill="#000"/>
<circle cx="615.6" cy="767.4" r="0.95" fill="#000"/>
<circle cx="614.9" cy="768.3" r="0.95" fill="#000"/>
<circle cx="632.3" cy="744.7" r="0.95" fill="#000"/>
<circle cx="614.1" cy="764.5" r="0.95" fill="#000"/>
<circle cx="619.5" cy="763.2" r="0.95" fill="#000"/>
<circle cx="611.1" cy="770.4" r="0.95" fill="#000"/>
<circle cx="628.8" cy="755.2" r="0.95" fill="#000"/>
<circle cx="616.6" cy="770.4" r="0.95" fill="#000"/>
<circle cx="627.3" cy="761.9" r="0.95" fill="#000"/>
<circle cx="611.0" cy="770.4" r="0.95" fill="#000"/>
<circle cx="616.3" cy="763.0" r="0.95" fill="#000"/>
<circle cx="619.7" cy="764.0" r="0.95" fill="#000"/>
<circle cx="616.4" cy="767.2" r="0.95" fill="#000"/>
<circle cx="618.8" cy="767.4" r="0.95" fill="#000"/>
<circle cx="630.4" cy="753.8" r="0.95" fill="#000"/>
<circle cx="624.7" cy="753.1" r="0.95" fill="#000"/>
<circle cx="618.6" cy="770.4" r="0.95" fill="#000"/>
<circle cx="612.3" cy="767.9" r="0.95" fill="#000"/>
<circle cx="625.2" cy="749.6" r="0.95" fill="#000"/>
<circle cx="622.8" cy="759.0" r="0.95" fill="#000"/>
<circle cx="631.2" cy="752.8" r="0.95" fill="#000"/>
<circle cx="615.4" cy="764.9" r="0.95" fill="#000"/>
<circle cx="612.7" cy="770.4" r="0.95" fill="#000"/>
<circle cx="611.8" cy="768.9" r="0.95" fill="#000"/>
<circle cx="630.1" cy="756.8" r="0.95" fill="#000"/>
<circle cx="621.8" cy="763.8" r="0.95" fill="#000"/>
<circle cx="624.3" cy="760.3" r="0.95" fill="#000"/>
<circle cx="611.6" cy="768.9" r="0.95" fill="#000"/>
<circle cx="621.3" cy="757.8" r="0.95" fill="#000"/>
<circle cx="632.1" cy="739.9" r="0.95" fill="#000"/>
<circle cx="619.2" cy="767.1" r="0.95" fill="#000"/>
<circle cx="620.2" cy="767.3" r="0.95" fill="#000"/>
<circle cx="622.1" cy="764.5" r="0.95" fill="#000"/>
<circle cx="626.0" cy="758.2" r="0.95" fill="#000"/>
<circle cx="614.7" cy="769.3" r="0.95" fill="#000"/>
<circle cx="612.8" cy="770.4" r="0.95" fill="#000"/>
<circle cx="613.4" cy="769.5" r="0.95" fill="#000"/>
<circle cx="625.0" cy="757.9" r="0.95" fill="#000"/>
<circle cx="612.5" cy="770.4" r="0.95" fill="#000"/>
<circle cx="610.9" cy="769.2" r="0.95" fill="#000"/>
<circle cx="626.9" cy="758.9" r="0.95" fill="#000"/>
<circle cx="618.8" cy="764.3" r="0.95" fill="#000"/>
<circle cx="621.0" cy="753.2" r="0.95" fill="#000"/>
<circle cx="627.2" cy="754.3" r="0.95" fill="#000"/>
<circle cx="615.2" cy="763.4" r="0.95" fill="#000"/>
<circle cx="618.1" cy="769.5" r="0.95" fill="#000"/>
<circle cx="625.0" cy="758.4" r="0.95" fill="#000"/>
<circle cx="614.4" cy="767.9" r="0.95" fill="#000"/>
<circle cx="613.3" cy="770.4" r="0.95" fill="#000"/>
<circle cx="615.4" cy="763.4" r="0.95" fill="#000"/>
<circle cx="624.1" cy="762.0" r="0.95" fill="#000"/>
<circle cx="620.8" cy="766.1" r="0.95" fill="#000"/>
<circle cx="613.0" cy="768.2" r="0.95" fill="#000"/>
<circle cx="622.6" cy="762.1" r="0.95" fill="#000"/>
<circle cx="622.6" cy="761.7" r="0.95" fill="#000"/>
<circle cx="614.1" cy="768.2" r="0.95" fill="#000"/>
<circle cx="613.6" cy="767.6" r="0.95" fill="#000"/>
<circle cx="621.0" cy="766.4" r="0.95" fill="#000"/>
<circle cx="611.8" cy="766.3" r="0.95" fill="#000"/>
<circle cx="613.5" cy="769.2" r="0.95" fill="#000"/>
<circle cx="610.4" cy="770.4" r="0.95" fill="#000"/>
<circle cx="617.8" cy="765.2" r="0.95" fill="#000"/>
<circle cx="612.6" cy="767.5" r="0.95" fill="#000"/>
<circle cx="626.6" cy="763.6" r="0.95" fill="#000"/>
<circle cx="617.1" cy="766.7" r="0.95" fill="#000"/>
<circle cx="629.4" cy="750.0" r="0.95" fill="#000"/>
<circle cx="639.0" cy="736.8" r="0.95" fill="#000"/>
<circle cx="627.5" cy="765.7" r="0.95" fill="#000"/>
<circle cx="616.3" cy="770.4" r="0.95" fill="#000"/>
<circle cx="620.9" cy="762.9" r="0.95" fill="#000"/>
<circle cx="612.7" cy="768.1" r="0.95" fill="#000"/>
<circle cx="620.6" cy="756.5" r="0.95" fill="#000"/>
<circle cx="628.9" cy="749.3" r="0.95" fill="#000"/>
<circle cx="632.5" cy="742.8" r="0.95" fill="#000"/>
<circle cx="611.6" cy="770.4" r="0.95" fill="#000"/>
<circle cx="612.6" cy="769.8" r="0.95" fill="#000"/>
<circle cx="611.6" cy="767.9" r="0.95" fill="#000"/>
<circle cx="628.6" cy="751.2" r="0.95" fill="#000"/>
<circle cx="626.5" cy="762.3" r="0.95" fill="#000"/>
<circle cx="629.3" cy="757.5" r="0.95" fill="#000"/>
<circle cx="620.4" cy="759.4" r="0.95" fill="#000"/>
<circle cx="610.5" cy="770.4" r="0.95" fill="#000"/>
<circle cx="619.0" cy="761.7" r="0.95" fill="#000"/>
<circle cx="617.7" cy="766.8" r="0.95" fill="#000"/>
<circle cx="610.4" cy="770.4" r="0.95" fill="#000"/>
<circle cx="619.6" cy="766.9" r="0.95" fill="#000"/>
<circle cx="616.3" cy="762.9" r="0.95" fill="#000"/>
<circle cx="639.4" cy="739.1" r="0.95" fill="#000"/>
<circle cx="633.9" cy="755.2" r="0.95" fill="#000"/>
<circle cx="616.4" cy="767.6" r="0.95" fill="#000"/>
<circle cx="622.4" cy="767.9" r="0.95" fill="#000"/>
<circle cx="633.3" cy="750.0" r="0.95" fill="#000"/>
<circle cx="617.5" cy="764.1" r="0.95" fill="#000"/>
<circle cx="615.7" cy="768.6" r="0.95" fill="#000"/>
<circle cx="582.4" cy="708.5" r="0.95" fill="#000"/>
<circle cx="587.6" cy="701.8" r="0.95" fill="#000"/>
<circle cx="604.8" cy="715.3" r="0.95" fill="#000"/>
<circle cx="581.5" cy="719.0" r="0.95" fill="#000"/>
<circle cx="580.0" cy="721.3" r="0.95" fill="#000"/>
<circle cx="573.9" cy="748.7" r="0.95" fill="#000"/>
<circle cx="639.7" cy="736.1" r="0.95" fill="#000"/>
<circle cx="642.1" cy="747.5" r="0.95" fill="#000"/>
<circle cx="577.0" cy="733.8" r="0.95" fill="#000"/>
<circle cx="578.5" cy="727.0" r="0.95" fill="#000"/>
<circle cx="637.6" cy="727.0" r="0.95" fill="#000"/>
<circle cx="641.2" cy="722.4" r="0.95" fill="#000"/>
<circle cx="571.2" cy="701.8" r="1.15" fill="#b8323a"/>
<circle cx="580.0" cy="701.8" r="1.15" fill="#b8323a"/>
<circle cx="570.0" cy="708.5" r="1.15" fill="#b8323a"/>
<circle cx="641.5" cy="712.8" r="1.15" fill="#b8323a"/>
<circle cx="643.0" cy="716.0" r="1.15" fill="#b8323a"/>
<line x1="580.3" y1="675" x2="580.3" y2="774.8" stroke="#c06464" stroke-width="1.1"/>
<line x1="641.0" y1="675" x2="641.0" y2="774.8" stroke="#b85050" stroke-width="1.1"/>
<line x1="540" y1="717.8" x2="685" y2="717.8" stroke="#c06464" stroke-width="1.1"/>
<text x="514.10" y="816.80" font-size="19.5" font-weight="bold" fill="#000">j</text>
<line x1="551.8" y1="814.5" x2="551.8" y2="924" stroke="#111" stroke-width="1.1"/>
<line x1="551.8" y1="924" x2="681" y2="924" stroke="#111" stroke-width="1.1"/>
<line x1="549" y1="818.5" x2="551.8" y2="818.5" stroke="#111" stroke-width="1"/>
<text x="549.00" y="820.70" font-size="9.7" font-weight="bold" text-anchor="end" fill="#111">1.0</text>
<line x1="549" y1="843.8" x2="551.8" y2="843.8" stroke="#111" stroke-width="1"/>
<text x="549.00" y="846.00" font-size="9.7" font-weight="bold" text-anchor="end" fill="#111">0.5</text>
<line x1="549" y1="869.1" x2="551.8" y2="869.1" stroke="#111" stroke-width="1"/>
<text x="549.00" y="871.30" font-size="9.7" font-weight="bold" text-anchor="end" fill="#111">0.0</text>
<line x1="549" y1="894.4" x2="551.8" y2="894.4" stroke="#111" stroke-width="1"/>
<text x="549.00" y="896.60" font-size="9.7" font-weight="bold" text-anchor="end" fill="#111">−0.5</text>
<line x1="549" y1="919.7" x2="551.8" y2="919.7" stroke="#111" stroke-width="1"/>
<text x="549.00" y="921.90" font-size="9.7" font-weight="bold" text-anchor="end" fill="#111">−1.0</text>
<line x1="551.8" y1="869.5" x2="660" y2="869.5" stroke="#000" stroke-width="1.0" stroke-dasharray="14 14"/>
<line x1="581.2" y1="924" x2="581.2" y2="926.8" stroke="#111" stroke-width="1"/>
<line x1="630.6" y1="924" x2="630.6" y2="926.8" stroke="#111" stroke-width="1"/>
<text x="581.20" y="935.00" font-size="9.2" font-weight="bold" text-anchor="middle" fill="#111">SED</text>
<text x="630.60" y="935.00" font-size="9.2" font-weight="bold" text-anchor="middle" fill="#111">RUN</text>
<text x="529.40" y="869.00" font-size="9.7" font-weight="bold" text-anchor="middle" fill="#111" transform="rotate(-90 529.40 869.00)">Correlation difference</text>
<line x1="581.2" y1="827.6" x2="630.6" y2="877.7" stroke="#c46a58" stroke-width="2.3" stroke-opacity="0.85" stroke-linecap="round"/>
<circle cx="581.2" cy="827.6" r="1.3" fill="#b8503e"/><circle cx="630.6" cy="877.7" r="1.3" fill="#b8503e"/>
<line x1="581.2" y1="829.6" x2="630.6" y2="894.4" stroke="#c46a58" stroke-width="2.3" stroke-opacity="0.85" stroke-linecap="round"/>
<circle cx="581.2" cy="829.6" r="1.3" fill="#b8503e"/><circle cx="630.6" cy="894.4" r="1.3" fill="#b8503e"/>
<line x1="581.2" y1="831.1" x2="630.6" y2="896.9" stroke="#c46a58" stroke-width="2.3" stroke-opacity="0.85" stroke-linecap="round"/>
<circle cx="581.2" cy="831.1" r="1.3" fill="#b8503e"/><circle cx="630.6" cy="896.9" r="1.3" fill="#b8503e"/>
<line x1="581.2" y1="832.7" x2="630.6" y2="899.0" stroke="#c46a58" stroke-width="2.3" stroke-opacity="0.85" stroke-linecap="round"/>
<circle cx="581.2" cy="832.7" r="1.3" fill="#b8503e"/><circle cx="630.6" cy="899.0" r="1.3" fill="#b8503e"/>
<line x1="581.2" y1="834.2" x2="630.6" y2="900.5" stroke="#c46a58" stroke-width="2.3" stroke-opacity="0.85" stroke-linecap="round"/>
<circle cx="581.2" cy="834.2" r="1.3" fill="#b8503e"/><circle cx="630.6" cy="900.5" r="1.3" fill="#b8503e"/>
<line x1="581.2" y1="881.8" x2="630.6" y2="829.6" stroke="#b4402f" stroke-width="3.1" stroke-linecap="round"/>
<circle cx="581.2" cy="881.8" r="1.9" fill="#a83a2c"/><circle cx="630.6" cy="829.6" r="1.9" fill="#a83a2c"/>
<line x1="568" y1="822" x2="581" y2="833" stroke="#c0604e" stroke-width="0.6"/>
<line x1="597" y1="817" x2="582" y2="828" stroke="#c0604e" stroke-width="0.6"/>
<line x1="630.6" y1="830" x2="636" y2="829" stroke="#c0604e" stroke-width="0.6"/>
<line x1="630" y1="901" x2="637" y2="905" stroke="#c0604e" stroke-width="0.6"/>
<text x="573.00" y="818.20" font-size="8.1" text-anchor="middle" fill="#a0302a">VTA.dGrDG</text>
<text x="621.70" y="818.20" font-size="8.1" text-anchor="middle" fill="#a0302a">BLA.dPoDG</text>
<text x="635.60" y="832.00" font-size="8.1" fill="#a0302a">BNST.AcbCo</text>
<text x="572.40" y="892.40" font-size="8.1" text-anchor="middle" fill="#a0302a">BNST.PrL</text>
<text x="645.50" y="914.20" font-size="8.1" text-anchor="middle" fill="#a0302a">VTA.vGrDG</text>
</svg></body></html>
